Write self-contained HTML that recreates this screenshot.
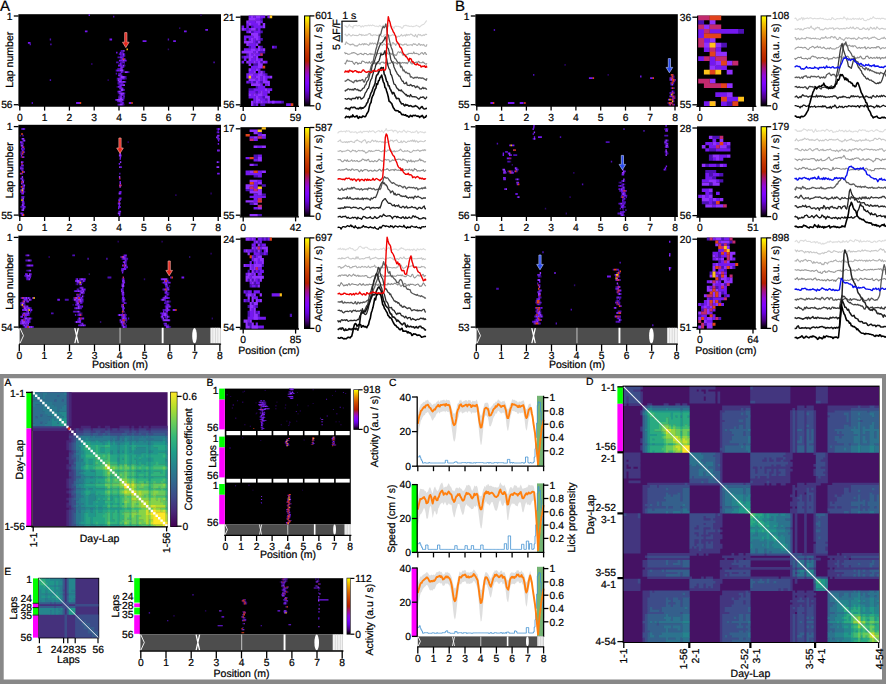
<!DOCTYPE html>
<html><head><meta charset="utf-8"><title>figure</title>
<style>html,body{margin:0;padding:0;background:#fff}svg{display:block}text{text-rendering:geometricPrecision;font-family:"Liberation Sans",sans-serif;font-size:10.5px;fill:#000;stroke:#000;stroke-width:0.22px}</style></head>
<body><svg width="886" height="684" viewBox="0 0 886 684">
<defs><linearGradient id="gp" x1="0" y1="1" x2="0" y2="0"><stop offset="0.000" stop-color="#000000"/><stop offset="0.083" stop-color="#49007f"/><stop offset="0.167" stop-color="#6801dc"/><stop offset="0.250" stop-color="#7f03ff"/><stop offset="0.333" stop-color="#9309dc"/><stop offset="0.417" stop-color="#a4127f"/><stop offset="0.500" stop-color="#b41f00"/><stop offset="0.583" stop-color="#c23200"/><stop offset="0.667" stop-color="#d04b00"/><stop offset="0.750" stop-color="#dc6b00"/><stop offset="0.833" stop-color="#e89300"/><stop offset="0.917" stop-color="#f4c400"/><stop offset="1.000" stop-color="#ffff00"/></linearGradient><linearGradient id="vi" x1="0" y1="1" x2="0" y2="0"><stop offset="0.000" stop-color="#440154"/><stop offset="0.111" stop-color="#482878"/><stop offset="0.222" stop-color="#3e4a89"/><stop offset="0.333" stop-color="#31688e"/><stop offset="0.444" stop-color="#26828e"/><stop offset="0.556" stop-color="#1f9e89"/><stop offset="0.667" stop-color="#35b779"/><stop offset="0.778" stop-color="#6dcd59"/><stop offset="0.889" stop-color="#b4de2c"/><stop offset="1.000" stop-color="#fde725"/></linearGradient><filter id="bl" x="-2%" y="-2%" width="104%" height="104%"><feGaussianBlur stdDeviation="0.45"/></filter></defs>
<rect x="18.4" y="14.2" width="202.6" height="91.8" fill="#000"/>
<path d="M13.8 16L18.6 16" stroke="#000" stroke-width="1.3"/>
<text x="12.6" y="19.5" text-anchor="end" style="font-size:10.3px">1</text>
<path d="M13.8 104.7L18.6 104.7" stroke="#000" stroke-width="1.3"/>
<text x="12.6" y="108.2" text-anchor="end" style="font-size:10.3px">56</text>
<text text-anchor="middle" transform="translate(12.8 59.8) rotate(-90)">Lap number</text>
<path d="M19 106L221.1 106" stroke="#000" stroke-width="1.3"/>
<path d="M19.8 106L19.8 110.6" stroke="#000" stroke-width="1.3"/>
<text x="19.8" y="121" text-anchor="middle" style="font-size:10.3px">0</text>
<path d="M44.6 106L44.6 110.6" stroke="#000" stroke-width="1.3"/>
<text x="44.6" y="121" text-anchor="middle" style="font-size:10.3px">1</text>
<path d="M69.4 106L69.4 110.6" stroke="#000" stroke-width="1.3"/>
<text x="69.4" y="121" text-anchor="middle" style="font-size:10.3px">2</text>
<path d="M94.2 106L94.2 110.6" stroke="#000" stroke-width="1.3"/>
<text x="94.2" y="121" text-anchor="middle" style="font-size:10.3px">3</text>
<path d="M119 106L119 110.6" stroke="#000" stroke-width="1.3"/>
<text x="119" y="121" text-anchor="middle" style="font-size:10.3px">4</text>
<path d="M143.8 106L143.8 110.6" stroke="#000" stroke-width="1.3"/>
<text x="143.8" y="121" text-anchor="middle" style="font-size:10.3px">5</text>
<path d="M168.6 106L168.6 110.6" stroke="#000" stroke-width="1.3"/>
<text x="168.6" y="121" text-anchor="middle" style="font-size:10.3px">6</text>
<path d="M193.4 106L193.4 110.6" stroke="#000" stroke-width="1.3"/>
<text x="193.4" y="121" text-anchor="middle" style="font-size:10.3px">7</text>
<path d="M218.2 106L218.2 110.6" stroke="#000" stroke-width="1.3"/>
<text x="218.2" y="121" text-anchor="middle" style="font-size:10.3px">8</text>
<rect x="240.4" y="15.6" width="58" height="90.8" fill="#000"/>
<path d="M235.8 17.2L240.6 17.2" stroke="#000" stroke-width="1.3"/>
<text x="234.6" y="20.7" text-anchor="end" style="font-size:10.3px">21</text>
<path d="M235.8 104.8L240.6 104.8" stroke="#000" stroke-width="1.3"/>
<text x="234.6" y="108.3" text-anchor="end" style="font-size:10.3px">56</text>
<path d="M239.8 106.4L299 106.4" stroke="#000" stroke-width="1.3"/>
<path d="M243.2 106.4L243.2 111" stroke="#000" stroke-width="1.3"/>
<text x="243.2" y="120.6" text-anchor="middle" style="font-size:10.3px">0</text>
<path d="M295.6 106.4L295.6 111" stroke="#000" stroke-width="1.3"/>
<text x="295.6" y="120.6" text-anchor="middle" style="font-size:10.3px">59</text>
<rect x="304" y="15.4" width="6.4" height="91" fill="#000"/>
<rect x="305.1" y="16.4" width="4.2" height="89" fill="url(#gp)"/>
<path d="M309.8 15.9L314.4 15.9" stroke="#000" stroke-width="1.3"/>
<path d="M309.8 105.8L314.4 105.8" stroke="#000" stroke-width="1.3"/>
<text x="315.2" y="19.4" style="font-size:10.3px">601</text>
<text x="315.2" y="109.6" style="font-size:10.3px">0</text>
<text text-anchor="middle" style="font-size:10.6px" transform="translate(321.8 61.2) rotate(-90)">Activity (a.u. / s)</text>
<rect x="18.4" y="124.8" width="202.6" height="91.6" fill="#000"/>
<path d="M13.8 126.6L18.6 126.6" stroke="#000" stroke-width="1.3"/>
<text x="12.6" y="130.1" text-anchor="end" style="font-size:10.3px">1</text>
<path d="M13.8 215.1L18.6 215.1" stroke="#000" stroke-width="1.3"/>
<text x="12.6" y="218.6" text-anchor="end" style="font-size:10.3px">55</text>
<text text-anchor="middle" transform="translate(12.8 170.3) rotate(-90)">Lap number</text>
<path d="M19 216.4L221.1 216.4" stroke="#000" stroke-width="1.3"/>
<path d="M19.8 216.4L19.8 221" stroke="#000" stroke-width="1.3"/>
<text x="19.8" y="231.4" text-anchor="middle" style="font-size:10.3px">0</text>
<path d="M44.6 216.4L44.6 221" stroke="#000" stroke-width="1.3"/>
<text x="44.6" y="231.4" text-anchor="middle" style="font-size:10.3px">1</text>
<path d="M69.4 216.4L69.4 221" stroke="#000" stroke-width="1.3"/>
<text x="69.4" y="231.4" text-anchor="middle" style="font-size:10.3px">2</text>
<path d="M94.2 216.4L94.2 221" stroke="#000" stroke-width="1.3"/>
<text x="94.2" y="231.4" text-anchor="middle" style="font-size:10.3px">3</text>
<path d="M119 216.4L119 221" stroke="#000" stroke-width="1.3"/>
<text x="119" y="231.4" text-anchor="middle" style="font-size:10.3px">4</text>
<path d="M143.8 216.4L143.8 221" stroke="#000" stroke-width="1.3"/>
<text x="143.8" y="231.4" text-anchor="middle" style="font-size:10.3px">5</text>
<path d="M168.6 216.4L168.6 221" stroke="#000" stroke-width="1.3"/>
<text x="168.6" y="231.4" text-anchor="middle" style="font-size:10.3px">6</text>
<path d="M193.4 216.4L193.4 221" stroke="#000" stroke-width="1.3"/>
<text x="193.4" y="231.4" text-anchor="middle" style="font-size:10.3px">7</text>
<path d="M218.2 216.4L218.2 221" stroke="#000" stroke-width="1.3"/>
<text x="218.2" y="231.4" text-anchor="middle" style="font-size:10.3px">8</text>
<rect x="240.4" y="127.2" width="58" height="89.6" fill="#000"/>
<path d="M235.8 128.8L240.6 128.8" stroke="#000" stroke-width="1.3"/>
<text x="234.6" y="132.3" text-anchor="end" style="font-size:10.3px">17</text>
<path d="M235.8 215.2L240.6 215.2" stroke="#000" stroke-width="1.3"/>
<text x="234.6" y="218.7" text-anchor="end" style="font-size:10.3px">55</text>
<path d="M239.8 216.8L299 216.8" stroke="#000" stroke-width="1.3"/>
<path d="M243.2 216.8L243.2 221.4" stroke="#000" stroke-width="1.3"/>
<text x="243.2" y="231" text-anchor="middle" style="font-size:10.3px">0</text>
<path d="M295.6 216.8L295.6 221.4" stroke="#000" stroke-width="1.3"/>
<text x="295.6" y="231" text-anchor="middle" style="font-size:10.3px">42</text>
<rect x="304" y="127" width="6.4" height="89.8" fill="#000"/>
<rect x="305.1" y="128" width="4.2" height="87.8" fill="url(#gp)"/>
<path d="M309.8 127.5L314.4 127.5" stroke="#000" stroke-width="1.3"/>
<path d="M309.8 216.2L314.4 216.2" stroke="#000" stroke-width="1.3"/>
<text x="315.2" y="131" style="font-size:10.3px">587</text>
<text x="315.2" y="220" style="font-size:10.3px">0</text>
<text text-anchor="middle" style="font-size:10.6px" transform="translate(321.8 172.2) rotate(-90)">Activity (a.u. / s)</text>
<rect x="18.4" y="235.6" width="202.6" height="92.8" fill="#000"/>
<path d="M13.8 237.4L18.6 237.4" stroke="#000" stroke-width="1.3"/>
<text x="12.6" y="240.9" text-anchor="end" style="font-size:10.3px">1</text>
<path d="M13.8 327.1L18.6 327.1" stroke="#000" stroke-width="1.3"/>
<text x="12.6" y="330.6" text-anchor="end" style="font-size:10.3px">54</text>
<text text-anchor="middle" transform="translate(12.8 281.7) rotate(-90)">Lap number</text>
<rect x="19.6" y="327.8" width="200.8" height="15.8" fill="#4d4d4d"/>
<path d="M20 328.1l3.5 7.6l-3.5 7.6" stroke="#fff" stroke-width="0.9" fill="none"/>
<path d="M74.8 328.1l3.5 15.2M78.3 328.1l-3.5 15.2" stroke="#fff" stroke-width="1.3" fill="none"/>
<rect x="119.5" y="327.8" width="1.1" height="15.8" fill="#b8b8b8"/>
<rect x="161.7" y="327.8" width="1.9" height="15.8" fill="#fff"/>
<ellipse cx="194.5" cy="335.7" rx="2.3" ry="7.7" fill="#fff"/>
<rect x="210.4" y="327.8" width="10" height="15.8" fill="#f2f2f2"/>
<rect x="212.5" y="327.8" width="0.7" height="15.8" fill="#cfcfcf"/>
<rect x="215" y="327.8" width="0.7" height="15.8" fill="#cfcfcf"/>
<rect x="217.5" y="327.8" width="0.7" height="15.8" fill="#cfcfcf"/>
<path d="M19 344.2L221.1 344.2" stroke="#000" stroke-width="1.3"/>
<path d="M19.3 344.2L19.3 351.2" stroke="#000" stroke-width="1.3"/>
<text x="19.3" y="359.2" text-anchor="middle" style="font-size:10.3px">0</text>
<path d="M44.4 344.2L44.4 351.2" stroke="#000" stroke-width="1.3"/>
<text x="44.4" y="359.2" text-anchor="middle" style="font-size:10.3px">1</text>
<path d="M69.5 344.2L69.5 351.2" stroke="#000" stroke-width="1.3"/>
<text x="69.5" y="359.2" text-anchor="middle" style="font-size:10.3px">2</text>
<path d="M94.5 344.2L94.5 351.2" stroke="#000" stroke-width="1.3"/>
<text x="94.5" y="359.2" text-anchor="middle" style="font-size:10.3px">3</text>
<path d="M119.6 344.2L119.6 351.2" stroke="#000" stroke-width="1.3"/>
<text x="119.6" y="359.2" text-anchor="middle" style="font-size:10.3px">4</text>
<path d="M144.7 344.2L144.7 351.2" stroke="#000" stroke-width="1.3"/>
<text x="144.7" y="359.2" text-anchor="middle" style="font-size:10.3px">5</text>
<path d="M169.8 344.2L169.8 351.2" stroke="#000" stroke-width="1.3"/>
<text x="169.8" y="359.2" text-anchor="middle" style="font-size:10.3px">6</text>
<path d="M194.8 344.2L194.8 351.2" stroke="#000" stroke-width="1.3"/>
<text x="194.8" y="359.2" text-anchor="middle" style="font-size:10.3px">7</text>
<path d="M219.9 344.2L219.9 351.2" stroke="#000" stroke-width="1.3"/>
<text x="219.9" y="359.2" text-anchor="middle" style="font-size:10.3px">8</text>
<text x="120" y="367.8" text-anchor="middle">Position (m)</text>
<rect x="240.4" y="237.6" width="58" height="91.4" fill="#000"/>
<path d="M235.8 239.2L240.6 239.2" stroke="#000" stroke-width="1.3"/>
<text x="234.6" y="242.7" text-anchor="end" style="font-size:10.3px">24</text>
<path d="M235.8 327.4L240.6 327.4" stroke="#000" stroke-width="1.3"/>
<text x="234.6" y="330.9" text-anchor="end" style="font-size:10.3px">54</text>
<path d="M239.8 329L299 329" stroke="#000" stroke-width="1.3"/>
<path d="M243.2 329L243.2 333.6" stroke="#000" stroke-width="1.3"/>
<text x="243.2" y="343.2" text-anchor="middle" style="font-size:10.3px">0</text>
<path d="M295.6 329L295.6 333.6" stroke="#000" stroke-width="1.3"/>
<text x="295.6" y="343.2" text-anchor="middle" style="font-size:10.3px">85</text>
<text x="268.9" y="354" text-anchor="middle">Position (cm)</text>
<rect x="304" y="237.4" width="6.4" height="91.6" fill="#000"/>
<rect x="305.1" y="238.4" width="4.2" height="89.6" fill="url(#gp)"/>
<path d="M309.8 237.9L314.4 237.9" stroke="#000" stroke-width="1.3"/>
<path d="M309.8 328.4L314.4 328.4" stroke="#000" stroke-width="1.3"/>
<text x="315.2" y="241.4" style="font-size:10.3px">697</text>
<text x="315.2" y="332.2" style="font-size:10.3px">0</text>
<text text-anchor="middle" style="font-size:10.6px" transform="translate(321.8 283.5) rotate(-90)">Activity (a.u. / s)</text>
<rect x="475.4" y="14.2" width="202.4" height="91.8" fill="#000"/>
<path d="M470.8 16L475.6 16" stroke="#000" stroke-width="1.3"/>
<text x="469.6" y="19.5" text-anchor="end" style="font-size:10.3px">1</text>
<path d="M470.8 104.7L475.6 104.7" stroke="#000" stroke-width="1.3"/>
<text x="469.6" y="108.2" text-anchor="end" style="font-size:10.3px">55</text>
<text text-anchor="middle" transform="translate(469.8 59.8) rotate(-90)">Lap number</text>
<path d="M476 106L677.9 106" stroke="#000" stroke-width="1.3"/>
<path d="M476.8 106L476.8 110.6" stroke="#000" stroke-width="1.3"/>
<text x="476.8" y="121" text-anchor="middle" style="font-size:10.3px">0</text>
<path d="M501.6 106L501.6 110.6" stroke="#000" stroke-width="1.3"/>
<text x="501.6" y="121" text-anchor="middle" style="font-size:10.3px">1</text>
<path d="M526.4 106L526.4 110.6" stroke="#000" stroke-width="1.3"/>
<text x="526.4" y="121" text-anchor="middle" style="font-size:10.3px">2</text>
<path d="M551.1 106L551.1 110.6" stroke="#000" stroke-width="1.3"/>
<text x="551.1" y="121" text-anchor="middle" style="font-size:10.3px">3</text>
<path d="M575.9 106L575.9 110.6" stroke="#000" stroke-width="1.3"/>
<text x="575.9" y="121" text-anchor="middle" style="font-size:10.3px">4</text>
<path d="M600.7 106L600.7 110.6" stroke="#000" stroke-width="1.3"/>
<text x="600.7" y="121" text-anchor="middle" style="font-size:10.3px">5</text>
<path d="M625.5 106L625.5 110.6" stroke="#000" stroke-width="1.3"/>
<text x="625.5" y="121" text-anchor="middle" style="font-size:10.3px">6</text>
<path d="M650.2 106L650.2 110.6" stroke="#000" stroke-width="1.3"/>
<text x="650.2" y="121" text-anchor="middle" style="font-size:10.3px">7</text>
<path d="M675 106L675 110.6" stroke="#000" stroke-width="1.3"/>
<text x="675" y="121" text-anchor="middle" style="font-size:10.3px">8</text>
<rect x="697" y="15.6" width="58.8" height="90.8" fill="#000"/>
<path d="M692.4 17.2L697.2 17.2" stroke="#000" stroke-width="1.3"/>
<text x="691.2" y="20.7" text-anchor="end" style="font-size:10.3px">36</text>
<path d="M692.4 104.8L697.2 104.8" stroke="#000" stroke-width="1.3"/>
<text x="691.2" y="108.3" text-anchor="end" style="font-size:10.3px">55</text>
<path d="M696.4 106.4L756.4 106.4" stroke="#000" stroke-width="1.3"/>
<path d="M699.8 106.4L699.8 111" stroke="#000" stroke-width="1.3"/>
<text x="699.8" y="120.6" text-anchor="middle" style="font-size:10.3px">0</text>
<path d="M753 106.4L753 111" stroke="#000" stroke-width="1.3"/>
<text x="753" y="120.6" text-anchor="middle" style="font-size:10.3px">38</text>
<rect x="760.6" y="15.4" width="6.6" height="91" fill="#000"/>
<rect x="761.7" y="16.4" width="4.4" height="89" fill="url(#gp)"/>
<path d="M766.6 15.9L771.2 15.9" stroke="#000" stroke-width="1.3"/>
<path d="M766.6 105.8L771.2 105.8" stroke="#000" stroke-width="1.3"/>
<text x="772" y="19.4" style="font-size:10.3px">108</text>
<text x="772" y="109.6" style="font-size:10.3px">0</text>
<text text-anchor="middle" style="font-size:10.6px" transform="translate(778.6 61.2) rotate(-90)">Activity (a.u. / s)</text>
<rect x="475.4" y="125" width="202.4" height="91.4" fill="#000"/>
<path d="M470.8 126.8L475.6 126.8" stroke="#000" stroke-width="1.3"/>
<text x="469.6" y="130.3" text-anchor="end" style="font-size:10.3px">1</text>
<path d="M470.8 215.1L475.6 215.1" stroke="#000" stroke-width="1.3"/>
<text x="469.6" y="218.6" text-anchor="end" style="font-size:10.3px">56</text>
<text text-anchor="middle" transform="translate(469.8 170.4) rotate(-90)">Lap number</text>
<path d="M476 216.4L677.9 216.4" stroke="#000" stroke-width="1.3"/>
<path d="M476.8 216.4L476.8 221" stroke="#000" stroke-width="1.3"/>
<text x="476.8" y="231.4" text-anchor="middle" style="font-size:10.3px">0</text>
<path d="M501.6 216.4L501.6 221" stroke="#000" stroke-width="1.3"/>
<text x="501.6" y="231.4" text-anchor="middle" style="font-size:10.3px">1</text>
<path d="M526.4 216.4L526.4 221" stroke="#000" stroke-width="1.3"/>
<text x="526.4" y="231.4" text-anchor="middle" style="font-size:10.3px">2</text>
<path d="M551.1 216.4L551.1 221" stroke="#000" stroke-width="1.3"/>
<text x="551.1" y="231.4" text-anchor="middle" style="font-size:10.3px">3</text>
<path d="M575.9 216.4L575.9 221" stroke="#000" stroke-width="1.3"/>
<text x="575.9" y="231.4" text-anchor="middle" style="font-size:10.3px">4</text>
<path d="M600.7 216.4L600.7 221" stroke="#000" stroke-width="1.3"/>
<text x="600.7" y="231.4" text-anchor="middle" style="font-size:10.3px">5</text>
<path d="M625.5 216.4L625.5 221" stroke="#000" stroke-width="1.3"/>
<text x="625.5" y="231.4" text-anchor="middle" style="font-size:10.3px">6</text>
<path d="M650.2 216.4L650.2 221" stroke="#000" stroke-width="1.3"/>
<text x="650.2" y="231.4" text-anchor="middle" style="font-size:10.3px">7</text>
<path d="M675 216.4L675 221" stroke="#000" stroke-width="1.3"/>
<text x="675" y="231.4" text-anchor="middle" style="font-size:10.3px">8</text>
<rect x="697" y="126.4" width="58.8" height="90.8" fill="#000"/>
<path d="M692.4 128L697.2 128" stroke="#000" stroke-width="1.3"/>
<text x="691.2" y="131.5" text-anchor="end" style="font-size:10.3px">28</text>
<path d="M692.4 215.6L697.2 215.6" stroke="#000" stroke-width="1.3"/>
<text x="691.2" y="219.1" text-anchor="end" style="font-size:10.3px">56</text>
<path d="M696.4 217.2L756.4 217.2" stroke="#000" stroke-width="1.3"/>
<path d="M699.8 217.2L699.8 221.8" stroke="#000" stroke-width="1.3"/>
<text x="699.8" y="231.4" text-anchor="middle" style="font-size:10.3px">0</text>
<path d="M753 217.2L753 221.8" stroke="#000" stroke-width="1.3"/>
<text x="753" y="231.4" text-anchor="middle" style="font-size:10.3px">51</text>
<rect x="760.6" y="126.2" width="6.6" height="91" fill="#000"/>
<rect x="761.7" y="127.2" width="4.4" height="89" fill="url(#gp)"/>
<path d="M766.6 126.7L771.2 126.7" stroke="#000" stroke-width="1.3"/>
<path d="M766.6 216.6L771.2 216.6" stroke="#000" stroke-width="1.3"/>
<text x="772" y="130.2" style="font-size:10.3px">179</text>
<text x="772" y="220.4" style="font-size:10.3px">0</text>
<text text-anchor="middle" style="font-size:10.6px" transform="translate(778.6 172) rotate(-90)">Activity (a.u. / s)</text>
<rect x="475.4" y="235.6" width="202.4" height="92.8" fill="#000"/>
<path d="M470.8 237.4L475.6 237.4" stroke="#000" stroke-width="1.3"/>
<text x="469.6" y="240.9" text-anchor="end" style="font-size:10.3px">1</text>
<path d="M470.8 327.1L475.6 327.1" stroke="#000" stroke-width="1.3"/>
<text x="469.6" y="330.6" text-anchor="end" style="font-size:10.3px">53</text>
<text text-anchor="middle" transform="translate(469.8 281.7) rotate(-90)">Lap number</text>
<rect x="476.6" y="327.8" width="200.6" height="15.8" fill="#4d4d4d"/>
<path d="M477 328.1l3.5 7.6l-3.5 7.6" stroke="#fff" stroke-width="0.9" fill="none"/>
<path d="M531.8 328.1l3.5 15.2M535.3 328.1l-3.5 15.2" stroke="#fff" stroke-width="1.3" fill="none"/>
<rect x="576.4" y="327.8" width="1.1" height="15.8" fill="#b8b8b8"/>
<rect x="618.5" y="327.8" width="1.9" height="15.8" fill="#fff"/>
<ellipse cx="651.4" cy="335.7" rx="2.3" ry="7.7" fill="#fff"/>
<rect x="667.2" y="327.8" width="10" height="15.8" fill="#f2f2f2"/>
<rect x="669.3" y="327.8" width="0.7" height="15.8" fill="#cfcfcf"/>
<rect x="671.8" y="327.8" width="0.7" height="15.8" fill="#cfcfcf"/>
<rect x="674.3" y="327.8" width="0.7" height="15.8" fill="#cfcfcf"/>
<path d="M476 344.2L677.9 344.2" stroke="#000" stroke-width="1.3"/>
<path d="M476.3 344.2L476.3 351.2" stroke="#000" stroke-width="1.3"/>
<text x="476.3" y="359.2" text-anchor="middle" style="font-size:10.3px">0</text>
<path d="M501.4 344.2L501.4 351.2" stroke="#000" stroke-width="1.3"/>
<text x="501.4" y="359.2" text-anchor="middle" style="font-size:10.3px">1</text>
<path d="M526.4 344.2L526.4 351.2" stroke="#000" stroke-width="1.3"/>
<text x="526.4" y="359.2" text-anchor="middle" style="font-size:10.3px">2</text>
<path d="M551.5 344.2L551.5 351.2" stroke="#000" stroke-width="1.3"/>
<text x="551.5" y="359.2" text-anchor="middle" style="font-size:10.3px">3</text>
<path d="M576.5 344.2L576.5 351.2" stroke="#000" stroke-width="1.3"/>
<text x="576.5" y="359.2" text-anchor="middle" style="font-size:10.3px">4</text>
<path d="M601.6 344.2L601.6 351.2" stroke="#000" stroke-width="1.3"/>
<text x="601.6" y="359.2" text-anchor="middle" style="font-size:10.3px">5</text>
<path d="M626.6 344.2L626.6 351.2" stroke="#000" stroke-width="1.3"/>
<text x="626.6" y="359.2" text-anchor="middle" style="font-size:10.3px">6</text>
<path d="M651.7 344.2L651.7 351.2" stroke="#000" stroke-width="1.3"/>
<text x="651.7" y="359.2" text-anchor="middle" style="font-size:10.3px">7</text>
<path d="M676.7 344.2L676.7 351.2" stroke="#000" stroke-width="1.3"/>
<text x="676.7" y="359.2" text-anchor="middle" style="font-size:10.3px">8</text>
<text x="576.9" y="367.8" text-anchor="middle">Position (m)</text>
<rect x="697" y="237.6" width="58.8" height="91.4" fill="#000"/>
<path d="M692.4 239.2L697.2 239.2" stroke="#000" stroke-width="1.3"/>
<text x="691.2" y="242.7" text-anchor="end" style="font-size:10.3px">20</text>
<path d="M692.4 327.4L697.2 327.4" stroke="#000" stroke-width="1.3"/>
<text x="691.2" y="330.9" text-anchor="end" style="font-size:10.3px">51</text>
<path d="M696.4 329L756.4 329" stroke="#000" stroke-width="1.3"/>
<path d="M699.8 329L699.8 333.6" stroke="#000" stroke-width="1.3"/>
<text x="699.8" y="343.2" text-anchor="middle" style="font-size:10.3px">0</text>
<path d="M753 329L753 333.6" stroke="#000" stroke-width="1.3"/>
<text x="753" y="343.2" text-anchor="middle" style="font-size:10.3px">64</text>
<text x="725.9" y="354" text-anchor="middle">Position (cm)</text>
<rect x="760.6" y="237.4" width="6.6" height="91.6" fill="#000"/>
<rect x="761.7" y="238.4" width="4.4" height="89.6" fill="url(#gp)"/>
<path d="M766.6 237.9L771.2 237.9" stroke="#000" stroke-width="1.3"/>
<path d="M766.6 328.4L771.2 328.4" stroke="#000" stroke-width="1.3"/>
<text x="772" y="241.4" style="font-size:10.3px">898</text>
<text x="772" y="332.2" style="font-size:10.3px">0</text>
<text text-anchor="middle" style="font-size:10.6px" transform="translate(778.6 283.5) rotate(-90)">Activity (a.u. / s)</text>
<text x="0.1" y="10.5" style="font-size:15px">A</text>
<text x="455" y="10.5" style="font-size:15px">B</text>
<path d="M341.4 21.2L357.4 21.2" stroke="#000" stroke-width="1.2"/>
<path d="M342 21.2L342 42.6" stroke="#000" stroke-width="1.2"/>
<text x="342.2" y="18.6">1 s</text>
<text text-anchor="middle" transform="translate(339.6 34.5) rotate(-90)">5 ΔF/F</text>
<g filter="url(#bl)">
<path d="M118.5 63.1h1.4v1.8h-1.4zM123.6 63.1h1.4v1.8h-1.4zM124.3 64.7h1.4v1.8h-1.4zM123.2 69.6h1.4v1.8h-1.4zM128.4 71.2h1.4v1.8h-1.4zM120.7 72.8h1.4v1.8h-1.4zM121.7 74.5h1.4v1.8h-1.4zM119.2 76.1h1.4v1.8h-1.4zM125.5 76.1h1.4v1.8h-1.4zM125.6 77.7h1.4v1.8h-1.4zM116.7 79.3h1.4v1.8h-1.4zM117.3 81h1.4v1.8h-1.4zM122.5 82.6h1.4v1.8h-1.4zM116.5 85.9h1.4v1.8h-1.4zM122.8 87.5h1.4v1.8h-1.4zM119.6 89.1h1.4v1.8h-1.4zM121.2 90.7h1.4v1.8h-1.4zM117.6 92.4h1.4v1.8h-1.4zM122.6 98.9h1.4v1.8h-1.4zM122.1 100.5h1.4v1.8h-1.4zM117.1 103.8h1.4v1.8h-1.4zM123.4 103.8h1.4v1.8h-1.4zM117.9 98.9h1.4v1.8h-1.4zM179 27.2h1.4v1.8h-1.4zM91.1 63.1h1.4v1.8h-1.4zM107.5 79.3h1.4v1.8h-1.4zM167.7 48.4h1.4v1.8h-1.4zM200.3 14.2h1.4v1.8h-1.4z" fill="#2a0766"/>
<path d="M120.7 50h1.4v1.8h-1.4zM121.9 50h1.4v1.8h-1.4zM121.1 51.7h1.4v1.8h-1.4zM122.3 51.7h1.4v1.8h-1.4zM118.8 53.3h1.4v1.8h-1.4zM121.3 53.3h1.4v1.8h-1.4zM123.8 53.3h1.4v1.8h-1.4zM120.1 54.9h1.4v1.8h-1.4zM121.4 54.9h1.4v1.8h-1.4zM123.9 54.9h1.4v1.8h-1.4zM117.5 56.5h1.4v1.8h-1.4zM118.8 56.5h1.4v1.8h-1.4zM122.5 56.5h1.4v1.8h-1.4zM120.4 58.2h1.4v1.8h-1.4zM116.1 61.4h1.4v1.8h-1.4zM117.3 61.4h1.4v1.8h-1.4zM119.9 61.4h1.4v1.8h-1.4zM121.1 61.4h1.4v1.8h-1.4zM123.6 61.4h1.4v1.8h-1.4zM121.1 63.1h1.4v1.8h-1.4zM121.8 64.7h1.4v1.8h-1.4zM122.9 66.3h1.4v1.8h-1.4zM117.4 67.9h1.4v1.8h-1.4zM118.7 67.9h1.4v1.8h-1.4zM115.7 69.6h1.4v1.8h-1.4zM122.1 71.2h1.4v1.8h-1.4zM115.7 72.8h1.4v1.8h-1.4zM118.2 72.8h1.4v1.8h-1.4zM116.8 77.7h1.4v1.8h-1.4zM124.3 77.7h1.4v1.8h-1.4zM124.8 81h1.4v1.8h-1.4zM117.5 82.6h1.4v1.8h-1.4zM118.8 82.6h1.4v1.8h-1.4zM120 82.6h1.4v1.8h-1.4zM118.6 84.2h1.4v1.8h-1.4zM119 87.5h1.4v1.8h-1.4zM123.4 89.1h1.4v1.8h-1.4zM123.9 92.4h1.4v1.8h-1.4zM119.5 94h1.4v1.8h-1.4zM123.3 94h1.4v1.8h-1.4zM118.3 95.6h1.4v1.8h-1.4zM118.1 97.3h1.4v1.8h-1.4zM121.9 97.3h1.4v1.8h-1.4zM123.2 97.3h1.4v1.8h-1.4zM115.1 98.9h1.4v1.8h-1.4zM117.1 100.5h1.4v1.8h-1.4zM120.2 102.1h1.4v1.8h-1.4zM122.7 102.1h1.4v1.8h-1.4zM119.1 98.9h1.4v1.8h-1.4zM122.9 98.9h1.4v1.8h-1.4zM119.6 100.5h1.4v1.8h-1.4zM29.6 43.5h1.4v1.8h-1.4zM49.7 38.6h1.4v1.8h-1.4zM50.2 43.5h1.4v1.8h-1.4zM113 15.8h1.4v1.8h-1.4zM167.7 38.6h1.4v1.8h-1.4zM213.4 61.4h1.4v1.8h-1.4zM49.7 79.3h1.4v1.8h-1.4zM31.6 102.1h1.4v1.8h-1.4z" fill="#4c10b4"/>
<path d="M116.1 51.7h1.4v1.8h-1.4zM119.8 51.7h1.4v1.8h-1.4zM120.1 53.3h1.4v1.8h-1.4zM122.6 54.9h1.4v1.8h-1.4zM120 56.5h1.4v1.8h-1.4zM121.3 56.5h1.4v1.8h-1.4zM121.6 58.2h1.4v1.8h-1.4zM124.1 58.2h1.4v1.8h-1.4zM118.9 59.8h1.4v1.8h-1.4zM120.2 59.8h1.4v1.8h-1.4zM121.4 59.8h1.4v1.8h-1.4zM124 59.8h1.4v1.8h-1.4zM125.2 59.8h1.4v1.8h-1.4zM122.4 61.4h1.4v1.8h-1.4zM119.8 63.1h1.4v1.8h-1.4zM118 64.7h1.4v1.8h-1.4zM119.2 64.7h1.4v1.8h-1.4zM120.5 64.7h1.4v1.8h-1.4zM121.7 66.3h1.4v1.8h-1.4zM119.9 67.9h1.4v1.8h-1.4zM117 69.6h1.4v1.8h-1.4zM118.2 69.6h1.4v1.8h-1.4zM120.8 71.2h1.4v1.8h-1.4zM127.1 71.2h1.4v1.8h-1.4zM119.5 72.8h1.4v1.8h-1.4zM118 74.5h1.4v1.8h-1.4zM120.5 74.5h1.4v1.8h-1.4zM124.2 76.1h1.4v1.8h-1.4zM118 77.7h1.4v1.8h-1.4zM120.5 77.7h1.4v1.8h-1.4zM121.8 77.7h1.4v1.8h-1.4zM123.1 77.7h1.4v1.8h-1.4zM119.2 79.3h1.4v1.8h-1.4zM120.5 79.3h1.4v1.8h-1.4zM121 81h1.4v1.8h-1.4zM121.3 82.6h1.4v1.8h-1.4zM119.9 84.2h1.4v1.8h-1.4zM121.1 84.2h1.4v1.8h-1.4zM117.8 85.9h1.4v1.8h-1.4zM119.1 85.9h1.4v1.8h-1.4zM120.3 85.9h1.4v1.8h-1.4zM121.6 87.5h1.4v1.8h-1.4zM117.5 90.7h1.4v1.8h-1.4zM120 90.7h1.4v1.8h-1.4zM118.8 92.4h1.4v1.8h-1.4zM122 94h1.4v1.8h-1.4zM119.6 95.6h1.4v1.8h-1.4zM120.8 95.6h1.4v1.8h-1.4zM123.3 95.6h1.4v1.8h-1.4zM118.3 100.5h1.4v1.8h-1.4zM119.6 100.5h1.4v1.8h-1.4zM120.8 100.5h1.4v1.8h-1.4zM121.5 102.1h1.4v1.8h-1.4zM118.3 103.8h1.4v1.8h-1.4zM122.1 103.8h1.4v1.8h-1.4zM118.4 100.5h1.4v1.8h-1.4zM27.9 41.9h1.4v1.8h-1.4zM29.1 41.9h1.4v1.8h-1.4zM84.9 30.5h1.4v1.8h-1.4zM86.1 30.5h1.4v1.8h-1.4zM88.6 14.2h1.4v1.8h-1.4zM109.5 38.6h1.4v1.8h-1.4zM110.7 38.6h1.4v1.8h-1.4zM142.6 40.3h1.4v1.8h-1.4zM143.8 40.3h1.4v1.8h-1.4zM145.1 40.3h1.4v1.8h-1.4zM173.2 40.3h1.4v1.8h-1.4zM174.5 40.3h1.4v1.8h-1.4zM184 30.5h1.4v1.8h-1.4zM185.3 30.5h1.4v1.8h-1.4zM205.3 28.9h1.4v1.8h-1.4zM206.6 28.9h1.4v1.8h-1.4zM76.1 102.1h1.4v1.8h-1.4zM77.3 102.1h1.4v1.8h-1.4zM78.6 102.1h1.4v1.8h-1.4zM128.8 102.1h1.4v1.8h-1.4zM130 102.1h1.4v1.8h-1.4z" fill="#7418f0"/>
<path d="M123.2 50h1.4v1.8h-1.4zM122.6 53.3h1.4v1.8h-1.4zM122.7 59.8h1.4v1.8h-1.4zM123 64.7h1.4v1.8h-1.4zM120.4 66.3h1.4v1.8h-1.4zM121.2 67.9h1.4v1.8h-1.4zM119.5 69.6h1.4v1.8h-1.4zM120.7 69.6h1.4v1.8h-1.4zM122 69.6h1.4v1.8h-1.4zM124.6 71.2h1.4v1.8h-1.4zM125.9 71.2h1.4v1.8h-1.4zM119.2 74.5h1.4v1.8h-1.4zM120.5 76.1h1.4v1.8h-1.4zM121.7 76.1h1.4v1.8h-1.4zM123 76.1h1.4v1.8h-1.4zM119.3 77.7h1.4v1.8h-1.4zM117.9 79.3h1.4v1.8h-1.4zM118.5 81h1.4v1.8h-1.4zM119.8 81h1.4v1.8h-1.4zM122.3 81h1.4v1.8h-1.4zM123.5 81h1.4v1.8h-1.4zM122.4 84.2h1.4v1.8h-1.4zM123.6 84.2h1.4v1.8h-1.4zM120.3 87.5h1.4v1.8h-1.4zM120.9 89.1h1.4v1.8h-1.4zM122.1 89.1h1.4v1.8h-1.4zM118.7 90.7h1.4v1.8h-1.4zM120.1 92.4h1.4v1.8h-1.4zM121.3 92.4h1.4v1.8h-1.4zM122.6 92.4h1.4v1.8h-1.4zM120.7 94h1.4v1.8h-1.4zM119.4 97.3h1.4v1.8h-1.4zM120.6 97.3h1.4v1.8h-1.4zM116.3 98.9h1.4v1.8h-1.4zM117.6 98.9h1.4v1.8h-1.4zM118.8 98.9h1.4v1.8h-1.4zM120.1 98.9h1.4v1.8h-1.4zM121.3 98.9h1.4v1.8h-1.4zM119.6 103.8h1.4v1.8h-1.4zM120.8 103.8h1.4v1.8h-1.4zM120.4 98.9h1.4v1.8h-1.4zM121.6 98.9h1.4v1.8h-1.4z" fill="#9030ff"/>
<path d="M122.9 58.2h1.4v1.8h-1.4zM79.8 102.1h1.4v1.8h-1.4zM131.3 102.1h1.4v1.8h-1.4z" fill="#e2421c"/>
<path d="M126.5 48.4h1.4v1.8h-1.4z" fill="#ffc21a"/>
</g>
<g filter="url(#bl)">
<path d="M19.8 134.7h1.4v1.8h-1.4zM22.5 141.3h1.4v1.8h-1.4zM19.9 143h1.4v1.8h-1.4zM19.9 151.3h1.4v1.8h-1.4zM23 152.9h1.4v1.8h-1.4zM20.5 156.2h1.4v1.8h-1.4zM22.4 166.2h1.4v1.8h-1.4zM22.6 169.5h1.4v1.8h-1.4zM22.5 177.7h1.4v1.8h-1.4zM19.8 186h1.4v1.8h-1.4zM24.1 191h1.4v1.8h-1.4zM23.7 195.9h1.4v1.8h-1.4zM21.3 207.5h1.4v1.8h-1.4zM216.3 128.1h1.4v1.8h-1.4zM127.5 141.3h1.4v1.8h-1.4zM175.2 194.3h1.4v1.8h-1.4zM210.4 192.6h1.4v1.8h-1.4z" fill="#2a0766"/>
<path d="M21.3 128.1h1.4v1.8h-1.4zM23.8 128.1h1.4v1.8h-1.4zM22.3 134.7h1.4v1.8h-1.4zM22.4 143h1.4v1.8h-1.4zM22.4 148h1.4v1.8h-1.4zM23.6 148h1.4v1.8h-1.4zM23 149.6h1.4v1.8h-1.4zM21.2 151.3h1.4v1.8h-1.4zM23.7 151.3h1.4v1.8h-1.4zM20.4 152.9h1.4v1.8h-1.4zM19.9 166.2h1.4v1.8h-1.4zM21.2 166.2h1.4v1.8h-1.4zM22.5 167.8h1.4v1.8h-1.4zM20 177.7h1.4v1.8h-1.4zM23 179.4h1.4v1.8h-1.4zM22.4 182.7h1.4v1.8h-1.4zM23.6 186h1.4v1.8h-1.4zM21.2 195.9h1.4v1.8h-1.4zM23.5 202.6h1.4v1.8h-1.4zM20.4 205.9h1.4v1.8h-1.4zM21.7 205.9h1.4v1.8h-1.4zM23.8 207.5h1.4v1.8h-1.4zM19.8 212.5h1.4v1.8h-1.4zM22.3 212.5h1.4v1.8h-1.4zM119.1 172.8h1.4v1.8h-1.4zM118.9 191h1.4v1.8h-1.4zM118.8 197.6h1.4v1.8h-1.4zM118 199.3h1.4v1.8h-1.4zM218.8 128.1h1.4v1.8h-1.4zM217.5 129.8h1.4v1.8h-1.4zM216.6 131.4h1.4v1.8h-1.4zM217 138h1.4v1.8h-1.4zM218 161.2h1.4v1.8h-1.4z" fill="#4c10b4"/>
<path d="M22.5 128.1h1.4v1.8h-1.4zM22.7 139.7h1.4v1.8h-1.4zM20 141.3h1.4v1.8h-1.4zM21.2 143h1.4v1.8h-1.4zM21.6 146.3h1.4v1.8h-1.4zM21.1 148h1.4v1.8h-1.4zM21.7 149.6h1.4v1.8h-1.4zM20.8 154.6h1.4v1.8h-1.4zM23 156.2h1.4v1.8h-1.4zM22.1 161.2h1.4v1.8h-1.4zM21.1 164.5h1.4v1.8h-1.4zM22.4 164.5h1.4v1.8h-1.4zM20 167.8h1.4v1.8h-1.4zM21.4 169.5h1.4v1.8h-1.4zM23.4 171.1h1.4v1.8h-1.4zM22.4 184.4h1.4v1.8h-1.4zM22.4 186h1.4v1.8h-1.4zM20.3 189.3h1.4v1.8h-1.4zM22.8 189.3h1.4v1.8h-1.4zM20.3 191h1.4v1.8h-1.4zM22.8 191h1.4v1.8h-1.4zM21.3 192.6h1.4v1.8h-1.4zM22.6 192.6h1.4v1.8h-1.4zM22.4 195.9h1.4v1.8h-1.4zM21.4 197.6h1.4v1.8h-1.4zM22.6 199.3h1.4v1.8h-1.4zM21.7 200.9h1.4v1.8h-1.4zM22.9 200.9h1.4v1.8h-1.4zM22.9 204.2h1.4v1.8h-1.4zM22.9 205.9h1.4v1.8h-1.4zM24.2 205.9h1.4v1.8h-1.4zM119.7 156.2h1.4v1.8h-1.4zM119.5 157.9h1.4v1.8h-1.4zM118.7 162.9h1.4v1.8h-1.4zM120.4 166.2h1.4v1.8h-1.4zM119.5 181.1h1.4v1.8h-1.4zM120.1 191h1.4v1.8h-1.4zM119.9 192.6h1.4v1.8h-1.4zM120.1 197.6h1.4v1.8h-1.4zM117.8 202.6h1.4v1.8h-1.4zM118.6 204.2h1.4v1.8h-1.4zM118.2 205.9h1.4v1.8h-1.4zM119.4 205.9h1.4v1.8h-1.4zM118 207.5h1.4v1.8h-1.4zM118.4 210.8h1.4v1.8h-1.4zM119.7 210.8h1.4v1.8h-1.4zM118.9 214.1h1.4v1.8h-1.4zM217.6 128.1h1.4v1.8h-1.4zM217.9 131.4h1.4v1.8h-1.4zM216.9 134.7h1.4v1.8h-1.4zM217.3 136.4h1.4v1.8h-1.4zM218.3 138h1.4v1.8h-1.4zM217.9 139.7h1.4v1.8h-1.4zM217.7 143h1.4v1.8h-1.4zM217 149.6h1.4v1.8h-1.4zM217.1 172.8h1.4v1.8h-1.4zM218.3 172.8h1.4v1.8h-1.4z" fill="#7418f0"/>
<path d="M21.6 138h1.4v1.8h-1.4zM22.9 138h1.4v1.8h-1.4zM23.9 139.7h1.4v1.8h-1.4zM21.2 141.3h1.4v1.8h-1.4zM20.7 144.7h1.4v1.8h-1.4zM21.9 144.7h1.4v1.8h-1.4zM20.9 161.2h1.4v1.8h-1.4zM21.3 167.8h1.4v1.8h-1.4zM21.2 172.8h1.4v1.8h-1.4zM21.7 176.1h1.4v1.8h-1.4zM21.2 177.7h1.4v1.8h-1.4zM21.7 179.4h1.4v1.8h-1.4zM22.6 181.1h1.4v1.8h-1.4zM21.1 182.7h1.4v1.8h-1.4zM23.7 184.4h1.4v1.8h-1.4zM21.8 187.7h1.4v1.8h-1.4zM23.1 187.7h1.4v1.8h-1.4zM22.7 197.6h1.4v1.8h-1.4zM22.3 202.6h1.4v1.8h-1.4zM21.7 204.2h1.4v1.8h-1.4zM22.6 207.5h1.4v1.8h-1.4zM21.5 209.2h1.4v1.8h-1.4zM22.7 209.2h1.4v1.8h-1.4zM21.1 212.5h1.4v1.8h-1.4zM21.6 214.1h1.4v1.8h-1.4zM119.5 152.9h1.4v1.8h-1.4zM118.9 154.6h1.4v1.8h-1.4zM120.1 154.6h1.4v1.8h-1.4zM119.9 161.2h1.4v1.8h-1.4zM119.1 166.2h1.4v1.8h-1.4zM118.9 176.1h1.4v1.8h-1.4zM119.6 182.7h1.4v1.8h-1.4zM119.4 186h1.4v1.8h-1.4zM118.6 192.6h1.4v1.8h-1.4zM119.2 199.3h1.4v1.8h-1.4zM119.1 202.6h1.4v1.8h-1.4zM117.8 212.5h1.4v1.8h-1.4zM119 212.5h1.4v1.8h-1.4zM218.1 134.7h1.4v1.8h-1.4zM216.1 136.4h1.4v1.8h-1.4zM218.3 149.6h1.4v1.8h-1.4zM216.7 161.2h1.4v1.8h-1.4zM216.5 166.2h1.4v1.8h-1.4zM217.8 166.2h1.4v1.8h-1.4z" fill="#9030ff"/>
<path d="M22.9 146.3h1.4v1.8h-1.4zM21.7 152.9h1.4v1.8h-1.4zM21.8 156.2h1.4v1.8h-1.4zM21.3 162.9h1.4v1.8h-1.4zM19.9 172.8h1.4v1.8h-1.4zM21.3 181.1h1.4v1.8h-1.4zM21.6 191h1.4v1.8h-1.4zM119.1 177.7h1.4v1.8h-1.4zM119 184.4h1.4v1.8h-1.4zM120.3 184.4h1.4v1.8h-1.4zM118.5 200.9h1.4v1.8h-1.4z" fill="#c22a6e"/>
<path d="M21.3 133.1h1.4v1.8h-1.4zM22.5 151.3h1.4v1.8h-1.4zM22.1 171.1h1.4v1.8h-1.4zM21.1 186h1.4v1.8h-1.4zM22.9 214.1h1.4v1.8h-1.4z" fill="#e2421c"/>
<path d="M21.6 189.3h1.4v1.8h-1.4zM21.3 199.3h1.4v1.8h-1.4z" fill="#ffc21a"/>
</g>
<g filter="url(#bl)">
<path d="M25 254.4h1.4v1.9h-1.4zM28.8 254.4h1.4v1.9h-1.4zM25.6 264.6h1.4v1.9h-1.4zM25.9 269.7h1.4v1.9h-1.4zM30.5 274.9h1.4v1.9h-1.4zM29.4 297.1h1.4v1.9h-1.4zM22.6 298.8h1.4v1.9h-1.4zM21.4 300.5h1.4v1.9h-1.4zM21.5 305.6h1.4v1.9h-1.4zM27.8 305.6h1.4v1.9h-1.4zM22.7 307.3h1.4v1.9h-1.4zM21.6 312.4h1.4v1.9h-1.4zM29.1 312.4h1.4v1.9h-1.4zM31 317.6h1.4v1.9h-1.4zM29.5 319.3h1.4v1.9h-1.4zM23.6 326.1h1.4v1.9h-1.4zM75.7 281.7h1.4v1.9h-1.4zM82 281.7h1.4v1.9h-1.4zM75.6 283.4h1.4v1.9h-1.4zM78.8 286.8h1.4v1.9h-1.4zM82.6 286.8h1.4v1.9h-1.4zM83.9 290.2h1.4v1.9h-1.4zM82.2 293.7h1.4v1.9h-1.4zM82.9 295.4h1.4v1.9h-1.4zM82.2 297.1h1.4v1.9h-1.4zM72.7 298.8h1.4v1.9h-1.4zM82.7 298.8h1.4v1.9h-1.4zM74.7 300.5h1.4v1.9h-1.4zM75.3 302.2h1.4v1.9h-1.4zM81.5 302.2h1.4v1.9h-1.4zM72.5 303.9h1.4v1.9h-1.4zM76.6 305.6h1.4v1.9h-1.4zM79.2 310.7h1.4v1.9h-1.4zM77.5 312.4h1.4v1.9h-1.4zM81.2 312.4h1.4v1.9h-1.4zM81.1 314.1h1.4v1.9h-1.4zM74.7 321h1.4v1.9h-1.4zM79.5 322.7h1.4v1.9h-1.4zM122.8 254.4h1.4v1.9h-1.4zM125.4 256.1h1.4v1.9h-1.4zM122.7 302.2h1.4v1.9h-1.4zM124.4 312.4h1.4v1.9h-1.4zM119.5 321h1.4v1.9h-1.4zM125.7 321h1.4v1.9h-1.4zM121.6 326.1h1.4v1.9h-1.4zM167.1 278.3h1.4v1.9h-1.4zM167.8 280h1.4v1.9h-1.4zM161.7 281.7h1.4v1.9h-1.4zM167.1 283.4h1.4v1.9h-1.4zM168.8 285.1h1.4v1.9h-1.4zM168.7 288.5h1.4v1.9h-1.4zM164.2 290.2h1.4v1.9h-1.4zM166.7 290.2h1.4v1.9h-1.4zM168.3 291.9h1.4v1.9h-1.4zM165.4 293.7h1.4v1.9h-1.4zM163.7 295.4h1.4v1.9h-1.4zM162.2 297.1h1.4v1.9h-1.4zM169.7 300.5h1.4v1.9h-1.4zM167.8 302.2h1.4v1.9h-1.4zM168 307.3h1.4v1.9h-1.4zM163 322.7h1.4v1.9h-1.4zM169.7 326.1h1.4v1.9h-1.4zM143.8 278.3h1.4v1.9h-1.4zM48.5 256.1h1.4v1.9h-1.4zM189 256.1h1.4v1.9h-1.4zM117.5 240.7h1.4v1.9h-1.4zM161.4 240.7h1.4v1.9h-1.4zM88.6 273.2h1.4v1.9h-1.4zM210.4 252.7h1.4v1.9h-1.4zM211.6 317.6h1.4v1.9h-1.4zM99.9 321h1.4v1.9h-1.4z" fill="#2a0766"/>
<path d="M25.4 259.5h1.4v1.9h-1.4zM26.6 259.5h1.4v1.9h-1.4zM30.4 259.5h1.4v1.9h-1.4zM27.2 269.7h1.4v1.9h-1.4zM24.3 274.9h1.4v1.9h-1.4zM25.7 276.6h1.4v1.9h-1.4zM28.2 276.6h1.4v1.9h-1.4zM26.2 278.3h1.4v1.9h-1.4zM20.6 297.1h1.4v1.9h-1.4zM26.9 297.1h1.4v1.9h-1.4zM20.2 302.2h1.4v1.9h-1.4zM24 302.2h1.4v1.9h-1.4zM20.4 303.9h1.4v1.9h-1.4zM22.9 303.9h1.4v1.9h-1.4zM24.2 303.9h1.4v1.9h-1.4zM30.2 307.3h1.4v1.9h-1.4zM27.1 309h1.4v1.9h-1.4zM29.6 309h1.4v1.9h-1.4zM26.2 310.7h1.4v1.9h-1.4zM30 310.7h1.4v1.9h-1.4zM28.3 314.1h1.4v1.9h-1.4zM25.5 315.8h1.4v1.9h-1.4zM23.4 317.6h1.4v1.9h-1.4zM25.7 319.3h1.4v1.9h-1.4zM29.1 321h1.4v1.9h-1.4zM22.6 324.4h1.4v1.9h-1.4zM25.1 324.4h1.4v1.9h-1.4zM27.6 324.4h1.4v1.9h-1.4zM32.4 326.1h1.4v1.9h-1.4zM75.6 278.3h1.4v1.9h-1.4zM80.1 280h1.4v1.9h-1.4zM83.9 280h1.4v1.9h-1.4zM80.8 281.7h1.4v1.9h-1.4zM76.9 283.4h1.4v1.9h-1.4zM76.7 288.5h1.4v1.9h-1.4zM78 288.5h1.4v1.9h-1.4zM80.5 288.5h1.4v1.9h-1.4zM73.9 290.2h1.4v1.9h-1.4zM79.7 291.9h1.4v1.9h-1.4zM83.4 291.9h1.4v1.9h-1.4zM76 293.7h1.4v1.9h-1.4zM78.5 293.7h1.4v1.9h-1.4zM76.7 295.4h1.4v1.9h-1.4zM79.2 295.4h1.4v1.9h-1.4zM73.4 297.1h1.4v1.9h-1.4zM79.6 297.1h1.4v1.9h-1.4zM82.2 300.5h1.4v1.9h-1.4zM75 303.9h1.4v1.9h-1.4zM78.7 303.9h1.4v1.9h-1.4zM80.4 305.6h1.4v1.9h-1.4zM74.2 307.3h1.4v1.9h-1.4zM80.5 307.3h1.4v1.9h-1.4zM72.9 310.7h1.4v1.9h-1.4zM75.5 310.7h1.4v1.9h-1.4zM78.7 312.4h1.4v1.9h-1.4zM80 312.4h1.4v1.9h-1.4zM74.9 314.1h1.4v1.9h-1.4zM77.4 314.1h1.4v1.9h-1.4zM77.8 317.6h1.4v1.9h-1.4zM77.3 319.3h1.4v1.9h-1.4zM80.8 322.7h1.4v1.9h-1.4zM78 324.4h1.4v1.9h-1.4zM120.4 256.1h1.4v1.9h-1.4zM121.6 257.8h1.4v1.9h-1.4zM125.4 257.8h1.4v1.9h-1.4zM126.7 257.8h1.4v1.9h-1.4zM125.9 259.5h1.4v1.9h-1.4zM125.3 261.2h1.4v1.9h-1.4zM125.3 262.9h1.4v1.9h-1.4zM125.8 264.6h1.4v1.9h-1.4zM125.2 266.3h1.4v1.9h-1.4zM121.1 268h1.4v1.9h-1.4zM122.7 269.7h1.4v1.9h-1.4zM121.8 278.3h1.4v1.9h-1.4zM122.2 288.5h1.4v1.9h-1.4zM121.6 298.8h1.4v1.9h-1.4zM124.1 298.8h1.4v1.9h-1.4zM121.8 300.5h1.4v1.9h-1.4zM125.2 302.2h1.4v1.9h-1.4zM121.9 312.4h1.4v1.9h-1.4zM117.8 314.1h1.4v1.9h-1.4zM125.3 314.1h1.4v1.9h-1.4zM121.2 315.8h1.4v1.9h-1.4zM124.9 315.8h1.4v1.9h-1.4zM127.9 317.6h1.4v1.9h-1.4zM120.9 319.3h1.4v1.9h-1.4zM124.6 319.3h1.4v1.9h-1.4zM125.9 319.3h1.4v1.9h-1.4zM120.7 322.7h1.4v1.9h-1.4zM124.5 322.7h1.4v1.9h-1.4zM125.4 324.4h1.4v1.9h-1.4zM125.4 326.1h1.4v1.9h-1.4zM166.7 281.7h1.4v1.9h-1.4zM165 285.1h1.4v1.9h-1.4zM165.4 286.8h1.4v1.9h-1.4zM167.9 286.8h1.4v1.9h-1.4zM162.5 288.5h1.4v1.9h-1.4zM167.1 291.9h1.4v1.9h-1.4zM167.9 293.7h1.4v1.9h-1.4zM166.2 295.4h1.4v1.9h-1.4zM168.4 297.1h1.4v1.9h-1.4zM160.7 298.8h1.4v1.9h-1.4zM164.5 298.8h1.4v1.9h-1.4zM164.7 300.5h1.4v1.9h-1.4zM165.9 300.5h1.4v1.9h-1.4zM168.4 300.5h1.4v1.9h-1.4zM164 302.2h1.4v1.9h-1.4zM165.3 302.2h1.4v1.9h-1.4zM166.5 302.2h1.4v1.9h-1.4zM165.6 303.9h1.4v1.9h-1.4zM164.7 305.6h1.4v1.9h-1.4zM169.7 305.6h1.4v1.9h-1.4zM162.6 309h1.4v1.9h-1.4zM163.8 309h1.4v1.9h-1.4zM168.9 309h1.4v1.9h-1.4zM160.1 312.4h1.4v1.9h-1.4zM166.3 312.4h1.4v1.9h-1.4zM166.5 314.1h1.4v1.9h-1.4zM165.7 315.8h1.4v1.9h-1.4zM168.2 315.8h1.4v1.9h-1.4zM161.5 317.6h1.4v1.9h-1.4zM165.3 317.6h1.4v1.9h-1.4zM166.5 317.6h1.4v1.9h-1.4zM164 324.4h1.4v1.9h-1.4zM166.5 324.4h1.4v1.9h-1.4zM167.8 324.4h1.4v1.9h-1.4zM168.4 326.1h1.4v1.9h-1.4zM64.8 298.8h1.4v1.9h-1.4zM66 298.8h1.4v1.9h-1.4zM67.3 298.8h1.4v1.9h-1.4zM51 312.4h1.4v1.9h-1.4zM52.2 312.4h1.4v1.9h-1.4zM107.5 276.6h1.4v1.9h-1.4zM108.7 276.6h1.4v1.9h-1.4zM110 276.6h1.4v1.9h-1.4zM87.4 257.8h1.4v1.9h-1.4zM106.2 257.8h1.4v1.9h-1.4zM72.3 254.4h1.4v1.9h-1.4zM73.6 254.4h1.4v1.9h-1.4z" fill="#4c10b4"/>
<path d="M26.3 254.4h1.4v1.9h-1.4zM26.8 264.6h1.4v1.9h-1.4zM30.6 264.6h1.4v1.9h-1.4zM31.9 264.6h1.4v1.9h-1.4zM28.5 269.7h1.4v1.9h-1.4zM25.1 273.2h1.4v1.9h-1.4zM26.4 273.2h1.4v1.9h-1.4zM30.2 273.2h1.4v1.9h-1.4zM25.5 274.9h1.4v1.9h-1.4zM27 276.6h1.4v1.9h-1.4zM29.5 276.6h1.4v1.9h-1.4zM27.4 278.3h1.4v1.9h-1.4zM24.4 297.1h1.4v1.9h-1.4zM23.8 298.8h1.4v1.9h-1.4zM25.1 298.8h1.4v1.9h-1.4zM26.3 298.8h1.4v1.9h-1.4zM30.1 298.8h1.4v1.9h-1.4zM27.7 300.5h1.4v1.9h-1.4zM25.3 305.6h1.4v1.9h-1.4zM26.5 307.3h1.4v1.9h-1.4zM29 307.3h1.4v1.9h-1.4zM22.1 309h1.4v1.9h-1.4zM23.4 309h1.4v1.9h-1.4zM30.9 309h1.4v1.9h-1.4zM22.9 312.4h1.4v1.9h-1.4zM25.4 312.4h1.4v1.9h-1.4zM26.6 312.4h1.4v1.9h-1.4zM22.1 314.1h1.4v1.9h-1.4zM24.6 314.1h1.4v1.9h-1.4zM25.8 314.1h1.4v1.9h-1.4zM27.1 314.1h1.4v1.9h-1.4zM20.4 315.8h1.4v1.9h-1.4zM21.7 315.8h1.4v1.9h-1.4zM24.2 315.8h1.4v1.9h-1.4zM27.2 317.6h1.4v1.9h-1.4zM29.7 317.6h1.4v1.9h-1.4zM20.7 319.3h1.4v1.9h-1.4zM24.5 319.3h1.4v1.9h-1.4zM27 319.3h1.4v1.9h-1.4zM20.3 321h1.4v1.9h-1.4zM25.4 321h1.4v1.9h-1.4zM26.6 321h1.4v1.9h-1.4zM27.9 321h1.4v1.9h-1.4zM20.1 322.7h1.4v1.9h-1.4zM23.8 322.7h1.4v1.9h-1.4zM26.3 322.7h1.4v1.9h-1.4zM24.8 326.1h1.4v1.9h-1.4zM26.1 326.1h1.4v1.9h-1.4zM29.9 326.1h1.4v1.9h-1.4zM76.8 278.3h1.4v1.9h-1.4zM79.3 278.3h1.4v1.9h-1.4zM83.1 278.3h1.4v1.9h-1.4zM84.3 278.3h1.4v1.9h-1.4zM75.1 280h1.4v1.9h-1.4zM78.8 280h1.4v1.9h-1.4zM82.6 280h1.4v1.9h-1.4zM77 281.7h1.4v1.9h-1.4zM78.3 281.7h1.4v1.9h-1.4zM80.6 283.4h1.4v1.9h-1.4zM80.1 286.8h1.4v1.9h-1.4zM83 288.5h1.4v1.9h-1.4zM84.2 288.5h1.4v1.9h-1.4zM75.1 290.2h1.4v1.9h-1.4zM76.4 290.2h1.4v1.9h-1.4zM78.9 290.2h1.4v1.9h-1.4zM81.4 290.2h1.4v1.9h-1.4zM79.7 293.7h1.4v1.9h-1.4zM77.9 295.4h1.4v1.9h-1.4zM77.1 297.1h1.4v1.9h-1.4zM80.9 297.1h1.4v1.9h-1.4zM76.5 298.8h1.4v1.9h-1.4zM81.5 298.8h1.4v1.9h-1.4zM75.9 300.5h1.4v1.9h-1.4zM77.2 300.5h1.4v1.9h-1.4zM81 300.5h1.4v1.9h-1.4zM80.3 302.2h1.4v1.9h-1.4zM76.2 303.9h1.4v1.9h-1.4zM77.5 303.9h1.4v1.9h-1.4zM79.2 305.6h1.4v1.9h-1.4zM81.7 305.6h1.4v1.9h-1.4zM76.7 307.3h1.4v1.9h-1.4zM79.2 307.3h1.4v1.9h-1.4zM74.2 310.7h1.4v1.9h-1.4zM76.7 310.7h1.4v1.9h-1.4zM78.6 314.1h1.4v1.9h-1.4zM81.5 317.6h1.4v1.9h-1.4zM82.8 317.6h1.4v1.9h-1.4zM78.5 319.3h1.4v1.9h-1.4zM79.8 319.3h1.4v1.9h-1.4zM77.2 321h1.4v1.9h-1.4zM79.7 321h1.4v1.9h-1.4zM82 322.7h1.4v1.9h-1.4zM79.3 324.4h1.4v1.9h-1.4zM81.8 324.4h1.4v1.9h-1.4zM84.3 324.4h1.4v1.9h-1.4zM124.1 254.4h1.4v1.9h-1.4zM125.4 254.4h1.4v1.9h-1.4zM124.2 256.1h1.4v1.9h-1.4zM122.9 257.8h1.4v1.9h-1.4zM124.6 259.5h1.4v1.9h-1.4zM122.8 261.2h1.4v1.9h-1.4zM124 262.9h1.4v1.9h-1.4zM122 264.6h1.4v1.9h-1.4zM123.9 266.3h1.4v1.9h-1.4zM126.4 266.3h1.4v1.9h-1.4zM122.3 268h1.4v1.9h-1.4zM123.6 268h1.4v1.9h-1.4zM124.8 268h1.4v1.9h-1.4zM121.9 271.5h1.4v1.9h-1.4zM123 278.3h1.4v1.9h-1.4zM122 280h1.4v1.9h-1.4zM123.7 281.7h1.4v1.9h-1.4zM121.5 283.4h1.4v1.9h-1.4zM122.2 286.8h1.4v1.9h-1.4zM120.9 288.5h1.4v1.9h-1.4zM122.4 290.2h1.4v1.9h-1.4zM121.6 291.9h1.4v1.9h-1.4zM121.7 293.7h1.4v1.9h-1.4zM122.9 293.7h1.4v1.9h-1.4zM122.4 295.4h1.4v1.9h-1.4zM121.9 297.1h1.4v1.9h-1.4zM123.2 297.1h1.4v1.9h-1.4zM123.1 300.5h1.4v1.9h-1.4zM124 302.2h1.4v1.9h-1.4zM121.4 303.9h1.4v1.9h-1.4zM121.3 305.6h1.4v1.9h-1.4zM122.2 307.3h1.4v1.9h-1.4zM123.4 307.3h1.4v1.9h-1.4zM123.2 310.7h1.4v1.9h-1.4zM120.3 314.1h1.4v1.9h-1.4zM121.5 314.1h1.4v1.9h-1.4zM124 314.1h1.4v1.9h-1.4zM123.7 315.8h1.4v1.9h-1.4zM121.6 317.6h1.4v1.9h-1.4zM124.1 317.6h1.4v1.9h-1.4zM125.4 317.6h1.4v1.9h-1.4zM119.6 319.3h1.4v1.9h-1.4zM122 321h1.4v1.9h-1.4zM122 322.7h1.4v1.9h-1.4zM121.6 324.4h1.4v1.9h-1.4zM122.9 324.4h1.4v1.9h-1.4zM124.1 326.1h1.4v1.9h-1.4zM160.8 278.3h1.4v1.9h-1.4zM164 280h1.4v1.9h-1.4zM166.5 280h1.4v1.9h-1.4zM162.9 281.7h1.4v1.9h-1.4zM164.2 281.7h1.4v1.9h-1.4zM167.9 281.7h1.4v1.9h-1.4zM169.2 281.7h1.4v1.9h-1.4zM164.6 283.4h1.4v1.9h-1.4zM166.3 285.1h1.4v1.9h-1.4zM166.7 286.8h1.4v1.9h-1.4zM163.7 288.5h1.4v1.9h-1.4zM166.2 288.5h1.4v1.9h-1.4zM164.6 291.9h1.4v1.9h-1.4zM165.8 291.9h1.4v1.9h-1.4zM166.6 293.7h1.4v1.9h-1.4zM164.7 297.1h1.4v1.9h-1.4zM165.9 297.1h1.4v1.9h-1.4zM167.2 297.1h1.4v1.9h-1.4zM166.9 303.9h1.4v1.9h-1.4zM168.1 303.9h1.4v1.9h-1.4zM166 305.6h1.4v1.9h-1.4zM167.2 305.6h1.4v1.9h-1.4zM165.5 307.3h1.4v1.9h-1.4zM165.1 309h1.4v1.9h-1.4zM167.6 309h1.4v1.9h-1.4zM163 310.7h1.4v1.9h-1.4zM165.5 310.7h1.4v1.9h-1.4zM166.7 310.7h1.4v1.9h-1.4zM161.3 312.4h1.4v1.9h-1.4zM162.6 312.4h1.4v1.9h-1.4zM161.5 314.1h1.4v1.9h-1.4zM162.8 314.1h1.4v1.9h-1.4zM160.7 315.8h1.4v1.9h-1.4zM164.5 315.8h1.4v1.9h-1.4zM162.6 319.3h1.4v1.9h-1.4zM168.8 319.3h1.4v1.9h-1.4zM164.2 322.7h1.4v1.9h-1.4zM165.5 322.7h1.4v1.9h-1.4zM165.9 326.1h1.4v1.9h-1.4zM32.2 297.1h1.4v1.9h-1.4zM170.2 276.6h1.4v1.9h-1.4zM181.5 276.6h1.4v1.9h-1.4zM182.8 276.6h1.4v1.9h-1.4zM172.7 309h1.4v1.9h-1.4zM174 309h1.4v1.9h-1.4zM57.3 298.8h1.4v1.9h-1.4zM58.5 298.8h1.4v1.9h-1.4z" fill="#7418f0"/>
<path d="M27.5 254.4h1.4v1.9h-1.4zM27.9 259.5h1.4v1.9h-1.4zM29.1 259.5h1.4v1.9h-1.4zM28.1 264.6h1.4v1.9h-1.4zM29.3 264.6h1.4v1.9h-1.4zM29.7 269.7h1.4v1.9h-1.4zM28.9 273.2h1.4v1.9h-1.4zM26.8 274.9h1.4v1.9h-1.4zM28 274.9h1.4v1.9h-1.4zM29.3 274.9h1.4v1.9h-1.4zM28.7 278.3h1.4v1.9h-1.4zM23.1 297.1h1.4v1.9h-1.4zM25.6 297.1h1.4v1.9h-1.4zM28.1 297.1h1.4v1.9h-1.4zM28.8 298.8h1.4v1.9h-1.4zM23.9 300.5h1.4v1.9h-1.4zM26.4 300.5h1.4v1.9h-1.4zM21.5 302.2h1.4v1.9h-1.4zM22.7 302.2h1.4v1.9h-1.4zM24 305.6h1.4v1.9h-1.4zM26.5 305.6h1.4v1.9h-1.4zM23.9 307.3h1.4v1.9h-1.4zM25.2 307.3h1.4v1.9h-1.4zM27.7 307.3h1.4v1.9h-1.4zM24.6 309h1.4v1.9h-1.4zM25.9 309h1.4v1.9h-1.4zM27.5 310.7h1.4v1.9h-1.4zM24.1 312.4h1.4v1.9h-1.4zM27.9 312.4h1.4v1.9h-1.4zM24.7 317.6h1.4v1.9h-1.4zM26 317.6h1.4v1.9h-1.4zM28.5 317.6h1.4v1.9h-1.4zM22 319.3h1.4v1.9h-1.4zM28.2 319.3h1.4v1.9h-1.4zM21.6 321h1.4v1.9h-1.4zM22.8 321h1.4v1.9h-1.4zM24.1 321h1.4v1.9h-1.4zM21.3 322.7h1.4v1.9h-1.4zM22.6 322.7h1.4v1.9h-1.4zM25.1 322.7h1.4v1.9h-1.4zM27.6 322.7h1.4v1.9h-1.4zM23.8 324.4h1.4v1.9h-1.4zM26.3 324.4h1.4v1.9h-1.4zM28.6 326.1h1.4v1.9h-1.4zM31.1 326.1h1.4v1.9h-1.4zM80.6 278.3h1.4v1.9h-1.4zM81.8 278.3h1.4v1.9h-1.4zM76.3 280h1.4v1.9h-1.4zM77.6 280h1.4v1.9h-1.4zM79.4 283.4h1.4v1.9h-1.4zM81.3 286.8h1.4v1.9h-1.4zM81.7 288.5h1.4v1.9h-1.4zM77.7 290.2h1.4v1.9h-1.4zM80.2 290.2h1.4v1.9h-1.4zM82.7 290.2h1.4v1.9h-1.4zM80.9 291.9h1.4v1.9h-1.4zM82.2 291.9h1.4v1.9h-1.4zM81.7 295.4h1.4v1.9h-1.4zM75.9 297.1h1.4v1.9h-1.4zM74 298.8h1.4v1.9h-1.4zM75.2 298.8h1.4v1.9h-1.4zM77.7 298.8h1.4v1.9h-1.4zM79 298.8h1.4v1.9h-1.4zM80.2 298.8h1.4v1.9h-1.4zM79.7 300.5h1.4v1.9h-1.4zM76.5 302.2h1.4v1.9h-1.4zM77.8 302.2h1.4v1.9h-1.4zM77.9 305.6h1.4v1.9h-1.4zM75.5 307.3h1.4v1.9h-1.4zM78 307.3h1.4v1.9h-1.4zM78 310.7h1.4v1.9h-1.4zM79 317.6h1.4v1.9h-1.4zM75.9 321h1.4v1.9h-1.4zM78.4 321h1.4v1.9h-1.4zM80.5 324.4h1.4v1.9h-1.4zM83 324.4h1.4v1.9h-1.4zM122.9 256.1h1.4v1.9h-1.4zM124.2 257.8h1.4v1.9h-1.4zM124 261.2h1.4v1.9h-1.4zM124.6 264.6h1.4v1.9h-1.4zM121.4 269.7h1.4v1.9h-1.4zM123.2 280h1.4v1.9h-1.4zM122.4 281.7h1.4v1.9h-1.4zM122.7 283.4h1.4v1.9h-1.4zM121.6 285.1h1.4v1.9h-1.4zM122.9 285.1h1.4v1.9h-1.4zM121.1 290.2h1.4v1.9h-1.4zM122.8 291.9h1.4v1.9h-1.4zM122.9 298.8h1.4v1.9h-1.4zM122.6 305.6h1.4v1.9h-1.4zM122.4 309h1.4v1.9h-1.4zM119 314.1h1.4v1.9h-1.4zM122.4 315.8h1.4v1.9h-1.4zM122.9 317.6h1.4v1.9h-1.4zM120.7 321h1.4v1.9h-1.4zM123.2 321h1.4v1.9h-1.4zM122.9 326.1h1.4v1.9h-1.4zM162.1 278.3h1.4v1.9h-1.4zM163.4 278.3h1.4v1.9h-1.4zM164.6 278.3h1.4v1.9h-1.4zM165.9 278.3h1.4v1.9h-1.4zM165.4 281.7h1.4v1.9h-1.4zM165.9 283.4h1.4v1.9h-1.4zM167.5 288.5h1.4v1.9h-1.4zM165.5 290.2h1.4v1.9h-1.4zM164.9 295.4h1.4v1.9h-1.4zM163.4 297.1h1.4v1.9h-1.4zM161.9 298.8h1.4v1.9h-1.4zM163.2 298.8h1.4v1.9h-1.4zM167.2 300.5h1.4v1.9h-1.4zM168.5 305.6h1.4v1.9h-1.4zM166.7 307.3h1.4v1.9h-1.4zM166.4 309h1.4v1.9h-1.4zM163.8 312.4h1.4v1.9h-1.4zM165.1 312.4h1.4v1.9h-1.4zM164 314.1h1.4v1.9h-1.4zM165.3 314.1h1.4v1.9h-1.4zM162 315.8h1.4v1.9h-1.4zM167 315.8h1.4v1.9h-1.4zM162.8 317.6h1.4v1.9h-1.4zM163.8 319.3h1.4v1.9h-1.4zM165.1 319.3h1.4v1.9h-1.4zM166.3 319.3h1.4v1.9h-1.4zM167.6 319.3h1.4v1.9h-1.4zM165.3 324.4h1.4v1.9h-1.4zM167.2 326.1h1.4v1.9h-1.4z" fill="#9030ff"/>
<path d="M21.9 297.1h1.4v1.9h-1.4zM22.7 300.5h1.4v1.9h-1.4zM22.8 305.6h1.4v1.9h-1.4zM23.3 314.1h1.4v1.9h-1.4zM23.2 319.3h1.4v1.9h-1.4zM77.2 293.7h1.4v1.9h-1.4zM74.6 297.1h1.4v1.9h-1.4zM78.4 300.5h1.4v1.9h-1.4zM79.9 314.1h1.4v1.9h-1.4zM80.3 317.6h1.4v1.9h-1.4zM121.7 256.1h1.4v1.9h-1.4zM123.3 264.6h1.4v1.9h-1.4zM122.6 276.6h1.4v1.9h-1.4zM122.6 303.9h1.4v1.9h-1.4zM122.8 314.1h1.4v1.9h-1.4zM122.1 319.3h1.4v1.9h-1.4zM123.2 322.7h1.4v1.9h-1.4z" fill="#c22a6e"/>
<path d="M27.4 326.1h1.4v1.9h-1.4zM78.4 297.1h1.4v1.9h-1.4zM121.9 310.7h1.4v1.9h-1.4zM123.4 319.3h1.4v1.9h-1.4zM165.3 280h1.4v1.9h-1.4zM165 288.5h1.4v1.9h-1.4zM171.5 276.6h1.4v1.9h-1.4zM175.2 309h1.4v1.9h-1.4z" fill="#e2421c"/>
<path d="M21.6 303.9h1.4v1.9h-1.4zM28.4 309h1.4v1.9h-1.4zM79.5 281.7h1.4v1.9h-1.4zM33.4 297.1h1.4v1.9h-1.4z" fill="#ffc21a"/>
</g>
<g filter="url(#bl)">
<path d="M670.6 75.6h1.4v1.8h-1.4zM673.3 77.2h1.4v1.8h-1.4zM671.2 80.5h1.4v1.8h-1.4zM672.9 83.8h1.4v1.8h-1.4zM670.8 90.5h1.4v1.8h-1.4zM673.3 90.5h1.4v1.8h-1.4zM672.4 93.8h1.4v1.8h-1.4zM674.4 95.5h1.4v1.8h-1.4zM674.5 97.1h1.4v1.8h-1.4zM667.3 102.1h1.4v1.8h-1.4zM607.5 73.9h1.4v1.8h-1.4zM564.4 63.9h1.4v1.8h-1.4z" fill="#2a0766"/>
<path d="M673.1 75.6h1.4v1.8h-1.4zM674.6 78.9h1.4v1.8h-1.4zM673.8 80.5h1.4v1.8h-1.4zM670.3 82.2h1.4v1.8h-1.4zM672.8 82.2h1.4v1.8h-1.4zM670.4 83.8h1.4v1.8h-1.4zM670.7 87.2h1.4v1.8h-1.4zM673.3 87.2h1.4v1.8h-1.4zM669.5 92.1h1.4v1.8h-1.4zM670.8 92.1h1.4v1.8h-1.4zM673.3 92.1h1.4v1.8h-1.4zM669.9 93.8h1.4v1.8h-1.4zM672 97.1h1.4v1.8h-1.4zM672.9 98.8h1.4v1.8h-1.4zM673.1 100.4h1.4v1.8h-1.4zM668.6 103.7h1.4v1.8h-1.4zM673.6 103.7h1.4v1.8h-1.4zM493.7 29.1h1.4v1.8h-1.4zM533 73.9h1.4v1.8h-1.4z" fill="#4c10b4"/>
<path d="M669.5 77.2h1.4v1.8h-1.4zM669.5 78.9h1.4v1.8h-1.4zM672 90.5h1.4v1.8h-1.4zM669.4 95.5h1.4v1.8h-1.4zM670.6 95.5h1.4v1.8h-1.4zM667.9 98.8h1.4v1.8h-1.4zM490.4 102.1h1.4v1.8h-1.4zM491.6 102.1h1.4v1.8h-1.4zM507.9 102.1h1.4v1.8h-1.4zM509.2 102.1h1.4v1.8h-1.4zM510.5 102.1h1.4v1.8h-1.4zM511.7 102.1h1.4v1.8h-1.4zM513 102.1h1.4v1.8h-1.4zM519.7 102.1h1.4v1.8h-1.4zM521 102.1h1.4v1.8h-1.4zM522.2 102.1h1.4v1.8h-1.4zM588.9 77.2h1.4v1.8h-1.4zM590.2 77.2h1.4v1.8h-1.4zM591.4 77.2h1.4v1.8h-1.4zM640.1 75.6h1.4v1.8h-1.4zM650.1 77.2h1.4v1.8h-1.4zM651.4 77.2h1.4v1.8h-1.4z" fill="#7418f0"/>
<path d="M670.8 78.9h1.4v1.8h-1.4zM671.6 83.8h1.4v1.8h-1.4z" fill="#9030ff"/>
<path d="M672.1 73.9h1.4v1.8h-1.4zM670.8 77.2h1.4v1.8h-1.4zM672 77.2h1.4v1.8h-1.4zM672.1 92.1h1.4v1.8h-1.4zM671.9 95.5h1.4v1.8h-1.4zM673.1 95.5h1.4v1.8h-1.4zM673.3 97.1h1.4v1.8h-1.4zM671.7 98.8h1.4v1.8h-1.4zM669.8 102.1h1.4v1.8h-1.4zM671.1 102.1h1.4v1.8h-1.4zM669.8 103.7h1.4v1.8h-1.4zM672.3 103.7h1.4v1.8h-1.4z" fill="#c22a6e"/>
<path d="M670.8 73.9h1.4v1.8h-1.4zM671.8 75.6h1.4v1.8h-1.4zM672.1 78.9h1.4v1.8h-1.4zM673.3 78.9h1.4v1.8h-1.4zM672.5 80.5h1.4v1.8h-1.4zM671.5 82.2h1.4v1.8h-1.4zM672 87.2h1.4v1.8h-1.4zM670.4 98.8h1.4v1.8h-1.4zM668.6 102.1h1.4v1.8h-1.4zM492.9 102.1h1.4v1.8h-1.4zM524.2 102.1h1.4v1.8h-1.4zM592.7 77.2h1.4v1.8h-1.4zM652.6 77.2h1.4v1.8h-1.4z" fill="#e2421c"/>
<path d="M671.1 93.8h1.4v1.8h-1.4zM669.2 98.8h1.4v1.8h-1.4zM671.9 100.4h1.4v1.8h-1.4z" fill="#ffc21a"/>
</g>
<g filter="url(#bl)">
<path d="M510.5 157.4h1.4v1.8h-1.4zM509.8 160.7h1.4v1.8h-1.4zM511.6 163.9h1.4v1.8h-1.4zM508.7 172h1.4v1.8h-1.4zM505.6 172h1.4v1.8h-1.4zM624 180.1h1.4v1.8h-1.4zM618.5 181.8h1.4v1.8h-1.4zM621 181.8h1.4v1.8h-1.4zM623.9 183.4h1.4v1.8h-1.4zM621.2 186.6h1.4v1.8h-1.4zM624.8 191.5h1.4v1.8h-1.4zM624.8 198h1.4v1.8h-1.4zM623.4 199.6h1.4v1.8h-1.4zM624.6 202.8h1.4v1.8h-1.4zM624.6 206.1h1.4v1.8h-1.4zM622.6 209.3h1.4v1.8h-1.4zM664.8 152.6h1.4v1.8h-1.4zM667.3 152.6h1.4v1.8h-1.4zM573.1 172h1.4v1.8h-1.4zM569.4 196.3h1.4v1.8h-1.4zM544.8 207.7h1.4v1.8h-1.4zM565.6 212.6h1.4v1.8h-1.4z" fill="#2a0766"/>
<path d="M505 150.9h1.4v1.8h-1.4zM507.3 160.7h1.4v1.8h-1.4zM508.5 160.7h1.4v1.8h-1.4zM507.5 170.4h1.4v1.8h-1.4zM513.3 154.2h1.4v1.8h-1.4zM514.5 154.2h1.4v1.8h-1.4zM515.8 154.2h1.4v1.8h-1.4zM516 167.2h1.4v1.8h-1.4zM514.8 168.8h1.4v1.8h-1.4zM517.3 168.8h1.4v1.8h-1.4zM513.7 170.4h1.4v1.8h-1.4zM516.2 170.4h1.4v1.8h-1.4zM515.3 178.5h1.4v1.8h-1.4zM517.9 178.5h1.4v1.8h-1.4zM516.6 193.1h1.4v1.8h-1.4zM516.9 196.3h1.4v1.8h-1.4zM621.4 180.1h1.4v1.8h-1.4zM619.7 181.8h1.4v1.8h-1.4zM621.4 183.4h1.4v1.8h-1.4zM618.3 185h1.4v1.8h-1.4zM620.9 185h1.4v1.8h-1.4zM622.1 185h1.4v1.8h-1.4zM623.7 186.6h1.4v1.8h-1.4zM619.8 188.2h1.4v1.8h-1.4zM623.5 188.2h1.4v1.8h-1.4zM619.3 189.9h1.4v1.8h-1.4zM625.6 189.9h1.4v1.8h-1.4zM621 191.5h1.4v1.8h-1.4zM620.9 194.7h1.4v1.8h-1.4zM622.2 194.7h1.4v1.8h-1.4zM625.9 194.7h1.4v1.8h-1.4zM620.6 196.3h1.4v1.8h-1.4zM625.6 196.3h1.4v1.8h-1.4zM622.2 198h1.4v1.8h-1.4zM622 201.2h1.4v1.8h-1.4zM623.3 201.2h1.4v1.8h-1.4zM624.5 201.2h1.4v1.8h-1.4zM618.4 202.8h1.4v1.8h-1.4zM622.1 202.8h1.4v1.8h-1.4zM620.4 204.5h1.4v1.8h-1.4zM623.3 206.1h1.4v1.8h-1.4zM619.7 207.7h1.4v1.8h-1.4zM622.2 207.7h1.4v1.8h-1.4zM625.2 209.3h1.4v1.8h-1.4zM620 210.9h1.4v1.8h-1.4zM621.3 210.9h1.4v1.8h-1.4zM623.8 210.9h1.4v1.8h-1.4zM617.5 212.6h1.4v1.8h-1.4zM618.8 212.6h1.4v1.8h-1.4zM622.6 212.6h1.4v1.8h-1.4zM623.1 214.2h1.4v1.8h-1.4zM664.4 128.2h1.4v1.8h-1.4zM666.9 128.2h1.4v1.8h-1.4zM664.3 134.7h1.4v1.8h-1.4zM665.5 134.7h1.4v1.8h-1.4zM666.8 134.7h1.4v1.8h-1.4zM664.7 139.6h1.4v1.8h-1.4zM667.2 139.6h1.4v1.8h-1.4zM665.6 141.2h1.4v1.8h-1.4zM664.4 142.8h1.4v1.8h-1.4zM664.8 146.1h1.4v1.8h-1.4zM667.3 146.1h1.4v1.8h-1.4zM664.7 150.9h1.4v1.8h-1.4zM664.9 168.8h1.4v1.8h-1.4zM532.6 133.1h1.4v1.8h-1.4zM532.7 138h1.4v1.8h-1.4zM559.8 136.3h1.4v1.8h-1.4zM605.7 141.2h1.4v1.8h-1.4zM607 141.2h1.4v1.8h-1.4zM608.2 141.2h1.4v1.8h-1.4zM623.3 128.2h1.4v1.8h-1.4zM643.3 129.9h1.4v1.8h-1.4zM610.8 160.7h1.4v1.8h-1.4zM581.9 183.4h1.4v1.8h-1.4zM496.7 142.8h1.4v1.8h-1.4z" fill="#4c10b4"/>
<path d="M506.3 150.9h1.4v1.8h-1.4zM507.8 152.6h1.4v1.8h-1.4zM510.4 154.2h1.4v1.8h-1.4zM506.8 157.4h1.4v1.8h-1.4zM508 157.4h1.4v1.8h-1.4zM511.3 170.4h1.4v1.8h-1.4zM512.4 172h1.4v1.8h-1.4zM517.7 181.8h1.4v1.8h-1.4zM515.4 193.1h1.4v1.8h-1.4zM502.7 152.6h1.4v1.8h-1.4zM502.6 154.2h1.4v1.8h-1.4zM504.6 170.4h1.4v1.8h-1.4zM503.1 172h1.4v1.8h-1.4zM504.4 176.9h1.4v1.8h-1.4zM503.2 178.5h1.4v1.8h-1.4zM504.5 178.5h1.4v1.8h-1.4zM504.3 188.2h1.4v1.8h-1.4zM624.3 170.4h1.4v1.8h-1.4zM621.6 173.6h1.4v1.8h-1.4zM622.8 173.6h1.4v1.8h-1.4zM622.6 183.4h1.4v1.8h-1.4zM619.6 185h1.4v1.8h-1.4zM618.5 188.2h1.4v1.8h-1.4zM622.3 188.2h1.4v1.8h-1.4zM620.6 189.9h1.4v1.8h-1.4zM621.8 189.9h1.4v1.8h-1.4zM622.3 191.5h1.4v1.8h-1.4zM623.5 191.5h1.4v1.8h-1.4zM621.7 193.1h1.4v1.8h-1.4zM624.2 193.1h1.4v1.8h-1.4zM623.4 194.7h1.4v1.8h-1.4zM624.7 194.7h1.4v1.8h-1.4zM623.1 196.3h1.4v1.8h-1.4zM623.5 198h1.4v1.8h-1.4zM622.1 199.6h1.4v1.8h-1.4zM619.6 202.8h1.4v1.8h-1.4zM623.4 202.8h1.4v1.8h-1.4zM621.7 204.5h1.4v1.8h-1.4zM622.9 204.5h1.4v1.8h-1.4zM620.8 206.1h1.4v1.8h-1.4zM622.1 206.1h1.4v1.8h-1.4zM622.5 210.9h1.4v1.8h-1.4zM621.3 212.6h1.4v1.8h-1.4zM620.6 214.2h1.4v1.8h-1.4zM665.4 125h1.4v1.8h-1.4zM665.7 128.2h1.4v1.8h-1.4zM665.2 129.9h1.4v1.8h-1.4zM665.7 142.8h1.4v1.8h-1.4zM666.9 142.8h1.4v1.8h-1.4zM666.1 152.6h1.4v1.8h-1.4zM665.7 165.5h1.4v1.8h-1.4zM664.7 167.2h1.4v1.8h-1.4zM663.6 168.8h1.4v1.8h-1.4zM533.3 125h1.4v1.8h-1.4zM533.1 126.6h1.4v1.8h-1.4zM532.5 128.2h1.4v1.8h-1.4zM533.8 136.3h1.4v1.8h-1.4zM509.2 144.5h1.4v1.8h-1.4zM511.7 144.5h1.4v1.8h-1.4zM513 144.5h1.4v1.8h-1.4zM538 136.3h1.4v1.8h-1.4zM539.3 136.3h1.4v1.8h-1.4zM540.5 136.3h1.4v1.8h-1.4zM516.7 183.4h1.4v1.8h-1.4z" fill="#7418f0"/>
<path d="M509 152.6h1.4v1.8h-1.4zM509.1 154.2h1.4v1.8h-1.4zM511.2 172h1.4v1.8h-1.4zM514.8 167.2h1.4v1.8h-1.4zM516 168.8h1.4v1.8h-1.4zM516.6 178.5h1.4v1.8h-1.4zM516.4 181.8h1.4v1.8h-1.4zM518.1 196.3h1.4v1.8h-1.4zM502.5 168.8h1.4v1.8h-1.4zM503.7 168.8h1.4v1.8h-1.4zM503.4 170.4h1.4v1.8h-1.4zM504.3 172h1.4v1.8h-1.4zM503.2 176.9h1.4v1.8h-1.4zM505.6 188.2h1.4v1.8h-1.4zM622 168.8h1.4v1.8h-1.4zM623 170.4h1.4v1.8h-1.4zM621.9 172h1.4v1.8h-1.4zM623.1 172h1.4v1.8h-1.4zM623.2 178.5h1.4v1.8h-1.4zM622.7 180.1h1.4v1.8h-1.4zM622.5 186.6h1.4v1.8h-1.4zM621 188.2h1.4v1.8h-1.4zM622.9 193.1h1.4v1.8h-1.4zM620.9 202.8h1.4v1.8h-1.4zM620.1 212.6h1.4v1.8h-1.4zM621.9 214.2h1.4v1.8h-1.4zM666.4 129.9h1.4v1.8h-1.4zM665.9 139.6h1.4v1.8h-1.4zM664.4 141.2h1.4v1.8h-1.4zM665.5 144.5h1.4v1.8h-1.4zM666.8 144.5h1.4v1.8h-1.4zM666.1 146.1h1.4v1.8h-1.4zM665.4 149.3h1.4v1.8h-1.4zM665.9 150.9h1.4v1.8h-1.4zM665.5 154.2h1.4v1.8h-1.4zM533.7 131.5h1.4v1.8h-1.4zM534 138h1.4v1.8h-1.4z" fill="#9030ff"/>
<path d="M509.3 157.4h1.4v1.8h-1.4zM510 170.4h1.4v1.8h-1.4zM509.9 172h1.4v1.8h-1.4zM513.1 149.3h1.4v1.8h-1.4zM623.1 189.9h1.4v1.8h-1.4zM624.4 189.9h1.4v1.8h-1.4z" fill="#c22a6e"/>
<path d="M508.8 170.4h1.4v1.8h-1.4zM514.4 149.3h1.4v1.8h-1.4zM515 170.4h1.4v1.8h-1.4zM621.8 196.3h1.4v1.8h-1.4zM518 183.4h1.4v1.8h-1.4z" fill="#e2421c"/>
<path d="M510.5 144.5h1.4v1.8h-1.4z" fill="#ffc21a"/>
</g>
<g filter="url(#bl)">
<path d="M540.3 275.6h1.4v1.9h-1.4zM538 289.5h1.4v1.9h-1.4zM539.6 291.3h1.4v1.9h-1.4zM540.5 296.5h1.4v1.9h-1.4zM539.4 300h1.4v1.9h-1.4zM535.6 308.7h1.4v1.9h-1.4zM535 310.4h1.4v1.9h-1.4zM540.1 310.4h1.4v1.9h-1.4zM535 313.9h1.4v1.9h-1.4zM541.3 313.9h1.4v1.9h-1.4zM535.4 317.4h1.4v1.9h-1.4zM539.2 317.4h1.4v1.9h-1.4zM534.3 319.1h1.4v1.9h-1.4zM538.3 320.8h1.4v1.9h-1.4zM533.1 322.6h1.4v1.9h-1.4zM618.4 273.9h1.4v1.9h-1.4zM617.7 284.3h1.4v1.9h-1.4zM615.3 286h1.4v1.9h-1.4zM616.2 289.5h1.4v1.9h-1.4zM615.9 291.3h1.4v1.9h-1.4zM618.5 291.3h1.4v1.9h-1.4zM616.5 298.2h1.4v1.9h-1.4zM615.6 300h1.4v1.9h-1.4zM619.4 320.8h1.4v1.9h-1.4zM573.9 284.3h1.4v1.9h-1.4z" fill="#2a0766"/>
<path d="M537 273.9h1.4v1.9h-1.4zM539.6 273.9h1.4v1.9h-1.4zM537.8 275.6h1.4v1.9h-1.4zM539 275.6h1.4v1.9h-1.4zM537 282.6h1.4v1.9h-1.4zM539.1 284.3h1.4v1.9h-1.4zM540.5 289.5h1.4v1.9h-1.4zM537.1 291.3h1.4v1.9h-1.4zM538 296.5h1.4v1.9h-1.4zM536.2 298.2h1.4v1.9h-1.4zM535.7 300h1.4v1.9h-1.4zM535.4 301.7h1.4v1.9h-1.4zM540.4 301.7h1.4v1.9h-1.4zM536.6 303.4h1.4v1.9h-1.4zM539.1 303.4h1.4v1.9h-1.4zM534.9 306.9h1.4v1.9h-1.4zM539.9 306.9h1.4v1.9h-1.4zM539.3 308.7h1.4v1.9h-1.4zM536.2 312.1h1.4v1.9h-1.4zM539.9 312.1h1.4v1.9h-1.4zM534.2 315.6h1.4v1.9h-1.4zM541.7 315.6h1.4v1.9h-1.4zM540.6 319.1h1.4v1.9h-1.4zM532 320.8h1.4v1.9h-1.4zM539.4 322.6h1.4v1.9h-1.4zM612.7 268.7h1.4v1.9h-1.4zM617.7 268.7h1.4v1.9h-1.4zM618.3 270.4h1.4v1.9h-1.4zM616.5 272.1h1.4v1.9h-1.4zM619 272.1h1.4v1.9h-1.4zM615 275.6h1.4v1.9h-1.4zM618.8 275.6h1.4v1.9h-1.4zM619.3 279.1h1.4v1.9h-1.4zM616.5 286h1.4v1.9h-1.4zM615.2 287.8h1.4v1.9h-1.4zM617.6 293h1.4v1.9h-1.4zM620.1 293h1.4v1.9h-1.4zM616.2 296.5h1.4v1.9h-1.4zM618.7 296.5h1.4v1.9h-1.4zM620 296.5h1.4v1.9h-1.4zM619 298.2h1.4v1.9h-1.4zM616.8 300h1.4v1.9h-1.4zM618.1 300h1.4v1.9h-1.4zM617.7 301.7h1.4v1.9h-1.4zM619 301.7h1.4v1.9h-1.4zM616.3 303.4h1.4v1.9h-1.4zM618.8 303.4h1.4v1.9h-1.4zM617.6 310.4h1.4v1.9h-1.4zM618.8 310.4h1.4v1.9h-1.4zM620.1 310.4h1.4v1.9h-1.4zM616 312.1h1.4v1.9h-1.4zM619.6 315.6h1.4v1.9h-1.4zM616.7 317.4h1.4v1.9h-1.4zM619.2 317.4h1.4v1.9h-1.4zM620.1 319.1h1.4v1.9h-1.4zM615.6 320.8h1.4v1.9h-1.4zM616.9 320.8h1.4v1.9h-1.4zM670 266.9h1.4v1.9h-1.4zM542.3 251.3h1.4v1.9h-1.4zM496.2 287.8h1.4v1.9h-1.4zM497.4 287.8h1.4v1.9h-1.4zM570.6 308.7h1.4v1.9h-1.4zM555.6 322.6h1.4v1.9h-1.4zM619.5 261.7h1.4v1.9h-1.4zM652.1 324.3h1.4v1.9h-1.4z" fill="#4c10b4"/>
<path d="M539 280.8h1.4v1.9h-1.4zM537.9 294.7h1.4v1.9h-1.4zM539.2 296.5h1.4v1.9h-1.4zM538.7 298.2h1.4v1.9h-1.4zM537.9 303.4h1.4v1.9h-1.4zM541.1 306.9h1.4v1.9h-1.4zM536.8 308.7h1.4v1.9h-1.4zM536.3 310.4h1.4v1.9h-1.4zM537.5 313.9h1.4v1.9h-1.4zM538.7 313.9h1.4v1.9h-1.4zM536.7 315.6h1.4v1.9h-1.4zM539.2 315.6h1.4v1.9h-1.4zM536.7 317.4h1.4v1.9h-1.4zM535.6 319.1h1.4v1.9h-1.4zM536.8 319.1h1.4v1.9h-1.4zM538.1 319.1h1.4v1.9h-1.4zM533.3 320.8h1.4v1.9h-1.4zM534.5 320.8h1.4v1.9h-1.4zM535.8 320.8h1.4v1.9h-1.4zM538.1 322.6h1.4v1.9h-1.4zM616.4 268.7h1.4v1.9h-1.4zM614.6 273.9h1.4v1.9h-1.4zM615.5 279.1h1.4v1.9h-1.4zM619 286h1.4v1.9h-1.4zM617.7 287.8h1.4v1.9h-1.4zM620 289.5h1.4v1.9h-1.4zM615.2 301.7h1.4v1.9h-1.4zM620.2 305.2h1.4v1.9h-1.4zM613.8 306.9h1.4v1.9h-1.4zM614.6 315.6h1.4v1.9h-1.4zM617.1 315.6h1.4v1.9h-1.4zM617.9 317.4h1.4v1.9h-1.4zM618.2 320.8h1.4v1.9h-1.4zM669 240.8h1.4v1.9h-1.4zM669.1 253h1.4v1.9h-1.4zM554.3 272.1h1.4v1.9h-1.4zM607 275.6h1.4v1.9h-1.4zM608.2 275.6h1.4v1.9h-1.4zM609.5 275.6h1.4v1.9h-1.4z" fill="#7418f0"/>
<path d="M539.7 272.1h1.4v1.9h-1.4zM538.3 273.9h1.4v1.9h-1.4zM537.5 279.1h1.4v1.9h-1.4zM538.8 279.1h1.4v1.9h-1.4zM538.8 286h1.4v1.9h-1.4zM539.3 289.5h1.4v1.9h-1.4zM538.3 291.3h1.4v1.9h-1.4zM538 293h1.4v1.9h-1.4zM539.3 293h1.4v1.9h-1.4zM537.4 298.2h1.4v1.9h-1.4zM539.2 301.7h1.4v1.9h-1.4zM537.4 306.9h1.4v1.9h-1.4zM538.8 310.4h1.4v1.9h-1.4zM537.4 312.1h1.4v1.9h-1.4zM538.7 312.1h1.4v1.9h-1.4zM540 313.9h1.4v1.9h-1.4zM535.5 315.6h1.4v1.9h-1.4zM538 315.6h1.4v1.9h-1.4zM540.5 315.6h1.4v1.9h-1.4zM537 320.8h1.4v1.9h-1.4zM534.4 322.6h1.4v1.9h-1.4zM616.6 277.4h1.4v1.9h-1.4zM616.7 282.6h1.4v1.9h-1.4zM616.4 287.8h1.4v1.9h-1.4zM618.9 293h1.4v1.9h-1.4zM617.4 296.5h1.4v1.9h-1.4zM615 306.9h1.4v1.9h-1.4zM617.2 312.1h1.4v1.9h-1.4zM618.8 319.1h1.4v1.9h-1.4zM669 254.7h1.4v1.9h-1.4zM668.8 266.9h1.4v1.9h-1.4zM669 268.7h1.4v1.9h-1.4z" fill="#9030ff"/>
<path d="M537.8 284.3h1.4v1.9h-1.4zM539.1 294.7h1.4v1.9h-1.4zM537.5 310.4h1.4v1.9h-1.4zM617.5 275.6h1.4v1.9h-1.4zM616.8 279.1h1.4v1.9h-1.4zM618 279.1h1.4v1.9h-1.4zM617.8 286h1.4v1.9h-1.4zM617.5 289.5h1.4v1.9h-1.4zM618.7 289.5h1.4v1.9h-1.4zM617.2 291.3h1.4v1.9h-1.4zM616.5 301.7h1.4v1.9h-1.4zM617.6 303.4h1.4v1.9h-1.4zM619.7 312.1h1.4v1.9h-1.4zM618.3 315.6h1.4v1.9h-1.4z" fill="#c22a6e"/>
<path d="M538 287.8h1.4v1.9h-1.4zM536.9 300h1.4v1.9h-1.4zM538.2 300h1.4v1.9h-1.4zM536.7 301.7h1.4v1.9h-1.4zM537.9 301.7h1.4v1.9h-1.4zM536.1 306.9h1.4v1.9h-1.4zM538.6 306.9h1.4v1.9h-1.4zM538.1 308.7h1.4v1.9h-1.4zM536.2 313.9h1.4v1.9h-1.4zM538 317.4h1.4v1.9h-1.4zM539.3 319.1h1.4v1.9h-1.4zM535.6 322.6h1.4v1.9h-1.4zM536.9 322.6h1.4v1.9h-1.4zM613.9 268.7h1.4v1.9h-1.4zM615.2 268.7h1.4v1.9h-1.4zM619.6 270.4h1.4v1.9h-1.4zM617.7 272.1h1.4v1.9h-1.4zM616.3 275.6h1.4v1.9h-1.4zM618.9 305.2h1.4v1.9h-1.4zM618.5 312.1h1.4v1.9h-1.4zM615.8 315.6h1.4v1.9h-1.4z" fill="#e2421c"/>
<path d="M615.9 273.9h1.4v1.9h-1.4zM617.1 273.9h1.4v1.9h-1.4zM615.4 277.4h1.4v1.9h-1.4z" fill="#ffc21a"/>
</g>
<path d="M124.7 32.6V42.2H122.5L125.8 47.6L129.1 42.2H126.9V32.6Z" fill="#e8261c" stroke="#f5a49c" stroke-width="0.7"/>
<path d="M118.9 138V148H116.7L120 153.4L123.3 148H121.1V138Z" fill="#e8261c" stroke="#f5a49c" stroke-width="0.7"/>
<path d="M168.1 261V270.4H165.9L169.2 275.8L172.5 270.4H170.3V261Z" fill="#e8261c" stroke="#f5a49c" stroke-width="0.7"/>
<path d="M668.3 58.6V67.4H666.1L669.4 72.8L672.7 67.4H670.5V58.6Z" fill="#2b4bee" stroke="#a9b9f7" stroke-width="0.7"/>
<path d="M621.3 155.4V164.4H619.1L622.4 169.8L625.7 164.4H623.5V155.4Z" fill="#2b4bee" stroke="#a9b9f7" stroke-width="0.7"/>
<path d="M538.9 255V264.4H536.7L540 269.8L543.3 264.4H541.1V255Z" fill="#2b4bee" stroke="#a9b9f7" stroke-width="0.7"/>
<g>
<path d="M260.3 18.1h2.5v2.7h-2.5zM251 25.6h2.5v2.7h-2.5zM246.3 28.1h2.5v2.7h-2.5zM255.7 28.1h2.5v2.7h-2.5zM251 30.6h2.5v2.7h-2.5zM260.3 30.6h2.5v2.7h-2.5zM258 33.1h2.5v2.7h-2.5zM260.3 38.1h2.5v2.7h-2.5zM255.7 40.7h2.5v2.7h-2.5zM248.6 45.7h2.5v2.7h-2.5zM260.3 45.7h2.5v2.7h-2.5zM258 50.7h2.5v2.7h-2.5zM260.3 50.7h2.5v2.7h-2.5zM262.7 50.7h2.5v2.7h-2.5zM246.3 53.2h2.5v2.7h-2.5zM241.6 55.7h2.5v2.7h-2.5zM260.3 60.7h2.5v2.7h-2.5zM253.3 63.2h2.5v2.7h-2.5zM255.7 63.2h2.5v2.7h-2.5zM262.7 70.7h2.5v2.7h-2.5zM265 73.2h2.5v2.7h-2.5zM248.6 80.7h2.5v2.7h-2.5zM253.3 80.7h2.5v2.7h-2.5zM260.3 80.7h2.5v2.7h-2.5zM255.7 85.8h2.5v2.7h-2.5zM248.6 88.3h2.5v2.7h-2.5zM251 88.3h2.5v2.7h-2.5zM255.7 90.8h2.5v2.7h-2.5zM262.7 95.8h2.5v2.7h-2.5zM265 98.3h2.5v2.7h-2.5zM253.3 103.3h2.5v2.7h-2.5zM260.3 103.3h2.5v2.7h-2.5zM262.7 103.3h2.5v2.7h-2.5zM274.4 45.7h2.5v2.7h-2.5zM281.4 100.8h2.5v2.7h-2.5z" fill="#4c10b4"/>
<path d="M248.6 15.6h2.5v2.7h-2.5zM253.3 15.6h2.5v2.7h-2.5zM260.3 15.6h2.5v2.7h-2.5zM262.7 15.6h2.5v2.7h-2.5zM255.7 18.1h2.5v2.7h-2.5zM258 18.1h2.5v2.7h-2.5zM248.6 20.6h2.5v2.7h-2.5zM251 20.6h2.5v2.7h-2.5zM253.3 20.6h2.5v2.7h-2.5zM260.3 20.6h2.5v2.7h-2.5zM246.3 23.1h2.5v2.7h-2.5zM251 23.1h2.5v2.7h-2.5zM253.3 23.1h2.5v2.7h-2.5zM255.7 23.1h2.5v2.7h-2.5zM241.6 25.6h2.5v2.7h-2.5zM246.3 25.6h2.5v2.7h-2.5zM253.3 25.6h2.5v2.7h-2.5zM255.7 25.6h2.5v2.7h-2.5zM258 25.6h2.5v2.7h-2.5zM260.3 25.6h2.5v2.7h-2.5zM243.9 28.1h2.5v2.7h-2.5zM248.6 28.1h2.5v2.7h-2.5zM258 28.1h2.5v2.7h-2.5zM246.3 30.6h2.5v2.7h-2.5zM253.3 30.6h2.5v2.7h-2.5zM255.7 30.6h2.5v2.7h-2.5zM258 30.6h2.5v2.7h-2.5zM243.9 35.6h2.5v2.7h-2.5zM246.3 35.6h2.5v2.7h-2.5zM248.6 35.6h2.5v2.7h-2.5zM251 35.6h2.5v2.7h-2.5zM258 35.6h2.5v2.7h-2.5zM243.9 38.1h2.5v2.7h-2.5zM248.6 38.1h2.5v2.7h-2.5zM253.3 38.1h2.5v2.7h-2.5zM258 38.1h2.5v2.7h-2.5zM253.3 40.7h2.5v2.7h-2.5zM248.6 43.2h2.5v2.7h-2.5zM251 43.2h2.5v2.7h-2.5zM253.3 43.2h2.5v2.7h-2.5zM251 45.7h2.5v2.7h-2.5zM253.3 45.7h2.5v2.7h-2.5zM243.9 48.2h2.5v2.7h-2.5zM246.3 48.2h2.5v2.7h-2.5zM248.6 48.2h2.5v2.7h-2.5zM255.7 48.2h2.5v2.7h-2.5zM260.3 48.2h2.5v2.7h-2.5zM253.3 50.7h2.5v2.7h-2.5zM251 53.2h2.5v2.7h-2.5zM255.7 53.2h2.5v2.7h-2.5zM258 53.2h2.5v2.7h-2.5zM243.9 55.7h2.5v2.7h-2.5zM246.3 55.7h2.5v2.7h-2.5zM253.3 55.7h2.5v2.7h-2.5zM243.9 58.2h2.5v2.7h-2.5zM251 58.2h2.5v2.7h-2.5zM253.3 58.2h2.5v2.7h-2.5zM258 58.2h2.5v2.7h-2.5zM241.6 60.7h2.5v2.7h-2.5zM248.6 60.7h2.5v2.7h-2.5zM251 60.7h2.5v2.7h-2.5zM255.7 60.7h2.5v2.7h-2.5zM265 60.7h2.5v2.7h-2.5zM251 65.7h2.5v2.7h-2.5zM253.3 65.7h2.5v2.7h-2.5zM255.7 65.7h2.5v2.7h-2.5zM251 68.2h2.5v2.7h-2.5zM253.3 68.2h2.5v2.7h-2.5zM258 68.2h2.5v2.7h-2.5zM248.6 70.7h2.5v2.7h-2.5zM251 70.7h2.5v2.7h-2.5zM258 70.7h2.5v2.7h-2.5zM246.3 73.2h2.5v2.7h-2.5zM253.3 73.2h2.5v2.7h-2.5zM255.7 73.2h2.5v2.7h-2.5zM262.7 73.2h2.5v2.7h-2.5zM246.3 75.7h2.5v2.7h-2.5zM251 75.7h2.5v2.7h-2.5zM253.3 75.7h2.5v2.7h-2.5zM260.3 75.7h2.5v2.7h-2.5zM265 75.7h2.5v2.7h-2.5zM267.4 75.7h2.5v2.7h-2.5zM255.7 78.2h2.5v2.7h-2.5zM260.3 78.2h2.5v2.7h-2.5zM265 78.2h2.5v2.7h-2.5zM246.3 80.7h2.5v2.7h-2.5zM251 80.7h2.5v2.7h-2.5zM258 80.7h2.5v2.7h-2.5zM260.3 83.2h2.5v2.7h-2.5zM265 83.2h2.5v2.7h-2.5zM258 85.8h2.5v2.7h-2.5zM260.3 85.8h2.5v2.7h-2.5zM262.7 85.8h2.5v2.7h-2.5zM253.3 88.3h2.5v2.7h-2.5zM255.7 88.3h2.5v2.7h-2.5zM258 88.3h2.5v2.7h-2.5zM260.3 88.3h2.5v2.7h-2.5zM262.7 88.3h2.5v2.7h-2.5zM267.4 88.3h2.5v2.7h-2.5zM269.7 88.3h2.5v2.7h-2.5zM248.6 90.8h2.5v2.7h-2.5zM251 90.8h2.5v2.7h-2.5zM253.3 90.8h2.5v2.7h-2.5zM258 90.8h2.5v2.7h-2.5zM262.7 90.8h2.5v2.7h-2.5zM265 90.8h2.5v2.7h-2.5zM251 93.3h2.5v2.7h-2.5zM255.7 93.3h2.5v2.7h-2.5zM262.7 93.3h2.5v2.7h-2.5zM265 93.3h2.5v2.7h-2.5zM248.6 95.8h2.5v2.7h-2.5zM251 95.8h2.5v2.7h-2.5zM253.3 95.8h2.5v2.7h-2.5zM258 95.8h2.5v2.7h-2.5zM260.3 95.8h2.5v2.7h-2.5zM253.3 98.3h2.5v2.7h-2.5zM260.3 98.3h2.5v2.7h-2.5zM262.7 98.3h2.5v2.7h-2.5zM253.3 100.8h2.5v2.7h-2.5zM258 100.8h2.5v2.7h-2.5zM262.7 100.8h2.5v2.7h-2.5zM265 100.8h2.5v2.7h-2.5zM269.7 100.8h2.5v2.7h-2.5zM255.7 103.3h2.5v2.7h-2.5zM267.4 15.6h2.5v2.7h-2.5zM286.1 103.3h2.5v2.7h-2.5zM288.4 103.3h2.5v2.7h-2.5zM272 45.7h2.5v2.7h-2.5zM269.7 100.8h2.5v2.7h-2.5zM272 100.8h2.5v2.7h-2.5zM274.4 100.8h2.5v2.7h-2.5zM276.7 100.8h2.5v2.7h-2.5zM279.1 100.8h2.5v2.7h-2.5z" fill="#7418f0"/>
<path d="M251 15.6h2.5v2.7h-2.5zM255.7 15.6h2.5v2.7h-2.5zM258 15.6h2.5v2.7h-2.5zM248.6 18.1h2.5v2.7h-2.5zM251 18.1h2.5v2.7h-2.5zM253.3 18.1h2.5v2.7h-2.5zM246.3 20.6h2.5v2.7h-2.5zM255.7 20.6h2.5v2.7h-2.5zM258 20.6h2.5v2.7h-2.5zM248.6 23.1h2.5v2.7h-2.5zM258 23.1h2.5v2.7h-2.5zM262.7 23.1h2.5v2.7h-2.5zM262.7 25.6h2.5v2.7h-2.5zM241.6 28.1h2.5v2.7h-2.5zM251 28.1h2.5v2.7h-2.5zM253.3 28.1h2.5v2.7h-2.5zM248.6 30.6h2.5v2.7h-2.5zM251 33.1h2.5v2.7h-2.5zM253.3 33.1h2.5v2.7h-2.5zM255.7 33.1h2.5v2.7h-2.5zM253.3 35.6h2.5v2.7h-2.5zM255.7 35.6h2.5v2.7h-2.5zM251 38.1h2.5v2.7h-2.5zM255.7 38.1h2.5v2.7h-2.5zM243.9 40.7h2.5v2.7h-2.5zM246.3 40.7h2.5v2.7h-2.5zM248.6 40.7h2.5v2.7h-2.5zM251 40.7h2.5v2.7h-2.5zM258 40.7h2.5v2.7h-2.5zM246.3 43.2h2.5v2.7h-2.5zM255.7 43.2h2.5v2.7h-2.5zM258 45.7h2.5v2.7h-2.5zM251 48.2h2.5v2.7h-2.5zM253.3 48.2h2.5v2.7h-2.5zM258 48.2h2.5v2.7h-2.5zM262.7 48.2h2.5v2.7h-2.5zM241.6 50.7h2.5v2.7h-2.5zM243.9 50.7h2.5v2.7h-2.5zM246.3 50.7h2.5v2.7h-2.5zM248.6 50.7h2.5v2.7h-2.5zM251 50.7h2.5v2.7h-2.5zM255.7 50.7h2.5v2.7h-2.5zM248.6 53.2h2.5v2.7h-2.5zM253.3 53.2h2.5v2.7h-2.5zM248.6 55.7h2.5v2.7h-2.5zM251 55.7h2.5v2.7h-2.5zM255.7 55.7h2.5v2.7h-2.5zM248.6 58.2h2.5v2.7h-2.5zM255.7 58.2h2.5v2.7h-2.5zM260.3 58.2h2.5v2.7h-2.5zM246.3 60.7h2.5v2.7h-2.5zM253.3 60.7h2.5v2.7h-2.5zM258 60.7h2.5v2.7h-2.5zM262.7 60.7h2.5v2.7h-2.5zM248.6 63.2h2.5v2.7h-2.5zM258 63.2h2.5v2.7h-2.5zM260.3 63.2h2.5v2.7h-2.5zM258 65.7h2.5v2.7h-2.5zM260.3 65.7h2.5v2.7h-2.5zM248.6 68.2h2.5v2.7h-2.5zM255.7 68.2h2.5v2.7h-2.5zM253.3 70.7h2.5v2.7h-2.5zM260.3 70.7h2.5v2.7h-2.5zM248.6 73.2h2.5v2.7h-2.5zM251 73.2h2.5v2.7h-2.5zM258 73.2h2.5v2.7h-2.5zM260.3 73.2h2.5v2.7h-2.5zM255.7 75.7h2.5v2.7h-2.5zM258 75.7h2.5v2.7h-2.5zM262.7 75.7h2.5v2.7h-2.5zM269.7 75.7h2.5v2.7h-2.5zM248.6 78.2h2.5v2.7h-2.5zM251 78.2h2.5v2.7h-2.5zM253.3 78.2h2.5v2.7h-2.5zM258 78.2h2.5v2.7h-2.5zM262.7 78.2h2.5v2.7h-2.5zM255.7 80.7h2.5v2.7h-2.5zM262.7 80.7h2.5v2.7h-2.5zM265 80.7h2.5v2.7h-2.5zM267.4 80.7h2.5v2.7h-2.5zM251 83.2h2.5v2.7h-2.5zM253.3 83.2h2.5v2.7h-2.5zM255.7 83.2h2.5v2.7h-2.5zM258 83.2h2.5v2.7h-2.5zM267.4 83.2h2.5v2.7h-2.5zM265 88.3h2.5v2.7h-2.5zM260.3 90.8h2.5v2.7h-2.5zM267.4 90.8h2.5v2.7h-2.5zM248.6 93.3h2.5v2.7h-2.5zM253.3 93.3h2.5v2.7h-2.5zM258 93.3h2.5v2.7h-2.5zM260.3 93.3h2.5v2.7h-2.5zM255.7 95.8h2.5v2.7h-2.5zM265 95.8h2.5v2.7h-2.5zM267.4 95.8h2.5v2.7h-2.5zM255.7 98.3h2.5v2.7h-2.5zM258 98.3h2.5v2.7h-2.5zM267.4 98.3h2.5v2.7h-2.5zM251 100.8h2.5v2.7h-2.5zM255.7 100.8h2.5v2.7h-2.5zM260.3 100.8h2.5v2.7h-2.5zM267.4 100.8h2.5v2.7h-2.5zM272 100.8h2.5v2.7h-2.5zM251 103.3h2.5v2.7h-2.5z" fill="#9030ff"/>
<path d="M260.3 53.2h2.5v2.7h-2.5z" fill="#c22a6e"/>
<path d="M262.7 65.7h2.5v2.7h-2.5zM290.8 103.3h2.5v2.7h-2.5z" fill="#e2421c"/>
<path d="M248.6 75.7h2.5v2.7h-2.5zM269.7 15.6h2.5v2.7h-2.5z" fill="#ffc21a"/>
</g>
<g>
<path d="M257.7 131.8h4.2v2.4h-4.2zM253.6 154.6h4.2v2.4h-4.2zM253.6 156.9h4.2v2.4h-4.2zM253.6 163.7h4.2v2.4h-4.2zM253.6 175.1h4.2v2.4h-4.2zM261.7 184.3h4.2v2.4h-4.2zM245.6 188.8h4.2v2.4h-4.2zM261.7 193.4h4.2v2.4h-4.2zM253.6 200.2h4.2v2.4h-4.2zM249.6 202.5h4.2v2.4h-4.2zM257.7 213.9h4.2v2.4h-4.2z" fill="#4c10b4"/>
<path d="M257.7 134h4.2v2.4h-4.2zM249.6 136.3h4.2v2.4h-4.2zM261.7 136.3h4.2v2.4h-4.2zM253.6 138.6h4.2v2.4h-4.2zM257.7 145.5h4.2v2.4h-4.2zM257.7 154.6h4.2v2.4h-4.2zM245.6 156.9h4.2v2.4h-4.2zM253.6 159.1h4.2v2.4h-4.2zM245.6 170.6h4.2v2.4h-4.2zM257.7 170.6h4.2v2.4h-4.2zM245.6 172.8h4.2v2.4h-4.2zM249.6 172.8h4.2v2.4h-4.2zM253.6 172.8h4.2v2.4h-4.2zM257.7 172.8h4.2v2.4h-4.2zM257.7 175.1h4.2v2.4h-4.2zM257.7 179.7h4.2v2.4h-4.2zM253.6 182h4.2v2.4h-4.2zM253.6 184.3h4.2v2.4h-4.2zM253.6 186.5h4.2v2.4h-4.2zM249.6 188.8h4.2v2.4h-4.2zM253.6 193.4h4.2v2.4h-4.2zM249.6 195.7h4.2v2.4h-4.2zM253.6 195.7h4.2v2.4h-4.2zM257.7 195.7h4.2v2.4h-4.2zM261.7 195.7h4.2v2.4h-4.2zM253.6 197.9h4.2v2.4h-4.2zM257.7 200.2h4.2v2.4h-4.2zM253.6 207.1h4.2v2.4h-4.2zM253.6 186.5h4.2v2.4h-4.2zM253.6 200.2h4.2v2.4h-4.2z" fill="#7418f0"/>
<path d="M249.6 129.5h4.2v2.4h-4.2zM253.6 129.5h4.2v2.4h-4.2zM253.6 131.8h4.2v2.4h-4.2zM261.7 134h4.2v2.4h-4.2zM253.6 136.3h4.2v2.4h-4.2zM253.6 145.5h4.2v2.4h-4.2zM261.7 145.5h4.2v2.4h-4.2zM257.7 156.9h4.2v2.4h-4.2zM257.7 159.1h4.2v2.4h-4.2zM249.6 163.7h4.2v2.4h-4.2zM249.6 170.6h4.2v2.4h-4.2zM261.7 170.6h4.2v2.4h-4.2zM249.6 179.7h4.2v2.4h-4.2zM253.6 179.7h4.2v2.4h-4.2zM257.7 182h4.2v2.4h-4.2zM245.6 184.3h4.2v2.4h-4.2zM249.6 184.3h4.2v2.4h-4.2zM245.6 186.5h4.2v2.4h-4.2zM257.7 188.8h4.2v2.4h-4.2zM249.6 191.1h4.2v2.4h-4.2zM253.6 191.1h4.2v2.4h-4.2zM257.7 191.1h4.2v2.4h-4.2zM257.7 193.4h4.2v2.4h-4.2zM245.6 200.2h4.2v2.4h-4.2zM249.6 200.2h4.2v2.4h-4.2zM253.6 202.5h4.2v2.4h-4.2zM257.7 207.1h4.2v2.4h-4.2zM249.6 213.9h4.2v2.4h-4.2zM253.6 213.9h4.2v2.4h-4.2z" fill="#9030ff"/>
<path d="M257.7 136.3h4.2v2.4h-4.2zM249.6 138.6h4.2v2.4h-4.2zM249.6 186.5h4.2v2.4h-4.2zM253.6 188.8h4.2v2.4h-4.2zM257.7 197.9h4.2v2.4h-4.2zM257.7 204.8h4.2v2.4h-4.2z" fill="#c22a6e"/>
<path d="M245.6 134h4.2v2.4h-4.2zM249.6 156.9h4.2v2.4h-4.2zM253.6 170.6h4.2v2.4h-4.2zM249.6 182h4.2v2.4h-4.2zM257.7 200.2h4.2v2.4h-4.2z" fill="#e2421c"/>
<path d="M257.7 129.5h4.2v2.4h-4.2zM261.7 127.2h4.2v2.4h-4.2zM257.7 186.5h4.2v2.4h-4.2z" fill="#ffc21a"/>
</g>
<g>
<path d="M261.7 237.6h2.2v3.1h-2.2zM265.7 237.6h2.2v3.1h-2.2zM257.7 240.5h2.2v3.1h-2.2zM259.7 243.5h2.2v3.1h-2.2zM251.6 249.3h2.2v3.1h-2.2zM255.7 249.3h2.2v3.1h-2.2zM259.7 249.3h2.2v3.1h-2.2zM259.7 252.2h2.2v3.1h-2.2zM261.7 252.2h2.2v3.1h-2.2zM265.7 252.2h2.2v3.1h-2.2zM253.6 255.2h2.2v3.1h-2.2zM261.7 264h2.2v3.1h-2.2zM247.6 269.8h2.2v3.1h-2.2zM253.6 269.8h2.2v3.1h-2.2zM257.7 269.8h2.2v3.1h-2.2zM247.6 278.6h2.2v3.1h-2.2zM251.6 278.6h2.2v3.1h-2.2zM257.7 278.6h2.2v3.1h-2.2zM253.6 281.5h2.2v3.1h-2.2zM249.6 284.5h2.2v3.1h-2.2zM255.7 284.5h2.2v3.1h-2.2zM245.6 290.3h2.2v3.1h-2.2zM245.6 299.1h2.2v3.1h-2.2zM251.6 302h2.2v3.1h-2.2zM247.6 305h2.2v3.1h-2.2zM255.7 305h2.2v3.1h-2.2zM247.6 310.8h2.2v3.1h-2.2zM255.7 310.8h2.2v3.1h-2.2zM247.6 313.8h2.2v3.1h-2.2zM257.7 313.8h2.2v3.1h-2.2zM247.6 322.5h2.2v3.1h-2.2zM249.6 322.5h2.2v3.1h-2.2zM249.6 325.5h2.2v3.1h-2.2zM289.8 313.8h2.2v3.1h-2.2z" fill="#4c10b4"/>
<path d="M249.6 237.6h2.2v3.1h-2.2zM253.6 237.6h2.2v3.1h-2.2zM257.7 237.6h2.2v3.1h-2.2zM259.7 237.6h2.2v3.1h-2.2zM263.7 237.6h2.2v3.1h-2.2zM267.7 237.6h2.2v3.1h-2.2zM253.6 240.5h2.2v3.1h-2.2zM259.7 240.5h2.2v3.1h-2.2zM251.6 243.5h2.2v3.1h-2.2zM253.6 243.5h2.2v3.1h-2.2zM261.7 243.5h2.2v3.1h-2.2zM263.7 243.5h2.2v3.1h-2.2zM253.6 246.4h2.2v3.1h-2.2zM259.7 246.4h2.2v3.1h-2.2zM243.6 249.3h2.2v3.1h-2.2zM247.6 249.3h2.2v3.1h-2.2zM249.6 249.3h2.2v3.1h-2.2zM253.6 249.3h2.2v3.1h-2.2zM263.7 249.3h2.2v3.1h-2.2zM253.6 252.2h2.2v3.1h-2.2zM255.7 252.2h2.2v3.1h-2.2zM257.7 252.2h2.2v3.1h-2.2zM263.7 252.2h2.2v3.1h-2.2zM251.6 255.2h2.2v3.1h-2.2zM255.7 255.2h2.2v3.1h-2.2zM251.6 258.1h2.2v3.1h-2.2zM257.7 258.1h2.2v3.1h-2.2zM249.6 261h2.2v3.1h-2.2zM253.6 261h2.2v3.1h-2.2zM257.7 261h2.2v3.1h-2.2zM259.7 261h2.2v3.1h-2.2zM245.6 264h2.2v3.1h-2.2zM247.6 264h2.2v3.1h-2.2zM251.6 264h2.2v3.1h-2.2zM251.6 266.9h2.2v3.1h-2.2zM257.7 266.9h2.2v3.1h-2.2zM259.7 266.9h2.2v3.1h-2.2zM255.7 269.8h2.2v3.1h-2.2zM259.7 269.8h2.2v3.1h-2.2zM261.7 269.8h2.2v3.1h-2.2zM245.6 272.7h2.2v3.1h-2.2zM251.6 272.7h2.2v3.1h-2.2zM257.7 272.7h2.2v3.1h-2.2zM259.7 272.7h2.2v3.1h-2.2zM249.6 275.7h2.2v3.1h-2.2zM255.7 278.6h2.2v3.1h-2.2zM249.6 281.5h2.2v3.1h-2.2zM255.7 281.5h2.2v3.1h-2.2zM257.7 281.5h2.2v3.1h-2.2zM251.6 284.5h2.2v3.1h-2.2zM253.6 284.5h2.2v3.1h-2.2zM243.6 290.3h2.2v3.1h-2.2zM247.6 290.3h2.2v3.1h-2.2zM249.6 290.3h2.2v3.1h-2.2zM253.6 290.3h2.2v3.1h-2.2zM255.7 290.3h2.2v3.1h-2.2zM257.7 290.3h2.2v3.1h-2.2zM245.6 293.3h2.2v3.1h-2.2zM251.6 293.3h2.2v3.1h-2.2zM253.6 296.2h2.2v3.1h-2.2zM255.7 296.2h2.2v3.1h-2.2zM243.6 299.1h2.2v3.1h-2.2zM247.6 299.1h2.2v3.1h-2.2zM257.7 299.1h2.2v3.1h-2.2zM253.6 305h2.2v3.1h-2.2zM251.6 307.9h2.2v3.1h-2.2zM249.6 310.8h2.2v3.1h-2.2zM251.6 310.8h2.2v3.1h-2.2zM257.7 310.8h2.2v3.1h-2.2zM249.6 313.8h2.2v3.1h-2.2zM251.6 313.8h2.2v3.1h-2.2zM247.6 316.7h2.2v3.1h-2.2zM249.6 316.7h2.2v3.1h-2.2zM251.6 316.7h2.2v3.1h-2.2zM247.6 319.6h2.2v3.1h-2.2zM255.7 322.5h2.2v3.1h-2.2zM267.7 237.6h2.2v3.1h-2.2zM271.7 293.3h2.2v3.1h-2.2zM273.7 293.3h2.2v3.1h-2.2zM275.7 293.3h2.2v3.1h-2.2zM277.7 293.3h2.2v3.1h-2.2zM251.6 316.7h2.2v3.1h-2.2zM253.6 316.7h2.2v3.1h-2.2zM255.7 316.7h2.2v3.1h-2.2zM257.7 316.7h2.2v3.1h-2.2zM259.7 316.7h2.2v3.1h-2.2zM261.7 316.7h2.2v3.1h-2.2zM263.7 316.7h2.2v3.1h-2.2zM251.6 325.5h2.2v3.1h-2.2zM253.6 325.5h2.2v3.1h-2.2zM255.7 325.5h2.2v3.1h-2.2zM257.7 325.5h2.2v3.1h-2.2zM259.7 325.5h2.2v3.1h-2.2zM261.7 325.5h2.2v3.1h-2.2z" fill="#7418f0"/>
<path d="M245.6 237.6h2.2v3.1h-2.2zM247.6 237.6h2.2v3.1h-2.2zM251.6 237.6h2.2v3.1h-2.2zM255.7 240.5h2.2v3.1h-2.2zM257.7 243.5h2.2v3.1h-2.2zM251.6 246.4h2.2v3.1h-2.2zM255.7 246.4h2.2v3.1h-2.2zM261.7 246.4h2.2v3.1h-2.2zM263.7 246.4h2.2v3.1h-2.2zM265.7 246.4h2.2v3.1h-2.2zM245.6 249.3h2.2v3.1h-2.2zM257.7 249.3h2.2v3.1h-2.2zM265.7 249.3h2.2v3.1h-2.2zM247.6 252.2h2.2v3.1h-2.2zM257.7 255.2h2.2v3.1h-2.2zM259.7 255.2h2.2v3.1h-2.2zM253.6 258.1h2.2v3.1h-2.2zM255.7 258.1h2.2v3.1h-2.2zM259.7 258.1h2.2v3.1h-2.2zM261.7 258.1h2.2v3.1h-2.2zM255.7 261h2.2v3.1h-2.2zM261.7 261h2.2v3.1h-2.2zM243.6 264h2.2v3.1h-2.2zM249.6 264h2.2v3.1h-2.2zM253.6 264h2.2v3.1h-2.2zM255.7 264h2.2v3.1h-2.2zM257.7 264h2.2v3.1h-2.2zM259.7 264h2.2v3.1h-2.2zM249.6 266.9h2.2v3.1h-2.2zM253.6 266.9h2.2v3.1h-2.2zM251.6 269.8h2.2v3.1h-2.2zM247.6 272.7h2.2v3.1h-2.2zM249.6 272.7h2.2v3.1h-2.2zM253.6 272.7h2.2v3.1h-2.2zM245.6 275.7h2.2v3.1h-2.2zM247.6 275.7h2.2v3.1h-2.2zM251.6 275.7h2.2v3.1h-2.2zM253.6 275.7h2.2v3.1h-2.2zM255.7 275.7h2.2v3.1h-2.2zM257.7 275.7h2.2v3.1h-2.2zM259.7 275.7h2.2v3.1h-2.2zM261.7 275.7h2.2v3.1h-2.2zM245.6 278.6h2.2v3.1h-2.2zM249.6 278.6h2.2v3.1h-2.2zM253.6 278.6h2.2v3.1h-2.2zM259.7 278.6h2.2v3.1h-2.2zM251.6 281.5h2.2v3.1h-2.2zM257.7 284.5h2.2v3.1h-2.2zM247.6 293.3h2.2v3.1h-2.2zM249.6 293.3h2.2v3.1h-2.2zM253.6 293.3h2.2v3.1h-2.2zM259.7 293.3h2.2v3.1h-2.2zM247.6 296.2h2.2v3.1h-2.2zM251.6 296.2h2.2v3.1h-2.2zM251.6 299.1h2.2v3.1h-2.2zM255.7 299.1h2.2v3.1h-2.2zM259.7 299.1h2.2v3.1h-2.2zM249.6 302h2.2v3.1h-2.2zM253.6 302h2.2v3.1h-2.2zM255.7 302h2.2v3.1h-2.2zM249.6 305h2.2v3.1h-2.2zM251.6 305h2.2v3.1h-2.2zM249.6 307.9h2.2v3.1h-2.2zM253.6 307.9h2.2v3.1h-2.2zM253.6 310.8h2.2v3.1h-2.2zM253.6 313.8h2.2v3.1h-2.2zM255.7 313.8h2.2v3.1h-2.2zM253.6 316.7h2.2v3.1h-2.2zM255.7 316.7h2.2v3.1h-2.2zM243.6 319.6h2.2v3.1h-2.2zM245.6 319.6h2.2v3.1h-2.2zM249.6 319.6h2.2v3.1h-2.2zM245.6 322.5h2.2v3.1h-2.2zM251.6 322.5h2.2v3.1h-2.2zM245.6 325.5h2.2v3.1h-2.2zM247.6 325.5h2.2v3.1h-2.2zM251.6 325.5h2.2v3.1h-2.2zM253.6 325.5h2.2v3.1h-2.2zM255.7 325.5h2.2v3.1h-2.2z" fill="#9030ff"/>
<path d="M257.7 246.4h2.2v3.1h-2.2zM255.7 266.9h2.2v3.1h-2.2z" fill="#c22a6e"/>
<path d="M249.6 255.2h2.2v3.1h-2.2zM269.7 237.6h2.2v3.1h-2.2z" fill="#e2421c"/>
<path d="M279.7 293.3h2.2v3.1h-2.2z" fill="#ffc21a"/>
</g>
<g>
<path d="M698.2 20.1h5.9v4.7h-5.9zM721 42.7h5.9v4.7h-5.9zM726.7 96.8h5.9v4.7h-5.9zM726.7 101.3h5.9v4.7h-5.9zM738.1 29.1h5.9v4.7h-5.9z" fill="#4c10b4"/>
<path d="M698.2 29.1h5.9v4.7h-5.9zM709.6 29.1h5.9v4.7h-5.9zM698.2 33.6h5.9v4.7h-5.9zM703.9 38.1h5.9v4.7h-5.9zM703.9 47.2h5.9v4.7h-5.9zM715.3 47.2h5.9v4.7h-5.9zM698.2 56.2h5.9v4.7h-5.9zM709.6 56.2h5.9v4.7h-5.9zM709.6 60.7h5.9v4.7h-5.9zM715.3 65.2h5.9v4.7h-5.9zM721 65.2h5.9v4.7h-5.9zM715.3 92.3h5.9v4.7h-5.9zM721 92.3h5.9v4.7h-5.9zM721 101.3h5.9v4.7h-5.9zM715.3 29.1h5.9v4.7h-5.9zM721 29.1h5.9v4.7h-5.9zM726.7 29.1h5.9v4.7h-5.9zM732.4 29.1h5.9v4.7h-5.9zM721 96.8h5.9v4.7h-5.9zM726.7 96.8h5.9v4.7h-5.9zM732.4 96.8h5.9v4.7h-5.9zM703.9 101.3h5.9v4.7h-5.9zM703.9 42.7h5.9v4.7h-5.9z" fill="#7418f0"/>
<path d="M709.6 20.1h5.9v4.7h-5.9zM703.9 24.6h5.9v4.7h-5.9zM709.6 38.1h5.9v4.7h-5.9zM703.9 42.7h5.9v4.7h-5.9zM715.3 42.7h5.9v4.7h-5.9zM715.3 51.7h5.9v4.7h-5.9zM721 51.7h5.9v4.7h-5.9zM715.3 60.7h5.9v4.7h-5.9zM726.7 60.7h5.9v4.7h-5.9zM709.6 65.2h5.9v4.7h-5.9zM726.7 69.7h5.9v4.7h-5.9zM709.6 78.7h5.9v4.7h-5.9zM726.7 83.2h5.9v4.7h-5.9zM726.7 92.3h5.9v4.7h-5.9zM709.6 101.3h5.9v4.7h-5.9z" fill="#9030ff"/>
<path d="M698.2 15.6h5.9v4.7h-5.9zM703.9 15.6h5.9v4.7h-5.9zM698.2 24.6h5.9v4.7h-5.9zM709.6 24.6h5.9v4.7h-5.9zM715.3 24.6h5.9v4.7h-5.9zM703.9 29.1h5.9v4.7h-5.9zM698.2 38.1h5.9v4.7h-5.9zM698.2 42.7h5.9v4.7h-5.9zM709.6 42.7h5.9v4.7h-5.9zM709.6 47.2h5.9v4.7h-5.9zM703.9 56.2h5.9v4.7h-5.9zM715.3 56.2h5.9v4.7h-5.9zM721 56.2h5.9v4.7h-5.9zM698.2 78.7h5.9v4.7h-5.9zM703.9 78.7h5.9v4.7h-5.9zM703.9 83.2h5.9v4.7h-5.9zM709.6 83.2h5.9v4.7h-5.9zM715.3 83.2h5.9v4.7h-5.9zM732.4 60.7h5.9v4.7h-5.9z" fill="#c22a6e"/>
<path d="M709.6 15.6h5.9v4.7h-5.9zM715.3 15.6h5.9v4.7h-5.9zM703.9 33.6h5.9v4.7h-5.9zM709.6 33.6h5.9v4.7h-5.9zM715.3 33.6h5.9v4.7h-5.9zM709.6 51.7h5.9v4.7h-5.9zM721 60.7h5.9v4.7h-5.9zM709.6 69.7h5.9v4.7h-5.9zM721 83.2h5.9v4.7h-5.9zM721 96.8h5.9v4.7h-5.9zM732.4 101.3h5.9v4.7h-5.9z" fill="#e2421c"/>
<path d="M703.9 69.7h5.9v4.7h-5.9zM715.3 69.7h5.9v4.7h-5.9zM738.1 96.8h5.9v4.7h-5.9zM709.6 101.3h5.9v4.7h-5.9zM709.6 42.7h5.9v4.7h-5.9z" fill="#ffc21a"/>
</g>
<g>
<path d="M712.5 135.7h3.7v3.3h-3.7zM716 135.7h3.7v3.3h-3.7zM716 142h3.7v3.3h-3.7zM726.7 145.1h3.7v3.3h-3.7zM708.9 148.2h3.7v3.3h-3.7zM712.5 148.2h3.7v3.3h-3.7zM708.9 154.4h3.7v3.3h-3.7zM708.9 157.5h3.7v3.3h-3.7zM705.3 163.7h3.7v3.3h-3.7zM716 163.7h3.7v3.3h-3.7zM705.3 169.9h3.7v3.3h-3.7zM708.9 169.9h3.7v3.3h-3.7zM712.5 169.9h3.7v3.3h-3.7zM708.9 173.1h3.7v3.3h-3.7zM719.6 173.1h3.7v3.3h-3.7zM712.5 176.2h3.7v3.3h-3.7zM719.6 179.3h3.7v3.3h-3.7zM708.9 182.4h3.7v3.3h-3.7zM708.9 191.7h3.7v3.3h-3.7zM701.8 201h3.7v3.3h-3.7zM705.3 201h3.7v3.3h-3.7zM712.5 201h3.7v3.3h-3.7z" fill="#4c10b4"/>
<path d="M712.5 138.8h3.7v3.3h-3.7zM705.3 142h3.7v3.3h-3.7zM708.9 142h3.7v3.3h-3.7zM719.6 142h3.7v3.3h-3.7zM723.1 142h3.7v3.3h-3.7zM708.9 145.1h3.7v3.3h-3.7zM712.5 145.1h3.7v3.3h-3.7zM705.3 148.2h3.7v3.3h-3.7zM716 148.2h3.7v3.3h-3.7zM719.6 148.2h3.7v3.3h-3.7zM723.1 148.2h3.7v3.3h-3.7zM726.7 148.2h3.7v3.3h-3.7zM719.6 154.4h3.7v3.3h-3.7zM723.1 154.4h3.7v3.3h-3.7zM712.5 157.5h3.7v3.3h-3.7zM719.6 157.5h3.7v3.3h-3.7zM708.9 163.7h3.7v3.3h-3.7zM712.5 163.7h3.7v3.3h-3.7zM723.1 163.7h3.7v3.3h-3.7zM705.3 173.1h3.7v3.3h-3.7zM712.5 173.1h3.7v3.3h-3.7zM716 173.1h3.7v3.3h-3.7zM705.3 176.2h3.7v3.3h-3.7zM708.9 176.2h3.7v3.3h-3.7zM701.8 179.3h3.7v3.3h-3.7zM705.3 179.3h3.7v3.3h-3.7zM716 179.3h3.7v3.3h-3.7zM701.8 188.6h3.7v3.3h-3.7zM705.3 188.6h3.7v3.3h-3.7zM705.3 191.7h3.7v3.3h-3.7zM716 191.7h3.7v3.3h-3.7zM698.2 194.8h3.7v3.3h-3.7zM705.3 194.8h3.7v3.3h-3.7zM708.9 197.9h3.7v3.3h-3.7zM716 197.9h3.7v3.3h-3.7zM708.9 201h3.7v3.3h-3.7zM712.5 204.2h3.7v3.3h-3.7zM716 142h3.7v3.3h-3.7z" fill="#7418f0"/>
<path d="M708.9 135.7h3.7v3.3h-3.7zM719.6 138.8h3.7v3.3h-3.7zM712.5 142h3.7v3.3h-3.7zM726.7 142h3.7v3.3h-3.7zM701.8 145.1h3.7v3.3h-3.7zM719.6 145.1h3.7v3.3h-3.7zM723.1 145.1h3.7v3.3h-3.7zM712.5 154.4h3.7v3.3h-3.7zM716 154.4h3.7v3.3h-3.7zM726.7 154.4h3.7v3.3h-3.7zM716 157.5h3.7v3.3h-3.7zM701.8 163.7h3.7v3.3h-3.7zM719.6 163.7h3.7v3.3h-3.7zM708.9 179.3h3.7v3.3h-3.7zM712.5 179.3h3.7v3.3h-3.7zM701.8 182.4h3.7v3.3h-3.7zM705.3 182.4h3.7v3.3h-3.7zM712.5 182.4h3.7v3.3h-3.7zM716 182.4h3.7v3.3h-3.7zM708.9 188.6h3.7v3.3h-3.7zM701.8 194.8h3.7v3.3h-3.7zM708.9 194.8h3.7v3.3h-3.7zM701.8 197.9h3.7v3.3h-3.7zM705.3 197.9h3.7v3.3h-3.7zM712.5 197.9h3.7v3.3h-3.7zM719.6 197.9h3.7v3.3h-3.7zM705.3 204.2h3.7v3.3h-3.7zM708.9 204.2h3.7v3.3h-3.7zM716 204.2h3.7v3.3h-3.7zM719.6 204.2h3.7v3.3h-3.7z" fill="#9030ff"/>
<path d="M719.6 135.7h3.7v3.3h-3.7zM716 145.1h3.7v3.3h-3.7zM723.1 204.2h3.7v3.3h-3.7z" fill="#c22a6e"/>
<path d="M719.6 142h3.7v3.3h-3.7zM716 201h3.7v3.3h-3.7z" fill="#e2421c"/>
</g>
<g>
<path d="M706.8 237.6h3v3h-3zM721 237.6h3v3h-3zM729.6 240.4h3v3h-3zM721 243.3h3v3h-3zM726.7 243.3h3v3h-3zM721 248.9h3v3h-3zM726.7 248.9h3v3h-3zM718.2 251.8h3v3h-3zM718.2 254.6h3v3h-3zM718.2 260.3h3v3h-3zM721 266h3v3h-3zM732.4 266h3v3h-3zM723.9 268.8h3v3h-3zM709.6 271.6h3v3h-3zM718.2 274.5h3v3h-3zM718.2 277.3h3v3h-3zM723.9 283h3v3h-3zM715.3 285.8h3v3h-3zM721 291.5h3v3h-3zM723.9 294.3h3v3h-3zM709.6 297.2h3v3h-3zM718.2 300h3v3h-3zM701.1 302.9h3v3h-3zM701.1 308.5h3v3h-3zM698.2 314.2h3v3h-3zM718.2 317h3v3h-3zM703.9 322.7h3v3h-3z" fill="#4c10b4"/>
<path d="M712.5 237.6h3v3h-3zM723.9 237.6h3v3h-3zM726.7 237.6h3v3h-3zM718.2 240.4h3v3h-3zM718.2 248.9h3v3h-3zM712.5 251.8h3v3h-3zM715.3 251.8h3v3h-3zM723.9 251.8h3v3h-3zM715.3 254.6h3v3h-3zM721 254.6h3v3h-3zM723.9 254.6h3v3h-3zM712.5 257.5h3v3h-3zM718.2 257.5h3v3h-3zM732.4 257.5h3v3h-3zM721 260.3h3v3h-3zM712.5 263.1h3v3h-3zM718.2 263.1h3v3h-3zM721 263.1h3v3h-3zM723.9 263.1h3v3h-3zM726.7 263.1h3v3h-3zM729.6 263.1h3v3h-3zM718.2 268.8h3v3h-3zM721 268.8h3v3h-3zM715.3 271.6h3v3h-3zM723.9 271.6h3v3h-3zM726.7 277.3h3v3h-3zM706.8 280.2h3v3h-3zM718.2 280.2h3v3h-3zM715.3 283h3v3h-3zM718.2 283h3v3h-3zM709.6 285.8h3v3h-3zM718.2 285.8h3v3h-3zM723.9 285.8h3v3h-3zM718.2 288.7h3v3h-3zM721 288.7h3v3h-3zM723.9 288.7h3v3h-3zM723.9 291.5h3v3h-3zM726.7 294.3h3v3h-3zM706.8 297.2h3v3h-3zM712.5 297.2h3v3h-3zM715.3 297.2h3v3h-3zM718.2 297.2h3v3h-3zM721 297.2h3v3h-3zM703.9 300h3v3h-3zM698.2 302.9h3v3h-3zM703.9 302.9h3v3h-3zM712.5 302.9h3v3h-3zM721 302.9h3v3h-3zM701.1 305.7h3v3h-3zM706.8 305.7h3v3h-3zM712.5 308.5h3v3h-3zM709.6 311.4h3v3h-3zM701.1 314.2h3v3h-3zM703.9 314.2h3v3h-3zM712.5 314.2h3v3h-3zM703.9 317h3v3h-3zM712.5 317h3v3h-3zM706.8 319.9h3v3h-3zM709.6 319.9h3v3h-3zM721 248.9h3v3h-3zM723.9 248.9h3v3h-3zM726.7 263.1h3v3h-3zM729.6 263.1h3v3h-3zM732.4 263.1h3v3h-3z" fill="#7418f0"/>
<path d="M715.3 237.6h3v3h-3zM718.2 237.6h3v3h-3zM721 240.4h3v3h-3zM723.9 240.4h3v3h-3zM726.7 240.4h3v3h-3zM715.3 243.3h3v3h-3zM726.7 246.1h3v3h-3zM729.6 251.8h3v3h-3zM732.4 251.8h3v3h-3zM712.5 254.6h3v3h-3zM729.6 254.6h3v3h-3zM715.3 257.5h3v3h-3zM721 257.5h3v3h-3zM729.6 257.5h3v3h-3zM726.7 260.3h3v3h-3zM715.3 263.1h3v3h-3zM712.5 266h3v3h-3zM723.9 266h3v3h-3zM729.6 266h3v3h-3zM712.5 268.8h3v3h-3zM718.2 271.6h3v3h-3zM709.6 274.5h3v3h-3zM715.3 274.5h3v3h-3zM723.9 274.5h3v3h-3zM721 277.3h3v3h-3zM723.9 277.3h3v3h-3zM729.6 277.3h3v3h-3zM709.6 280.2h3v3h-3zM715.3 280.2h3v3h-3zM723.9 280.2h3v3h-3zM726.7 280.2h3v3h-3zM729.6 280.2h3v3h-3zM712.5 283h3v3h-3zM721 283h3v3h-3zM706.8 285.8h3v3h-3zM706.8 288.7h3v3h-3zM709.6 288.7h3v3h-3zM715.3 288.7h3v3h-3zM712.5 291.5h3v3h-3zM718.2 291.5h3v3h-3zM703.9 294.3h3v3h-3zM712.5 294.3h3v3h-3zM718.2 294.3h3v3h-3zM706.8 300h3v3h-3zM712.5 300h3v3h-3zM706.8 302.9h3v3h-3zM715.3 302.9h3v3h-3zM703.9 305.7h3v3h-3zM709.6 305.7h3v3h-3zM706.8 308.5h3v3h-3zM698.2 311.4h3v3h-3zM706.8 311.4h3v3h-3zM698.2 317h3v3h-3zM706.8 317h3v3h-3zM709.6 317h3v3h-3zM703.9 319.9h3v3h-3zM706.8 322.7h3v3h-3zM709.6 322.7h3v3h-3zM698.2 325.6h3v3h-3zM706.8 325.6h3v3h-3zM709.6 325.6h3v3h-3z" fill="#9030ff"/>
<path d="M709.6 237.6h3v3h-3zM729.6 237.6h3v3h-3zM732.4 240.4h3v3h-3zM718.2 243.3h3v3h-3zM723.9 243.3h3v3h-3zM721 246.1h3v3h-3zM726.7 254.6h3v3h-3zM726.7 257.5h3v3h-3zM723.9 260.3h3v3h-3zM718.2 266h3v3h-3zM721 271.6h3v3h-3zM729.6 274.5h3v3h-3zM712.5 280.2h3v3h-3zM726.7 283h3v3h-3zM712.5 285.8h3v3h-3zM721 285.8h3v3h-3zM706.8 294.3h3v3h-3zM709.6 294.3h3v3h-3zM723.9 297.2h3v3h-3zM709.6 302.9h3v3h-3zM703.9 308.5h3v3h-3zM709.6 308.5h3v3h-3zM701.1 311.4h3v3h-3zM703.9 311.4h3v3h-3zM715.3 317h3v3h-3zM698.2 319.9h3v3h-3zM701.1 322.7h3v3h-3zM701.1 325.6h3v3h-3z" fill="#c22a6e"/>
<path d="M715.3 240.4h3v3h-3zM718.2 246.1h3v3h-3zM723.9 248.9h3v3h-3zM721 251.8h3v3h-3zM726.7 251.8h3v3h-3zM715.3 266h3v3h-3zM726.7 266h3v3h-3zM721 274.5h3v3h-3zM715.3 277.3h3v3h-3zM712.5 288.7h3v3h-3zM709.6 291.5h3v3h-3zM715.3 291.5h3v3h-3zM715.3 294.3h3v3h-3zM709.6 300h3v3h-3zM715.3 300h3v3h-3zM718.2 302.9h3v3h-3zM712.5 305.7h3v3h-3zM709.6 314.2h3v3h-3zM701.1 317h3v3h-3zM712.5 322.7h3v3h-3zM735.2 263.1h3v3h-3z" fill="#e2421c"/>
<path d="M723.9 246.1h3v3h-3zM712.5 271.6h3v3h-3zM712.5 274.5h3v3h-3zM726.7 248.9h3v3h-3z" fill="#ffc21a"/>
</g>
<path d="M344.6 25.3L345.4 26.4L346.2 26.1L347.1 27.7L347.9 26.9L348.7 25.5L349.5 24.7L350.4 26.4L351.2 26.7L352 26.6L352.8 28.2L353.7 25.8L354.5 25.6L355.3 25.6L356.1 25.2L357 26L357.8 26L358.6 25.5L359.4 25.4L360.3 26.2L361.1 27.1L361.9 26.1L362.7 25.9L363.6 26.8L364.4 25.7L365.2 25.5L366 25.6L366.8 25.9L367.7 25.7L368.5 25L369.3 25.9L370.1 25L371 25.6L371.8 25.6L372.6 24.9L373.4 25.5L374.3 25.6L375.1 26.3L375.9 26.3L376.7 26.1L377.6 26.5L378.4 26.8L379.2 25.8L380 25.3L380.9 26.4L381.7 26.7L382.5 25.8L383.3 25.2L384.2 26.5L385 26.6L385.8 25.5L386.6 24.5L387.4 24.8L388.3 26.5L389.1 25.4L389.9 25.9L390.7 26.3L391.6 25.9L392.4 26.8L393.2 27L394 28.5L394.9 26.3L395.7 26L396.5 26.4L397.3 26.3L398.2 26.3L399 26.6L399.8 26.8L400.6 26.7L401.5 28.1L402.3 28.1L403.1 27.2L403.9 25.6L404.8 25.6L405.6 25.4L406.4 25.4L407.2 26L408 25.9L408.9 26.1L409.7 26.5L410.5 26.3L411.3 26L412.2 26.4L413 26.8L413.8 26.3L414.6 26.2L415.5 26L416.3 25.3L417.1 25.7L417.9 26L418.8 26.5L419.6 27.1L420.4 26.2L421.2 25.6L422.1 25.1L422.9 24.5L423.7 24.5L424.5 23.3L425.4 22.4L426.2 21.1L427 20.8" fill="none" stroke="#dcdcdc" stroke-width="1.1" stroke-linejoin="round"/>
<path d="M344.6 34.8L345.4 34.2L346.2 35.4L347.1 35.9L347.9 35.3L348.7 34.1L349.5 34.5L350.4 35.8L351.2 36L352 35.6L352.8 34.7L353.7 35.1L354.5 35.4L355.3 35.5L356.1 35.2L357 35.8L357.8 35.5L358.6 35.2L359.4 34.1L360.3 34.8L361.1 34.4L361.9 35.6L362.7 34.8L363.6 35L364.4 35.5L365.2 35.4L366 34.7L366.8 35.3L367.7 34.6L368.5 33.9L369.3 33.6L370.1 33.5L371 35.4L371.8 35.1L372.6 35.7L373.4 34.8L374.3 35L375.1 35L375.9 34.8L376.7 35.5L377.6 35.3L378.4 35.8L379.2 34L380 35.1L380.9 35.2L381.7 36.4L382.5 36.7L383.3 36.4L384.2 35.2L385 34.7L385.8 34.8L386.6 35.5L387.4 34.1L388.3 35.5L389.1 35.9L389.9 35.2L390.7 35.9L391.6 35.3L392.4 34.6L393.2 35.1L394 34.9L394.9 35.1L395.7 35.7L396.5 37.6L397.3 37L398.2 36L399 36.7L399.8 36.2L400.6 35.5L401.5 34.4L402.3 35.9L403.1 35.9L403.9 35.3L404.8 34.9L405.6 36.1L406.4 34.3L407.2 35.4L408 34.6L408.9 35.1L409.7 34.9L410.5 34L411.3 34.3L412.2 34.8L413 35.8L413.8 35.9L414.6 36.5L415.5 34.4L416.3 36L417.1 37.3L417.9 34.9L418.8 34.3L419.6 35.1L420.4 34.6L421.2 35.6L422.1 35.8L422.9 35.1L423.7 34.9L424.5 35.4L425.4 34.2L426.2 34.3L427 34.8" fill="none" stroke="#c8c8c8" stroke-width="1.1" stroke-linejoin="round"/>
<path d="M344.6 44L345.4 44.4L346.2 41.9L347.1 43L347.9 43.7L348.7 43.8L349.5 44.5L350.4 45L351.2 44.2L352 44.7L352.8 43.9L353.7 44.4L354.5 45.7L355.3 45.9L356.1 45.6L357 46.3L357.8 45.2L358.6 44.9L359.4 43.9L360.3 44.8L361.1 44.7L361.9 44.1L362.7 43.7L363.6 44.9L364.4 43.5L365.2 44.5L366 43.6L366.8 44.3L367.7 44.7L368.5 45.4L369.3 44.9L370.1 42.8L371 44.2L371.8 43.2L372.6 42.9L373.4 44.1L374.3 43.5L375.1 43L375.9 44.1L376.7 44.7L377.6 43.7L378.4 43.9L379.2 42.6L380 43.4L380.9 44.8L381.7 44.6L382.5 45.3L383.3 44.2L384.2 43.8L385 44.5L385.8 45.1L386.6 44L387.4 44.5L388.3 43.5L389.1 44.8L389.9 44.8L390.7 44.9L391.6 45.4L392.4 42.8L393.2 42.5L394 44.1L394.9 43.7L395.7 45.4L396.5 43.9L397.3 43.4L398.2 44.2L399 44.6L399.8 44.3L400.6 44L401.5 44.5L402.3 45.1L403.1 44.9L403.9 44.9L404.8 44L405.6 44.2L406.4 44.1L407.2 45.5L408 45.1L408.9 45L409.7 45L410.5 44.7L411.3 44.7L412.2 45.6L413 44.2L413.8 43.6L414.6 44.5L415.5 44L416.3 44.9L417.1 45.5L417.9 45L418.8 43.5L419.6 44.1L420.4 45.4L421.2 44.6L422.1 44.9L422.9 45.1L423.7 44.4L424.5 45.7L425.4 46.2L426.2 46.2L427 44.3" fill="none" stroke="#b0b0b0" stroke-width="1.1" stroke-linejoin="round"/>
<path d="M344.6 52L345.4 53.7L346.2 53.3L347.1 53.6L347.9 54.2L348.7 54.2L349.5 54.1L350.4 53.8L351.2 53.4L352 52.7L352.8 53.1L353.7 52.6L354.5 52.8L355.3 53.2L356.1 53.6L357 54.2L357.8 54.9L358.6 54.2L359.4 53.9L360.3 53.5L361.1 53.3L361.9 54.3L362.7 54.4L363.6 54.7L364.4 53.3L365.2 53.5L366 53.5L366.8 54.2L367.7 54.7L368.5 54.4L369.3 54L370.1 53.4L371 54.6L371.8 53.7L372.6 54.2L373.4 54.2L374.3 54.1L375.1 54.1L375.9 53.5L376.7 52.9L377.6 53.1L378.4 53.8L379.2 53.4L380 53.2L380.9 52.8L381.7 53.1L382.5 54.5L383.3 54.5L384.2 54.2L385 53.2L385.8 53.5L386.6 52.9L387.4 53.1L388.3 54.2L389.1 53.8L389.9 53.3L390.7 53.2L391.6 54.4L392.4 53.6L393.2 54L394 55.2L394.9 54.6L395.7 55.4L396.5 55.2L397.3 53.2L398.2 51.7L399 52.1L399.8 52.7L400.6 51.9L401.5 52.7L402.3 53.9L403.1 55.4L403.9 53.7L404.8 55.2L405.6 56.2L406.4 55.1L407.2 54.1L408 54.4L408.9 53.2L409.7 53.5L410.5 53.4L411.3 53.2L412.2 53.8L413 53.5L413.8 51.9L414.6 53.6L415.5 53.5L416.3 53.2L417.1 53.8L417.9 53.7L418.8 54.8L419.6 54.4L420.4 53.9L421.2 52.9L422.1 52.6L422.9 53.6L423.7 54.4L424.5 52.6L425.4 52.6L426.2 54.5L427 54.2" fill="none" stroke="#9a9a9a" stroke-width="1.1" stroke-linejoin="round"/>
<path d="M344.6 62.9L345.4 64L346.2 62.1L347.1 60.1L347.9 61.3L348.7 61.1L349.5 61L350.4 61.3L351.2 61.5L352 61.2L352.8 62.2L353.7 63.6L354.5 64.3L355.3 62.8L356.1 62.3L357 62.5L357.8 64.3L358.6 63.5L359.4 63L360.3 63.5L361.1 63.5L361.9 61.3L362.7 61.1L363.6 61.4L364.4 61.9L365.2 62.7L366 62.9L366.8 62.2L367.7 63.1L368.5 63L369.3 61.5L370.1 63.1L371 63.4L371.8 61.6L372.6 61.9L373.4 62.2L374.3 63.1L375.1 63.9L375.9 62.2L376.7 64.4L377.6 63L378.4 63.2L379.2 62.9L380 64.3L380.9 62.6L381.7 62.1L382.5 62.2L383.3 62.1L384.2 63.4L385 62.8L385.8 62.3L386.6 62.5L387.4 65L388.3 63.6L389.1 62.9L389.9 63.6L390.7 63L391.6 61.8L392.4 62.3L393.2 61.5L394 62.6L394.9 63.1L395.7 62.6L396.5 63.3L397.3 64.2L398.2 63L399 62.8L399.8 62.2L400.6 63.1L401.5 63.1L402.3 62.4L403.1 62.9L403.9 62.9L404.8 62.5L405.6 63.2L406.4 62.6L407.2 63.7L408 62.7L408.9 60.6L409.7 61.3L410.5 62.4L411.3 63.8L412.2 64L413 63.4L413.8 63.5L414.6 62.6L415.5 62.5L416.3 62L417.1 62.5L417.9 62L418.8 61.3L419.6 62.8L420.4 62.7L421.2 62.8L422.1 62.7L422.9 61.8L423.7 62.5L424.5 63.3L425.4 63.9L426.2 64.2L427 63.3" fill="none" stroke="#888" stroke-width="1.1" stroke-linejoin="round"/>
<path d="M344.6 80.8L345.4 81.3L346.2 80.7L347.1 79.9L347.9 79.3L348.7 79.8L349.5 80.4L350.4 80.8L351.2 81.1L352 81.7L352.8 82.3L353.7 82.7L354.5 80.8L355.3 80.9L356.1 80.1L357 81.6L357.8 80.9L358.6 80.9L359.4 80.4L360.3 80.8L361.1 80.2L361.9 79.9L362.7 79.5L363.6 81.8L364.4 82L365.2 80.1L366 77.8L366.8 77.5L367.7 77L368.5 74.3L369.3 72.6L370.1 70.4L371 66.8L371.8 64.7L372.6 63.7L373.4 60.5L374.3 55.9L375.1 53.7L375.9 49.5L376.7 47L377.6 42.9L378.4 40.8L379.2 36.4L380 34.9L380.9 33.9L381.7 30.1L382.5 27.8L383.3 26.4L384.2 27.8L385 26.5L385.8 23.9L386.6 28.2L387.4 34.1L388.3 35.2L389.1 38.6L389.9 42.3L390.7 45.9L391.6 48.4L392.4 50.1L393.2 55.2L394 56.2L394.9 58.6L395.7 58.8L396.5 60.2L397.3 61.7L398.2 62.7L399 62.7L399.8 63.3L400.6 67L401.5 66.3L402.3 68.1L403.1 70.9L403.9 69.9L404.8 71.7L405.6 72.7L406.4 72.1L407.2 73.2L408 73.6L408.9 73.3L409.7 74.1L410.5 77L411.3 76.6L412.2 77.5L413 77.9L413.8 78.3L414.6 77.5L415.5 77.4L416.3 77.8L417.1 77.1L417.9 77.6L418.8 78.3L419.6 77.7L420.4 77.9L421.2 78.3L422.1 77.9L422.9 78.1L423.7 78.6L424.5 79.1L425.4 79.6L426.2 80.3L427 78.2" fill="none" stroke="#5a5a5a" stroke-width="1.3" stroke-linejoin="round"/>
<path d="M344.6 90.5L345.4 91L346.2 89.9L347.1 90L347.9 88.8L348.7 88.9L349.5 89.8L350.4 89.3L351.2 89.5L352 90.1L352.8 89.3L353.7 90.1L354.5 88.6L355.3 88.7L356.1 89.7L357 89.9L357.8 89.3L358.6 90.7L359.4 90.3L360.3 91.1L361.1 90.3L361.9 89.9L362.7 88.3L363.6 88.2L364.4 87.3L365.2 85L366 84.6L366.8 81.8L367.7 80.7L368.5 79.6L369.3 76.1L370.1 73.4L371 71.8L371.8 67.6L372.6 64.3L373.4 63.8L374.3 61.9L375.1 59.1L375.9 56.6L376.7 54.8L377.6 51.1L378.4 49L379.2 46.8L380 45L380.9 43.1L381.7 42.9L382.5 42.2L383.3 40.7L384.2 39.7L385 37.1L385.8 37L386.6 42.9L387.4 47.7L388.3 48.4L389.1 51.7L389.9 54.3L390.7 59.2L391.6 61.3L392.4 62.5L393.2 63.5L394 67L394.9 69L395.7 70.9L396.5 72.1L397.3 73.9L398.2 74.7L399 76.1L399.8 76.1L400.6 78.1L401.5 79.8L402.3 81.3L403.1 81.1L403.9 83.2L404.8 83.8L405.6 83.2L406.4 82.2L407.2 85L408 85.4L408.9 85.3L409.7 85.5L410.5 84.5L411.3 85L412.2 86.2L413 85.6L413.8 85.7L414.6 86.1L415.5 87.6L416.3 87.2L417.1 86L417.9 87.2L418.8 87.1L419.6 88.8L420.4 88.9L421.2 89.1L422.1 88.3L422.9 87.3L423.7 88.6L424.5 88.2L425.4 88.2L426.2 89.2L427 88.7" fill="none" stroke="#3c3c3c" stroke-width="1.3" stroke-linejoin="round"/>
<path d="M344.6 98.7L345.4 98.6L346.2 99.2L347.1 99.3L347.9 98.6L348.7 98.3L349.5 99.1L350.4 98.8L351.2 100L352 98.5L352.8 98.5L353.7 98.5L354.5 98.3L355.3 98.6L356.1 97.2L357 97.1L357.8 99.1L358.6 97.1L359.4 97.2L360.3 97.2L361.1 99.2L361.9 98.6L362.7 98.1L363.6 97.4L364.4 95.7L365.2 93.1L366 92.1L366.8 90.6L367.7 88.8L368.5 88.2L369.3 85.5L370.1 81.9L371 79.5L371.8 78.3L372.6 75.2L373.4 72.6L374.3 70.5L375.1 67.9L375.9 64.6L376.7 63.5L377.6 62L378.4 61.8L379.2 60.3L380 57.5L380.9 53.7L381.7 54.9L382.5 54.6L383.3 54.4L384.2 52.4L385 50.7L385.8 55.4L386.6 58.3L387.4 63.3L388.3 66.6L389.1 68.9L389.9 69.7L390.7 74.3L391.6 75.3L392.4 78.1L393.2 81.2L394 84.2L394.9 84.4L395.7 85.4L396.5 87.4L397.3 88.6L398.2 89.1L399 90.6L399.8 90.1L400.6 90.8L401.5 89.9L402.3 91.7L403.1 92L403.9 92.9L404.8 93.7L405.6 95L406.4 94.4L407.2 96.3L408 95.4L408.9 96.1L409.7 96.9L410.5 94.5L411.3 95.7L412.2 96.9L413 96.5L413.8 96.8L414.6 96.7L415.5 96.9L416.3 97.1L417.1 97.8L417.9 98.4L418.8 99.2L419.6 98.6L420.4 97.2L421.2 97.3L422.1 97.4L422.9 96.8L423.7 97.2L424.5 98.4L425.4 98.8L426.2 97.9L427 96.7" fill="none" stroke="#262626" stroke-width="1.3" stroke-linejoin="round"/>
<path d="M344.6 108.7L345.4 108.5L346.2 108L347.1 108.5L347.9 108.9L348.7 108.5L349.5 109.9L350.4 107.9L351.2 107.4L352 107.4L352.8 107.7L353.7 107.3L354.5 107.2L355.3 107.7L356.1 108.5L357 108.7L357.8 108.4L358.6 109L359.4 108.1L360.3 107.4L361.1 108.9L361.9 107.7L362.7 108.2L363.6 107.7L364.4 107L365.2 106.3L366 105.1L366.8 103.1L367.7 102.3L368.5 98.9L369.3 98.4L370.1 95.6L371 92.9L371.8 91.8L372.6 89.3L373.4 87.1L374.3 85.4L375.1 83.3L375.9 77.9L376.7 75L377.6 74.8L378.4 72.9L379.2 71.1L380 69.4L380.9 67.9L381.7 67.6L382.5 69.4L383.3 67.6L384.2 74.2L385 75.2L385.8 78.3L386.6 81.4L387.4 82L388.3 85.8L389.1 85.7L389.9 88.6L390.7 89.8L391.6 91.8L392.4 93.8L393.2 92.5L394 93L394.9 95.5L395.7 96.9L396.5 98.6L397.3 98.5L398.2 98.4L399 98.7L399.8 101.1L400.6 102.2L401.5 104L402.3 103.7L403.1 103.7L403.9 105.1L404.8 105.9L405.6 104.4L406.4 105.2L407.2 104.9L408 105.3L408.9 106.1L409.7 105.9L410.5 105.6L411.3 106L412.2 106.7L413 106.7L413.8 106.4L414.6 106.4L415.5 105.6L416.3 106.2L417.1 106.5L417.9 107.3L418.8 108.3L419.6 108.9L420.4 108L421.2 107.1L422.1 106.5L422.9 108L423.7 108.7L424.5 109L425.4 108.8L426.2 108.4L427 108.5" fill="none" stroke="#121212" stroke-width="1.6" stroke-linejoin="round"/>
<path d="M344.6 117.8L345.4 117.6L346.2 116.3L347.1 116.7L347.9 116.9L348.7 116.5L349.5 117.7L350.4 116.8L351.2 116.3L352 116.9L352.8 114.9L353.7 116.4L354.5 116.9L355.3 116.8L356.1 116.3L357 115.7L357.8 117.9L358.6 118.4L359.4 116.7L360.3 117.2L361.1 117.4L361.9 117.4L362.7 116L363.6 116.3L364.4 116.7L365.2 116.7L366 115.7L366.8 113.8L367.7 112.5L368.5 110.9L369.3 106.9L370.1 103.9L371 102.5L371.8 98.2L372.6 96L373.4 94.8L374.3 91.6L375.1 89.2L375.9 88.1L376.7 83.8L377.6 84.4L378.4 81L379.2 80.4L380 77.6L380.9 76.7L381.7 75.2L382.5 78.8L383.3 81.8L384.2 83.4L385 87.6L385.8 88.1L386.6 91L387.4 93.4L388.3 97L389.1 101.3L389.9 101.6L390.7 102.7L391.6 103.3L392.4 105.4L393.2 107.6L394 108.5L394.9 110.1L395.7 110.7L396.5 110.6L397.3 110.8L398.2 110.8L399 112.2L399.8 111.9L400.6 112.7L401.5 114.2L402.3 114.7L403.1 114.4L403.9 114.9L404.8 115.3L405.6 114.8L406.4 116L407.2 115.8L408 116.3L408.9 117.1L409.7 116.5L410.5 115.3L411.3 116L412.2 116.6L413 115.4L413.8 115.5L414.6 115.6L415.5 115.3L416.3 115.9L417.1 116.4L417.9 115.9L418.8 116.2L419.6 117.5L420.4 116.4L421.2 116.5L422.1 115.4L422.9 116.3L423.7 118L424.5 117.4L425.4 117.3L426.2 115.8L427 115.6" fill="none" stroke="#000" stroke-width="1.6" stroke-linejoin="round"/>
<path d="M344.6 72.8L345.4 71L346.2 71.2L347.1 71.9L347.9 71.1L348.7 72.2L349.5 70.2L350.4 70.7L351.2 71.3L352 70.9L352.8 72.2L353.7 71.5L354.5 70.9L355.3 70.6L356.1 70.9L357 72.1L357.8 71.6L358.6 72.6L359.4 71.9L360.3 72.2L361.1 72.4L361.9 71.4L362.7 70.1L363.6 69.9L364.4 71.2L365.2 71.7L366 72.3L366.8 72.3L367.7 71.8L368.5 71.4L369.3 71.8L370.1 71.7L371 72.5L371.8 72.3L372.6 71L373.4 70.4L374.3 70.8L375.1 71.2L375.9 71L376.7 71.1L377.6 71L378.4 69.4L379.2 70L380 69.5L380.9 70.6L381.7 70.3L382.5 69.1L383.3 69.5L384.2 70.2L385 70.3L385.8 68.7L386.6 48.4L387.4 26.9L388.3 16.6L389.1 19.9L389.9 21.9L390.7 25.4L391.6 28.3L392.4 29.5L393.2 31.7L394 32.7L394.9 34.8L395.7 36.4L396.5 40.9L397.3 42.3L398.2 43.3L399 44.3L399.8 46.8L400.6 47.7L401.5 48.3L402.3 51.4L403.1 53.2L403.9 54.5L404.8 54.6L405.6 56.5L406.4 56.7L407.2 57.8L408 59.1L408.9 60.8L409.7 58.3L410.5 58.6L411.3 59.3L412.2 62.2L413 61.6L413.8 62.7L414.6 64.2L415.5 64.5L416.3 64.8L417.1 63.5L417.9 64.4L418.8 65.1L419.6 65.2L420.4 65.5L421.2 67.1L422.1 66.1L422.9 66.5L423.7 66.3L424.5 65.8L425.4 67.3L426.2 66L427 67.6" fill="none" stroke="#f00000" stroke-width="1.4" stroke-linejoin="round"/>
<path d="M337.6 133.4L338.5 132.2L339.4 131.5L340.3 131.7L341.1 130.9L342 131.8L342.9 131.5L343.8 131.3L344.7 131.2L345.6 132.2L346.4 130.6L347.3 131.2L348.2 131L349.1 130.9L350 132.1L350.9 132.6L351.7 131.8L352.6 132L353.5 132.3L354.4 132.3L355.3 131.7L356.2 132L357 133.3L357.9 132.6L358.8 132L359.7 132.2L360.6 131.1L361.5 132.6L362.4 132.7L363.2 131.2L364.1 131.6L365 131.4L365.9 131.5L366.8 131.3L367.7 131.4L368.5 132.4L369.4 130.7L370.3 131.6L371.2 131.6L372.1 131.1L373 130.8L373.8 131.2L374.7 132.4L375.6 132.7L376.5 131.5L377.4 131.3L378.3 130.7L379.1 130.6L380 131.8L380.9 131.8L381.8 130.3L382.7 131.5L383.6 132.6L384.5 130.8L385.3 130.5L386.2 128.5L387.1 130.6L388 130.9L388.9 130.4L389.8 130.5L390.6 130.2L391.5 130.1L392.4 130.3L393.3 131.9L394.2 130.6L395.1 130.3L395.9 130.9L396.8 131.1L397.7 132.9L398.6 131.9L399.5 131.1L400.4 131.9L401.2 131.7L402.1 132.2L403 131L403.9 130L404.8 131.3L405.7 132L406.6 132.6L407.4 131.1L408.3 131.2L409.2 131.5L410.1 131.6L411 132.3L411.9 132.7L412.7 131.9L413.6 132.5L414.5 132.1L415.4 132L416.3 130.7L417.2 131.4L418 133.4L418.9 132.2L419.8 131.9L420.7 131.6L421.6 132.3L422.5 132L423.3 132.6L424.2 133L425.1 131.8L426 132.7" fill="none" stroke="#dcdcdc" stroke-width="1.1" stroke-linejoin="round"/>
<path d="M337.6 141.9L338.5 141.3L339.4 140.6L340.3 139.8L341.1 141.8L342 142.1L342.9 142.4L343.8 142.1L344.7 141.8L345.6 142.5L346.4 141.7L347.3 142.6L348.2 141.5L349.1 142.2L350 141.5L350.9 141.2L351.7 141.4L352.6 141.9L353.5 142.2L354.4 142.6L355.3 140.8L356.2 140.8L357 139.8L357.9 140.5L358.8 140.9L359.7 141.7L360.6 141.7L361.5 142.7L362.4 141.2L363.2 140.7L364.1 140.1L365 139.8L365.9 141.6L366.8 143.3L367.7 141.7L368.5 141.4L369.4 142.1L370.3 142.4L371.2 141.3L372.1 140.1L373 140.6L373.8 141.6L374.7 140.9L375.6 140.4L376.5 141.9L377.4 141.1L378.3 142L379.1 141.7L380 141.2L380.9 141.3L381.8 142.5L382.7 141.6L383.6 142.6L384.5 141.4L385.3 142.9L386.2 142.4L387.1 142.2L388 142.3L388.9 141.7L389.8 141.4L390.6 140.1L391.5 140.6L392.4 140.3L393.3 141.9L394.2 140.8L395.1 140.6L395.9 140.1L396.8 139.9L397.7 141.5L398.6 142.5L399.5 142.5L400.4 142.3L401.2 140.8L402.1 142.7L403 141.9L403.9 140.9L404.8 141.4L405.7 142.5L406.6 142.5L407.4 141.5L408.3 141L409.2 141.4L410.1 141.2L411 140.3L411.9 141.3L412.7 139.9L413.6 141.6L414.5 140.1L415.4 142L416.3 140.7L417.2 141.2L418 142.5L418.9 141.8L419.8 141.2L420.7 141L421.6 141.2L422.5 141.5L423.3 141.7L424.2 141.5L425.1 140.6L426 140.8" fill="none" stroke="#c8c8c8" stroke-width="1.1" stroke-linejoin="round"/>
<path d="M337.6 151.1L338.5 151.2L339.4 151.1L340.3 150.6L341.1 150.9L342 152L342.9 151.2L343.8 151.3L344.7 151.3L345.6 151L346.4 150.8L347.3 150.1L348.2 150.2L349.1 150.6L350 151.4L350.9 151.9L351.7 151.2L352.6 150.1L353.5 150.6L354.4 150.9L355.3 150.6L356.2 151.9L357 151.6L357.9 150.9L358.8 150.3L359.7 150.9L360.6 150.7L361.5 150.7L362.4 150.3L363.2 151.5L364.1 150.8L365 152L365.9 153.2L366.8 152.3L367.7 152.2L368.5 150.9L369.4 150.5L370.3 151.6L371.2 150.7L372.1 151.6L373 151.3L373.8 151.3L374.7 151L375.6 150.4L376.5 150.3L377.4 150.5L378.3 150.3L379.1 150.4L380 151.2L380.9 151.6L381.8 151.6L382.7 150.9L383.6 151.1L384.5 149.4L385.3 150.9L386.2 151.7L387.1 150.8L388 149.9L388.9 150.2L389.8 150.1L390.6 149.6L391.5 150.5L392.4 151.8L393.3 151.7L394.2 150.6L395.1 151.9L395.9 151.3L396.8 151L397.7 151.2L398.6 150.6L399.5 150.4L400.4 149.1L401.2 149.8L402.1 151L403 151.4L403.9 151.7L404.8 150.6L405.7 151.2L406.6 151.1L407.4 150.5L408.3 151.3L409.2 151.3L410.1 152.4L411 152.3L411.9 151.9L412.7 151.1L413.6 150.2L414.5 150.7L415.4 150.7L416.3 150.8L417.2 150.1L418 150L418.9 150.4L419.8 151.5L420.7 150.6L421.6 150.6L422.5 150L423.3 150.6L424.2 149.5L425.1 150.6L426 149.7" fill="none" stroke="#b0b0b0" stroke-width="1.1" stroke-linejoin="round"/>
<path d="M337.6 159.5L338.5 159.8L339.4 159.7L340.3 159.6L341.1 160.7L342 161.7L342.9 161.8L343.8 160.8L344.7 159.9L345.6 160.2L346.4 161.3L347.3 159.8L348.2 161.4L349.1 161.2L350 161.2L350.9 160.6L351.7 159.8L352.6 161.3L353.5 161L354.4 160.5L355.3 161.3L356.2 160.9L357 160.5L357.9 161.4L358.8 161.8L359.7 161.1L360.6 160.9L361.5 160.5L362.4 159L363.2 159.3L364.1 159.7L365 160.7L365.9 159.9L366.8 160.8L367.7 159.5L368.5 159.3L369.4 161.4L370.3 161.7L371.2 161.1L372.1 161L373 161.6L373.8 161.8L374.7 160.5L375.6 160.9L376.5 161.7L377.4 161.2L378.3 160.1L379.1 159.2L380 159.9L380.9 160.5L381.8 161.1L382.7 161.1L383.6 160.4L384.5 159.6L385.3 159.3L386.2 160.2L387.1 159.7L388 159.7L388.9 159.8L389.8 162L390.6 161.1L391.5 160.9L392.4 159.8L393.3 160.4L394.2 160.1L395.1 160.2L395.9 159.5L396.8 159.6L397.7 159.4L398.6 159L399.5 159.2L400.4 159.4L401.2 160.3L402.1 160.3L403 158.9L403.9 159.8L404.8 159.9L405.7 160.3L406.6 160.6L407.4 162.6L408.3 160.2L409.2 161.2L410.1 161.4L411 159.9L411.9 161.9L412.7 161L413.6 161.1L414.5 162L415.4 160.7L416.3 161.1L417.2 160.8L418 160.9L418.9 160.2L419.8 158.8L420.7 160.7L421.6 160L422.5 160.8L423.3 160.9L424.2 162L425.1 161.9L426 161.4" fill="none" stroke="#9a9a9a" stroke-width="1.1" stroke-linejoin="round"/>
<path d="M337.6 170.7L338.5 169.8L339.4 169.6L340.3 170.2L341.1 170L342 169.9L342.9 169.9L343.8 169.9L344.7 169.5L345.6 169.1L346.4 168.6L347.3 169.5L348.2 170.3L349.1 169.6L350 170.1L350.9 170.6L351.7 169L352.6 169L353.5 169.9L354.4 170.2L355.3 169.8L356.2 169.8L357 169.6L357.9 169.9L358.8 171.3L359.7 171.8L360.6 170.1L361.5 169.9L362.4 171.5L363.2 170.4L364.1 169.9L365 169.5L365.9 169.8L366.8 169.7L367.7 170.5L368.5 171.3L369.4 170.7L370.3 170.2L371.2 170.3L372.1 171.3L373 170.9L373.8 170.9L374.7 169.9L375.6 170.8L376.5 171.1L377.4 170.9L378.3 170.3L379.1 169.3L380 169.4L380.9 170.8L381.8 171.1L382.7 169.4L383.6 169.6L384.5 170L385.3 169.7L386.2 169.5L387.1 168.6L388 169.3L388.9 170.3L389.8 170.8L390.6 169.7L391.5 169.9L392.4 169.8L393.3 169.6L394.2 170.6L395.1 169.1L395.9 169.8L396.8 170.1L397.7 170.2L398.6 170L399.5 170.3L400.4 170.4L401.2 169.7L402.1 169L403 169.1L403.9 170.5L404.8 170.5L405.7 169.2L406.6 169.7L407.4 169.8L408.3 170.1L409.2 169L410.1 169.9L411 170.3L411.9 169.4L412.7 170.9L413.6 170.7L414.5 168.5L415.4 169.4L416.3 169.5L417.2 171.2L418 170.6L418.9 170.9L419.8 170.9L420.7 170.9L421.6 170.3L422.5 170.4L423.3 169.5L424.2 171.4L425.1 171L426 169.9" fill="none" stroke="#888" stroke-width="1.1" stroke-linejoin="round"/>
<path d="M337.6 188.5L338.5 189.2L339.4 190.3L340.3 190.2L341.1 189.4L342 188.3L342.9 190.2L343.8 190.3L344.7 189.3L345.6 189.1L346.4 189.6L347.3 188L348.2 188.4L349.1 189.1L350 188.3L350.9 189.1L351.7 187.4L352.6 188.7L353.5 187.3L354.4 187.3L355.3 188.7L356.2 188.8L357 189.2L357.9 189L358.8 189L359.7 189.9L360.6 189L361.5 188.7L362.4 190.1L363.2 189.5L364.1 189.2L365 188.8L365.9 189.1L366.8 188.8L367.7 189.7L368.5 188L369.4 188.4L370.3 188.2L371.2 188.6L372.1 189.3L373 188.7L373.8 188.5L374.7 189.7L375.6 190L376.5 189.5L377.4 189.4L378.3 189.2L379.1 188.8L380 189.5L380.9 188.1L381.8 184.6L382.7 181.7L383.6 178.3L384.5 176.7L385.3 177.6L386.2 178.3L387.1 177.7L388 178.2L388.9 179.8L389.8 180.8L390.6 181.7L391.5 182.8L392.4 183.4L393.3 182.6L394.2 183.3L395.1 184.1L395.9 184.7L396.8 185.1L397.7 185.2L398.6 186.3L399.5 185.5L400.4 185.6L401.2 186.4L402.1 186.9L403 187.8L403.9 186.5L404.8 186.4L405.7 188L406.6 188.8L407.4 187.9L408.3 187.4L409.2 187.1L410.1 187.7L411 187.5L411.9 187.6L412.7 187.9L413.6 187.4L414.5 188L415.4 188.7L416.3 187.6L417.2 188.3L418 189.9L418.9 188.9L419.8 188.8L420.7 188.7L421.6 187.9L422.5 188.7L423.3 187.8L424.2 188.3L425.1 187L426 188.8" fill="none" stroke="#5a5a5a" stroke-width="1.3" stroke-linejoin="round"/>
<path d="M337.6 198.9L338.5 198.1L339.4 198.9L340.3 198.5L341.1 199.2L342 198.8L342.9 197.9L343.8 198.1L344.7 198L345.6 198.3L346.4 198.6L347.3 196.7L348.2 198.7L349.1 198.5L350 197.2L350.9 198.7L351.7 199L352.6 198.9L353.5 199.3L354.4 198.9L355.3 198.5L356.2 198.5L357 199.3L357.9 198L358.8 199L359.7 199.2L360.6 198.8L361.5 199.1L362.4 197.9L363.2 199.6L364.1 198.3L365 198.3L365.9 198.9L366.8 198.1L367.7 198.9L368.5 198.8L369.4 199.5L370.3 200.1L371.2 197.9L372.1 198.9L373 198.4L373.8 197.3L374.7 197.4L375.6 197.5L376.5 195.4L377.4 193.3L378.3 190.3L379.1 188.2L380 186.1L380.9 183.9L381.8 182.5L382.7 181.8L383.6 183.6L384.5 182.9L385.3 184.9L386.2 184.8L387.1 186.3L388 188.9L388.9 189.7L389.8 190.4L390.6 192.8L391.5 191.8L392.4 191L393.3 192.1L394.2 194.7L395.1 193.2L395.9 195L396.8 195L397.7 194.2L398.6 194.4L399.5 194.5L400.4 196L401.2 195.7L402.1 196.6L403 196.2L403.9 196.4L404.8 196.5L405.7 195.6L406.6 197.4L407.4 197.2L408.3 198.3L409.2 197.4L410.1 197.2L411 197.9L411.9 197.1L412.7 197.3L413.6 198.8L414.5 196.3L415.4 196.1L416.3 197.4L417.2 197L418 196.1L418.9 197L419.8 197.3L420.7 197.6L421.6 198.5L422.5 198.7L423.3 198L424.2 197.8L425.1 198L426 198" fill="none" stroke="#3c3c3c" stroke-width="1.3" stroke-linejoin="round"/>
<path d="M337.6 208.4L338.5 208.3L339.4 208.2L340.3 208.7L341.1 207.8L342 208.1L342.9 208L343.8 208.4L344.7 206.8L345.6 207.8L346.4 207.1L347.3 207L348.2 207.4L349.1 207L350 207.3L350.9 208.1L351.7 208L352.6 207.7L353.5 207.1L354.4 207.3L355.3 207.5L356.2 207.5L357 208L357.9 208.5L358.8 208.6L359.7 207.7L360.6 207.6L361.5 208.3L362.4 209.1L363.2 209.8L364.1 209.2L365 208.7L365.9 207.6L366.8 207.1L367.7 207.3L368.5 207.1L369.4 207.1L370.3 208.8L371.2 208.4L372.1 207.5L373 207.9L373.8 207.4L374.7 208.1L375.6 208L376.5 207.7L377.4 207.6L378.3 208.3L379.1 207.3L380 208.1L380.9 205.8L381.8 202.5L382.7 200.8L383.6 200L384.5 198.9L385.3 198.7L386.2 200.2L387.1 201.5L388 202.7L388.9 203.4L389.8 203.1L390.6 203.5L391.5 204.4L392.4 205.6L393.3 205.6L394.2 204.6L395.1 206.6L395.9 205.8L396.8 205.5L397.7 206.1L398.6 204.9L399.5 206.9L400.4 207.3L401.2 207.8L402.1 206.9L403 206.2L403.9 206.8L404.8 208L405.7 207.1L406.6 206.2L407.4 208.1L408.3 207.9L409.2 207.7L410.1 207.5L411 207.4L411.9 206.5L412.7 207.2L413.6 207.7L414.5 207.5L415.4 207.3L416.3 208.5L417.2 209.4L418 208.5L418.9 207.5L419.8 207.3L420.7 208.3L421.6 208.5L422.5 207.9L423.3 206.7L424.2 206L425.1 208.9L426 208.7" fill="none" stroke="#262626" stroke-width="1.3" stroke-linejoin="round"/>
<path d="M337.6 216.8L338.5 216.9L339.4 216.4L340.3 216.3L341.1 217.2L342 217.4L342.9 216.4L343.8 216.7L344.7 216.5L345.6 216.2L346.4 217.5L347.3 218.1L348.2 217.2L349.1 218.1L350 218.4L350.9 218.2L351.7 217.8L352.6 217.2L353.5 218L354.4 217.4L355.3 217.4L356.2 218L357 219.1L357.9 217.1L358.8 218.1L359.7 218.4L360.6 218.5L361.5 219.3L362.4 217.9L363.2 216.5L364.1 216.6L365 216.9L365.9 217.8L366.8 218L367.7 218.2L368.5 217.7L369.4 217.6L370.3 216.8L371.2 218L372.1 218.4L373 218.5L373.8 217.9L374.7 216.5L375.6 217.3L376.5 218.3L377.4 218.1L378.3 217.5L379.1 217.1L380 215.9L380.9 216L381.8 216.8L382.7 215.7L383.6 214.2L384.5 215.3L385.3 215.7L386.2 216.3L387.1 216.2L388 215.9L388.9 215.9L389.8 215.6L390.6 216.3L391.5 217L392.4 218.7L393.3 217L394.2 216.5L395.1 216.4L395.9 216.3L396.8 217.7L397.7 216.5L398.6 217.3L399.5 217.6L400.4 217.9L401.2 218.3L402.1 217.3L403 216.7L403.9 217.9L404.8 218.6L405.7 216.9L406.6 218.1L407.4 218.4L408.3 217.6L409.2 217L410.1 217.9L411 218.1L411.9 217.8L412.7 216L413.6 215.9L414.5 217.1L415.4 216.2L416.3 217.2L417.2 217.7L418 217.5L418.9 218.9L419.8 218.7L420.7 219L421.6 218.6L422.5 218.1L423.3 217.6L424.2 218.2L425.1 217.8L426 219.3" fill="none" stroke="#121212" stroke-width="1.3" stroke-linejoin="round"/>
<path d="M337.6 227.6L338.5 227.2L339.4 227.4L340.3 227.6L341.1 229.1L342 227.5L342.9 226.7L343.8 226.6L344.7 227L345.6 227.2L346.4 226.4L347.3 225.7L348.2 225.9L349.1 226.6L350 226.1L350.9 224.9L351.7 226.6L352.6 226L353.5 227.4L354.4 227.8L355.3 225.8L356.2 227.4L357 227.6L357.9 228.5L358.8 227.3L359.7 228.1L360.6 227.9L361.5 227.1L362.4 227.2L363.2 225.5L364.1 226.5L365 227.1L365.9 226.6L366.8 227.1L367.7 227.3L368.5 227.9L369.4 227.4L370.3 226.7L371.2 227.5L372.1 227.5L373 228L373.8 228.2L374.7 226.9L375.6 228.2L376.5 228.8L377.4 229L378.3 229.3L379.1 227.9L380 226.8L380.9 228.1L381.8 226.8L382.7 225.5L383.6 225.5L384.5 225.8L385.3 226.6L386.2 225.8L387.1 226.1L388 226.3L388.9 227.1L389.8 227.2L390.6 225.6L391.5 226.5L392.4 226.1L393.3 227.7L394.2 227L395.1 225.8L395.9 226.2L396.8 226.4L397.7 227.1L398.6 226.6L399.5 226L400.4 226.4L401.2 226.5L402.1 226.8L403 226.8L403.9 225.3L404.8 227.1L405.7 227.2L406.6 228.2L407.4 226.8L408.3 227.6L409.2 227.1L410.1 227.8L411 226.4L411.9 226L412.7 226.5L413.6 226.9L414.5 227L415.4 227.3L416.3 226.5L417.2 227.3L418 227.8L418.9 227.9L419.8 227.4L420.7 228.6L421.6 227L422.5 226.8L423.3 226.7L424.2 226.8L425.1 226.7L426 226.5" fill="none" stroke="#000" stroke-width="1.3" stroke-linejoin="round"/>
<path d="M337.6 179.6L338.5 178.7L339.4 178.6L340.3 178.8L341.1 179.1L342 179.3L342.9 179.5L343.8 179.2L344.7 179.8L345.6 178.5L346.4 178.2L347.3 178.7L348.2 178.4L349.1 178.1L350 179L350.9 179.8L351.7 179L352.6 180.2L353.5 179.1L354.4 179L355.3 179.8L356.2 181.1L357 179.9L357.9 179.2L358.8 179.1L359.7 181.1L360.6 179.9L361.5 179.5L362.4 179.5L363.2 180.1L364.1 180.8L365 179.1L365.9 179.4L366.8 180.5L367.7 179.1L368.5 180.2L369.4 179.4L370.3 180.4L371.2 180.1L372.1 179.9L373 178.3L373.8 179.9L374.7 180.2L375.6 179L376.5 178.5L377.4 179L378.3 179.7L379.1 180L380 180.8L380.9 179.4L381.8 179L382.7 177.1L383.6 166.4L384.5 151.6L385.3 137.5L386.2 134L387.1 135.2L388 139.8L388.9 144.8L389.8 148.8L390.6 151L391.5 152.2L392.4 154.3L393.3 155.7L394.2 156.3L395.1 159.1L395.9 160.8L396.8 162.6L397.7 165.6L398.6 167.1L399.5 168.1L400.4 168L401.2 170.5L402.1 168.9L403 171.3L403.9 172.8L404.8 173.5L405.7 174.4L406.6 174.1L407.4 174.3L408.3 173.3L409.2 174.9L410.1 174.6L411 174.9L411.9 175.5L412.7 177.7L413.6 176.9L414.5 176.9L415.4 177.9L416.3 177.1L417.2 176.5L418 176.8L418.9 177.5L419.8 178.7L420.7 178L421.6 178.8L422.5 178.2L423.3 179L424.2 179.4L425.1 178.6L426 179.1" fill="none" stroke="#f00000" stroke-width="1.4" stroke-linejoin="round"/>
<path d="M337.6 249.7L338.5 248.7L339.4 249.2L340.3 248.1L341.1 249.5L342 249.3L342.9 248.4L343.8 249.7L344.7 248.9L345.6 250L346.4 249.4L347.3 248.7L348.2 249.1L349.1 248L350 247.6L350.9 248.6L351.7 248.8L352.6 248.6L353.5 249.8L354.4 250.3L355.3 250.7L356.2 249.7L357 249.6L357.9 248.7L358.8 247.1L359.7 246.5L360.6 246.3L361.5 247.3L362.4 248.1L363.2 247.9L364.1 248.7L365 247.2L365.9 247.3L366.8 247.3L367.7 248L368.5 249L369.4 249L370.3 249.6L371.2 249.6L372.1 249.7L373 249.8L373.8 248.8L374.7 250.1L375.6 248.7L376.5 249.2L377.4 249.5L378.3 249.7L379.1 249.6L380 249.2L380.9 248.7L381.8 249.5L382.7 248.6L383.6 247.9L384.5 248.9L385.3 250.5L386.2 250.2L387.1 249.2L388 248.3L388.9 247.3L389.8 248.9L390.6 250.1L391.5 249.8L392.4 250.1L393.3 249.2L394.2 248.9L395.1 249.2L395.9 249L396.8 249.6L397.7 250.3L398.6 250.1L399.5 248.9L400.4 249L401.2 247.6L402.1 248.5L403 248.2L403.9 249.3L404.8 249.2L405.7 250.4L406.6 249.7L407.4 249.3L408.3 249.9L409.2 249.1L410.1 250.3L411 249.7L411.9 249.5L412.7 250.3L413.6 249.1L414.5 249.3L415.4 250.4L416.3 250.8L417.2 248.9L418 249.1L418.9 249.9L419.8 249.5L420.7 249L421.6 249.7L422.5 249.4L423.3 248.5L424.2 249.3L425.1 249.7L426 250.1" fill="none" stroke="#dcdcdc" stroke-width="1.1" stroke-linejoin="round"/>
<path d="M337.6 259.1L338.5 258.6L339.4 258.2L340.3 258.8L341.1 258.9L342 257.6L342.9 258.6L343.8 258.3L344.7 258.8L345.6 258.1L346.4 257.7L347.3 257.2L348.2 257L349.1 258.4L350 258.7L350.9 258.9L351.7 258.9L352.6 258.3L353.5 258.4L354.4 258.9L355.3 259L356.2 256.7L357 258.7L357.9 256.8L358.8 258.5L359.7 259.2L360.6 258.9L361.5 258.8L362.4 258.6L363.2 258.9L364.1 258.8L365 258.3L365.9 257.6L366.8 257.8L367.7 257.4L368.5 257.8L369.4 256.6L370.3 259.6L371.2 259.1L372.1 258.4L373 258.5L373.8 258.1L374.7 258L375.6 257.2L376.5 258L377.4 258.3L378.3 259L379.1 258.5L380 258.6L380.9 258.2L381.8 258.5L382.7 258.1L383.6 258.6L384.5 259.3L385.3 259.2L386.2 259.1L387.1 258L388 258.3L388.9 258.1L389.8 257.5L390.6 257.6L391.5 258.2L392.4 258.1L393.3 259.8L394.2 258.4L395.1 258.9L395.9 259.9L396.8 258.5L397.7 258.6L398.6 259.6L399.5 258.4L400.4 257.4L401.2 258L402.1 258.7L403 258.1L403.9 256.9L404.8 258.4L405.7 258.6L406.6 258.9L407.4 258.5L408.3 258.3L409.2 258L410.1 258.5L411 258.1L411.9 256.8L412.7 258.7L413.6 258.7L414.5 258.6L415.4 258.7L416.3 258.7L417.2 258.7L418 258.2L418.9 258.5L419.8 258.3L420.7 258.4L421.6 257.8L422.5 259.7L423.3 258.5L424.2 259.4L425.1 259.3L426 258.8" fill="none" stroke="#c8c8c8" stroke-width="1.1" stroke-linejoin="round"/>
<path d="M337.6 266.7L338.5 267.1L339.4 266.6L340.3 267L341.1 268.5L342 267.3L342.9 267.7L343.8 266.7L344.7 266L345.6 265.1L346.4 265.9L347.3 266.7L348.2 266.4L349.1 266.2L350 268L350.9 267.6L351.7 267.8L352.6 266.6L353.5 266.6L354.4 266.5L355.3 266.1L356.2 266.3L357 267.7L357.9 267.7L358.8 266.8L359.7 267.2L360.6 267.6L361.5 266.6L362.4 266.3L363.2 267L364.1 267.2L365 266.4L365.9 267L366.8 267.6L367.7 266.8L368.5 266L369.4 267.5L370.3 267.7L371.2 266.8L372.1 266.9L373 266.5L373.8 266.5L374.7 265.1L375.6 267.5L376.5 266.9L377.4 267.6L378.3 268.6L379.1 268.3L380 268L380.9 266.9L381.8 267.1L382.7 267.7L383.6 268L384.5 267.4L385.3 266.8L386.2 267.7L387.1 267.3L388 267.1L388.9 267.3L389.8 267.5L390.6 267.5L391.5 267.7L392.4 268L393.3 267.6L394.2 267.5L395.1 267.6L395.9 268.1L396.8 267L397.7 267.2L398.6 265L399.5 264.4L400.4 266.1L401.2 265.2L402.1 267L403 268.3L403.9 268.1L404.8 267.7L405.7 267.2L406.6 265.7L407.4 267.3L408.3 267.2L409.2 266.5L410.1 266.7L411 265.9L411.9 266L412.7 265.5L413.6 265.8L414.5 266.4L415.4 266.7L416.3 267.7L417.2 267.2L418 267L418.9 267.2L419.8 267.4L420.7 267.4L421.6 266.3L422.5 266.8L423.3 266.8L424.2 266.7L425.1 268L426 267.7" fill="none" stroke="#b0b0b0" stroke-width="1.1" stroke-linejoin="round"/>
<path d="M337.6 276.5L338.5 276L339.4 275.3L340.3 276.1L341.1 275L342 275L342.9 275.1L343.8 275.4L344.7 274.9L345.6 275.1L346.4 275.1L347.3 276.4L348.2 275.9L349.1 274.6L350 275L350.9 276L351.7 276.1L352.6 275L353.5 274L354.4 275.4L355.3 275L356.2 276.3L357 276L357.9 275L358.8 276.5L359.7 275.7L360.6 276.3L361.5 276.1L362.4 275.8L363.2 276L364.1 276.3L365 275.6L365.9 275.5L366.8 275.8L367.7 277.4L368.5 277.3L369.4 277.7L370.3 277.7L371.2 277.2L372.1 276L373 276.4L373.8 275.7L374.7 276L375.6 275.7L376.5 274.7L377.4 275.6L378.3 276.2L379.1 276.8L380 276.1L380.9 275.6L381.8 274.5L382.7 275.6L383.6 276.9L384.5 276L385.3 275.8L386.2 275.9L387.1 276.4L388 275.6L388.9 276.3L389.8 275.4L390.6 275.8L391.5 275.6L392.4 275.3L393.3 276.2L394.2 275.9L395.1 276.3L395.9 276.4L396.8 275.4L397.7 275L398.6 275.4L399.5 275.4L400.4 275.1L401.2 275.9L402.1 274.8L403 276L403.9 276L404.8 276.6L405.7 276.7L406.6 276L407.4 274.8L408.3 275.6L409.2 275.9L410.1 276.6L411 276.4L411.9 274.5L412.7 274.4L413.6 276.9L414.5 277.9L415.4 277.5L416.3 276.4L417.2 275.6L418 274.9L418.9 276L419.8 275.9L420.7 275.4L421.6 276.5L422.5 274.5L423.3 274.4L424.2 276.7L425.1 275.5L426 276" fill="none" stroke="#9a9a9a" stroke-width="1.1" stroke-linejoin="round"/>
<path d="M337.6 285.8L338.5 285L339.4 286.2L340.3 284.5L341.1 282.6L342 283.7L342.9 284.7L343.8 286L344.7 285.1L345.6 285.4L346.4 284.6L347.3 285.6L348.2 284.3L349.1 283.5L350 285.3L350.9 284.6L351.7 283.8L352.6 283.9L353.5 284.2L354.4 284.5L355.3 284.5L356.2 284.6L357 285.1L357.9 285.2L358.8 284.5L359.7 283.5L360.6 284.2L361.5 285.3L362.4 284.7L363.2 283.6L364.1 285L365 285.1L365.9 285.1L366.8 284.3L367.7 285L368.5 284.9L369.4 284L370.3 284.5L371.2 284.6L372.1 284.5L373 284.9L373.8 283.8L374.7 284.3L375.6 284.8L376.5 284.6L377.4 285.3L378.3 284.1L379.1 285.7L380 285.4L380.9 284.1L381.8 285L382.7 285.1L383.6 283.9L384.5 284.7L385.3 284.4L386.2 284.8L387.1 284.9L388 283.2L388.9 284.4L389.8 284L390.6 284.7L391.5 283.5L392.4 284.4L393.3 284.3L394.2 283.4L395.1 283.2L395.9 283.8L396.8 284.2L397.7 285L398.6 284.1L399.5 283.6L400.4 285.9L401.2 286.3L402.1 285.2L403 285.3L403.9 284.2L404.8 283.4L405.7 284L406.6 285.5L407.4 285.3L408.3 284.3L409.2 285.7L410.1 284L411 284.6L411.9 284.2L412.7 284.2L413.6 284.8L414.5 285.1L415.4 285.4L416.3 284.6L417.2 284.3L418 284L418.9 285.2L419.8 286.4L420.7 286L421.6 286.1L422.5 284.4L423.3 282.9L424.2 283.9L425.1 285.5L426 286" fill="none" stroke="#888" stroke-width="1.1" stroke-linejoin="round"/>
<path d="M337.6 301.8L338.5 301.9L339.4 302.2L340.3 301.6L341.1 302.2L342 301L342.9 303L343.8 303.1L344.7 302L345.6 302.7L346.4 302.9L347.3 302.6L348.2 302.5L349.1 302.8L350 302.9L350.9 302.3L351.7 302.5L352.6 303.3L353.5 303.7L354.4 303L355.3 301.6L356.2 303.8L357 304L357.9 302.1L358.8 302.6L359.7 303.6L360.6 302.5L361.5 302.6L362.4 302.9L363.2 301.9L364.1 302.5L365 301.9L365.9 301.8L366.8 300.7L367.7 300.1L368.5 300.8L369.4 299.7L370.3 299.1L371.2 297.1L372.1 293.7L373 291.1L373.8 288.8L374.7 287.2L375.6 283.7L376.5 281.5L377.4 279.3L378.3 274.1L379.1 271L380 270.9L380.9 268L381.8 267.4L382.7 265L383.6 261.7L384.5 264.8L385.3 265.2L386.2 265L387.1 267.4L388 272L388.9 273.2L389.8 271.6L390.6 275.1L391.5 276.8L392.4 276.3L393.3 277.7L394.2 278.8L395.1 279.5L395.9 280.5L396.8 282.7L397.7 282.4L398.6 282.8L399.5 280.6L400.4 279.5L401.2 279.8L402.1 281.5L403 284.2L403.9 286.7L404.8 286.4L405.7 286.2L406.6 288.4L407.4 289.4L408.3 289.1L409.2 289.7L410.1 289.7L411 292.2L411.9 293L412.7 293.5L413.6 293.8L414.5 294.4L415.4 294.6L416.3 295.3L417.2 294.5L418 295.5L418.9 295.8L419.8 295.8L420.7 296.5L421.6 295.6L422.5 296.6L423.3 296.8L424.2 297.4L425.1 298.2L426 297.9" fill="none" stroke="#5a5a5a" stroke-width="1.3" stroke-linejoin="round"/>
<path d="M337.6 310.3L338.5 310.4L339.4 310.2L340.3 311L341.1 310.5L342 311.3L342.9 312.5L343.8 312.9L344.7 311.9L345.6 311.4L346.4 311.3L347.3 311.2L348.2 311.6L349.1 311.3L350 310.8L350.9 310.8L351.7 312.3L352.6 310.9L353.5 310.2L354.4 310.8L355.3 310.2L356.2 311.5L357 311.2L357.9 310.9L358.8 311.2L359.7 311.2L360.6 310.1L361.5 311.1L362.4 310.9L363.2 312.1L364.1 310.6L365 309.8L365.9 307.5L366.8 305.6L367.7 304.6L368.5 300.3L369.4 295.4L370.3 293L371.2 290.1L372.1 286.6L373 285.1L373.8 282.3L374.7 279.6L375.6 276.9L376.5 274.5L377.4 271.2L378.3 267.3L379.1 268L380 272.5L380.9 275.7L381.8 277.6L382.7 279L383.6 283.1L384.5 287.5L385.3 289L386.2 288.9L387.1 290.6L388 292.3L388.9 292.6L389.8 294.6L390.6 294L391.5 296.5L392.4 297.6L393.3 299.3L394.2 301L395.1 301L395.9 302L396.8 301.6L397.7 303.1L398.6 302.6L399.5 304.1L400.4 305.8L401.2 305.2L402.1 306.9L403 307.3L403.9 306.1L404.8 306.6L405.7 307.4L406.6 308L407.4 308.7L408.3 308L409.2 307.8L410.1 308.2L411 309.7L411.9 310.8L412.7 310.2L413.6 309.8L414.5 309.7L415.4 310.2L416.3 310.6L417.2 310L418 311L418.9 310.4L419.8 310.5L420.7 310.6L421.6 310.9L422.5 309.9L423.3 309.3L424.2 309.3L425.1 311.8L426 312.1" fill="none" stroke="#3c3c3c" stroke-width="1.3" stroke-linejoin="round"/>
<path d="M337.6 320.3L338.5 321.9L339.4 320.9L340.3 322L341.1 320.2L342 319.6L342.9 320.5L343.8 320.1L344.7 319.8L345.6 320.5L346.4 319.7L347.3 320.1L348.2 321.3L349.1 321L350 320.5L350.9 320.5L351.7 320.4L352.6 320.6L353.5 320.5L354.4 320.1L355.3 320.5L356.2 320.6L357 320.1L357.9 319.3L358.8 319.6L359.7 316.4L360.6 314.8L361.5 311.9L362.4 308.7L363.2 312.1L364.1 313.6L365 314.4L365.9 314.5L366.8 313.1L367.7 310.3L368.5 307.5L369.4 302.4L370.3 299L371.2 294.4L372.1 291.5L373 285L373.8 280.6L374.7 278.1L375.6 274.8L376.5 273.4L377.4 274.4L378.3 277.6L379.1 280.9L380 282.6L380.9 286.6L381.8 288.3L382.7 293L383.6 293L384.5 294.8L385.3 298L386.2 301.6L387.1 302L388 303.9L388.9 306.8L389.8 307.9L390.6 307.7L391.5 307.4L392.4 309.8L393.3 309.9L394.2 310.6L395.1 312.2L395.9 313.5L396.8 314.5L397.7 313.1L398.6 313.6L399.5 313.1L400.4 313.4L401.2 315.3L402.1 315.9L403 316L403.9 316.9L404.8 317.8L405.7 316.2L406.6 317.5L407.4 318.7L408.3 317.7L409.2 317.6L410.1 317.5L411 319.8L411.9 319.4L412.7 318.4L413.6 319.3L414.5 319.4L415.4 320.3L416.3 319.9L417.2 319.2L418 319.5L418.9 319.4L419.8 318.7L420.7 318.1L421.6 318.4L422.5 318.8L423.3 318.1L424.2 319.6L425.1 318.7L426 319.9" fill="none" stroke="#262626" stroke-width="1.3" stroke-linejoin="round"/>
<path d="M337.6 329.2L338.5 329.4L339.4 328.7L340.3 328.1L341.1 329.4L342 327.8L342.9 328.2L343.8 330.1L344.7 330.6L345.6 329L346.4 330.2L347.3 330.1L348.2 329.8L349.1 328.6L350 329.5L350.9 329L351.7 329.6L352.6 328.8L353.5 328.7L354.4 328.6L355.3 329.3L356.2 328.1L357 329.3L357.9 330.1L358.8 327.2L359.7 322.8L360.6 315.6L361.5 312.3L362.4 313L363.2 313L364.1 311.2L365 311.9L365.9 310.5L366.8 308.6L367.7 306.7L368.5 304.9L369.4 303.2L370.3 300.5L371.2 298.3L372.1 295.9L373 294.3L373.8 295L374.7 294.5L375.6 293.7L376.5 290.9L377.4 289L378.3 287.4L379.1 286.9L380 288.7L380.9 290.3L381.8 293.1L382.7 296.8L383.6 301L384.5 302.3L385.3 305.1L386.2 306.3L387.1 307.3L388 307.7L388.9 309.9L389.8 312.5L390.6 314L391.5 314.1L392.4 317L393.3 316.9L394.2 317.3L395.1 318.3L395.9 319.2L396.8 321.3L397.7 320.1L398.6 320.9L399.5 322L400.4 323.1L401.2 323.8L402.1 324.8L403 324.1L403.9 323L404.8 323.3L405.7 326.2L406.6 327.1L407.4 325.2L408.3 326.3L409.2 326.9L410.1 326.3L411 326.4L411.9 327L412.7 327L413.6 326.7L414.5 328L415.4 327.3L416.3 326.5L417.2 327.8L418 328L418.9 326.7L419.8 326.3L420.7 326.2L421.6 327.8L422.5 327.8L423.3 328.2L424.2 328.9L425.1 330.1L426 329.4" fill="none" stroke="#121212" stroke-width="1.6" stroke-linejoin="round"/>
<path d="M337.6 337.4L338.5 338L339.4 338.3L340.3 338L341.1 337.5L342 337.8L342.9 338.3L343.8 338.9L344.7 338.5L345.6 338.8L346.4 338.8L347.3 337.8L348.2 337.3L349.1 337.4L350 337.9L350.9 336.7L351.7 336.3L352.6 332.8L353.5 328L354.4 324.8L355.3 323.5L356.2 324.2L357 326.2L357.9 325.3L358.8 324.5L359.7 324.5L360.6 324.6L361.5 327.2L362.4 326L363.2 325.6L364.1 326.9L365 326.3L365.9 327L366.8 327.7L367.7 325.6L368.5 324.8L369.4 320.8L370.3 318.3L371.2 313L372.1 310.4L373 307.3L373.8 303.3L374.7 298.4L375.6 299.9L376.5 294.9L377.4 294.8L378.3 293.1L379.1 293.8L380 294.2L380.9 295.5L381.8 299.7L382.7 304.5L383.6 305.8L384.5 308.5L385.3 309.5L386.2 311.2L387.1 312.6L388 315.4L388.9 316.3L389.8 317.7L390.6 317.8L391.5 318.7L392.4 320.7L393.3 322.5L394.2 324L395.1 325.4L395.9 325.4L396.8 326.9L397.7 327.3L398.6 328.2L399.5 329.4L400.4 329.8L401.2 328.6L402.1 328.4L403 331.2L403.9 331L404.8 331.2L405.7 331.1L406.6 331.2L407.4 332.8L408.3 331.8L409.2 333L410.1 332.7L411 333.4L411.9 335.5L412.7 335L413.6 333.8L414.5 334.1L415.4 334L416.3 334.6L417.2 335.4L418 335.1L418.9 335.1L419.8 335.3L420.7 336.3L421.6 337.3L422.5 337L423.3 336.8L424.2 336.4L425.1 336.5L426 336.2" fill="none" stroke="#000" stroke-width="1.6" stroke-linejoin="round"/>
<path d="M337.6 294.1L338.5 293.6L339.4 293.2L340.3 294.1L341.1 294.7L342 294.2L342.9 294.4L343.8 293.1L344.7 293.2L345.6 293.6L346.4 294.2L347.3 294.1L348.2 294.4L349.1 294.7L350 293.8L350.9 293.6L351.7 295L352.6 294.4L353.5 293.6L354.4 294.9L355.3 293.7L356.2 293.2L357 294.1L357.9 294.1L358.8 293.6L359.7 292.1L360.6 293.5L361.5 294.1L362.4 294.9L363.2 294L364.1 293.7L365 294.9L365.9 295.1L366.8 292.6L367.7 293.2L368.5 294L369.4 293.5L370.3 292.9L371.2 293.5L372.1 292.1L373 291.8L373.8 292.8L374.7 292.6L375.6 292.2L376.5 293.4L377.4 293.4L378.3 292.8L379.1 293.4L380 292.9L380.9 293.4L381.8 293.5L382.7 292.7L383.6 293L384.5 289.4L385.3 271.7L386.2 251.2L387.1 237.2L388 240.7L388.9 243.8L389.8 244.8L390.6 246.4L391.5 252L392.4 253L393.3 254.5L394.2 256.6L395.1 259.8L395.9 261.2L396.8 263.9L397.7 262L398.6 264.5L399.5 263.8L400.4 266.8L401.2 269.5L402.1 270.8L403 270.5L403.9 270.5L404.8 273.8L405.7 274.5L406.6 273.9L407.4 269.5L408.3 266.8L409.2 261.4L410.1 257.9L411 255.9L411.9 261L412.7 263.4L413.6 267L414.5 267.7L415.4 267.1L416.3 267L417.2 269.8L418 271.6L418.9 272.3L419.8 272.7L420.7 274.7L421.6 276.8L422.5 278.6L423.3 280.8L424.2 280.4L425.1 279.1L426 280.5" fill="none" stroke="#f00000" stroke-width="1.4" stroke-linejoin="round"/>
<path d="M794.6 18.9L795.5 18L796.4 18.9L797.3 20.6L798.3 20.1L799.2 18.7L800.1 19.4L801 18.4L801.9 17.4L802.8 20.1L803.7 17.8L804.7 19.1L805.6 18.4L806.5 18.5L807.4 17.8L808.3 18.7L809.2 18.2L810.1 17.8L811.1 17.9L812 18.6L812.9 19L813.8 18.5L814.7 18.2L815.6 18.6L816.5 18.8L817.5 18.5L818.4 18.6L819.3 18.6L820.2 17.9L821.1 18.4L822 18.8L822.9 18.2L823.8 19.1L824.8 19.2L825.7 19L826.6 19.4L827.5 19.7L828.4 19.2L829.3 19L830.2 19.6L831.2 19.4L832.1 17.5L833 18.1L833.9 19.2L834.8 19.3L835.7 19.7L836.6 18.7L837.6 18.6L838.5 18.8L839.4 18.9L840.3 18.3L841.2 18.5L842.1 18.7L843 18.8L844 16.7L844.9 18.2L845.8 18.3L846.7 20L847.6 18.1L848.5 19.2L849.4 19.3L850.4 18.8L851.3 19.7L852.2 18.8L853.1 18.1L854 19.5L854.9 18.7L855.8 18.6L856.8 19.2L857.7 18.6L858.6 19.4L859.5 18L860.4 19.5L861.3 19.3L862.2 18.2L863.1 18.6L864.1 20.5L865 20.5L865.9 20.7L866.8 20.1L867.7 19.2L868.6 19.7L869.5 19.3L870.5 18.1L871.4 18.7L872.3 18.1L873.2 16.7L874.1 17.8L875 18.2L875.9 18.6L876.9 18.6L877.8 18.2L878.7 18.8L879.6 18.3L880.5 19.1L881.4 18.2L882.3 18.4L883.3 18.3L884.2 18.7L885.1 19.2L886 18.8" fill="none" stroke="#dcdcdc" stroke-width="1.1" stroke-linejoin="round"/>
<path d="M794.6 29.3L795.5 28.9L796.4 29.3L797.3 29.1L798.3 28.6L799.2 28.9L800.1 29.8L801 28.7L801.9 29.8L802.8 30L803.7 29.3L804.7 28.2L805.6 28.5L806.5 28.2L807.4 27.7L808.3 27.8L809.2 28.5L810.1 27.7L811.1 26L812 28.1L812.9 28.2L813.8 29L814.7 29.9L815.6 28.1L816.5 28.2L817.5 27.1L818.4 28L819.3 27.6L820.2 29.8L821.1 29.7L822 29.2L822.9 30.1L823.8 29.6L824.8 28.4L825.7 27.9L826.6 29L827.5 28.8L828.4 29L829.3 28L830.2 28.1L831.2 28.5L832.1 28L833 27.7L833.9 29.7L834.8 28.9L835.7 28.4L836.6 28.3L837.6 28L838.5 28.5L839.4 29.2L840.3 28.7L841.2 28.6L842.1 28.9L843 28.8L844 28.2L844.9 29L845.8 28.7L846.7 27.7L847.6 28.1L848.5 28.5L849.4 28.3L850.4 27L851.3 28.2L852.2 28.3L853.1 26.9L854 28.6L854.9 29L855.8 28.5L856.8 27.4L857.7 27.9L858.6 28.1L859.5 29.5L860.4 29.2L861.3 29.4L862.2 29.1L863.1 27.9L864.1 28.1L865 29.1L865.9 29.5L866.8 29L867.7 28L868.6 29.9L869.5 29.4L870.5 27.1L871.4 27.7L872.3 28.9L873.2 28.7L874.1 27.5L875 29.1L875.9 29L876.9 26.8L877.8 27.9L878.7 28.5L879.6 29.4L880.5 28.7L881.4 28.4L882.3 28.3L883.3 28.9L884.2 28.9L885.1 29.2L886 28.6" fill="none" stroke="#c8c8c8" stroke-width="1.1" stroke-linejoin="round"/>
<path d="M794.6 37.8L795.5 37.5L796.4 39.8L797.3 39L798.3 38.1L799.2 39.4L800.1 38.9L801 38.9L801.9 37.9L802.8 38.5L803.7 38.7L804.7 38.6L805.6 38.9L806.5 37.3L807.4 37.7L808.3 37.8L809.2 38.4L810.1 37.8L811.1 38.9L812 38.5L812.9 38.4L813.8 38.3L814.7 38.7L815.6 38L816.5 39L817.5 38.8L818.4 38.7L819.3 39.2L820.2 39.4L821.1 38.1L822 37.4L822.9 38.5L823.8 37.8L824.8 38L825.7 36.4L826.6 38L827.5 38.3L828.4 37.8L829.3 37.8L830.2 38.1L831.2 36.4L832.1 36.7L833 37.1L833.9 38L834.8 36.6L835.7 37.4L836.6 39L837.6 39.6L838.5 39.3L839.4 37.4L840.3 37.6L841.2 39L842.1 39.1L843 39.6L844 40.5L844.9 38.8L845.8 37.9L846.7 37.7L847.6 38.6L848.5 37.8L849.4 38L850.4 38.4L851.3 39L852.2 38.2L853.1 38.9L854 37.9L854.9 38.4L855.8 39.3L856.8 39.4L857.7 38.7L858.6 37.2L859.5 37.9L860.4 38.3L861.3 38.6L862.2 39.2L863.1 38L864.1 37.9L865 37.5L865.9 38.3L866.8 38.2L867.7 37.4L868.6 39.2L869.5 38.7L870.5 38.1L871.4 38.3L872.3 37.2L873.2 37.6L874.1 36.9L875 37.5L875.9 38.1L876.9 38.6L877.8 39.4L878.7 39.5L879.6 39.5L880.5 38.9L881.4 38.2L882.3 37.9L883.3 38.4L884.2 37.2L885.1 38.5L886 39" fill="none" stroke="#b0b0b0" stroke-width="1.1" stroke-linejoin="round"/>
<path d="M794.6 49.4L795.5 48.6L796.4 47.7L797.3 47.5L798.3 46.9L799.2 47.3L800.1 47.5L801 47.3L801.9 47.6L802.8 48.1L803.7 47.7L804.7 47.4L805.6 47.5L806.5 48.6L807.4 49.3L808.3 49.6L809.2 48.6L810.1 47.5L811.1 47.2L812 46.7L812.9 46.3L813.8 47.2L814.7 48.2L815.6 47.4L816.5 47.2L817.5 46.2L818.4 47.6L819.3 47.2L820.2 46.8L821.1 47.9L822 48.2L822.9 47.7L823.8 47L824.8 48.2L825.7 48.7L826.6 49L827.5 48.1L828.4 48.2L829.3 49L830.2 47.5L831.2 48.4L832.1 49L833 48.9L833.9 49L834.8 49.1L835.7 48.8L836.6 47.7L837.6 47.8L838.5 47.5L839.4 46.4L840.3 45.8L841.2 44.9L842.1 45.5L843 45.4L844 45.2L844.9 43.5L845.8 44.9L846.7 44.3L847.6 45.7L848.5 45.8L849.4 45.1L850.4 46.1L851.3 46.4L852.2 45.7L853.1 46.8L854 45.7L854.9 45.8L855.8 46.5L856.8 47.8L857.7 48.4L858.6 47.6L859.5 47.4L860.4 48.4L861.3 47.6L862.2 47.9L863.1 47.7L864.1 47.8L865 46.7L865.9 49L866.8 48.5L867.7 47.2L868.6 47.3L869.5 48.3L870.5 48.4L871.4 47.5L872.3 47.5L873.2 47.9L874.1 47.5L875 47.6L875.9 48.1L876.9 46.6L877.8 47.1L878.7 46.6L879.6 47.7L880.5 49L881.4 48.5L882.3 47.7L883.3 47.7L884.2 48.2L885.1 48.1L886 47.3" fill="none" stroke="#9a9a9a" stroke-width="1.1" stroke-linejoin="round"/>
<path d="M794.6 58L795.5 59.4L796.4 58.4L797.3 58L798.3 57.3L799.2 57.6L800.1 57.5L801 56.9L801.9 58.5L802.8 58.5L803.7 58.7L804.7 58.7L805.6 58.2L806.5 58.5L807.4 59.5L808.3 58.2L809.2 58.1L810.1 58.9L811.1 57.1L812 56.3L812.9 56L813.8 56.7L814.7 56.9L815.6 56.8L816.5 57.7L817.5 58.6L818.4 57.6L819.3 57.7L820.2 58.3L821.1 57.7L822 57.5L822.9 57.4L823.8 57.8L824.8 58.7L825.7 58.3L826.6 58L827.5 57.7L828.4 59.9L829.3 58.7L830.2 59L831.2 58.5L832.1 59L833 57.7L833.9 57.1L834.8 57.9L835.7 58.1L836.6 58L837.6 57.3L838.5 58L839.4 57.4L840.3 56.3L841.2 57.6L842.1 58.1L843 57.9L844 56.6L844.9 58L845.8 56.6L846.7 57.2L847.6 56.2L848.5 57L849.4 58.8L850.4 59.1L851.3 58.6L852.2 58.4L853.1 59.5L854 58.7L854.9 58.9L855.8 57.6L856.8 58.4L857.7 57.2L858.6 57.9L859.5 57.4L860.4 56.1L861.3 57.1L862.2 58.6L863.1 59.1L864.1 58.5L865 58.6L865.9 56.4L866.8 56.4L867.7 56L868.6 57.8L869.5 58.5L870.5 57.4L871.4 57.6L872.3 58.4L873.2 58.1L874.1 57.4L875 58.3L875.9 58L876.9 57L877.8 58.4L878.7 57.7L879.6 57.3L880.5 59.3L881.4 57.9L882.3 57.5L883.3 58.3L884.2 57.8L885.1 58.1L886 56.6" fill="none" stroke="#888" stroke-width="1.1" stroke-linejoin="round"/>
<path d="M794.6 77.3L795.5 77.5L796.4 77L797.3 77.7L798.3 77.2L799.2 77.2L800.1 78.3L801 77.7L801.9 76.9L802.8 78.3L803.7 76.6L804.7 76.2L805.6 75.8L806.5 76L807.4 77.7L808.3 77.2L809.2 77.2L810.1 77.8L811.1 76.1L812 76.3L812.9 76.6L813.8 76.5L814.7 76.4L815.6 76.6L816.5 77.2L817.5 76.5L818.4 76.2L819.3 77.1L820.2 78.3L821.1 77.2L822 77.4L822.9 77.8L823.8 76.8L824.8 78.1L825.7 77.2L826.6 74.8L827.5 74.2L828.4 73.5L829.3 73L830.2 74.4L831.2 75.6L832.1 74.7L833 74.5L833.9 74.3L834.8 75.1L835.7 76.8L836.6 75.6L837.6 76L838.5 73.5L839.4 69.5L840.3 64.8L841.2 59.8L842.1 54.2L843 48.4L844 44L844.9 44.1L845.8 41.9L846.7 45.5L847.6 46.7L848.5 50.3L849.4 50.9L850.4 52.5L851.3 53.6L852.2 56.1L853.1 56.8L854 56.2L854.9 60.1L855.8 60.7L856.8 61.9L857.7 61.7L858.6 63.2L859.5 65.3L860.4 66.4L861.3 66.3L862.2 66.8L863.1 68.5L864.1 68.6L865 69.9L865.9 67.6L866.8 68.3L867.7 69.8L868.6 68.8L869.5 70.7L870.5 69.8L871.4 70.9L872.3 70.8L873.2 71.6L874.1 71.6L875 72.7L875.9 72.2L876.9 73.3L877.8 72.8L878.7 73.1L879.6 74L880.5 72.4L881.4 72.8L882.3 73.3L883.3 74.1L884.2 73.4L885.1 74L886 76.5" fill="none" stroke="#5a5a5a" stroke-width="1.3" stroke-linejoin="round"/>
<path d="M794.6 86.8L795.5 86.6L796.4 86.4L797.3 87.5L798.3 87.4L799.2 86.6L800.1 87.5L801 87.4L801.9 87.3L802.8 87.5L803.7 87.6L804.7 86.8L805.6 86.9L806.5 88.3L807.4 89L808.3 88L809.2 86.5L810.1 86.4L811.1 86.8L812 86.5L812.9 87.1L813.8 87.2L814.7 86.5L815.6 86.7L816.5 87.8L817.5 87.9L818.4 87.2L819.3 87.7L820.2 88.4L821.1 89.1L822 87.4L822.9 87.3L823.8 87.4L824.8 86.8L825.7 87.6L826.6 87.7L827.5 87.8L828.4 87.6L829.3 87L830.2 87.2L831.2 85.8L832.1 86.6L833 86.9L833.9 88L834.8 85.3L835.7 82L836.6 74.7L837.6 70.1L838.5 62.5L839.4 56.4L840.3 50.2L841.2 46.3L842.1 43.4L843 47.8L844 51.8L844.9 54.2L845.8 56.4L846.7 59.7L847.6 62.1L848.5 66.6L849.4 66.7L850.4 67.7L851.3 68.3L852.2 65.1L853.1 61.7L854 58.1L854.9 58.6L855.8 61.7L856.8 63.3L857.7 65.5L858.6 67.8L859.5 67.9L860.4 70L861.3 70.8L862.2 73.6L863.1 74.4L864.1 76.2L865 76.6L865.9 78.2L866.8 79.1L867.7 78.2L868.6 79.2L869.5 80.1L870.5 80.2L871.4 80.2L872.3 81.4L873.2 81.3L874.1 82.4L875 82.9L875.9 83.6L876.9 83.5L877.8 82.8L878.7 83.6L879.6 82.2L880.5 82.8L881.4 81.5L882.3 79.3L883.3 76.1L884.2 73.4L885.1 72.1L886 69.6" fill="none" stroke="#3c3c3c" stroke-width="1.3" stroke-linejoin="round"/>
<path d="M794.6 97.2L795.5 96.7L796.4 95.9L797.3 97L798.3 98L799.2 97.4L800.1 96.4L801 97.5L801.9 95.7L802.8 94.7L803.7 95.7L804.7 96.1L805.6 96.2L806.5 95.9L807.4 96.6L808.3 97.1L809.2 96.5L810.1 96L811.1 96.3L812 96.8L812.9 96.4L813.8 96.9L814.7 96.5L815.6 97L816.5 95.1L817.5 97.1L818.4 95.9L819.3 96.6L820.2 95.6L821.1 96.7L822 95.9L822.9 96.3L823.8 97.1L824.8 96.4L825.7 97.5L826.6 97.1L827.5 97.2L828.4 96.7L829.3 97.3L830.2 96.7L831.2 96.7L832.1 96.9L833 96.2L833.9 95.9L834.8 96L835.7 96.2L836.6 97.1L837.6 98.7L838.5 97.7L839.4 97L840.3 97.5L841.2 96.9L842.1 97.3L843 96.1L844 97L844.9 96.5L845.8 97L846.7 97.7L847.6 97.7L848.5 97.4L849.4 98L850.4 97.1L851.3 95.7L852.2 96.7L853.1 95.6L854 96.9L854.9 96.2L855.8 96.4L856.8 96.6L857.7 96L858.6 96.3L859.5 97.7L860.4 97L861.3 96.8L862.2 96.8L863.1 96.7L864.1 97.2L865 97.1L865.9 95.9L866.8 96.5L867.7 96.7L868.6 97.5L869.5 97.5L870.5 97L871.4 98.3L872.3 96.2L873.2 95.4L874.1 96.5L875 96.9L875.9 97.2L876.9 95.5L877.8 96.3L878.7 96.9L879.6 95.9L880.5 96.7L881.4 95.3L882.3 96.5L883.3 95.3L884.2 95.8L885.1 96.6L886 96.7" fill="none" stroke="#262626" stroke-width="1.3" stroke-linejoin="round"/>
<path d="M794.6 105.7L795.5 105.7L796.4 105.8L797.3 106.3L798.3 106.2L799.2 106.7L800.1 107.9L801 106.3L801.9 106.8L802.8 105.6L803.7 105L804.7 105.3L805.6 106.1L806.5 106.4L807.4 106L808.3 105.7L809.2 106L810.1 107.2L811.1 106.5L812 106.6L812.9 106.8L813.8 106.5L814.7 105.9L815.6 107.3L816.5 106.8L817.5 106.6L818.4 106.3L819.3 106.7L820.2 106.6L821.1 106.3L822 107.1L822.9 105.7L823.8 106.8L824.8 105.9L825.7 106.5L826.6 107.9L827.5 107.9L828.4 107.4L829.3 107.8L830.2 106.4L831.2 108.3L832.1 106.9L833 106.2L833.9 106.7L834.8 105L835.7 106.1L836.6 107.8L837.6 107.6L838.5 107.3L839.4 106.1L840.3 106.8L841.2 107L842.1 106.3L843 107.6L844 107.3L844.9 106.4L845.8 106.3L846.7 107L847.6 106.7L848.5 105.7L849.4 105.9L850.4 106.2L851.3 106.7L852.2 105.8L853.1 106L854 106.5L854.9 106L855.8 106.8L856.8 106.3L857.7 105.6L858.6 106.3L859.5 107.5L860.4 105.6L861.3 105.8L862.2 105.9L863.1 105.9L864.1 106.9L865 105.1L865.9 105.6L866.8 106.9L867.7 106.2L868.6 106.2L869.5 106.4L870.5 105.8L871.4 106.1L872.3 106.6L873.2 106.6L874.1 107.9L875 107L875.9 106.7L876.9 105.2L877.8 106.9L878.7 105.8L879.6 107L880.5 106.9L881.4 106.5L882.3 105.8L883.3 105.2L884.2 105.8L885.1 106.3L886 106.3" fill="none" stroke="#121212" stroke-width="1.3" stroke-linejoin="round"/>
<path d="M794.6 116.2L795.5 116L796.4 116.7L797.3 117.2L798.3 117.1L799.2 117.1L800.1 118L801 116.5L801.9 116.2L802.8 116.7L803.7 116.5L804.7 115.7L805.6 114.6L806.5 113L807.4 111.3L808.3 109.8L809.2 104.9L810.1 102.2L811.1 98.3L812 95.6L812.9 92.4L813.8 90.6L814.7 88.4L815.6 87.1L816.5 89L817.5 87.5L818.4 86.7L819.3 86.1L820.2 86.5L821.1 86.5L822 85.2L822.9 85.3L823.8 83.2L824.8 85.6L825.7 85.9L826.6 87.6L827.5 86.8L828.4 88.7L829.3 87.6L830.2 88.5L831.2 87.7L832.1 88.4L833 87.8L833.9 86.5L834.8 86.7L835.7 84.1L836.6 83.9L837.6 79.5L838.5 80.2L839.4 78.6L840.3 74.5L841.2 75.6L842.1 74.5L843 75.8L844 77.7L844.9 79.7L845.8 77.9L846.7 79.9L847.6 79L848.5 81.4L849.4 81.8L850.4 82L851.3 83.3L852.2 83.2L853.1 85.6L854 85.6L854.9 86.8L855.8 86.5L856.8 83.4L857.7 82.5L858.6 84.4L859.5 87L860.4 89.7L861.3 92.7L862.2 94.2L863.1 96.2L864.1 98.4L865 99.5L865.9 102.5L866.8 102.9L867.7 106.5L868.6 109.8L869.5 110.8L870.5 112.7L871.4 115.5L872.3 116.1L873.2 117.9L874.1 117.1L875 117L875.9 116.6L876.9 116.1L877.8 117.6L878.7 117.9L879.6 118.2L880.5 118.3L881.4 117.5L882.3 117.2L883.3 117.7L884.2 117.2L885.1 117.9L886 118" fill="none" stroke="#000" stroke-width="1.6" stroke-linejoin="round"/>
<path d="M794.6 67.2L795.5 66.5L796.4 65.9L797.3 66L798.3 66.6L799.2 66.5L800.1 66.9L801 68.8L801.9 69L802.8 68.6L803.7 69.3L804.7 68.6L805.6 67.8L806.5 66.6L807.4 67.8L808.3 68.1L809.2 67.8L810.1 67.6L811.1 68.3L812 68.1L812.9 68.3L813.8 68.4L814.7 66.9L815.6 67.8L816.5 67.9L817.5 68.1L818.4 69.2L819.3 67.4L820.2 67.7L821.1 67.3L822 67.7L822.9 67.4L823.8 67L824.8 68.2L825.7 67.6L826.6 65.9L827.5 67.5L828.4 67.4L829.3 67.2L830.2 67.7L831.2 67.7L832.1 66.9L833 66.8L833.9 67.8L834.8 68L835.7 67.9L836.6 67.7L837.6 66.9L838.5 67.6L839.4 68.3L840.3 66L841.2 64.2L842.1 62.2L843 59.7L844 58.2L844.9 58.3L845.8 56.9L846.7 58.5L847.6 58.6L848.5 60L849.4 59L850.4 60.6L851.3 59.7L852.2 59.4L853.1 59.4L854 59.5L854.9 61.6L855.8 61.9L856.8 63L857.7 63.4L858.6 63.7L859.5 65.1L860.4 63.5L861.3 63.5L862.2 65.1L863.1 64.9L864.1 66.1L865 65.8L865.9 64.5L866.8 65.1L867.7 65.2L868.6 64.3L869.5 65.9L870.5 65.6L871.4 66.4L872.3 65.4L873.2 65.8L874.1 64.8L875 66.6L875.9 66L876.9 66.4L877.8 65.9L878.7 66.6L879.6 67.2L880.5 67.3L881.4 67L882.3 67.2L883.3 67.7L884.2 66.8L885.1 66.2L886 66.6" fill="none" stroke="#0a10f0" stroke-width="1.4" stroke-linejoin="round"/>
<path d="M794.6 130.1L795.5 129.8L796.4 130.1L797.3 131.5L798.3 131L799.2 131.5L800.1 130.7L801 131.5L801.9 130.3L802.8 130.1L803.7 128.8L804.7 129.4L805.6 129.5L806.5 130.4L807.4 130.9L808.3 129.6L809.2 130.1L810.1 130L811.1 130.1L812 129.8L812.9 131.5L813.8 132.3L814.7 130.8L815.6 129L816.5 131.4L817.5 131.4L818.4 130.8L819.3 131L820.2 131L821.1 131L822 130.1L822.9 130.4L823.8 130.4L824.8 131.4L825.7 130.4L826.6 129.3L827.5 129.6L828.4 130.5L829.3 131.5L830.2 130.6L831.2 130.3L832.1 130.7L833 132.4L833.9 131.9L834.8 132L835.7 131.9L836.6 131L837.6 131.6L838.5 131.2L839.4 129.9L840.3 131L841.2 130.9L842.1 130.3L843 131L844 131.9L844.9 131L845.8 130.2L846.7 131.8L847.6 131.4L848.5 131.3L849.4 130L850.4 131.6L851.3 131.3L852.2 132L853.1 132L854 131.2L854.9 131.2L855.8 131L856.8 131.4L857.7 132.2L858.6 130.6L859.5 129.6L860.4 130.3L861.3 130.8L862.2 129.8L863.1 130L864.1 130.2L865 129.9L865.9 131L866.8 131.5L867.7 131L868.6 131.7L869.5 131.1L870.5 130.7L871.4 130.3L872.3 130.2L873.2 131.5L874.1 131.2L875 130.6L875.9 129.9L876.9 129.7L877.8 130.5L878.7 130.8L879.6 131.6L880.5 131.4L881.4 131.6L882.3 132L883.3 131.5L884.2 130.3L885.1 129.4L886 130" fill="none" stroke="#dcdcdc" stroke-width="1.1" stroke-linejoin="round"/>
<path d="M794.6 140.6L795.5 140.6L796.4 138.8L797.3 140L798.3 141.1L799.2 140.4L800.1 140.2L801 139.7L801.9 140.3L802.8 139.2L803.7 139.4L804.7 138.1L805.6 138.9L806.5 139.5L807.4 138.9L808.3 139L809.2 140.3L810.1 139.6L811.1 140.4L812 139.4L812.9 140.3L813.8 140L814.7 140.6L815.6 140.1L816.5 139.2L817.5 139L818.4 140.1L819.3 141.1L820.2 140L821.1 140.6L822 140.9L822.9 140L823.8 141L824.8 139.9L825.7 139.3L826.6 139.8L827.5 140.7L828.4 140.5L829.3 139.2L830.2 139.7L831.2 139.1L832.1 139.7L833 139.9L833.9 139.9L834.8 140L835.7 139.9L836.6 139.5L837.6 139L838.5 139.8L839.4 140.7L840.3 140.9L841.2 141.1L842.1 142L843 140.9L844 141L844.9 139.2L845.8 140.2L846.7 141.2L847.6 140.3L848.5 140.2L849.4 139.6L850.4 139.8L851.3 138.7L852.2 140.1L853.1 140L854 140.4L854.9 140.6L855.8 141.5L856.8 140.3L857.7 141.4L858.6 140.4L859.5 139.9L860.4 139.8L861.3 141.1L862.2 140L863.1 140.6L864.1 140.1L865 140.4L865.9 138.9L866.8 140.1L867.7 140.3L868.6 140L869.5 141.1L870.5 140.9L871.4 140.6L872.3 140.2L873.2 140.4L874.1 139L875 138.3L875.9 138.6L876.9 139.5L877.8 139.5L878.7 138.4L879.6 138.2L880.5 138.9L881.4 140L882.3 139.3L883.3 139.3L884.2 139.7L885.1 140.1L886 141.1" fill="none" stroke="#c8c8c8" stroke-width="1.1" stroke-linejoin="round"/>
<path d="M794.6 149.2L795.5 148.8L796.4 148.9L797.3 148.5L798.3 149.8L799.2 150.2L800.1 150.6L801 150.7L801.9 149.3L802.8 149.4L803.7 150.3L804.7 150.6L805.6 149.3L806.5 150.4L807.4 150.4L808.3 149.7L809.2 148.9L810.1 148.5L811.1 149.6L812 150.6L812.9 150.9L813.8 149.9L814.7 149.7L815.6 148.9L816.5 148.9L817.5 148.6L818.4 150.1L819.3 150.7L820.2 150.1L821.1 149.6L822 150.3L822.9 149.1L823.8 150.7L824.8 150.2L825.7 150.6L826.6 149.8L827.5 149.5L828.4 149.9L829.3 149.6L830.2 148.8L831.2 149.9L832.1 150.4L833 150.7L833.9 150.4L834.8 150.8L835.7 151.5L836.6 150L837.6 150.8L838.5 151.9L839.4 150.3L840.3 150.9L841.2 149.9L842.1 149.1L843 150.3L844 150.9L844.9 149.5L845.8 150.9L846.7 151.2L847.6 151L848.5 150.9L849.4 149.4L850.4 149.8L851.3 151.1L852.2 149.3L853.1 149.2L854 149.7L854.9 148.5L855.8 148.7L856.8 148.8L857.7 149.9L858.6 149.9L859.5 148.8L860.4 148.9L861.3 149.6L862.2 150.7L863.1 149.8L864.1 149.7L865 149L865.9 149L866.8 148.9L867.7 149.4L868.6 149.3L869.5 149.9L870.5 149.6L871.4 149.4L872.3 149.4L873.2 150.2L874.1 149.6L875 149.8L875.9 150.5L876.9 150.1L877.8 149.5L878.7 150L879.6 148.8L880.5 149.2L881.4 148.8L882.3 148.9L883.3 150.7L884.2 151.5L885.1 150.2L886 150.3" fill="none" stroke="#b0b0b0" stroke-width="1.1" stroke-linejoin="round"/>
<path d="M794.6 158.6L795.5 159.2L796.4 159.5L797.3 160.6L798.3 159.8L799.2 159.3L800.1 159.6L801 159.7L801.9 160.6L802.8 158.9L803.7 159L804.7 159.5L805.6 159L806.5 159L807.4 159.2L808.3 159.4L809.2 159.4L810.1 159.1L811.1 158.7L812 158.5L812.9 158.7L813.8 158.5L814.7 159.2L815.6 160.4L816.5 160.9L817.5 159.4L818.4 160.6L819.3 160.4L820.2 159.8L821.1 158.9L822 160.7L822.9 160.7L823.8 160.5L824.8 160.4L825.7 159.8L826.6 159L827.5 158.8L828.4 157.2L829.3 157.4L830.2 159.6L831.2 160.5L832.1 160.1L833 159.9L833.9 158.8L834.8 158.5L835.7 158.1L836.6 158.4L837.6 157.9L838.5 157.6L839.4 157.8L840.3 157.2L841.2 158.3L842.1 157L843 157L844 155.4L844.9 157L845.8 158.8L846.7 159L847.6 158.8L848.5 159.2L849.4 159.7L850.4 159.4L851.3 160L852.2 158.5L853.1 159.8L854 158.8L854.9 158.2L855.8 158.4L856.8 157.8L857.7 158.3L858.6 158.1L859.5 159.4L860.4 160.1L861.3 159.9L862.2 159.4L863.1 158.6L864.1 159.9L865 160L865.9 160.1L866.8 159.1L867.7 159.6L868.6 158.7L869.5 159.3L870.5 159.9L871.4 160.1L872.3 160.9L873.2 161.9L874.1 160.8L875 160.5L875.9 158.3L876.9 158.7L877.8 158.5L878.7 158.9L879.6 159.4L880.5 160.4L881.4 160.7L882.3 158.9L883.3 159.6L884.2 159.8L885.1 159L886 159.4" fill="none" stroke="#9a9a9a" stroke-width="1.1" stroke-linejoin="round"/>
<path d="M794.6 167.6L795.5 168.8L796.4 169L797.3 169.5L798.3 169.7L799.2 168.3L800.1 168.7L801 169L801.9 168.3L802.8 167.4L803.7 167.6L804.7 167.8L805.6 169L806.5 168.1L807.4 168L808.3 169.3L809.2 169.6L810.1 168.9L811.1 169.7L812 169.9L812.9 170L813.8 169L814.7 169.5L815.6 169.3L816.5 168.7L817.5 168.1L818.4 167.9L819.3 168L820.2 168.2L821.1 169.9L822 169.4L822.9 168.4L823.8 168.2L824.8 169L825.7 168.5L826.6 168.8L827.5 168.8L828.4 169.1L829.3 169.7L830.2 170.4L831.2 170.5L832.1 169.9L833 167.3L833.9 169.5L834.8 168.9L835.7 168.2L836.6 168L837.6 168.4L838.5 168.5L839.4 168.5L840.3 169L841.2 169.2L842.1 169L843 168.9L844 168.8L844.9 169.4L845.8 168.3L846.7 168.3L847.6 168.9L848.5 169.9L849.4 170.2L850.4 169.7L851.3 169.4L852.2 169.8L853.1 168.7L854 169.8L854.9 168.4L855.8 169.9L856.8 168.9L857.7 169.7L858.6 170.4L859.5 169.7L860.4 169.4L861.3 169.3L862.2 168.7L863.1 169.1L864.1 169.8L865 169.2L865.9 168.3L866.8 168.2L867.7 169.8L868.6 170L869.5 169.9L870.5 169.7L871.4 170.9L872.3 170.5L873.2 170.5L874.1 170.6L875 168.6L875.9 168.8L876.9 168.8L877.8 168.5L878.7 169L879.6 168.6L880.5 168.4L881.4 168.5L882.3 168.7L883.3 168.4L884.2 168.7L885.1 169.1L886 169" fill="none" stroke="#888" stroke-width="1.1" stroke-linejoin="round"/>
<path d="M794.6 188.6L795.5 189.8L796.4 187.2L797.3 187.6L798.3 187.9L799.2 188.3L800.1 187.8L801 189.2L801.9 187.9L802.8 186.4L803.7 188L804.7 187.5L805.6 188.5L806.5 189.2L807.4 188.6L808.3 188.9L809.2 188.9L810.1 188.4L811.1 188.4L812 187.5L812.9 187.3L813.8 187.6L814.7 187.8L815.6 188.4L816.5 188.5L817.5 188.2L818.4 188.2L819.3 188.5L820.2 187.9L821.1 187L822 188.6L822.9 188L823.8 188.8L824.8 188.9L825.7 188.9L826.6 188.3L827.5 187.9L828.4 187.7L829.3 188L830.2 187.5L831.2 187.5L832.1 188.2L833 187.8L833.9 187.6L834.8 186.8L835.7 185.6L836.6 184L837.6 184L838.5 181.6L839.4 180.9L840.3 180.3L841.2 178.4L842.1 177.9L843 177.9L844 179.3L844.9 179.7L845.8 181.1L846.7 182.6L847.6 182.5L848.5 182.9L849.4 184.1L850.4 184.5L851.3 184.5L852.2 184.5L853.1 183.9L854 184.1L854.9 185.1L855.8 186.3L856.8 186.2L857.7 187.1L858.6 186.4L859.5 186.9L860.4 186.2L861.3 187.6L862.2 186.8L863.1 186.6L864.1 187.3L865 186.1L865.9 187L866.8 187.5L867.7 187.6L868.6 188.2L869.5 187.5L870.5 188L871.4 187.3L872.3 187.2L873.2 188.3L874.1 187.9L875 188.2L875.9 188.1L876.9 188L877.8 187.8L878.7 187.1L879.6 187.7L880.5 188L881.4 187.6L882.3 187.9L883.3 188.1L884.2 187.5L885.1 187L886 188.7" fill="none" stroke="#5a5a5a" stroke-width="1.3" stroke-linejoin="round"/>
<path d="M794.6 197.8L795.5 196.9L796.4 196.4L797.3 197.4L798.3 198.2L799.2 197.9L800.1 196.2L801 195.2L801.9 196.7L802.8 197.9L803.7 198.8L804.7 198.8L805.6 197.7L806.5 198.1L807.4 198.1L808.3 197.5L809.2 199L810.1 199.1L811.1 198.4L812 198.4L812.9 198.2L813.8 197.8L814.7 197.4L815.6 196.9L816.5 197.1L817.5 197.1L818.4 197.5L819.3 196.9L820.2 197.1L821.1 197.9L822 198.4L822.9 198.5L823.8 198.2L824.8 197.4L825.7 197.4L826.6 199L827.5 198.4L828.4 199.5L829.3 198.6L830.2 198.7L831.2 198.1L832.1 197L833 198.4L833.9 198.8L834.8 197.2L835.7 198.2L836.6 196.9L837.6 197.6L838.5 198.2L839.4 199.1L840.3 199.6L841.2 198.5L842.1 197.5L843 198.3L844 198.4L844.9 197.5L845.8 198.3L846.7 198.6L847.6 198.8L848.5 198.2L849.4 198L850.4 199L851.3 196.6L852.2 198L853.1 197.2L854 197.5L854.9 197.7L855.8 198.6L856.8 198.5L857.7 198.5L858.6 199.1L859.5 197.4L860.4 198.3L861.3 199.3L862.2 197L863.1 198.3L864.1 197L865 198.6L865.9 196.8L866.8 198.4L867.7 198.6L868.6 197.8L869.5 198.9L870.5 197.8L871.4 196.8L872.3 197.5L873.2 198L874.1 197.7L875 197.6L875.9 197.5L876.9 197.7L877.8 197.7L878.7 198.3L879.6 197.6L880.5 197.3L881.4 197.7L882.3 196.5L883.3 196.5L884.2 196.5L885.1 197.7L886 198.4" fill="none" stroke="#3c3c3c" stroke-width="1.3" stroke-linejoin="round"/>
<path d="M794.6 206.3L795.5 205.7L796.4 206.1L797.3 207.5L798.3 207.5L799.2 206.9L800.1 206.6L801 206.8L801.9 206.6L802.8 205.4L803.7 206.4L804.7 206.5L805.6 205.2L806.5 207.4L807.4 206.8L808.3 206.7L809.2 206.2L810.1 207L811.1 208.2L812 208.7L812.9 208.1L813.8 207.9L814.7 207.9L815.6 209.2L816.5 208.9L817.5 207.7L818.4 208L819.3 210.3L820.2 208L821.1 207.9L822 207.5L822.9 208.5L823.8 205.5L824.8 206.8L825.7 209.1L826.6 207.9L827.5 207.3L828.4 207.6L829.3 209.3L830.2 206.9L831.2 207.1L832.1 206.3L833 207.5L833.9 208.1L834.8 207.5L835.7 208L836.6 208.6L837.6 208.5L838.5 206.3L839.4 206.7L840.3 206.7L841.2 208.8L842.1 207.6L843 206.4L844 206.2L844.9 205.7L845.8 208.2L846.7 209L847.6 205.1L848.5 198.9L849.4 191.3L850.4 189.1L851.3 192.6L852.2 194.9L853.1 196.1L854 198.4L854.9 200.2L855.8 198.9L856.8 200.1L857.7 202L858.6 202.2L859.5 201.5L860.4 202.9L861.3 202.9L862.2 202.9L863.1 202.7L864.1 202.6L865 204.2L865.9 205L866.8 205.1L867.7 204.7L868.6 205.8L869.5 206.3L870.5 204.8L871.4 205.3L872.3 206.3L873.2 205.8L874.1 206L875 205.3L875.9 206.2L876.9 205.5L877.8 205.5L878.7 206.8L879.6 206.9L880.5 206.2L881.4 206.4L882.3 205.9L883.3 206.8L884.2 206.1L885.1 206.8L886 207.2" fill="none" stroke="#262626" stroke-width="1.3" stroke-linejoin="round"/>
<path d="M794.6 217.2L795.5 216.2L796.4 217L797.3 217.1L798.3 219.1L799.2 217.8L800.1 218.2L801 217.9L801.9 217.1L802.8 217.9L803.7 217.6L804.7 215.7L805.6 215.7L806.5 215L807.4 215.5L808.3 217.1L809.2 217.3L810.1 217.2L811.1 216.4L812 215.6L812.9 216.6L813.8 217.9L814.7 216.5L815.6 215.8L816.5 214.9L817.5 216.3L818.4 217.1L819.3 217.8L820.2 217.7L821.1 217.1L822 215L822.9 215.7L823.8 217.1L824.8 216.6L825.7 219.1L826.6 217.6L827.5 216.2L828.4 217.3L829.3 216.9L830.2 217.9L831.2 218.2L832.1 218.6L833 217.8L833.9 217.5L834.8 218.2L835.7 217.3L836.6 218L837.6 219L838.5 217.6L839.4 218.1L840.3 218.8L841.2 217.5L842.1 217.2L843 217.8L844 218.2L844.9 216.8L845.8 218.1L846.7 217.4L847.6 216.7L848.5 217.5L849.4 217.7L850.4 217.5L851.3 216.7L852.2 218L853.1 218L854 217.8L854.9 216.8L855.8 216.6L856.8 215.6L857.7 210.9L858.6 209.6L859.5 206.7L860.4 203.8L861.3 205.8L862.2 206.1L863.1 206.5L864.1 210.1L865 209.7L865.9 211.3L866.8 211.6L867.7 210.8L868.6 212.7L869.5 212.9L870.5 214.8L871.4 212.9L872.3 214.5L873.2 214.5L874.1 214.8L875 213.8L875.9 214.5L876.9 216.6L877.8 216.2L878.7 215.7L879.6 215.7L880.5 215.2L881.4 216.6L882.3 216.3L883.3 216.1L884.2 215.9L885.1 217.8L886 215.4" fill="none" stroke="#121212" stroke-width="1.3" stroke-linejoin="round"/>
<path d="M794.6 225.9L795.5 226.6L796.4 226.3L797.3 227L798.3 227.4L799.2 226.9L800.1 227L801 226.8L801.9 227.3L802.8 226.5L803.7 225.1L804.7 225.7L805.6 225.8L806.5 226.5L807.4 227.2L808.3 227.6L809.2 227.9L810.1 226.7L811.1 227L812 227.3L812.9 227.5L813.8 226.2L814.7 224.6L815.6 225.9L816.5 226.2L817.5 227.3L818.4 225L819.3 227.2L820.2 226.4L821.1 226.9L822 227.2L822.9 226.5L823.8 228.1L824.8 226.7L825.7 227.4L826.6 226.9L827.5 226.5L828.4 226.2L829.3 225.6L830.2 228L831.2 227.1L832.1 226.8L833 226.7L833.9 226.2L834.8 227L835.7 226.6L836.6 227.5L837.6 226.9L838.5 227.4L839.4 227.6L840.3 227.2L841.2 226.9L842.1 225.9L843 226.6L844 226.1L844.9 226.9L845.8 223.4L846.7 220L847.6 217.5L848.5 213.1L849.4 206.5L850.4 205.4L851.3 202.2L852.2 204L853.1 207.2L854 209.3L854.9 210.2L855.8 211L856.8 214.6L857.7 216.5L858.6 217.3L859.5 218.6L860.4 218.5L861.3 219.2L862.2 219.8L863.1 219.4L864.1 220.4L865 221.3L865.9 222L866.8 222.4L867.7 222.4L868.6 222.9L869.5 222.9L870.5 223.1L871.4 223.1L872.3 225L873.2 224.5L874.1 224.7L875 225.4L875.9 224.5L876.9 226L877.8 225.4L878.7 225.7L879.6 226.8L880.5 226.2L881.4 225.3L882.3 224.7L883.3 225.5L884.2 224.2L885.1 226.3L886 225.8" fill="none" stroke="#000" stroke-width="1.6" stroke-linejoin="round"/>
<path d="M794.6 178.1L795.5 178.9L796.4 178.3L797.3 180.1L798.3 179.7L799.2 177.9L800.1 178.5L801 178.2L801.9 179.1L802.8 177.9L803.7 177.7L804.7 177.4L805.6 178.4L806.5 178.2L807.4 179.1L808.3 178.5L809.2 180L810.1 178.8L811.1 178.2L812 178.7L812.9 177.7L813.8 178.3L814.7 177.2L815.6 178.4L816.5 179L817.5 178.9L818.4 176.3L819.3 178.8L820.2 178.9L821.1 179L822 178.2L822.9 179.5L823.8 177.6L824.8 179.5L825.7 177.8L826.6 178.5L827.5 179.2L828.4 178.3L829.3 179.7L830.2 179.1L831.2 179.7L832.1 180L833 180.1L833.9 179.3L834.8 177.7L835.7 178.5L836.6 177.6L837.6 178.6L838.5 178.1L839.4 177.9L840.3 178.5L841.2 178L842.1 178.1L843 178.2L844 179.6L844.9 178.9L845.8 176.2L846.7 175.4L847.6 171.4L848.5 168.1L849.4 166.6L850.4 166.5L851.3 166.3L852.2 167.4L853.1 167.5L854 168.4L854.9 169.3L855.8 169.2L856.8 168.6L857.7 168.5L858.6 168.8L859.5 169L860.4 168L861.3 168.5L862.2 168.8L863.1 167.6L864.1 169.7L865 170.6L865.9 171.2L866.8 174.2L867.7 174.8L868.6 175.1L869.5 175.3L870.5 176.9L871.4 177.4L872.3 177.8L873.2 178.1L874.1 179.1L875 178.7L875.9 178.6L876.9 179.7L877.8 181.7L878.7 180.1L879.6 178.8L880.5 179.4L881.4 178.2L882.3 180.1L883.3 179.8L884.2 179.3L885.1 180.3L886 180.1" fill="none" stroke="#0a10f0" stroke-width="1.4" stroke-linejoin="round"/>
<path d="M794.6 241.7L795.5 241.4L796.4 240.3L797.3 241.1L798.3 242.6L799.2 242.6L800.1 240.7L801 240.3L801.9 240.8L802.8 240.5L803.7 241.4L804.7 240.3L805.6 239.9L806.5 241.2L807.4 241.5L808.3 241.2L809.2 241.6L810.1 241.3L811.1 242.5L812 242.3L812.9 242L813.8 241.9L814.7 241.6L815.6 243L816.5 241.8L817.5 241.7L818.4 243.2L819.3 242.9L820.2 242.7L821.1 244L822 244.1L822.9 243.1L823.8 244.1L824.8 243.5L825.7 243L826.6 242.9L827.5 241.8L828.4 241.9L829.3 242.3L830.2 240.9L831.2 241.8L832.1 242L833 242.7L833.9 241.7L834.8 242.2L835.7 241.8L836.6 241.9L837.6 242.2L838.5 241.1L839.4 241.4L840.3 242.7L841.2 241.9L842.1 242.5L843 240.6L844 241.9L844.9 241.9L845.8 241.5L846.7 240.8L847.6 242.4L848.5 241.9L849.4 240.8L850.4 240L851.3 240.5L852.2 241.1L853.1 241.5L854 241.8L854.9 239.9L855.8 239.6L856.8 240.6L857.7 240.2L858.6 241.1L859.5 242.1L860.4 240L861.3 241.9L862.2 241.8L863.1 241.4L864.1 241.1L865 241.5L865.9 241.7L866.8 241L867.7 240.9L868.6 241.5L869.5 241L870.5 241.9L871.4 242.4L872.3 242.4L873.2 241.9L874.1 241.1L875 241.2L875.9 242.2L876.9 242L877.8 241.3L878.7 240.8L879.6 240.4L880.5 241.1L881.4 241.7L882.3 240.6L883.3 240.9L884.2 241L885.1 239.9L886 240.9" fill="none" stroke="#dcdcdc" stroke-width="1.1" stroke-linejoin="round"/>
<path d="M794.6 250L795.5 250L796.4 251.7L797.3 250.2L798.3 251.2L799.2 251.5L800.1 250.6L801 250.9L801.9 250.4L802.8 251.2L803.7 251.8L804.7 252.9L805.6 251.4L806.5 252.1L807.4 251.5L808.3 251.6L809.2 252.8L810.1 251.6L811.1 251.8L812 252.8L812.9 252.5L813.8 252L814.7 252.8L815.6 252.8L816.5 252.2L817.5 253.3L818.4 253.9L819.3 253.9L820.2 254.1L821.1 253.3L822 253.3L822.9 252.8L823.8 253.7L824.8 252.4L825.7 252.5L826.6 252.5L827.5 251.5L828.4 250.9L829.3 251.1L830.2 251.6L831.2 252.5L832.1 252.4L833 251.7L833.9 250.5L834.8 251.1L835.7 251.4L836.6 251.5L837.6 252L838.5 252.5L839.4 251.7L840.3 252.1L841.2 252.5L842.1 251.5L843 250.8L844 250.8L844.9 250.5L845.8 250.5L846.7 252.1L847.6 252.1L848.5 250.6L849.4 250.4L850.4 252.1L851.3 251.3L852.2 252L853.1 251.1L854 251.6L854.9 251.6L855.8 251.5L856.8 251.7L857.7 250.8L858.6 250.9L859.5 250.9L860.4 251.6L861.3 250.8L862.2 249.9L863.1 251.1L864.1 250.5L865 250.1L865.9 250.5L866.8 251L867.7 250.7L868.6 251L869.5 251.3L870.5 251.8L871.4 250.6L872.3 250.9L873.2 251L874.1 250.5L875 250.8L875.9 250.2L876.9 251.1L877.8 251.2L878.7 250.4L879.6 249.4L880.5 248.6L881.4 249.2L882.3 250.2L883.3 249.4L884.2 250.4L885.1 252.4L886 251.4" fill="none" stroke="#c8c8c8" stroke-width="1.1" stroke-linejoin="round"/>
<path d="M794.6 261.3L795.5 260.8L796.4 261.1L797.3 259.2L798.3 260.1L799.2 261.4L800.1 262.1L801 260.7L801.9 260.6L802.8 261.4L803.7 260.2L804.7 259.9L805.6 259.4L806.5 260.3L807.4 261.3L808.3 260.4L809.2 260.5L810.1 260.5L811.1 261L812 262.3L812.9 263.5L813.8 261.6L814.7 262.9L815.6 262.9L816.5 262.1L817.5 262.2L818.4 263.3L819.3 263.3L820.2 262.5L821.1 263.4L822 264.7L822.9 264L823.8 264.7L824.8 262.2L825.7 262.5L826.6 262.9L827.5 264L828.4 262.2L829.3 262L830.2 261.8L831.2 261.1L832.1 261.8L833 261.7L833.9 260.6L834.8 260.6L835.7 259.9L836.6 261.1L837.6 261.5L838.5 261.7L839.4 261.1L840.3 261.4L841.2 262.2L842.1 260.4L843 260.3L844 259.8L844.9 262.3L845.8 261L846.7 262.4L847.6 262.2L848.5 262.2L849.4 261.3L850.4 261.3L851.3 261.1L852.2 261.7L853.1 261.5L854 261L854.9 259.5L855.8 260.5L856.8 260.4L857.7 260.9L858.6 260.4L859.5 260L860.4 260.7L861.3 260.1L862.2 260.3L863.1 261.1L864.1 260.5L865 260.4L865.9 261.6L866.8 260L867.7 261.3L868.6 260.8L869.5 260L870.5 261.1L871.4 260.6L872.3 260.3L873.2 259.6L874.1 260.2L875 260.7L875.9 260.5L876.9 261.1L877.8 260.7L878.7 260L879.6 259.3L880.5 260.4L881.4 261.3L882.3 259.8L883.3 261.8L884.2 260.8L885.1 260.8L886 261.6" fill="none" stroke="#b0b0b0" stroke-width="1.1" stroke-linejoin="round"/>
<path d="M794.6 269.7L795.5 269.8L796.4 270.2L797.3 269.9L798.3 269.8L799.2 270L800.1 270.6L801 270.4L801.9 269.9L802.8 270.3L803.7 270.4L804.7 269.7L805.6 269.9L806.5 270.1L807.4 270.5L808.3 270.4L809.2 270.7L810.1 270.9L811.1 271.3L812 270.5L812.9 270.8L813.8 271.4L814.7 270.9L815.6 270.6L816.5 270L817.5 271.1L818.4 272.3L819.3 272.6L820.2 271.9L821.1 273.3L822 273.5L822.9 271.7L823.8 271.6L824.8 270.8L825.7 272.5L826.6 272L827.5 271.9L828.4 270.8L829.3 270.8L830.2 271.7L831.2 271.6L832.1 272L833 271.9L833.9 272.4L834.8 272.3L835.7 271.2L836.6 270.9L837.6 270.5L838.5 270.4L839.4 270.8L840.3 269.9L841.2 271.5L842.1 271L843 270.9L844 270.8L844.9 269.9L845.8 269.4L846.7 269.5L847.6 270.4L848.5 270.5L849.4 270.2L850.4 269.9L851.3 270.1L852.2 270.2L853.1 270.4L854 269.8L854.9 271.1L855.8 270.7L856.8 269.5L857.7 270.4L858.6 268.4L859.5 269.5L860.4 270.2L861.3 270.5L862.2 270.6L863.1 270.2L864.1 269.3L865 269.8L865.9 269.9L866.8 270.2L867.7 269.8L868.6 269.6L869.5 269.9L870.5 269.3L871.4 269.8L872.3 269.2L873.2 270L874.1 269.8L875 269.3L875.9 269.5L876.9 269.2L877.8 269.3L878.7 268.8L879.6 269.5L880.5 268.8L881.4 269.1L882.3 271.3L883.3 269.4L884.2 269.8L885.1 269.1L886 269.7" fill="none" stroke="#9a9a9a" stroke-width="1.1" stroke-linejoin="round"/>
<path d="M794.6 278.7L795.5 279.5L796.4 278.7L797.3 277.6L798.3 279.9L799.2 279.1L800.1 279L801 279.3L801.9 278.2L802.8 279.3L803.7 278.7L804.7 279.1L805.6 279.9L806.5 279.5L807.4 279.1L808.3 279L809.2 279.1L810.1 279L811.1 278.9L812 279.8L812.9 279.9L813.8 279L814.7 278.2L815.6 278.1L816.5 280L817.5 279.9L818.4 279.4L819.3 279.5L820.2 280.3L821.1 280.2L822 279.7L822.9 280.6L823.8 280.4L824.8 279.8L825.7 280.9L826.6 280.4L827.5 279.2L828.4 279.7L829.3 280.9L830.2 280.2L831.2 280.5L832.1 279.7L833 279.8L833.9 281.1L834.8 280L835.7 281.4L836.6 279.9L837.6 279L838.5 277.8L839.4 278.3L840.3 279L841.2 278.5L842.1 279.4L843 280.3L844 280.6L844.9 279.9L845.8 280.6L846.7 280.5L847.6 280.1L848.5 280.6L849.4 280.3L850.4 279.7L851.3 279L852.2 279.3L853.1 278.7L854 279.5L854.9 279.1L855.8 278.7L856.8 279.4L857.7 280.8L858.6 280.7L859.5 279.3L860.4 278.2L861.3 278.6L862.2 279.5L863.1 279.3L864.1 279.1L865 278.2L865.9 278.7L866.8 279.5L867.7 279.1L868.6 279.5L869.5 279.4L870.5 279.4L871.4 279L872.3 278.4L873.2 280.5L874.1 280.6L875 279.9L875.9 279.3L876.9 279L877.8 280L878.7 280.9L879.6 279.9L880.5 279.5L881.4 279.6L882.3 279L883.3 279L884.2 278.6L885.1 278.7L886 279.8" fill="none" stroke="#888" stroke-width="1.1" stroke-linejoin="round"/>
<path d="M794.6 299.6L795.5 299.5L796.4 300.1L797.3 299L798.3 299.7L799.2 299L800.1 298.7L801 298.4L801.9 298.9L802.8 299L803.7 299.3L804.7 299.8L805.6 299.9L806.5 298.3L807.4 299.2L808.3 298.5L809.2 298.4L810.1 299.4L811.1 299.1L812 298.9L812.9 299.3L813.8 299.4L814.7 298.6L815.6 297.8L816.5 298.8L817.5 298.5L818.4 299.2L819.3 298.7L820.2 299.7L821.1 298.5L822 297.3L822.9 298L823.8 299L824.8 299.7L825.7 298.6L826.6 297.9L827.5 297.5L828.4 298.3L829.3 299.6L830.2 298L831.2 297.8L832.1 297.9L833 300.1L833.9 300.1L834.8 300L835.7 299.1L836.6 300.1L837.6 299.5L838.5 299.2L839.4 299.6L840.3 299.3L841.2 299.8L842.1 299.4L843 299.8L844 299L844.9 298.5L845.8 298.5L846.7 298.7L847.6 299.8L848.5 299.8L849.4 300.2L850.4 298.6L851.3 300.4L852.2 299.6L853.1 298.9L854 299.1L854.9 299L855.8 299.5L856.8 299.5L857.7 300.4L858.6 300L859.5 300.5L860.4 300.1L861.3 299L862.2 298L863.1 299.2L864.1 300.6L865 300.4L865.9 300.6L866.8 300.3L867.7 299.4L868.6 298.4L869.5 300.7L870.5 299.4L871.4 298.2L872.3 298.6L873.2 299.2L874.1 300L875 300.4L875.9 299.7L876.9 300L877.8 298.8L878.7 297.4L879.6 295.3L880.5 288.2L881.4 279.7L882.3 274.3L883.3 268.3L884.2 264.7L885.1 267.5L886 274.8" fill="none" stroke="#5a5a5a" stroke-width="1.3" stroke-linejoin="round"/>
<path d="M794.6 307.5L795.5 307.8L796.4 308.4L797.3 308.5L798.3 306.8L799.2 307.5L800.1 308.5L801 308.1L801.9 309.1L802.8 310.1L803.7 309.7L804.7 307.3L805.6 308.7L806.5 306.9L807.4 307.9L808.3 308.5L809.2 308.2L810.1 308.5L811.1 307.6L812 307.6L812.9 307.9L813.8 308.2L814.7 307.3L815.6 308.3L816.5 308.5L817.5 309.1L818.4 309.1L819.3 308.3L820.2 308.9L821.1 308.6L822 307.9L822.9 307.8L823.8 307.1L824.8 307.5L825.7 307.9L826.6 307.6L827.5 309.1L828.4 308.2L829.3 307.7L830.2 309.2L831.2 308.8L832.1 307.2L833 307.1L833.9 308.3L834.8 307.4L835.7 308.4L836.6 308.4L837.6 307.9L838.5 308.1L839.4 308.7L840.3 303.2L841.2 298.6L842.1 295.4L843 296.9L844 296.1L844.9 297L845.8 298.4L846.7 298.9L847.6 301.3L848.5 302L849.4 302.8L850.4 302.3L851.3 303.6L852.2 304L853.1 304.5L854 304.8L854.9 304.3L855.8 304.7L856.8 304.9L857.7 304.3L858.6 305.2L859.5 305.1L860.4 305.4L861.3 306.2L862.2 305.8L863.1 307L864.1 308.9L865 309.2L865.9 307.1L866.8 306.3L867.7 306.7L868.6 308.8L869.5 308.4L870.5 307.4L871.4 307.6L872.3 307L873.2 308.1L874.1 308.2L875 307.8L875.9 307.6L876.9 307.7L877.8 307.3L878.7 307.7L879.6 307.8L880.5 308.6L881.4 307L882.3 308.7L883.3 308.5L884.2 309.1L885.1 307L886 307.8" fill="none" stroke="#3c3c3c" stroke-width="1.3" stroke-linejoin="round"/>
<path d="M794.6 317.5L795.5 318L796.4 318.4L797.3 318.2L798.3 317.7L799.2 317.8L800.1 318.3L801 318.5L801.9 318.7L802.8 319.3L803.7 318.7L804.7 318.4L805.6 317.7L806.5 317.5L807.4 318.9L808.3 317.2L809.2 317.9L810.1 318.7L811.1 317.9L812 317.4L812.9 316.6L813.8 318.1L814.7 318.3L815.6 317.6L816.5 318.4L817.5 317.3L818.4 317.5L819.3 318.2L820.2 318.1L821.1 318.1L822 318.3L822.9 318.2L823.8 318.6L824.8 318.5L825.7 318.1L826.6 318.7L827.5 318.4L828.4 319.1L829.3 319.1L830.2 317.4L831.2 318.1L832.1 317.8L833 317.2L833.9 317.6L834.8 317.9L835.7 317.4L836.6 317.3L837.6 318.8L838.5 317.7L839.4 318.2L840.3 317.7L841.2 311.2L842.1 293.6L843 273.2L844 253.8L844.9 249.9L845.8 252.6L846.7 253.9L847.6 257.6L848.5 263.9L849.4 266.7L850.4 268.5L851.3 274.8L852.2 278.7L853.1 280.3L854 282.3L854.9 283.7L855.8 286.3L856.8 287.7L857.7 291.9L858.6 293.7L859.5 294.3L860.4 296.1L861.3 297.8L862.2 298.4L863.1 301.2L864.1 302L865 302.5L865.9 305L866.8 306.9L867.7 307.3L868.6 308.2L869.5 309.6L870.5 310.2L871.4 309.8L872.3 310.5L873.2 308.6L874.1 309.5L875 309.9L875.9 310.6L876.9 312.9L877.8 313.8L878.7 313.2L879.6 314.1L880.5 313.7L881.4 314.2L882.3 315L883.3 317.1L884.2 314.9L885.1 315.8L886 316.6" fill="none" stroke="#262626" stroke-width="1.5" stroke-linejoin="round"/>
<path d="M794.6 328.6L795.5 328.6L796.4 328.2L797.3 326.4L798.3 325.8L799.2 328L800.1 328.2L801 328.3L801.9 327.7L802.8 328L803.7 328.1L804.7 327.9L805.6 327.5L806.5 328.4L807.4 327.9L808.3 328.1L809.2 327.9L810.1 329L811.1 327.9L812 327.5L812.9 327.1L813.8 327.1L814.7 327.5L815.6 327.8L816.5 327L817.5 327.7L818.4 327.6L819.3 327.2L820.2 326.8L821.1 326.8L822 326.4L822.9 326.8L823.8 327.5L824.8 327.2L825.7 328.4L826.6 327.8L827.5 327.5L828.4 327.8L829.3 328.1L830.2 327.8L831.2 327.3L832.1 327.7L833 328.6L833.9 327.7L834.8 327.6L835.7 328.3L836.6 327.3L837.6 327.9L838.5 327.2L839.4 327.8L840.3 321.1L841.2 306.1L842.1 300.3L843 302.1L844 304.5L844.9 307.2L845.8 307.2L846.7 308.6L847.6 310.2L848.5 309.3L849.4 312.1L850.4 313.5L851.3 315L852.2 316.1L853.1 316L854 315.3L854.9 317.6L855.8 318.2L856.8 318.6L857.7 318.9L858.6 320.9L859.5 321.5L860.4 321.8L861.3 321.4L862.2 321.8L863.1 323.1L864.1 323.2L865 323L865.9 322.9L866.8 323.6L867.7 325.2L868.6 325.5L869.5 324.9L870.5 324.3L871.4 324.2L872.3 325.4L873.2 325.5L874.1 325.3L875 325.2L875.9 326.7L876.9 325.6L877.8 325.3L878.7 325.4L879.6 325.5L880.5 326.9L881.4 327L882.3 327.1L883.3 327L884.2 326.5L885.1 326.4L886 326.9" fill="none" stroke="#121212" stroke-width="1.5" stroke-linejoin="round"/>
<path d="M794.6 337.8L795.5 337.5L796.4 337.4L797.3 338.5L798.3 337.8L799.2 337.6L800.1 337.3L801 336.6L801.9 335.9L802.8 336.9L803.7 338.1L804.7 337.7L805.6 336.6L806.5 336.3L807.4 337.1L808.3 337.6L809.2 337.8L810.1 336.9L811.1 336.4L812 337.1L812.9 335.9L813.8 336.5L814.7 336.5L815.6 337.4L816.5 337.6L817.5 339.3L818.4 338.8L819.3 337.2L820.2 338L821.1 337.8L822 338.8L822.9 338.1L823.8 336.2L824.8 337.6L825.7 336.4L826.6 335.9L827.5 336.4L828.4 336.6L829.3 336.8L830.2 336.8L831.2 337.3L832.1 337.1L833 338.5L833.9 337.2L834.8 337.4L835.7 337.1L836.6 337.1L837.6 338L838.5 337.3L839.4 328.5L840.3 314L841.2 304.6L842.1 307.4L843 310.8L844 313.8L844.9 315L845.8 318.1L846.7 320.4L847.6 320.6L848.5 321.1L849.4 323.1L850.4 323L851.3 325.7L852.2 325.8L853.1 326.6L854 326.5L854.9 327.2L855.8 327.7L856.8 329.6L857.7 328.9L858.6 330.5L859.5 331.2L860.4 332.3L861.3 332.9L862.2 333.2L863.1 333.2L864.1 333.7L865 334.3L865.9 333.4L866.8 333.7L867.7 333.8L868.6 333.7L869.5 334.3L870.5 334.3L871.4 334.6L872.3 334.8L873.2 335L874.1 335.8L875 336.4L875.9 335.4L876.9 335.6L877.8 335.6L878.7 336.2L879.6 334.8L880.5 335L881.4 336.6L882.3 336.1L883.3 336.2L884.2 336.5L885.1 337.2L886 336.4" fill="none" stroke="#000" stroke-width="1.6" stroke-linejoin="round"/>
<path d="M794.6 288.8L795.5 289.3L796.4 289L797.3 289.7L798.3 289.4L799.2 289.9L800.1 290.3L801 290.2L801.9 288.5L802.8 288.9L803.7 288.6L804.7 288.3L805.6 288.4L806.5 289.7L807.4 289.4L808.3 289.9L809.2 289.9L810.1 289.5L811.1 289.7L812 289.4L812.9 288.8L813.8 289.3L814.7 289.9L815.6 290L816.5 290.9L817.5 289.2L818.4 290L819.3 290.4L820.2 289.5L821.1 289L822 287.9L822.9 288.3L823.8 289.1L824.8 289.3L825.7 290.1L826.6 289.4L827.5 290.2L828.4 289.5L829.3 288.7L830.2 289.1L831.2 289.9L832.1 290.4L833 289.3L833.9 289.9L834.8 290.6L835.7 290L836.6 290.2L837.6 290.6L838.5 290.2L839.4 289.8L840.3 284.2L841.2 278.3L842.1 279.2L843 280.8L844 282.3L844.9 282.8L845.8 283L846.7 282.6L847.6 282.9L848.5 283.5L849.4 284.1L850.4 284L851.3 284.9L852.2 285.1L853.1 287.5L854 286.3L854.9 287L855.8 286.4L856.8 288L857.7 288.4L858.6 287.2L859.5 288.1L860.4 287.6L861.3 287.9L862.2 287.6L863.1 287.1L864.1 287.2L865 288.2L865.9 289L866.8 289.1L867.7 289.1L868.6 289.4L869.5 289.4L870.5 289.6L871.4 290.4L872.3 290.5L873.2 288.5L874.1 289.2L875 288.9L875.9 288.1L876.9 289.5L877.8 289L878.7 288.4L879.6 290.8L880.5 289.7L881.4 288.5L882.3 288.1L883.3 288.8L884.2 289.4L885.1 289.2L886 288.3" fill="none" stroke="#0a10f0" stroke-width="1.4" stroke-linejoin="round"/>
<path d="M0 374H886V684H0ZM3.7 378.2V679.5H882V378.2Z" fill="#888" fill-rule="evenodd"/>
<text x="4.5" y="386" style="font-size:10.4px">A</text>
<text x="206.6" y="385.7" style="font-size:10.4px">B</text>
<text x="389" y="385.7" style="font-size:10.4px">C</text>
<text x="586" y="385.4" style="font-size:10.4px">D</text>
<text x="4.2" y="575.4" style="font-size:10.4px">E</text>
<rect x="26.4" y="392.2" width="5.4" height="36.2" fill="#00ff00"/>
<rect x="26.4" y="428.4" width="5.4" height="98.2" fill="#ff00ff"/>
<path d="M26 392.4L33 392.4" stroke="#000" stroke-width="1.3"/>
<path d="M26 526.4L33 526.4" stroke="#000" stroke-width="1.3"/>
<text x="25" y="396.6" text-anchor="end" style="font-size:10.3px">1-1</text>
<text x="25" y="530" text-anchor="end" style="font-size:10.3px">1-56</text>
<text text-anchor="middle" transform="translate(23.4 459.6) rotate(-90)">Day-Lap</text>
<path d="M33.2 526.6L33.2 531.4" stroke="#000" stroke-width="1.3"/>
<path d="M166.6 526.6L166.6 531.4" stroke="#000" stroke-width="1.3"/>
<text text-anchor="end" style="font-size:10.3px" transform="translate(36.8 532.4) rotate(-90)">1-1</text>
<text text-anchor="end" style="font-size:10.3px" transform="translate(170.2 532.4) rotate(-90)">1-56</text>
<text x="99.6" y="542.2" text-anchor="middle">Day-Lap</text>
<rect x="170.2" y="391.8" width="7.2" height="135.2" fill="#000"/>
<rect x="170.8" y="392.4" width="6" height="134" fill="url(#vi)"/>
<path d="M177 396.4L181.6 396.4" stroke="#000" stroke-width="1.3"/>
<path d="M177 526.2L181.6 526.2" stroke="#000" stroke-width="1.3"/>
<text x="182.6" y="400" style="font-size:10.3px">0.6</text>
<text x="182.6" y="529.8" style="font-size:10.3px">0</text>
<text text-anchor="middle" style="font-size:10.6px" transform="translate(192.2 459.4) rotate(-90)">Correlation coefficient</text>
<rect x="224.8" y="388.6" width="126" height="135.6" fill="#000"/>
<rect x="226.4" y="431" width="14" height="4.2" fill="#fff"/>
<rect x="242" y="431" width="14" height="4.2" fill="#fff"/>
<rect x="257.6" y="431" width="14" height="4.2" fill="#fff"/>
<rect x="273.3" y="431" width="14" height="4.2" fill="#fff"/>
<rect x="288.9" y="431" width="14" height="4.2" fill="#fff"/>
<rect x="304.5" y="431" width="14" height="4.2" fill="#fff"/>
<rect x="320.1" y="431" width="14" height="4.2" fill="#fff"/>
<rect x="335.7" y="431" width="14" height="4.2" fill="#fff"/>
<rect x="226.4" y="478.8" width="14" height="3.8" fill="#fff"/>
<rect x="242" y="478.8" width="14" height="3.8" fill="#fff"/>
<rect x="257.6" y="478.8" width="14" height="3.8" fill="#fff"/>
<rect x="273.3" y="478.8" width="14" height="3.8" fill="#fff"/>
<rect x="288.9" y="478.8" width="14" height="3.8" fill="#fff"/>
<rect x="304.5" y="478.8" width="14" height="3.8" fill="#fff"/>
<rect x="320.1" y="478.8" width="14" height="3.8" fill="#fff"/>
<rect x="335.7" y="478.8" width="14" height="3.8" fill="#fff"/>
<rect x="219.2" y="388.6" width="5.6" height="11" fill="#00ff00"/>
<rect x="219.2" y="399.6" width="5.6" height="29.8" fill="#ff00ff"/>
<text x="218.4" y="393.8" text-anchor="end" style="font-size:10.3px">1</text>
<text x="218.4" y="431" text-anchor="end" style="font-size:10.3px">56</text>
<rect x="219.2" y="436.6" width="5.6" height="10.8" fill="#00ff00"/>
<rect x="219.2" y="447.4" width="5.6" height="30" fill="#ff00ff"/>
<text x="218.4" y="441.8" text-anchor="end" style="font-size:10.3px">1</text>
<text x="218.4" y="479" text-anchor="end" style="font-size:10.3px">56</text>
<rect x="219.2" y="484" width="5.6" height="10.8" fill="#00ff00"/>
<rect x="219.2" y="494.8" width="5.6" height="29.4" fill="#ff00ff"/>
<text x="218.4" y="489.2" text-anchor="end" style="font-size:10.3px">1</text>
<text x="218.4" y="525.8" text-anchor="end" style="font-size:10.3px">56</text>
<text text-anchor="middle" transform="translate(216 456.4) rotate(-90)">Laps</text>
<rect x="224.8" y="524.2" width="126" height="10.8" fill="#4d4d4d"/>
<path d="M225.2 524.5l2.2 5.1l-2.2 5.1" stroke="#fff" stroke-width="0.9" fill="none"/>
<path d="M259.4 524.5l2.2 10.2M261.7 524.5l-2.2 10.2" stroke="#fff" stroke-width="0.8" fill="none"/>
<rect x="287.2" y="524.2" width="1.1" height="10.8" fill="#b8b8b8"/>
<rect x="313.9" y="524.2" width="1.6" height="10.8" fill="#fff"/>
<ellipse cx="334.6" cy="529.6" rx="1.4" ry="5.2" fill="#fff"/>
<rect x="344.5" y="524.2" width="6.3" height="10.8" fill="#f2f2f2"/>
<rect x="345.7" y="524.2" width="0.7" height="10.8" fill="#cfcfcf"/>
<rect x="347.3" y="524.2" width="0.7" height="10.8" fill="#cfcfcf"/>
<rect x="348.9" y="524.2" width="0.7" height="10.8" fill="#cfcfcf"/>
<path d="M224.2 535.4L351.4 535.4" stroke="#000" stroke-width="1.3"/>
<path d="M225.4 535.4L225.4 541" stroke="#000" stroke-width="1.3"/>
<text x="225.4" y="550.4" text-anchor="middle" style="font-size:10.3px">0</text>
<path d="M241 535.4L241 541" stroke="#000" stroke-width="1.3"/>
<text x="241" y="550.4" text-anchor="middle" style="font-size:10.3px">1</text>
<path d="M256.6 535.4L256.6 541" stroke="#000" stroke-width="1.3"/>
<text x="256.6" y="550.4" text-anchor="middle" style="font-size:10.3px">2</text>
<path d="M272.1 535.4L272.1 541" stroke="#000" stroke-width="1.3"/>
<text x="272.1" y="550.4" text-anchor="middle" style="font-size:10.3px">3</text>
<path d="M287.7 535.4L287.7 541" stroke="#000" stroke-width="1.3"/>
<text x="287.7" y="550.4" text-anchor="middle" style="font-size:10.3px">4</text>
<path d="M303.3 535.4L303.3 541" stroke="#000" stroke-width="1.3"/>
<text x="303.3" y="550.4" text-anchor="middle" style="font-size:10.3px">5</text>
<path d="M318.9 535.4L318.9 541" stroke="#000" stroke-width="1.3"/>
<text x="318.9" y="550.4" text-anchor="middle" style="font-size:10.3px">6</text>
<path d="M334.4 535.4L334.4 541" stroke="#000" stroke-width="1.3"/>
<text x="334.4" y="550.4" text-anchor="middle" style="font-size:10.3px">7</text>
<path d="M350 535.4L350 541" stroke="#000" stroke-width="1.3"/>
<text x="350" y="550.4" text-anchor="middle" style="font-size:10.3px">8</text>
<text x="288" y="558" text-anchor="middle">Position (m)</text>
<rect x="353.4" y="389.4" width="5.6" height="40.4" fill="#000"/>
<rect x="354" y="390" width="4.4" height="39.2" fill="url(#gp)"/>
<path d="M358.6 389.8L362.6 389.8" stroke="#000" stroke-width="1.2"/>
<path d="M358.6 429.4L362.6 429.4" stroke="#000" stroke-width="1.2"/>
<text x="363.2" y="393" style="font-size:10.3px">918</text>
<text x="363.2" y="433" style="font-size:10.3px">0</text>
<text text-anchor="middle" transform="translate(377.6 431.4) rotate(-90)">Activity (a.u / s)</text>
<rect x="38.2" y="577.8" width="61" height="60.6" fill="#000"/>
<rect x="33" y="578.4" width="5.2" height="24.6" fill="#00ff00"/>
<rect x="134.2" y="578.2" width="6" height="24.4" fill="#00ff00"/>
<rect x="33" y="603.6" width="5.2" height="3.8" fill="#ff00ff"/>
<rect x="134.2" y="603.4" width="6" height="3.6" fill="#ff00ff"/>
<rect x="33" y="607.8" width="5.2" height="7" fill="#00ff00"/>
<rect x="134.2" y="607.6" width="6" height="6.8" fill="#00ff00"/>
<rect x="33" y="615.4" width="5.2" height="22.2" fill="#ff00ff"/>
<rect x="134.2" y="615.2" width="6" height="18.6" fill="#ff00ff"/>
<path d="M32.6 603.3L38.4 603.3" stroke="#000" stroke-width="0.9"/>
<path d="M32.6 607.6L38.4 607.6" stroke="#000" stroke-width="0.9"/>
<path d="M32.6 615.1L38.4 615.1" stroke="#000" stroke-width="0.9"/>
<text x="32" y="582.6" text-anchor="end" style="font-size:10.3px">1</text>
<text x="32" y="602" text-anchor="end" style="font-size:10.3px">24</text>
<text x="32" y="610.6" text-anchor="end" style="font-size:10.3px">28</text>
<text x="32" y="619.4" text-anchor="end" style="font-size:10.3px">35</text>
<text x="32" y="641.4" text-anchor="end" style="font-size:10.3px">56</text>
<text text-anchor="middle" transform="translate(17.4 608) rotate(-90)">Laps</text>
<path d="M39.4 638L39.4 643.2" stroke="#000" stroke-width="1.2"/>
<path d="M63.6 638L63.6 643.2" stroke="#000" stroke-width="1.2"/>
<path d="M67.8 638L67.8 643.2" stroke="#000" stroke-width="1.2"/>
<path d="M75.2 638L75.2 643.2" stroke="#000" stroke-width="1.2"/>
<path d="M98 638L98 643.2" stroke="#000" stroke-width="1.2"/>
<text x="39.4" y="652.8" text-anchor="middle" style="font-size:10.3px">1</text>
<text x="56.6" y="652.8" text-anchor="middle" style="font-size:10.3px">24</text>
<text x="68.6" y="652.8" text-anchor="middle" style="font-size:10.3px">28</text>
<text x="80.6" y="652.8" text-anchor="middle" style="font-size:10.3px">35</text>
<text x="98.2" y="652.8" text-anchor="middle" style="font-size:10.3px">56</text>
<text x="68.4" y="662.6" text-anchor="middle">Laps</text>
<rect x="139.8" y="578.2" width="203.4" height="56.2" fill="#000"/>
<text x="133.4" y="582.4" text-anchor="end" style="font-size:10.3px">1</text>
<text x="133.4" y="600.4" text-anchor="end" style="font-size:10.3px">24</text>
<text x="133.4" y="609" text-anchor="end" style="font-size:10.3px">28</text>
<text x="133.4" y="617.8" text-anchor="end" style="font-size:10.3px">35</text>
<text x="133.4" y="637.6" text-anchor="end" style="font-size:10.3px">56</text>
<text text-anchor="middle" transform="translate(118.6 606) rotate(-90)">Laps</text>
<rect x="140.4" y="634.4" width="202.4" height="16.2" fill="#4d4d4d"/>
<path d="M140.8 634.7l3.5 7.8l-3.5 7.8" stroke="#fff" stroke-width="0.9" fill="none"/>
<path d="M196.1 634.7l3.5 15.6M199.6 634.7l-3.5 15.6" stroke="#fff" stroke-width="1.3" fill="none"/>
<rect x="241.1" y="634.4" width="1.1" height="16.2" fill="#b8b8b8"/>
<rect x="283.6" y="634.4" width="1.9" height="16.2" fill="#fff"/>
<ellipse cx="316.7" cy="642.5" rx="2.3" ry="7.9" fill="#fff"/>
<rect x="332.7" y="634.4" width="10.1" height="16.2" fill="#f2f2f2"/>
<rect x="334.9" y="634.4" width="0.7" height="16.2" fill="#cfcfcf"/>
<rect x="337.4" y="634.4" width="0.7" height="16.2" fill="#cfcfcf"/>
<rect x="339.9" y="634.4" width="0.7" height="16.2" fill="#cfcfcf"/>
<path d="M139.8 651L343.4 651" stroke="#000" stroke-width="1.3"/>
<path d="M140.8 651L140.8 658.4" stroke="#000" stroke-width="1.3"/>
<text x="140.8" y="666.4" text-anchor="middle" style="font-size:10.3px">0</text>
<path d="M166 651L166 658.4" stroke="#000" stroke-width="1.3"/>
<text x="166" y="666.4" text-anchor="middle" style="font-size:10.3px">1</text>
<path d="M191.2 651L191.2 658.4" stroke="#000" stroke-width="1.3"/>
<text x="191.2" y="666.4" text-anchor="middle" style="font-size:10.3px">2</text>
<path d="M216.3 651L216.3 658.4" stroke="#000" stroke-width="1.3"/>
<text x="216.3" y="666.4" text-anchor="middle" style="font-size:10.3px">3</text>
<path d="M241.5 651L241.5 658.4" stroke="#000" stroke-width="1.3"/>
<text x="241.5" y="666.4" text-anchor="middle" style="font-size:10.3px">4</text>
<path d="M266.7 651L266.7 658.4" stroke="#000" stroke-width="1.3"/>
<text x="266.7" y="666.4" text-anchor="middle" style="font-size:10.3px">5</text>
<path d="M291.9 651L291.9 658.4" stroke="#000" stroke-width="1.3"/>
<text x="291.9" y="666.4" text-anchor="middle" style="font-size:10.3px">6</text>
<path d="M317 651L317 658.4" stroke="#000" stroke-width="1.3"/>
<text x="317" y="666.4" text-anchor="middle" style="font-size:10.3px">7</text>
<path d="M342.2 651L342.2 658.4" stroke="#000" stroke-width="1.3"/>
<text x="342.2" y="666.4" text-anchor="middle" style="font-size:10.3px">8</text>
<text x="241.6" y="677" text-anchor="middle">Position (m)</text>
<rect x="346.6" y="577.8" width="4" height="56.8" fill="#000"/>
<rect x="347.1" y="578.4" width="3" height="55.6" fill="url(#gp)"/>
<path d="M350.4 578.4L354.4 578.4" stroke="#000" stroke-width="1.2"/>
<path d="M350.4 634.2L354.4 634.2" stroke="#000" stroke-width="1.2"/>
<text x="355.2" y="582.2" style="font-size:10.3px">112</text>
<text x="355.2" y="637.8" style="font-size:10.3px">0</text>
<text text-anchor="middle" transform="translate(373.2 619.6) rotate(-90)">Activity (a.u / s)</text>
<rect x="537" y="395.8" width="6.6" height="70.4" fill="#74b474"/>
<rect x="537" y="483.4" width="6.6" height="69" fill="#74b474"/>
<rect x="537" y="566.8" width="6.6" height="69.6" fill="#74b474"/>
<path d="M417.8 414L418.6 410.5L419.4 407.8L420.2 406.3L420.9 404.1L421.7 404L422.5 403L423.3 402.2L424.1 401.5L424.9 402.3L425.7 400.2L426.4 400.4L427.2 400L428 399.7L428.8 401.3L429.6 402.5L430.4 402.5L431.2 403.6L432 404.7L432.7 405.1L433.5 404.1L434.3 403.5L435.1 404.1L435.9 402.9L436.7 401.7L437.5 401.6L438.2 400.1L439 401.6L439.8 402L440.6 400.2L441.4 400.5L442.2 400.2L443 400.1L443.7 399.8L444.5 399.8L445.3 401.2L446.1 399.3L446.9 400.1L447.7 400.3L448.5 400L449.2 400L450 401.5L450.8 404.9L451.6 408.4L452.4 410.4L453.2 413L454 413.8L454.8 413.2L455.5 412.5L456.3 409.7L457.1 404.7L457.9 403.3L458.7 403L459.5 400.2L460.3 400.6L461 399.6L461.8 401.5L462.6 402L463.4 401.3L464.2 401.1L465 400.5L465.8 400L466.5 400L467.3 401.7L468.1 400.3L468.9 399.7L469.7 400.2L470.5 400.3L471.3 402.5L472.1 401.6L472.8 400.6L473.6 401.3L474.4 401L475.2 401.6L476 400.4L476.8 399.6L477.6 402.2L478.3 405.9L479.1 410.7L479.9 413.3L480.7 415.7L481.5 415.6L482.3 412.7L483.1 409.4L483.8 406.5L484.6 403.3L485.4 402.9L486.2 402.5L487 403L487.8 402.5L488.6 404.4L489.3 408.2L490.1 407.8L490.9 407.5L491.7 406.1L492.5 405.5L493.3 403.7L494.1 403.3L494.9 403.2L495.6 401.4L496.4 402.1L497.2 401.1L498 399.4L498.8 399.7L499.6 400.7L500.4 401.2L501.1 402.4L501.9 401.6L502.7 401.2L503.5 401.3L504.3 400.5L505.1 402.5L505.9 403.9L506.6 406.9L507.4 409.3L508.2 409.6L509 408.1L509.8 405.4L510.6 403.1L511.4 402L512.1 399.2L512.9 399.6L513.7 399.9L514.5 399.8L515.3 400.4L516.1 400.7L516.9 401L517.7 402.4L518.4 402.5L519.2 400.9L520 402.2L520.8 401.6L521.6 401.3L522.4 401.1L523.2 400.1L523.9 401.1L524.7 403.8L525.5 407.5L526.3 409.3L527.1 408.9L527.9 406.7L528.7 404.2L529.4 404.1L530.2 403.3L531 405.1L531.8 410.4L532.6 414.1L533.4 420.2L534.2 425.3L535 430.2L535.7 438L536.5 446L537.3 453.9L538.1 461.7L538.9 450.1L539.7 444.2L540.5 435.8L541.2 430.3L542 423.9L542.8 421.1L543.6 416.9L543.6 423.7L542.8 428L542 430.8L541.2 437.1L540.5 442.7L539.7 451L538.9 457L538.1 466.2L537.3 460.8L536.5 452.8L535.7 444.9L535 437L534.2 432.1L533.4 427.1L532.6 420.9L531.8 417.2L531 412L530.2 414.9L529.4 416.4L528.7 418.2L527.9 423.5L527.1 428.9L526.3 430.7L525.5 427.5L524.7 420.7L523.9 415L523.2 412.4L522.4 412.8L521.6 412.7L520.8 413L520 413.6L519.2 412.3L518.4 413.9L517.7 413.9L516.9 412.4L516.1 412.1L515.3 411.9L514.5 411.3L513.7 411.3L512.9 411L512.1 410.7L511.4 413.8L510.6 415.9L509.8 420.4L509 426.2L508.2 430.5L507.4 430.5L506.6 425.7L505.9 419.4L505.1 415.6L504.3 412.5L503.5 412.8L502.7 412.6L501.9 413L501.1 413.8L500.4 412.7L499.6 412.1L498.8 411.1L498 410.8L497.2 412.6L496.4 413.7L495.6 413.2L494.9 415.5L494.1 416.4L493.3 418.2L492.5 421.5L491.7 423.7L490.9 426L490.1 426.5L489.3 426L488.6 420.8L487.8 417.3L487 416.4L486.2 415.2L485.4 415.6L484.6 417.1L483.8 423L483.1 430.2L482.3 438.2L481.5 444.4L480.7 444.8L479.9 439.6L479.1 432.4L478.3 423.2L477.6 416.4L476.8 412L476 412.2L475.2 413.1L474.4 412.4L473.6 412.7L472.8 412L472.1 413L471.3 413.9L470.5 411.7L469.7 411.6L468.9 411.1L468.1 411.7L467.3 413.1L466.5 411.4L465.8 411.4L465 412L464.2 412.5L463.4 412.8L462.6 413.4L461.8 412.9L461 411.1L460.3 412.3L459.5 412.5L458.7 416.4L457.9 418.7L457.1 423L456.3 431.6L455.5 437.9L454.8 440.9L454 441.7L453.2 439L452.4 433.1L451.6 427.5L450.8 420.8L450 415.2L449.2 412.5L448.5 411.8L447.7 411.9L446.9 411.6L446.1 410.7L445.3 412.6L444.5 411.3L443.7 411.3L443 411.5L442.2 411.6L441.4 411.9L440.6 411.7L439.8 413.4L439 413.1L438.2 411.6L437.5 413.2L436.7 413.5L435.9 415.2L435.1 417.3L434.3 417.7L433.5 419.3L432.7 420.7L432 420L431.2 418L430.4 415.9L429.6 415.1L428.8 413.6L428 411.9L427.2 412.3L426.4 412.9L425.7 413L424.9 415.3L424.1 414.9L423.3 416.2L422.5 417.6L421.7 419.5L420.9 420.6L420.2 424.1L419.4 427.2L418.6 432L417.8 438Z" fill="#d8d8d8" fill-opacity="0.85"/>
<path d="M417.8 456.9H418.6V456.9H419.4V455.7H420.2V457.6H420.9V459.5H421.7V461H422.5V463.1H423.3V463.1H424.1V462.7H424.9V462.7H425.7V463.1H426.4V463.1H427.2V463.1H428V463.1H428.8V462.5H429.6V463H430.4V463H431.2V463H432V463H432.7V463H433.5V463H434.3V463H435.1V463H435.9V463H436.7V463H437.5V463H438.2V463H439V463H439.8V463H440.6V463H441.4V463H442.2V463H443V463H443.7V463H444.5V463H445.3V460.3H446.1V460.3H446.9V460.3H447.7V463H448.5V463H449.2V463H450V463H450.8V463H451.6V463H452.4V463H453.2V463H454V462.5H454.8V461.8H455.5V461.8H456.3V461.8H457.1V463H457.9V463H458.7V463H459.5V463H460.3V463H461V463H461.8V462.6H462.6V462.6H463.4V462.6H464.2V462.6H465V462.6H465.8V463H466.5V463H467.3V462.6H468.1V462.6H468.9V462.6H469.7V463.1H470.5V462.7H471.3V463.1H472.1V463.1H472.8V463.1H473.6V462.7H474.4V462.7H475.2V463.1H476V462.6H476.8V462.6H477.6V462.6H478.3V462.6H479.1V462.6H479.9V462.6H480.7V462.6H481.5V462.6H482.3V462.6H483.1V463H483.8V463H484.6V463H485.4V463H486.2V463H487V462.6H487.8V462.6H488.6V463.2H489.3V462.6H490.1V462.6H490.9V463.1H491.7V463.1H492.5V463.1H493.3V463.1H494.1V462.6H494.9V462.6H495.6V462.6H496.4V462.6H497.2V463.1H498V462.7H498.8V462.7H499.6V462.7H500.4V462.7H501.1V462.7H501.9V462.7H502.7V462.7H503.5V463.1H504.3V463.1H505.1V463.1H505.9V463.1H506.6V463.1H507.4V459.4H508.2V459.4H509V459.4H509.8V463.1H510.6V462.5H511.4V462.5H512.1V463.1H512.9V462.5H513.7V463H514.5V463H515.3V463H516.1V463H516.9V463H517.7V463H518.4V463H519.2V463H520V463H520.8V463H521.6V462.6H522.4V462.6H523.2V463.2H523.9V463.2H524.7V462.5H525.5V457H526.3V457H527.1V457H527.9V462.6H528.7V463.1H529.4V463.1H530.2V462.5H531V463H531.8V463H532.6V463H533.4V462.1H534.2V457.1H535V448.7H535.7V437.6H536.5V423.1H537.3V405.4H538.1V401.8H538.9V402.7H539.7V402.3H540.5V411.4H541.2V420H542V429.4H542.8V437.8H543.6V446.7" fill="none" stroke="#3f8fd0" stroke-width="0.8"/>
<path d="M417.8 423.8L418.6 419.3L419.4 415.7L420.2 413.6L420.9 410.8L421.7 410.4L422.5 409L423.3 407.9L424.1 407L424.9 407.6L425.7 405.4L426.4 405.5L427.2 405L428 404.7L428.8 406.3L429.6 407.7L430.4 407.9L431.2 409.5L432 410.9L432.7 411.5L433.5 410.3L434.3 409.3L435.1 409.5L435.9 407.9L436.7 406.5L437.5 406.3L438.2 404.8L439 406.3L439.8 406.6L440.6 404.9L441.4 405.1L442.2 404.9L443 404.8L443.7 404.5L444.5 404.5L445.3 405.8L446.1 403.9L446.9 404.8L447.7 405.1L448.5 404.8L449.2 405.1L450 407.1L450.8 411.4L451.6 416.2L452.4 419.7L453.2 423.6L454 425.2L454.8 424.6L455.5 422.9L456.3 418.7L457.1 412.2L457.9 409.6L458.7 408.5L459.5 405.2L460.3 405.4L461 404.3L461.8 406.2L462.6 406.6L463.4 406L464.2 405.8L465 405.2L465.8 404.7L466.5 404.7L467.3 406.4L468.1 405L468.9 404.4L469.7 404.8L470.5 405L471.3 407.1L472.1 406.3L472.8 405.3L473.6 405.9L474.4 405.7L475.2 406.3L476 405.2L476.8 404.7L477.6 408L478.3 413L479.1 419.6L479.9 424.1L480.7 427.6L481.5 427.4L482.3 423.1L483.1 417.9L483.8 413.2L484.6 408.9L485.4 408.1L486.2 407.7L487 408.5L487.8 408.6L488.6 411.1L489.3 415.5L490.1 415.5L490.9 415.1L491.7 413.3L492.5 412L493.3 409.6L494.1 408.6L494.9 408.2L495.6 406.2L496.4 406.8L497.2 405.8L498 404.1L498.8 404.3L499.6 405.3L500.4 405.9L501.1 407L501.9 406.3L502.7 405.9L503.5 406L504.3 405.4L505.1 407.8L505.9 410.2L506.6 414.6L507.4 418L508.2 418.1L509 415.5L509.8 411.5L510.6 408.4L511.4 406.8L512.1 403.9L512.9 404.3L513.7 404.5L514.5 404.5L515.3 405.1L516.1 405.4L516.9 405.7L517.7 407.1L518.4 407.1L519.2 405.5L520 406.9L520.8 406.3L521.6 406L522.4 405.9L523.2 405.1L523.9 406.8L524.7 410.7L525.5 415.7L526.3 418L527.1 417.1L527.9 413.6L528.7 410L529.4 409.2L530.2 408.1L531 407.9L531.8 413.2L532.6 416.9L533.4 423L534.2 428.1L535 433L535.7 440.8L536.5 448.8L537.3 456.7L538.1 464.5L538.9 452.9L539.7 447L540.5 438.6L541.2 433.1L542 426.8L542.8 423.9L543.6 419.7" fill="none" stroke="#ff7f0e" stroke-width="1.9" stroke-linejoin="round"/>
<path d="M417.8 498.8L418.6 495L419.4 491.6L420.2 488.4L420.9 489.1L421.7 488.9L422.5 489.2L423.3 489.2L424.1 489.7L424.9 491.3L425.7 491L426.4 492.9L427.2 492L428 491.5L428.8 489L429.6 487.2L430.4 487.5L431.2 489.9L432 492.2L432.7 493.4L433.5 489.8L434.3 487.6L435.1 486.5L435.9 488.7L436.7 490.3L437.5 491.3L438.2 490.3L439 489.1L439.8 486L440.6 484.3L441.4 483L442.2 482.5L443 484.8L443.7 487.9L444.5 487.3L445.3 486.8L446.1 486.8L446.9 486.6L447.7 485L448.5 483.3L449.2 483.9L450 485.9L450.8 486.7L451.6 488.1L452.4 490.5L453.2 490.3L454 491.4L454.8 490.4L455.5 488.5L456.3 487.4L457.1 488.3L457.9 487.6L458.7 488.7L459.5 486.8L460.3 488.3L461 488.4L461.8 489.3L462.6 490.7L463.4 490.8L464.2 490.6L465 488.7L465.8 487.2L466.5 485.1L467.3 485.8L468.1 484.7L468.9 485L469.7 485.5L470.5 486.4L471.3 489.3L472.1 491L472.8 489.8L473.6 488.2L474.4 485.3L475.2 486.7L476 486.1L476.8 485.7L477.6 487.7L478.3 491.8L479.1 494.9L479.9 496L480.7 496.3L481.5 496L482.3 493.5L483.1 489.6L483.8 488.3L484.6 485.7L485.4 487.4L486.2 484.7L487 485.9L487.8 484L488.6 484.2L489.3 485.9L490.1 485.7L490.9 485.7L491.7 486.1L492.5 486.8L493.3 486.7L494.1 487.1L494.9 487.4L495.6 486.9L496.4 487.4L497.2 487.4L498 487.6L498.8 486.6L499.6 484.1L500.4 482.2L501.1 484.1L501.9 484.9L502.7 485.8L503.5 486L504.3 484.5L505.1 486.4L505.9 488.3L506.6 490.4L507.4 494L508.2 493.5L509 490.2L509.8 488L510.6 487L511.4 487.3L512.1 487.8L512.9 488.9L513.7 486.3L514.5 485.1L515.3 485.4L516.1 485.6L516.9 486.3L517.7 488.1L518.4 487.2L519.2 488.1L520 486.1L520.8 484.4L521.6 486.6L522.4 488.7L523.2 488.6L523.9 488.5L524.7 488L525.5 487.9L526.3 487.3L527.1 487.5L527.9 486.2L528.7 484.5L529.4 485L530.2 485.4L531 485.3L531.8 485.2L532.6 485.5L533.4 485.4L534.2 488L535 496.1L535.7 504.3L536.5 515.9L537.3 529.9L538.1 545.9L538.9 534.9L539.7 527.5L540.5 520.5L541.2 513.6L542 509.6L542.8 504.6L543.6 500.2L543.6 512.1L542.8 516.7L542 521.3L541.2 524.6L540.5 530.4L539.7 536.1L538.9 544.6L538.1 552.4L537.3 541.5L536.5 528L535.7 516.3L535 507.6L534.2 498.5L533.4 501L532.6 500.4L531.8 502.1L531 504L530.2 505.2L529.4 505.2L528.7 504.2L527.9 504.8L527.1 504.4L526.3 502.1L525.5 504L524.7 507L523.9 510.7L523.2 512.5L522.4 511.8L521.6 507.3L520.8 502.7L520 502.3L519.2 502.5L518.4 503.7L517.7 506.4L516.9 505.9L516.1 505.7L515.3 505.3L514.5 504L513.7 503.6L512.9 504.2L512.1 503.1L511.4 504.6L510.6 506.1L509.8 509.1L509 514.3L508.2 520.2L507.4 519.8L506.6 511.5L505.9 504.4L505.1 502.8L504.3 502.5L503.5 505.4L502.7 505.9L501.9 505L501.1 503.3L500.4 500.2L499.6 500.7L498.8 503.1L498 507.1L497.2 509.5L496.4 511.1L495.6 510.6L494.9 509.8L494.1 507.3L493.3 504.5L492.5 502L491.7 501.9L490.9 503.3L490.1 504.8L489.3 505.8L488.6 504.3L487.8 503.4L487 503.9L486.2 501L485.4 502.3L484.6 503.8L483.8 510.2L483.1 515.9L482.3 523.8L481.5 528.5L480.7 528.1L479.9 524.1L479.1 517.7L478.3 511.2L477.6 506.9L476.8 505.3L476 506.3L475.2 507.2L474.4 505.7L473.6 508.2L472.8 509L472.1 509.1L471.3 509.2L470.5 507.9L469.7 507.4L468.9 506.7L468.1 505.7L467.3 505.8L466.5 504L465.8 505.2L465 506.9L464.2 512.1L463.4 514.5L462.6 515.1L461.8 513L461 510.4L460.3 508.1L459.5 504.3L458.7 504L457.9 503.8L457.1 507.2L456.3 509.2L455.5 512.9L454.8 516.4L454 517.4L453.2 514.3L452.4 511.1L451.6 505.1L450.8 504.4L450 504.7L449.2 503.6L448.5 503.5L447.7 504.9L446.9 505.6L446.1 504.2L445.3 502.2L444.5 502.4L443.7 505.1L443 503.6L442.2 502.4L441.4 503.2L440.6 504.1L439.8 505L439 507.5L438.2 508.5L437.5 512.9L436.7 514.8L435.9 513.7L435.1 510.7L434.3 511.6L433.5 514.7L432.7 518.1L432 513.3L431.2 507.2L430.4 505.7L429.6 507.9L428.8 512.8L428 517.8L427.2 519.1L426.4 518.3L425.7 512.9L424.9 509.6L424.1 507.8L423.3 509.4L422.5 511.4L421.7 512.9L420.9 514.2L420.2 514.2L419.4 517.6L418.6 521.2L417.8 525.3Z" fill="#d8d8d8" fill-opacity="0.85"/>
<path d="M417.8 543.7H418.6V543.7H419.4V542.5H420.2V544.2H420.9V546H421.7V547.7H422.5V549.4H423.3V549.4H424.1V549.4H424.9V549.4H425.7V545H426.4V545H427.2V545H428V549.4H428.8V549.4H429.6V549.4H430.4V549.4H431.2V549.4H432V549.4H432.7V549.4H433.5V549.4H434.3V549.4H435.1V549.4H435.9V549.4H436.7V549.4H437.5V545H438.2V545H439V545H439.8V549.4H440.6V549.4H441.4V549.4H442.2V549.4H443V549.4H443.7V549.4H444.5V549.4H445.3V549.4H446.1V549.4H446.9V549.4H447.7V549.4H448.5V549.4H449.2V549.4H450V549.4H450.8V549.4H451.6V549.4H452.4V549.4H453.2V549.4H454V549.4H454.8V545.6H455.5V545.6H456.3V545.6H457.1V549.4H457.9V549.4H458.7V549.4H459.5V549.4H460.3V549.4H461V549.4H461.8V549.4H462.6V549.4H463.4V549.4H464.2V549.4H465V545.6H465.8V545.6H466.5V545.6H467.3V549.4H468.1V549.4H468.9V549.4H469.7V549.4H470.5V549.4H471.3V545.6H472.1V545.6H472.8V545.6H473.6V549.4H474.4V549.4H475.2V549.4H476V549.4H476.8V549.4H477.6V549.4H478.3V549.4H479.1V549.4H479.9V549.4H480.7V545H481.5V545H482.3V545H483.1V549.4H483.8V549.4H484.6V549.4H485.4V549.4H486.2V549.4H487V549.4H487.8V549.4H488.6V549.4H489.3V549.4H490.1V549.4H490.9V549.4H491.7V549.4H492.5V549.4H493.3V549.4H494.1V549.4H494.9V549.4H495.6V549.4H496.4V549.4H497.2V549.4H498V549.4H498.8V549.4H499.6V549.4H500.4V549.4H501.1V549.4H501.9V549.4H502.7V549.4H503.5V549.4H504.3V543.7H505.1V543.7H505.9V543.7H506.6V549.4H507.4V549.4H508.2V535.9H509V535.9H509.8V535.9H510.6V549.4H511.4V549.4H512.1V549.4H512.9V549.4H513.7V549.4H514.5V549.4H515.3V549.4H516.1V549.4H516.9V549.4H517.7V549.4H518.4V549.4H519.2V549.4H520V549.4H520.8V549.4H521.6V544.3H522.4V544.3H523.2V544.3H523.9V549.4H524.7V549.4H525.5V549.4H526.3V541.1H527.1V541.1H527.9V541.1H528.7V549.4H529.4V543.7H530.2V543.7H531V543.7H531.8V549.4H532.6V549.4H533.4V548.6H534.2V543.9H535V535.9H535.7V524.8H536.5V510.5H537.3V493.1H538.1V486.6H538.9V490.9H539.7V490.4H540.5V499.1H541.2V507.8H542V516.5H542.8V525.2H543.6V533.9" fill="none" stroke="#3f8fd0" stroke-width="0.8"/>
<path d="M417.8 509.6L418.6 505.8L419.4 502.3L420.2 499L420.9 499.4L421.7 498.7L422.5 498.3L423.3 497.5L424.1 497.1L424.9 498.8L425.7 500L426.4 503.3L427.2 503.1L428 502.3L428.8 498.7L429.6 495.7L430.4 495L431.2 497L432 500.8L432.7 503.5L433.5 500L434.3 497.4L435.1 496.4L435.9 498.9L436.7 500.3L437.5 500.1L438.2 497.8L439 496.6L439.8 493.8L440.6 492.4L441.4 491.2L442.2 490.6L443 492.5L443.7 494.9L444.5 493.5L445.3 493.1L446.1 493.9L446.9 494.4L447.7 493.1L448.5 491.6L449.2 492L450 493.6L450.8 494L451.6 495.1L452.4 498.9L453.2 500.1L454 502L454.8 501L455.5 498.5L456.3 496.4L457.1 496L457.9 494.2L458.7 495L459.5 494L460.3 496.4L461 497.4L461.8 499L462.6 500.6L463.4 500.5L464.2 499.4L465 496.1L465.8 494.6L466.5 492.8L467.3 494L468.1 493.3L468.9 493.8L469.7 494.5L470.5 495.2L471.3 497.4L472.1 498.4L472.8 497.6L473.6 496.4L474.4 493.6L475.2 495.1L476 494.4L476.8 493.7L477.6 495.5L478.3 499.8L479.1 504.2L479.9 507.5L480.7 509.3L481.5 509.3L482.3 505.9L483.1 500.4L483.8 497.3L484.6 493.1L485.4 493.5L486.2 491.4L487 493.2L487.8 491.9L488.6 492.4L489.3 494L490.1 493.5L490.9 492.9L491.7 492.6L492.5 493L493.3 494L494.1 495.4L494.9 496.5L495.6 496.6L496.4 497.1L497.2 496.4L498 495.6L498.8 493.4L499.6 490.9L500.4 489.6L501.1 492L501.9 493.1L502.7 494L503.5 494L504.3 491.9L505.1 493.1L505.9 494.9L506.6 499L507.4 504.5L508.2 504.4L509 500.1L509.8 496.6L510.6 494.8L511.4 494.4L512.1 494.1L512.9 495.1L513.7 493.4L514.5 492.8L515.3 493.6L516.1 493.8L516.9 494.3L517.7 495.6L518.4 494L519.2 494L520 492.7L520.8 491.9L521.6 495.1L522.4 498.1L523.2 498.4L523.9 497.6L524.7 495.8L525.5 494.5L526.3 493.3L527.1 494.4L527.9 493.8L528.7 492.5L529.4 493.3L530.2 493.5L531 493L531.8 492.1L532.6 491.6L533.4 491.8L534.2 492.3L535 500.8L535.7 509.2L536.5 520.9L537.3 534.7L538.1 550.3L538.9 538.8L539.7 531L540.5 524.5L541.2 518.1L542 514.4L542.8 509.6L543.6 505.1" fill="none" stroke="#ff7f0e" stroke-width="1.9" stroke-linejoin="round"/>
<path d="M417.8 583.2L418.6 581L419.4 579.2L420.2 577.1L420.9 576.2L421.7 576.7L422.5 575.2L423.3 574.7L424.1 574.3L424.9 573.7L425.7 573.2L426.4 572.2L427.2 572.2L428 572.9L428.8 574.3L429.6 575.6L430.4 575.5L431.2 574.6L432 575.1L432.7 575.2L433.5 574.4L434.3 575.3L435.1 574.6L435.9 573.2L436.7 572L437.5 572.2L438.2 571.7L439 571.6L439.8 571L440.6 572.3L441.4 571.7L442.2 573.1L443 574.9L443.7 574.2L444.5 574.1L445.3 572.5L446.1 571.7L446.9 572.9L447.7 571.8L448.5 572.9L449.2 573.1L450 574L450.8 575.4L451.6 577.3L452.4 580.6L453.2 584.5L454 587.3L454.8 588.5L455.5 588.3L456.3 585.9L457.1 582.2L457.9 577.9L458.7 575.4L459.5 571.6L460.3 572.1L461 572.9L461.8 571.8L462.6 570.6L463.4 570.7L464.2 570.5L465 569.8L465.8 570.8L466.5 572.4L467.3 572.7L468.1 571.6L468.9 573L469.7 572.5L470.5 572.1L471.3 572.3L472.1 571.5L472.8 571.2L473.6 569.5L474.4 570L475.2 571.3L476 572.3L476.8 573.7L477.6 574.3L478.3 578.1L479.1 582.5L479.9 586.4L480.7 590.1L481.5 589.9L482.3 587.9L483.1 583.3L483.8 578.8L484.6 574.9L485.4 572.3L486.2 572.2L487 572.6L487.8 573.8L488.6 574.8L489.3 576.3L490.1 577.7L490.9 578.9L491.7 576.8L492.5 574.8L493.3 572.4L494.1 572L494.9 570.1L495.6 571L496.4 570L497.2 570.7L498 571.6L498.8 572.7L499.6 572.5L500.4 571.1L501.1 570.7L501.9 570.6L502.7 573.2L503.5 572.2L504.3 572L505.1 573.8L505.9 576.5L506.6 579.3L507.4 579.8L508.2 581L509 578.7L509.8 574.4L510.6 573.1L511.4 572.5L512.1 572.1L512.9 573L513.7 572.4L514.5 573.2L515.3 572L516.1 571.9L516.9 570L517.7 570.5L518.4 569.9L519.2 571.8L520 572L520.8 571.7L521.6 570.3L522.4 572.6L523.2 572.4L523.9 574L524.7 576.5L525.5 580.3L526.3 582.6L527.1 581.8L527.9 579.2L528.7 575.3L529.4 573.4L530.2 570.7L531 575.8L531.8 579.4L532.6 585.6L533.4 590.9L534.2 596.2L535 601.8L535.7 607.6L536.5 615.5L537.3 624.4L538.1 631.9L538.9 620.3L539.7 612.1L540.5 606.7L541.2 600.2L542 595.6L542.8 590.7L543.6 585.8L543.6 592.6L542.8 597.5L542 602.3L541.2 607L540.5 613.4L539.7 618.9L538.9 627.1L538.1 636.4L537.3 631.2L536.5 622.3L535.7 614.4L535 608.5L534.2 603L533.4 597.7L532.6 592.4L531.8 586.2L531 582.6L530.2 582.3L529.4 585.8L528.7 589.9L527.9 597.7L527.1 604.4L526.3 607L525.5 602.9L524.7 594.9L523.9 588.7L523.2 584.8L522.4 584.2L521.6 581.7L520.8 583L520 583.3L519.2 583.1L518.4 581.2L517.7 581.8L516.9 581.3L516.1 583.2L515.3 583.3L514.5 584.5L513.7 583.7L512.9 584.3L512.1 583.4L511.4 584.2L510.6 585.8L509.8 589.4L509 597.2L508.2 602.2L507.4 601.4L506.6 598.4L505.9 592.2L505.1 586.9L504.3 583.9L503.5 583.6L502.7 584.5L501.9 581.9L501.1 582L500.4 582.4L499.6 583.8L498.8 584L498 582.9L497.2 582L496.4 581.3L495.6 582.4L494.9 581.7L494.1 584.2L493.3 585.9L492.5 590.2L491.7 594.2L490.9 597.8L490.1 596.8L489.3 594.1L488.6 590.6L487.8 587.7L487 585.2L486.2 584.3L485.4 584.7L484.6 588.8L483.8 595.8L483.1 605.2L482.3 615.1L481.5 620.9L480.7 621.5L479.9 614.6L479.1 605.4L478.3 596L477.6 588.7L476.8 586.2L476 584L475.2 582.7L474.4 581.3L473.6 580.8L472.8 582.5L472.1 582.8L471.3 583.6L470.5 583.4L469.7 583.8L468.9 584.2L468.1 582.9L467.3 584L466.5 583.7L465.8 582L465 581.1L464.2 581.8L463.4 582L462.6 581.9L461.8 583.1L461 584.4L460.3 584.1L459.5 584.6L458.7 590.3L457.9 595.8L457.1 604.2L456.3 612.2L455.5 618L454.8 619.5L454 617L453.2 610.8L452.4 602.6L451.6 595.3L450.8 590.3L450 587L449.2 585.1L448.5 584.5L447.7 583.2L446.9 584.2L446.1 583L445.3 583.8L444.5 585.4L443.7 585.5L443 586.2L442.2 584.4L441.4 583L440.6 583.7L439.8 582.4L439 583L438.2 583.3L437.5 584L436.7 584.2L435.9 585.9L435.1 587.9L434.3 589.3L433.5 589.1L432.7 590.4L432 590.5L431.2 590L430.4 590.5L429.6 590L428.8 588.1L428 586.2L427.2 585.1L426.4 585L425.7 586L424.9 586.7L424.1 587.6L423.3 588.6L422.5 589.7L421.7 592L420.9 592.6L420.2 594.7L419.4 598.5L418.6 602.3L417.8 607Z" fill="#d8d8d8" fill-opacity="0.85"/>
<path d="M417.8 627.5H418.6V626.9H419.4V625.7H420.2V628.1H420.9V629.7H421.7V631.1H422.5V633.2H423.3V633.2H424.1V632.7H424.9V632.7H425.7V632.7H426.4V632.7H427.2V632.7H428V633.3H428.8V633.3H429.6V633.3H430.4V633.3H431.2V633.3H432V632.8H432.7V632.8H433.5V632.8H434.3V633.3H435.1V633.3H435.9V633.3H436.7V632.7H437.5V633.2H438.2V633.2H439V633.2H439.8V633.2H440.6V633.2H441.4V633.2H442.2V632.7H443V632.7H443.7V632.7H444.5V632.7H445.3V631.5H446.1V630.8H446.9V630.8H447.7V632.7H448.5V632.7H449.2V632.7H450V633.3H450.8V633.3H451.6V633.3H452.4V633.3H453.2V633.3H454V633.3H454.8V631.5H455.5V632H456.3V631.6H457.1V633.1H457.9V633.1H458.7V632.7H459.5V632.7H460.3V632.7H461V632.7H461.8V633.3H462.6V633.3H463.4V632.7H464.2V632.7H465V632.7H465.8V632.7H466.5V633.4H467.3V633H468.1V633H468.9V633H469.7V633H470.5V633H471.3V633.3H472.1V633.3H472.8V632.9H473.6V632.9H474.4V632.9H475.2V632.9H476V632.9H476.8V632.9H477.6V632.9H478.3V632.9H479.1V632.9H479.9V632.9H480.7V632.9H481.5V632.9H482.3V632.9H483.1V632.9H483.8V632.9H484.6V632.9H485.4V632.9H486.2V632.9H487V632.9H487.8V632.9H488.6V633.4H489.3V633.4H490.1V632.6H490.9V632.6H491.7V633.4H492.5V633.4H493.3V633.4H494.1V632.7H494.9V632.7H495.6V632.7H496.4V633.1H497.2V633.1H498V633.1H498.8V633.1H499.6V633.1H500.4V632.6H501.1V632.6H501.9V633.4H502.7V632.8H503.5V633.2H504.3V633.2H505.1V632.7H505.9V633.3H506.6V632.1H507.4V632.1H508.2V632.1H509V633.2H509.8V633.2H510.6V633.2H511.4V633.2H512.1V633.2H512.9V633.2H513.7V633.2H514.5V630.9H515.3V630.9H516.1V631.5H516.9V633.1H517.7V633.1H518.4V633.1H519.2V633.1H520V633.1H520.8V633.1H521.6V633.1H522.4V633.1H523.2V633.1H523.9V633.1H524.7V633.1H525.5V633.1H526.3V627.6H527.1V627.6H527.9V627.6H528.7V633H529.4V633H530.2V633H531V633H531.8V633H532.6V633H533.4V631.9H534.2V627.1H535V619.6H535.7V608.4H536.5V594.1H537.3V575.9H538.1V574.1H538.9V572.5H539.7V573.1H540.5V582H541.2V590.7H542V599.6H542.8V608.3H543.6V617.8" fill="none" stroke="#3f8fd0" stroke-width="0.8"/>
<path d="M417.8 592.9L418.6 589.7L419.4 587.1L420.2 584.3L420.9 582.9L421.7 582.9L422.5 581.1L423.3 580.4L424.1 579.7L424.9 579L425.7 578.5L426.4 577.4L427.2 577.5L428 578.3L428.8 579.9L429.6 581.5L430.4 581.7L431.2 580.9L432 581.4L432.7 581.4L433.5 580.4L434.3 581L435.1 580L435.9 578.4L436.7 577L437.5 577L438.2 576.5L439 576.3L439.8 575.7L440.6 577L441.4 576.3L442.2 577.7L443 579.5L443.7 578.8L444.5 578.7L445.3 577.1L446.1 576.3L446.9 577.5L447.7 576.5L448.5 577.6L449.2 578L450 579.3L450.8 581.5L451.6 584.7L452.4 589.6L453.2 595.3L454 599.5L454.8 601.2L455.5 600.4L456.3 596.7L457.1 591.2L457.9 585.2L458.7 581.5L459.5 576.9L460.3 577.1L461 577.6L461.8 576.4L462.6 575.2L463.4 575.3L464.2 575.1L465 574.5L465.8 575.4L466.5 577.1L467.3 577.3L468.1 576.2L468.9 577.6L469.7 577.1L470.5 576.7L471.3 576.9L472.1 576.1L472.8 575.8L473.6 574.1L474.4 574.6L475.2 576L476 577.1L476.8 578.8L477.6 580.2L478.3 585.4L479.1 591.9L479.9 597.9L480.7 603L481.5 602.6L482.3 599L483.1 592.3L483.8 585.7L484.6 580.6L485.4 577.4L486.2 577.2L487 577.8L487.8 579.5L488.6 581.2L489.3 583.6L490.1 585.5L490.9 586.7L491.7 583.9L492.5 581.1L493.3 578L494.1 577L494.9 574.8L495.6 575.7L496.4 574.6L497.2 575.3L498 576.2L498.8 577.3L499.6 577.1L500.4 575.7L501.1 575.3L501.9 575.2L502.7 577.8L503.5 576.8L504.3 576.9L505.1 579.1L505.9 582.9L506.6 587.1L507.4 588.7L508.2 589.7L509 586.3L509.8 580.5L510.6 578.3L511.4 577.3L512.1 576.7L512.9 577.7L513.7 577L514.5 577.9L515.3 576.6L516.1 576.6L516.9 574.6L517.7 575.1L518.4 574.5L519.2 576.5L520 576.6L520.8 576.3L521.6 575L522.4 577.4L523.2 577.5L523.9 580L524.7 584L525.5 589.5L526.3 592.6L527.1 591L527.9 586.8L528.7 581.3L529.4 578.4L530.2 575.4L531 578.6L531.8 582.2L532.6 588.4L533.4 593.7L534.2 599L535 604.5L535.7 610.3L536.5 618.3L537.3 627.2L538.1 634.6L538.9 623.1L539.7 614.9L540.5 609.4L541.2 603L542 598.3L542.8 593.5L543.6 588.6" fill="none" stroke="#ff7f0e" stroke-width="1.9" stroke-linejoin="round"/>
<path d="M417.2 396.4L417.2 466.8" stroke="#000" stroke-width="1.3"/>
<path d="M543.6 395.8L543.6 466.8" stroke="#000" stroke-width="1.3"/>
<path d="M416.6 466.2L544.2 466.2" stroke="#000" stroke-width="1.3"/>
<path d="M417.8 466.2L417.8 471.2" stroke="#000" stroke-width="1.3"/>
<path d="M433.5 466.2L433.5 471.2" stroke="#000" stroke-width="1.3"/>
<path d="M449.2 466.2L449.2 471.2" stroke="#000" stroke-width="1.3"/>
<path d="M465 466.2L465 471.2" stroke="#000" stroke-width="1.3"/>
<path d="M480.7 466.2L480.7 471.2" stroke="#000" stroke-width="1.3"/>
<path d="M496.4 466.2L496.4 471.2" stroke="#000" stroke-width="1.3"/>
<path d="M512.1 466.2L512.1 471.2" stroke="#000" stroke-width="1.3"/>
<path d="M527.9 466.2L527.9 471.2" stroke="#000" stroke-width="1.3"/>
<path d="M543.6 466.2L543.6 471.2" stroke="#000" stroke-width="1.3"/>
<path d="M412 397L417.2 397" stroke="#000" stroke-width="1.3"/>
<text x="411" y="400.7" text-anchor="end" style="font-size:10.3px">40</text>
<path d="M412 431.6L417.2 431.6" stroke="#000" stroke-width="1.3"/>
<text x="411" y="435.3" text-anchor="end" style="font-size:10.3px">20</text>
<path d="M412 466.2L417.2 466.2" stroke="#000" stroke-width="1.3"/>
<text x="411" y="469.9" text-anchor="end" style="font-size:10.3px">0</text>
<path d="M543.6 397.6L548.4 397.6" stroke="#000" stroke-width="1.3"/>
<text x="549.6" y="401.3" style="font-size:10.3px">1</text>
<path d="M543.6 410.9L548.4 410.9" stroke="#000" stroke-width="1.3"/>
<text x="549.6" y="414.6" style="font-size:10.3px">0.8</text>
<path d="M543.6 424.2L548.4 424.2" stroke="#000" stroke-width="1.3"/>
<text x="549.6" y="427.9" style="font-size:10.3px">0.6</text>
<path d="M543.6 437.5L548.4 437.5" stroke="#000" stroke-width="1.3"/>
<text x="549.6" y="441.2" style="font-size:10.3px">0.4</text>
<path d="M543.6 450.8L548.4 450.8" stroke="#000" stroke-width="1.3"/>
<text x="549.6" y="454.5" style="font-size:10.3px">0.2</text>
<rect x="411.6" y="484.6" width="5.6" height="67.8" fill="#00ff00"/>
<path d="M417.2 484L417.2 553" stroke="#000" stroke-width="1.3"/>
<path d="M543.6 483.4L543.6 553" stroke="#000" stroke-width="1.3"/>
<path d="M416.6 552.4L544.2 552.4" stroke="#000" stroke-width="1.3"/>
<path d="M417.8 552.4L417.8 557.4" stroke="#000" stroke-width="1.3"/>
<path d="M433.5 552.4L433.5 557.4" stroke="#000" stroke-width="1.3"/>
<path d="M449.2 552.4L449.2 557.4" stroke="#000" stroke-width="1.3"/>
<path d="M465 552.4L465 557.4" stroke="#000" stroke-width="1.3"/>
<path d="M480.7 552.4L480.7 557.4" stroke="#000" stroke-width="1.3"/>
<path d="M496.4 552.4L496.4 557.4" stroke="#000" stroke-width="1.3"/>
<path d="M512.1 552.4L512.1 557.4" stroke="#000" stroke-width="1.3"/>
<path d="M527.9 552.4L527.9 557.4" stroke="#000" stroke-width="1.3"/>
<path d="M543.6 552.4L543.6 557.4" stroke="#000" stroke-width="1.3"/>
<path d="M412 484.6L417.2 484.6" stroke="#000" stroke-width="1.3"/>
<text x="411" y="488.3" text-anchor="end" style="font-size:10.3px">40</text>
<path d="M412 518.5L417.2 518.5" stroke="#000" stroke-width="1.3"/>
<text x="411" y="522.2" text-anchor="end" style="font-size:10.3px">20</text>
<path d="M412 552.4L417.2 552.4" stroke="#000" stroke-width="1.3"/>
<text x="411" y="556.1" text-anchor="end" style="font-size:10.3px">0</text>
<path d="M543.6 485.2L548.4 485.2" stroke="#000" stroke-width="1.3"/>
<text x="549.6" y="488.9" style="font-size:10.3px">1</text>
<path d="M543.6 498.5L548.4 498.5" stroke="#000" stroke-width="1.3"/>
<text x="549.6" y="502.2" style="font-size:10.3px">0.8</text>
<path d="M543.6 511.8L548.4 511.8" stroke="#000" stroke-width="1.3"/>
<text x="549.6" y="515.5" style="font-size:10.3px">0.6</text>
<path d="M543.6 525.1L548.4 525.1" stroke="#000" stroke-width="1.3"/>
<text x="549.6" y="528.8" style="font-size:10.3px">0.4</text>
<path d="M543.6 538.4L548.4 538.4" stroke="#000" stroke-width="1.3"/>
<text x="549.6" y="542.1" style="font-size:10.3px">0.2</text>
<rect x="411.6" y="568" width="5.6" height="68.4" fill="#ff00ff"/>
<path d="M417.2 567.4L417.2 637" stroke="#000" stroke-width="1.3"/>
<path d="M543.6 566.8L543.6 637" stroke="#000" stroke-width="1.3"/>
<path d="M412 568L417.2 568" stroke="#000" stroke-width="1.3"/>
<text x="411" y="571.7" text-anchor="end" style="font-size:10.3px">40</text>
<path d="M412 602.2L417.2 602.2" stroke="#000" stroke-width="1.3"/>
<text x="411" y="605.9" text-anchor="end" style="font-size:10.3px">20</text>
<path d="M412 636.4L417.2 636.4" stroke="#000" stroke-width="1.3"/>
<text x="411" y="640.1" text-anchor="end" style="font-size:10.3px">0</text>
<path d="M543.6 568.6L548.4 568.6" stroke="#000" stroke-width="1.3"/>
<text x="549.6" y="572.3" style="font-size:10.3px">1</text>
<path d="M543.6 581.9L548.4 581.9" stroke="#000" stroke-width="1.3"/>
<text x="549.6" y="585.6" style="font-size:10.3px">0.8</text>
<path d="M543.6 595.2L548.4 595.2" stroke="#000" stroke-width="1.3"/>
<text x="549.6" y="598.9" style="font-size:10.3px">0.6</text>
<path d="M543.6 608.5L548.4 608.5" stroke="#000" stroke-width="1.3"/>
<text x="549.6" y="612.2" style="font-size:10.3px">0.4</text>
<path d="M543.6 621.8L548.4 621.8" stroke="#000" stroke-width="1.3"/>
<text x="549.6" y="625.5" style="font-size:10.3px">0.2</text>
<text text-anchor="middle" transform="translate(395.4 518.6) rotate(-90)">Speed (cm / s)</text>
<text text-anchor="middle" transform="translate(574.6 517.6) rotate(-90)">Lick propensity</text>
<rect x="417.8" y="636.4" width="125.8" height="10" fill="#4d4d4d"/>
<path d="M418.2 636.7l2.2 4.7l-2.2 4.7" stroke="#fff" stroke-width="0.9" fill="none"/>
<path d="M452.4 636.7l2.2 9.4M454.6 636.7l-2.2 9.4" stroke="#fff" stroke-width="0.8" fill="none"/>
<rect x="480.2" y="636.4" width="1.1" height="10" fill="#b8b8b8"/>
<rect x="506.8" y="636.4" width="1.6" height="10" fill="#fff"/>
<ellipse cx="527.4" cy="641.4" rx="1.4" ry="4.8" fill="#fff"/>
<rect x="537.3" y="636.4" width="6.3" height="10" fill="#f2f2f2"/>
<rect x="538.5" y="636.4" width="0.7" height="10" fill="#cfcfcf"/>
<rect x="540.1" y="636.4" width="0.7" height="10" fill="#cfcfcf"/>
<rect x="541.7" y="636.4" width="0.7" height="10" fill="#cfcfcf"/>
<path d="M417.2 646.8L544.2 646.8" stroke="#000" stroke-width="1.3"/>
<path d="M417.8 646.8L417.8 653.4" stroke="#000" stroke-width="1.3"/>
<text x="417.8" y="662.4" text-anchor="middle" style="font-size:10.3px">0</text>
<path d="M433.5 646.8L433.5 653.4" stroke="#000" stroke-width="1.3"/>
<text x="433.5" y="662.4" text-anchor="middle" style="font-size:10.3px">1</text>
<path d="M449.2 646.8L449.2 653.4" stroke="#000" stroke-width="1.3"/>
<text x="449.2" y="662.4" text-anchor="middle" style="font-size:10.3px">2</text>
<path d="M465 646.8L465 653.4" stroke="#000" stroke-width="1.3"/>
<text x="465" y="662.4" text-anchor="middle" style="font-size:10.3px">3</text>
<path d="M480.7 646.8L480.7 653.4" stroke="#000" stroke-width="1.3"/>
<text x="480.7" y="662.4" text-anchor="middle" style="font-size:10.3px">4</text>
<path d="M496.4 646.8L496.4 653.4" stroke="#000" stroke-width="1.3"/>
<text x="496.4" y="662.4" text-anchor="middle" style="font-size:10.3px">5</text>
<path d="M512.1 646.8L512.1 653.4" stroke="#000" stroke-width="1.3"/>
<text x="512.1" y="662.4" text-anchor="middle" style="font-size:10.3px">6</text>
<path d="M527.9 646.8L527.9 653.4" stroke="#000" stroke-width="1.3"/>
<text x="527.9" y="662.4" text-anchor="middle" style="font-size:10.3px">7</text>
<path d="M543.6 646.8L543.6 653.4" stroke="#000" stroke-width="1.3"/>
<text x="543.6" y="662.4" text-anchor="middle" style="font-size:10.3px">8</text>
<rect x="622.6" y="385.6" width="257" height="257.4" fill="#000"/>
<rect x="617.4" y="386.8" width="5.4" height="17" fill="#00ff00"/>
<rect x="617.4" y="403.8" width="5.4" height="47.8" fill="#ff00ff"/>
<text x="616" y="390.6" text-anchor="end" style="font-size:10.3px">1-1</text>
<text text-anchor="end" style="font-size:10.3px" transform="translate(627.4 648.6) rotate(-90)">1-1</text>
<text x="616" y="449.9" text-anchor="end" style="font-size:10.3px">1-56</text>
<text text-anchor="end" style="font-size:10.3px" transform="translate(686.9 648.6) rotate(-90)">1-56</text>
<text x="616" y="462.1" text-anchor="end" style="font-size:10.3px">2-1</text>
<text text-anchor="end" style="font-size:10.3px" transform="translate(698.9 648.6) rotate(-90)">2-1</text>
<text x="616" y="511" text-anchor="end" style="font-size:10.3px">2-52</text>
<text text-anchor="end" style="font-size:10.3px" transform="translate(748 648.6) rotate(-90)">2-52</text>
<text x="616" y="523.2" text-anchor="end" style="font-size:10.3px">3-1</text>
<text text-anchor="end" style="font-size:10.3px" transform="translate(760 648.6) rotate(-90)">3-1</text>
<text x="616" y="575.7" text-anchor="end" style="font-size:10.3px">3-55</text>
<text text-anchor="end" style="font-size:10.3px" transform="translate(812.7 648.6) rotate(-90)">3-55</text>
<text x="616" y="587.9" text-anchor="end" style="font-size:10.3px">4-1</text>
<text text-anchor="end" style="font-size:10.3px" transform="translate(824.7 648.6) rotate(-90)">4-1</text>
<text x="616" y="645.2" text-anchor="end" style="font-size:10.3px">4-54</text>
<text text-anchor="end" style="font-size:10.3px" transform="translate(882.6 648.6) rotate(-90)">4-54</text>
<path d="M617.4 386.8L623.2 386.8" stroke="#000" stroke-width="1.3"/>
<path d="M623.8 642.6L623.8 648" stroke="#000" stroke-width="1.3"/>
<path d="M617.4 452.3L623.2 452.3" stroke="#000" stroke-width="2.2"/>
<path d="M689.3 642.6L689.3 648" stroke="#000" stroke-width="2.2"/>
<path d="M617.4 513.4L623.2 513.4" stroke="#000" stroke-width="2.2"/>
<path d="M750.4 642.6L750.4 648" stroke="#000" stroke-width="2.2"/>
<path d="M617.4 578.1L623.2 578.1" stroke="#000" stroke-width="2.2"/>
<path d="M815.1 642.6L815.1 648" stroke="#000" stroke-width="2.2"/>
<path d="M617.4 641.6L623.2 641.6" stroke="#000" stroke-width="1.3"/>
<path d="M878.6 642.6L878.6 648" stroke="#000" stroke-width="1.3"/>
<text text-anchor="middle" transform="translate(594 514.4) rotate(-90)">Day-Lap</text>
<text x="750.4" y="676.6" text-anchor="middle">Day-Lap</text>
<rect x="32.6" y="392.2" width="135" height="134.4" fill="#451364"/>
<path d="M66.3 425.8h2.8v2.8h-2.8z" fill="#440759"/>
<path d="M68.8 392.2h2.8v2.8h-2.8zM68.8 394.6h2.8v2.8h-2.8zM68.8 397h2.8v2.8h-2.8zM68.8 399.4h2.8v2.8h-2.8zM68.8 401.8h2.8v2.8h-2.8zM68.8 404.2h2.8v2.8h-2.8zM68.8 406.6h2.8v2.8h-2.8zM68.8 409h2.8v2.8h-2.8zM68.8 411.4h2.8v2.8h-2.8zM68.8 413.8h2.8v2.8h-2.8zM68.8 416.2h2.8v2.8h-2.8zM68.8 418.6h2.8v2.8h-2.8zM68.8 421h2.8v2.8h-2.8zM68.8 423.4h2.8v2.8h-2.8zM80.8 425.8h10v2.8h-10zM97.7 425.8h2.8v2.8h-2.8zM104.9 425.8h5.2v2.8h-5.2zM119.4 425.8h10v2.8h-10zM131.4 425.8h2.8v2.8h-2.8zM138.7 425.8h2.8v2.8h-2.8zM143.5 425.8h5.2v2.8h-5.2zM150.7 425.8h16.9v2.8h-16.9zM32.6 428.2h34.1v2.8h-34.1zM73.6 428.2h2.8v2.8h-2.8zM78.4 428.2h5.2v2.8h-5.2zM90.5 428.2h2.8v2.8h-2.8zM104.9 428.2h2.8v2.8h-2.8zM109.7 428.2h2.8v2.8h-2.8zM117 428.2h2.8v2.8h-2.8zM129 428.2h2.8v2.8h-2.8zM133.8 428.2h5.2v2.8h-5.2zM145.9 428.2h5.2v2.8h-5.2zM71.2 430.6h5.2v2.8h-5.2zM68.8 433h5.2v2.8h-5.2zM68.8 437.8h2.8v2.8h-2.8zM66.3 440.2h5.2v2.8h-5.2zM66.3 442.6h2.8v2.8h-2.8zM66.3 445h2.8v2.8h-2.8zM66.3 447.4h2.8v2.8h-2.8zM68.8 449.8h2.8v2.8h-2.8zM66.3 457h2.8v2.8h-2.8zM66.3 464.2h5.2v2.8h-5.2zM66.3 466.6h2.8v2.8h-2.8zM68.8 469h2.8v2.8h-2.8zM68.8 476.2h2.8v2.8h-2.8zM66.3 478.6h2.8v2.8h-2.8zM66.3 481h2.8v2.8h-2.8zM66.3 483.4h2.8v2.8h-2.8zM66.3 485.8h2.8v2.8h-2.8zM68.8 488.2h2.8v2.8h-2.8zM66.3 490.6h2.8v2.8h-2.8zM68.8 493h2.8v2.8h-2.8zM68.8 495.4h2.8v2.8h-2.8zM66.3 497.8h2.8v2.8h-2.8zM66.3 502.6h2.8v2.8h-2.8zM66.3 505h5.2v2.8h-5.2zM68.8 507.4h2.8v2.8h-2.8zM66.3 509.8h2.8v2.8h-2.8zM66.3 512.2h2.8v2.8h-2.8zM66.3 514.6h2.8v2.8h-2.8zM66.3 517h2.8v2.8h-2.8zM66.3 519.4h2.8v2.8h-2.8zM66.3 521.8h2.8v2.8h-2.8zM66.3 524.2h2.8v2.4h-2.8z" fill="#472777"/>
<path d="M66.3 392.2h2.8v2.8h-2.8zM66.3 394.6h2.8v2.8h-2.8zM66.3 397h2.8v2.8h-2.8zM66.3 399.4h2.8v2.8h-2.8zM66.3 401.8h2.8v2.8h-2.8zM66.3 404.2h2.8v2.8h-2.8zM66.3 406.6h2.8v2.8h-2.8zM66.3 409h2.8v2.8h-2.8zM66.3 411.4h2.8v2.8h-2.8zM66.3 413.8h2.8v2.8h-2.8zM66.3 416.2h2.8v2.8h-2.8zM66.3 418.6h2.8v2.8h-2.8zM66.3 421h2.8v2.8h-2.8zM66.3 423.4h2.8v2.8h-2.8zM32.6 425.8h34.1v2.8h-34.1zM76 428.2h2.8v2.8h-2.8zM83.2 428.2h7.6v2.8h-7.6zM92.9 428.2h12.4v2.8h-12.4zM107.3 428.2h2.8v2.8h-2.8zM112.2 428.2h5.2v2.8h-5.2zM119.4 428.2h10v2.8h-10zM131.4 428.2h2.8v2.8h-2.8zM138.7 428.2h7.6v2.8h-7.6zM150.7 428.2h16.9v2.8h-16.9zM76 430.6h7.6v2.8h-7.6zM90.5 430.6h5.2v2.8h-5.2zM100.1 430.6h5.2v2.8h-5.2zM109.7 430.6h14.8v2.8h-14.8zM129 430.6h2.8v2.8h-2.8zM136.3 430.6h2.8v2.8h-2.8zM148.3 430.6h2.8v2.8h-2.8zM73.6 433h2.8v2.8h-2.8zM68.8 435.4h5.2v2.8h-5.2zM71.2 437.8h2.8v2.8h-2.8zM71.2 440.2h2.8v2.8h-2.8zM68.8 442.6h2.8v2.8h-2.8zM68.8 445h2.8v2.8h-2.8zM68.8 447.4h2.8v2.8h-2.8zM71.2 449.8h2.8v2.8h-2.8zM68.8 452.2h5.2v2.8h-5.2zM68.8 454.6h2.8v2.8h-2.8zM68.8 457h2.8v2.8h-2.8zM68.8 459.4h5.2v2.8h-5.2zM68.8 461.8h5.2v2.8h-5.2zM68.8 466.6h2.8v2.8h-2.8zM71.2 469h2.8v2.8h-2.8zM68.8 471.4h5.2v2.8h-5.2zM68.8 473.8h5.2v2.8h-5.2zM71.2 476.2h2.8v2.8h-2.8zM68.8 478.6h5.2v2.8h-5.2zM68.8 481h5.2v2.8h-5.2zM68.8 483.4h2.8v2.8h-2.8zM68.8 485.8h2.8v2.8h-2.8zM71.2 488.2h2.8v2.8h-2.8zM68.8 490.6h2.8v2.8h-2.8zM71.2 495.4h2.8v2.8h-2.8zM68.8 497.8h2.8v2.8h-2.8zM68.8 500.2h2.8v2.8h-2.8zM68.8 502.6h2.8v2.8h-2.8zM71.2 507.4h2.8v2.8h-2.8zM68.8 509.8h2.8v2.8h-2.8zM68.8 512.2h2.8v2.8h-2.8zM68.8 514.6h2.8v2.8h-2.8zM68.8 517h2.8v2.8h-2.8zM68.8 519.4h2.8v2.8h-2.8zM68.8 521.8h2.8v2.8h-2.8zM68.8 524.2h2.8v2.4h-2.8z" fill="#413c82"/>
<path d="M83.2 430.6h7.6v2.8h-7.6zM95.3 430.6h5.2v2.8h-5.2zM104.9 430.6h5.2v2.8h-5.2zM124.2 430.6h5.2v2.8h-5.2zM131.4 430.6h5.2v2.8h-5.2zM138.7 430.6h10v2.8h-10zM150.7 430.6h16.9v2.8h-16.9zM76 433h7.6v2.8h-7.6zM90.5 433h2.8v2.8h-2.8zM97.7 433h5.2v2.8h-5.2zM104.9 433h2.8v2.8h-2.8zM109.7 433h12.4v2.8h-12.4zM126.6 433h5.2v2.8h-5.2zM133.8 433h5.2v2.8h-5.2zM141.1 433h5.2v2.8h-5.2zM148.3 433h5.2v2.8h-5.2zM165.2 433h2.4v2.8h-2.4zM73.6 435.4h2.8v2.8h-2.8zM73.6 437.8h2.8v2.8h-2.8zM73.6 440.2h2.8v2.8h-2.8zM71.2 442.6h2.8v2.8h-2.8zM71.2 445h2.8v2.8h-2.8zM71.2 447.4h2.8v2.8h-2.8zM73.6 449.8h2.8v2.8h-2.8zM71.2 454.6h2.8v2.8h-2.8zM71.2 457h5.2v2.8h-5.2zM73.6 459.4h2.8v2.8h-2.8zM71.2 464.2h5.2v2.8h-5.2zM71.2 466.6h2.8v2.8h-2.8zM73.6 469h2.8v2.8h-2.8zM73.6 471.4h2.8v2.8h-2.8zM73.6 473.8h2.8v2.8h-2.8zM73.6 476.2h2.8v2.8h-2.8zM73.6 478.6h2.8v2.8h-2.8zM71.2 483.4h2.8v2.8h-2.8zM71.2 485.8h5.2v2.8h-5.2zM73.6 488.2h2.8v2.8h-2.8zM71.2 490.6h2.8v2.8h-2.8zM71.2 493h5.2v2.8h-5.2zM73.6 495.4h2.8v2.8h-2.8zM71.2 497.8h2.8v2.8h-2.8zM71.2 500.2h5.2v2.8h-5.2zM71.2 502.6h5.2v2.8h-5.2zM71.2 505h2.8v2.8h-2.8zM73.6 507.4h2.8v2.8h-2.8zM71.2 509.8h5.2v2.8h-5.2zM71.2 512.2h2.8v2.8h-2.8zM71.2 514.6h2.8v2.8h-2.8zM71.2 517h2.8v2.8h-2.8zM71.2 519.4h2.8v2.8h-2.8zM71.2 521.8h2.8v2.8h-2.8zM71.2 524.2h5.2v2.4h-5.2z" fill="#3c4d89"/>
<path d="M56.7 394.6h2.8v2.8h-2.8zM54.3 399.4h2.8v2.8h-2.8zM61.5 399.4h2.8v2.8h-2.8zM39.8 413.8h2.8v2.8h-2.8zM35 416.2h2.8v2.8h-2.8zM39.8 421h2.8v2.8h-2.8zM83.2 433h7.6v2.8h-7.6zM92.9 433h5.2v2.8h-5.2zM102.5 433h2.8v2.8h-2.8zM107.3 433h2.8v2.8h-2.8zM121.8 433h5.2v2.8h-5.2zM131.4 433h2.8v2.8h-2.8zM138.7 433h2.8v2.8h-2.8zM145.9 433h2.8v2.8h-2.8zM153.1 433h12.4v2.8h-12.4zM76 435.4h2.8v2.8h-2.8zM117 435.4h2.8v2.8h-2.8zM117 437.8h2.8v2.8h-2.8zM73.6 442.6h2.8v2.8h-2.8zM73.6 445h2.8v2.8h-2.8zM73.6 447.4h2.8v2.8h-2.8zM73.6 452.2h2.8v2.8h-2.8zM73.6 454.6h2.8v2.8h-2.8zM73.6 461.8h2.8v2.8h-2.8zM73.6 466.6h2.8v2.8h-2.8zM76 476.2h5.2v2.8h-5.2zM73.6 481h2.8v2.8h-2.8zM73.6 483.4h2.8v2.8h-2.8zM73.6 490.6h2.8v2.8h-2.8zM73.6 497.8h2.8v2.8h-2.8zM73.6 505h2.8v2.8h-2.8zM73.6 512.2h2.8v2.8h-2.8zM73.6 514.6h2.8v2.8h-2.8zM73.6 517h2.8v2.8h-2.8zM73.6 519.4h2.8v2.8h-2.8zM73.6 521.8h2.8v2.8h-2.8z" fill="#365c8c"/>
<path d="M39.8 392.2h2.8v2.8h-2.8zM47.1 392.2h17.2v2.8h-17.2zM39.8 394.6h2.8v2.8h-2.8zM44.7 394.6h12.4v2.8h-12.4zM59.1 394.6h7.6v2.8h-7.6zM39.8 397h2.8v2.8h-2.8zM44.7 397h22v2.8h-22zM32.6 399.4h22v2.8h-22zM56.7 399.4h5.2v2.8h-5.2zM63.9 399.4h2.8v2.8h-2.8zM39.8 401.8h2.8v2.8h-2.8zM51.9 401.8h14.8v2.8h-14.8zM35 404.2h7.6v2.8h-7.6zM44.7 404.2h2.8v2.8h-2.8zM54.3 404.2h10v2.8h-10zM32.6 406.6h10v2.8h-10zM56.7 406.6h5.2v2.8h-5.2zM32.6 409h10v2.8h-10zM56.7 409h2.8v2.8h-2.8zM32.6 411.4h12.4v2.8h-12.4zM32.6 413.8h7.6v2.8h-7.6zM42.2 413.8h5.2v2.8h-5.2zM32.6 416.2h2.8v2.8h-2.8zM37.4 416.2h14.8v2.8h-14.8zM32.6 418.6h17.2v2.8h-17.2zM32.6 421h7.6v2.8h-7.6zM42.2 421h5.2v2.8h-5.2zM35 423.4h10v2.8h-10zM78.4 435.4h2.8v2.8h-2.8zM90.5 435.4h2.8v2.8h-2.8zM95.3 435.4h7.6v2.8h-7.6zM109.7 435.4h7.6v2.8h-7.6zM119.4 435.4h5.2v2.8h-5.2zM129 435.4h2.8v2.8h-2.8zM133.8 435.4h7.6v2.8h-7.6zM143.5 435.4h2.8v2.8h-2.8zM148.3 435.4h2.8v2.8h-2.8zM165.2 435.4h2.4v2.8h-2.4zM76 437.8h2.8v2.8h-2.8zM109.7 437.8h2.8v2.8h-2.8zM114.6 437.8h2.8v2.8h-2.8zM121.8 437.8h2.8v2.8h-2.8zM129 437.8h2.8v2.8h-2.8zM133.8 437.8h5.2v2.8h-5.2zM145.9 437.8h7.6v2.8h-7.6zM76 449.8h2.8v2.8h-2.8zM76 454.6h2.8v2.8h-2.8zM76 457h2.8v2.8h-2.8zM76 459.4h2.8v2.8h-2.8zM76 469h5.2v2.8h-5.2zM76 471.4h2.8v2.8h-2.8zM76 473.8h5.2v2.8h-5.2zM76 478.6h2.8v2.8h-2.8zM76 481h5.2v2.8h-5.2zM76 488.2h5.2v2.8h-5.2zM76 493h5.2v2.8h-5.2zM76 495.4h5.2v2.8h-5.2zM76 497.8h2.8v2.8h-2.8zM76 502.6h2.8v2.8h-2.8zM78.4 505h2.8v2.8h-2.8zM76 507.4h5.2v2.8h-5.2zM78.4 509.8h2.8v2.8h-2.8zM76 524.2h2.8v2.4h-2.8z" fill="#2e6e8e"/>
<path d="M35 392.2h5.2v2.8h-5.2zM42.2 392.2h5.2v2.8h-5.2zM63.9 392.2h2.8v2.8h-2.8zM32.6 394.6h2.8v2.8h-2.8zM37.4 394.6h2.8v2.8h-2.8zM42.2 394.6h2.8v2.8h-2.8zM32.6 397h7.6v2.8h-7.6zM42.2 397h2.8v2.8h-2.8zM32.6 401.8h7.6v2.8h-7.6zM44.7 401.8h7.6v2.8h-7.6zM32.6 404.2h2.8v2.8h-2.8zM42.2 404.2h2.8v2.8h-2.8zM47.1 404.2h7.6v2.8h-7.6zM63.9 404.2h2.8v2.8h-2.8zM42.2 406.6h5.2v2.8h-5.2zM49.5 406.6h7.6v2.8h-7.6zM61.5 406.6h5.2v2.8h-5.2zM42.2 409h7.6v2.8h-7.6zM51.9 409h5.2v2.8h-5.2zM59.1 409h7.6v2.8h-7.6zM44.7 411.4h7.6v2.8h-7.6zM56.7 411.4h2.8v2.8h-2.8zM47.1 413.8h5.2v2.8h-5.2zM54.3 413.8h7.6v2.8h-7.6zM51.9 416.2h7.6v2.8h-7.6zM61.5 416.2h2.8v2.8h-2.8zM49.5 418.6h2.8v2.8h-2.8zM54.3 418.6h2.8v2.8h-2.8zM47.1 421h5.2v2.8h-5.2zM56.7 421h2.8v2.8h-2.8zM32.6 423.4h2.8v2.8h-2.8zM44.7 423.4h7.6v2.8h-7.6zM80.8 435.4h10v2.8h-10zM92.9 435.4h2.8v2.8h-2.8zM102.5 435.4h7.6v2.8h-7.6zM124.2 435.4h5.2v2.8h-5.2zM131.4 435.4h2.8v2.8h-2.8zM141.1 435.4h2.8v2.8h-2.8zM145.9 435.4h2.8v2.8h-2.8zM150.7 435.4h14.8v2.8h-14.8zM78.4 437.8h7.6v2.8h-7.6zM88 437.8h22v2.8h-22zM112.2 437.8h2.8v2.8h-2.8zM119.4 437.8h2.8v2.8h-2.8zM126.6 437.8h2.8v2.8h-2.8zM131.4 437.8h2.8v2.8h-2.8zM138.7 437.8h7.6v2.8h-7.6zM153.1 437.8h10v2.8h-10zM165.2 437.8h2.4v2.8h-2.4zM76 440.2h5.2v2.8h-5.2zM100.1 440.2h2.8v2.8h-2.8zM109.7 440.2h2.8v2.8h-2.8zM114.6 440.2h10v2.8h-10zM129 440.2h2.8v2.8h-2.8zM136.3 440.2h2.8v2.8h-2.8zM143.5 440.2h2.8v2.8h-2.8zM148.3 440.2h2.8v2.8h-2.8zM165.2 440.2h2.4v2.8h-2.4zM76 442.6h5.2v2.8h-5.2zM117 442.6h2.8v2.8h-2.8zM129 442.6h2.8v2.8h-2.8zM148.3 442.6h2.8v2.8h-2.8zM76 445h2.8v2.8h-2.8zM76 447.4h5.2v2.8h-5.2zM78.4 449.8h2.8v2.8h-2.8zM117 449.8h2.8v2.8h-2.8zM148.3 449.8h2.8v2.8h-2.8zM76 452.2h5.2v2.8h-5.2zM78.4 454.6h2.8v2.8h-2.8zM78.4 457h2.8v2.8h-2.8zM78.4 459.4h5.2v2.8h-5.2zM76 461.8h5.2v2.8h-5.2zM76 464.2h5.2v2.8h-5.2zM76 466.6h5.2v2.8h-5.2zM80.8 469h2.8v2.8h-2.8zM78.4 471.4h2.8v2.8h-2.8zM80.8 473.8h2.8v2.8h-2.8zM80.8 476.2h5.2v2.8h-5.2zM90.5 476.2h2.8v2.8h-2.8zM78.4 478.6h5.2v2.8h-5.2zM80.8 481h2.8v2.8h-2.8zM76 483.4h2.8v2.8h-2.8zM76 485.8h5.2v2.8h-5.2zM80.8 488.2h5.2v2.8h-5.2zM76 490.6h5.2v2.8h-5.2zM80.8 495.4h2.8v2.8h-2.8zM78.4 497.8h2.8v2.8h-2.8zM76 500.2h5.2v2.8h-5.2zM78.4 502.6h5.2v2.8h-5.2zM76 505h2.8v2.8h-2.8zM80.8 507.4h5.2v2.8h-5.2zM90.5 507.4h2.8v2.8h-2.8zM76 509.8h2.8v2.8h-2.8zM76 512.2h5.2v2.8h-5.2zM76 514.6h5.2v2.8h-5.2zM76 517h5.2v2.8h-5.2zM76 519.4h5.2v2.8h-5.2zM76 521.8h2.8v2.8h-2.8zM78.4 524.2h5.2v2.4h-5.2z" fill="#29798e"/>
<path d="M35 394.6h2.8v2.8h-2.8zM42.2 401.8h2.8v2.8h-2.8zM47.1 406.6h2.8v2.8h-2.8zM49.5 409h2.8v2.8h-2.8zM51.9 411.4h5.2v2.8h-5.2zM59.1 411.4h7.6v2.8h-7.6zM51.9 413.8h2.8v2.8h-2.8zM61.5 413.8h5.2v2.8h-5.2zM59.1 416.2h2.8v2.8h-2.8zM63.9 416.2h2.8v2.8h-2.8zM51.9 418.6h2.8v2.8h-2.8zM56.7 418.6h2.8v2.8h-2.8zM51.9 421h5.2v2.8h-5.2zM51.9 423.4h7.6v2.8h-7.6zM85.6 437.8h2.8v2.8h-2.8zM124.2 437.8h2.8v2.8h-2.8zM162.8 437.8h2.8v2.8h-2.8zM80.8 440.2h2.8v2.8h-2.8zM90.5 440.2h5.2v2.8h-5.2zM97.7 440.2h2.8v2.8h-2.8zM102.5 440.2h5.2v2.8h-5.2zM112.2 440.2h2.8v2.8h-2.8zM124.2 440.2h5.2v2.8h-5.2zM131.4 440.2h5.2v2.8h-5.2zM138.7 440.2h5.2v2.8h-5.2zM145.9 440.2h2.8v2.8h-2.8zM150.7 440.2h12.4v2.8h-12.4zM102.5 442.6h2.8v2.8h-2.8zM109.7 442.6h2.8v2.8h-2.8zM114.6 442.6h2.8v2.8h-2.8zM119.4 442.6h5.2v2.8h-5.2zM133.8 442.6h14.8v2.8h-14.8zM150.7 442.6h2.8v2.8h-2.8zM165.2 442.6h2.4v2.8h-2.4zM78.4 445h2.8v2.8h-2.8zM117 445h2.8v2.8h-2.8zM148.3 445h2.8v2.8h-2.8zM117 447.4h2.8v2.8h-2.8zM129 447.4h2.8v2.8h-2.8zM136.3 447.4h10v2.8h-10zM148.3 447.4h2.8v2.8h-2.8zM80.8 449.8h2.8v2.8h-2.8zM109.7 449.8h2.8v2.8h-2.8zM121.8 449.8h2.8v2.8h-2.8zM129 449.8h2.8v2.8h-2.8zM133.8 449.8h12.4v2.8h-12.4zM150.7 449.8h2.8v2.8h-2.8zM165.2 449.8h2.4v2.8h-2.4zM80.8 452.2h2.8v2.8h-2.8zM109.7 452.2h2.8v2.8h-2.8zM117 452.2h2.8v2.8h-2.8zM133.8 452.2h7.6v2.8h-7.6zM148.3 452.2h2.8v2.8h-2.8zM165.2 452.2h2.4v2.8h-2.4zM80.8 457h2.8v2.8h-2.8zM117 457h2.8v2.8h-2.8zM148.3 457h2.8v2.8h-2.8zM117 459.4h2.8v2.8h-2.8zM148.3 459.4h2.8v2.8h-2.8zM165.2 459.4h2.4v2.8h-2.4zM80.8 461.8h5.2v2.8h-5.2zM80.8 464.2h2.8v2.8h-2.8zM83.2 469h2.8v2.8h-2.8zM90.5 469h5.2v2.8h-5.2zM80.8 471.4h2.8v2.8h-2.8zM83.2 473.8h2.8v2.8h-2.8zM85.6 476.2h5.2v2.8h-5.2zM92.9 476.2h2.8v2.8h-2.8zM97.7 476.2h5.2v2.8h-5.2zM83.2 478.6h2.8v2.8h-2.8zM83.2 481h2.8v2.8h-2.8zM90.5 481h2.8v2.8h-2.8zM78.4 483.4h5.2v2.8h-5.2zM80.8 485.8h2.8v2.8h-2.8zM88 488.2h5.2v2.8h-5.2zM80.8 490.6h2.8v2.8h-2.8zM80.8 493h5.2v2.8h-5.2zM90.5 493h5.2v2.8h-5.2zM83.2 495.4h2.8v2.8h-2.8zM88 495.4h7.6v2.8h-7.6zM80.8 497.8h5.2v2.8h-5.2zM88 497.8h7.6v2.8h-7.6zM80.8 500.2h5.2v2.8h-5.2zM88 500.2h5.2v2.8h-5.2zM83.2 502.6h2.8v2.8h-2.8zM88 502.6h5.2v2.8h-5.2zM80.8 505h5.2v2.8h-5.2zM85.6 507.4h5.2v2.8h-5.2zM92.9 507.4h2.8v2.8h-2.8zM97.7 507.4h5.2v2.8h-5.2zM80.8 509.8h5.2v2.8h-5.2zM90.5 509.8h2.8v2.8h-2.8zM80.8 512.2h2.8v2.8h-2.8zM80.8 514.6h2.8v2.8h-2.8zM80.8 517h2.8v2.8h-2.8zM80.8 519.4h2.8v2.8h-2.8zM78.4 521.8h2.8v2.8h-2.8zM83.2 524.2h2.8v2.4h-2.8zM90.5 524.2h5.2v2.4h-5.2zM100.1 524.2h2.8v2.4h-2.8z" fill="#24888c"/>
<path d="M32.6 392.2h2.8v2.8h-2.8zM59.1 418.6h7.6v2.8h-7.6zM59.1 421h5.2v2.8h-5.2zM59.1 423.4h2.8v2.8h-2.8zM83.2 440.2h7.6v2.8h-7.6zM95.3 440.2h2.8v2.8h-2.8zM107.3 440.2h2.8v2.8h-2.8zM162.8 440.2h2.8v2.8h-2.8zM80.8 442.6h2.8v2.8h-2.8zM90.5 442.6h12.4v2.8h-12.4zM104.9 442.6h2.8v2.8h-2.8zM112.2 442.6h2.8v2.8h-2.8zM124.2 442.6h5.2v2.8h-5.2zM131.4 442.6h2.8v2.8h-2.8zM153.1 442.6h12.4v2.8h-12.4zM80.8 445h2.8v2.8h-2.8zM109.7 445h7.6v2.8h-7.6zM119.4 445h5.2v2.8h-5.2zM126.6 445h5.2v2.8h-5.2zM136.3 445h12.4v2.8h-12.4zM150.7 445h2.8v2.8h-2.8zM165.2 445h2.4v2.8h-2.4zM80.8 447.4h2.8v2.8h-2.8zM100.1 447.4h5.2v2.8h-5.2zM109.7 447.4h7.6v2.8h-7.6zM119.4 447.4h5.2v2.8h-5.2zM126.6 447.4h2.8v2.8h-2.8zM133.8 447.4h2.8v2.8h-2.8zM145.9 447.4h2.8v2.8h-2.8zM150.7 447.4h7.6v2.8h-7.6zM165.2 447.4h2.4v2.8h-2.4zM83.2 449.8h2.8v2.8h-2.8zM90.5 449.8h2.8v2.8h-2.8zM100.1 449.8h5.2v2.8h-5.2zM112.2 449.8h5.2v2.8h-5.2zM119.4 449.8h2.8v2.8h-2.8zM126.6 449.8h2.8v2.8h-2.8zM131.4 449.8h2.8v2.8h-2.8zM145.9 449.8h2.8v2.8h-2.8zM153.1 449.8h12.4v2.8h-12.4zM83.2 452.2h2.8v2.8h-2.8zM112.2 452.2h5.2v2.8h-5.2zM119.4 452.2h5.2v2.8h-5.2zM126.6 452.2h7.6v2.8h-7.6zM141.1 452.2h7.6v2.8h-7.6zM150.7 452.2h7.6v2.8h-7.6zM80.8 454.6h5.2v2.8h-5.2zM117 454.6h2.8v2.8h-2.8zM129 454.6h2.8v2.8h-2.8zM136.3 454.6h5.2v2.8h-5.2zM143.5 454.6h2.8v2.8h-2.8zM148.3 454.6h2.8v2.8h-2.8zM165.2 454.6h2.4v2.8h-2.4zM83.2 457h2.8v2.8h-2.8zM121.8 457h2.8v2.8h-2.8zM129 457h2.8v2.8h-2.8zM133.8 457h5.2v2.8h-5.2zM141.1 457h7.6v2.8h-7.6zM150.7 457h2.8v2.8h-2.8zM165.2 457h2.4v2.8h-2.4zM83.2 459.4h2.8v2.8h-2.8zM88 459.4h5.2v2.8h-5.2zM129 459.4h2.8v2.8h-2.8zM136.3 459.4h12.4v2.8h-12.4zM150.7 459.4h2.8v2.8h-2.8zM88 461.8h5.2v2.8h-5.2zM117 461.8h2.8v2.8h-2.8zM129 461.8h2.8v2.8h-2.8zM136.3 461.8h2.8v2.8h-2.8zM141.1 461.8h5.2v2.8h-5.2zM148.3 461.8h2.8v2.8h-2.8zM165.2 461.8h2.4v2.8h-2.4zM83.2 464.2h2.8v2.8h-2.8zM148.3 464.2h2.8v2.8h-2.8zM165.2 464.2h2.4v2.8h-2.4zM80.8 466.6h2.8v2.8h-2.8zM85.6 469h5.2v2.8h-5.2zM136.3 469h5.2v2.8h-5.2zM143.5 469h2.8v2.8h-2.8zM148.3 469h2.8v2.8h-2.8zM165.2 469h2.4v2.8h-2.4zM83.2 471.4h12.4v2.8h-12.4zM148.3 471.4h2.8v2.8h-2.8zM165.2 471.4h2.4v2.8h-2.4zM85.6 473.8h10v2.8h-10zM148.3 473.8h2.8v2.8h-2.8zM165.2 473.8h2.4v2.8h-2.4zM95.3 476.2h2.8v2.8h-2.8zM102.5 476.2h2.8v2.8h-2.8zM136.3 476.2h2.8v2.8h-2.8zM143.5 476.2h2.8v2.8h-2.8zM148.3 476.2h5.2v2.8h-5.2zM165.2 476.2h2.4v2.8h-2.4zM85.6 478.6h10v2.8h-10zM148.3 478.6h2.8v2.8h-2.8zM85.6 481h5.2v2.8h-5.2zM92.9 481h2.8v2.8h-2.8zM97.7 481h2.8v2.8h-2.8zM83.2 483.4h2.8v2.8h-2.8zM83.2 485.8h12.4v2.8h-12.4zM85.6 488.2h2.8v2.8h-2.8zM92.9 488.2h12.4v2.8h-12.4zM83.2 490.6h2.8v2.8h-2.8zM90.5 490.6h5.2v2.8h-5.2zM88 493h2.8v2.8h-2.8zM97.7 493h2.8v2.8h-2.8zM85.6 495.4h2.8v2.8h-2.8zM95.3 495.4h10v2.8h-10zM109.7 495.4h2.8v2.8h-2.8zM117 495.4h2.8v2.8h-2.8zM85.6 497.8h2.8v2.8h-2.8zM95.3 497.8h2.8v2.8h-2.8zM100.1 497.8h2.8v2.8h-2.8zM109.7 497.8h2.8v2.8h-2.8zM85.6 500.2h2.8v2.8h-2.8zM92.9 500.2h2.8v2.8h-2.8zM97.7 500.2h7.6v2.8h-7.6zM85.6 502.6h2.8v2.8h-2.8zM92.9 502.6h12.4v2.8h-12.4zM109.7 502.6h2.8v2.8h-2.8zM117 502.6h2.8v2.8h-2.8zM85.6 505h10v2.8h-10zM97.7 505h5.2v2.8h-5.2zM95.3 507.4h2.8v2.8h-2.8zM102.5 507.4h5.2v2.8h-5.2zM109.7 507.4h12.4v2.8h-12.4zM85.6 509.8h5.2v2.8h-5.2zM92.9 509.8h2.8v2.8h-2.8zM97.7 509.8h5.2v2.8h-5.2zM117 509.8h2.8v2.8h-2.8zM83.2 512.2h2.8v2.8h-2.8zM88 512.2h7.6v2.8h-7.6zM83.2 514.6h2.8v2.8h-2.8zM88 514.6h7.6v2.8h-7.6zM83.2 517h2.8v2.8h-2.8zM90.5 517h2.8v2.8h-2.8zM83.2 519.4h2.8v2.8h-2.8zM90.5 519.4h2.8v2.8h-2.8zM80.8 521.8h5.2v2.8h-5.2zM90.5 521.8h2.8v2.8h-2.8zM85.6 524.2h5.2v2.4h-5.2zM95.3 524.2h5.2v2.4h-5.2zM102.5 524.2h5.2v2.4h-5.2zM109.7 524.2h10v2.4h-10z" fill="#20978a"/>
<path d="M63.9 421h2.8v2.8h-2.8zM61.5 423.4h5.2v2.8h-5.2zM83.2 442.6h7.6v2.8h-7.6zM107.3 442.6h2.8v2.8h-2.8zM83.2 445h2.8v2.8h-2.8zM90.5 445h5.2v2.8h-5.2zM97.7 445h7.6v2.8h-7.6zM124.2 445h2.8v2.8h-2.8zM131.4 445h5.2v2.8h-5.2zM153.1 445h12.4v2.8h-12.4zM83.2 447.4h2.8v2.8h-2.8zM90.5 447.4h5.2v2.8h-5.2zM97.7 447.4h2.8v2.8h-2.8zM104.9 447.4h5.2v2.8h-5.2zM124.2 447.4h2.8v2.8h-2.8zM131.4 447.4h2.8v2.8h-2.8zM158 447.4h7.6v2.8h-7.6zM85.6 449.8h5.2v2.8h-5.2zM92.9 449.8h2.8v2.8h-2.8zM97.7 449.8h2.8v2.8h-2.8zM104.9 449.8h5.2v2.8h-5.2zM124.2 449.8h2.8v2.8h-2.8zM85.6 452.2h10v2.8h-10zM97.7 452.2h10v2.8h-10zM124.2 452.2h2.8v2.8h-2.8zM158 452.2h7.6v2.8h-7.6zM109.7 454.6h7.6v2.8h-7.6zM119.4 454.6h5.2v2.8h-5.2zM126.6 454.6h2.8v2.8h-2.8zM131.4 454.6h5.2v2.8h-5.2zM141.1 454.6h2.8v2.8h-2.8zM145.9 454.6h2.8v2.8h-2.8zM150.7 454.6h12.4v2.8h-12.4zM85.6 457h10v2.8h-10zM109.7 457h7.6v2.8h-7.6zM119.4 457h2.8v2.8h-2.8zM126.6 457h2.8v2.8h-2.8zM131.4 457h2.8v2.8h-2.8zM138.7 457h2.8v2.8h-2.8zM153.1 457h12.4v2.8h-12.4zM85.6 459.4h2.8v2.8h-2.8zM92.9 459.4h2.8v2.8h-2.8zM109.7 459.4h7.6v2.8h-7.6zM119.4 459.4h5.2v2.8h-5.2zM126.6 459.4h2.8v2.8h-2.8zM131.4 459.4h5.2v2.8h-5.2zM153.1 459.4h12.4v2.8h-12.4zM85.6 461.8h2.8v2.8h-2.8zM92.9 461.8h2.8v2.8h-2.8zM119.4 461.8h5.2v2.8h-5.2zM126.6 461.8h2.8v2.8h-2.8zM131.4 461.8h5.2v2.8h-5.2zM138.7 461.8h2.8v2.8h-2.8zM145.9 461.8h2.8v2.8h-2.8zM150.7 461.8h5.2v2.8h-5.2zM158 461.8h7.6v2.8h-7.6zM88 464.2h7.6v2.8h-7.6zM117 464.2h2.8v2.8h-2.8zM129 464.2h2.8v2.8h-2.8zM136.3 464.2h5.2v2.8h-5.2zM143.5 464.2h5.2v2.8h-5.2zM150.7 464.2h2.8v2.8h-2.8zM83.2 466.6h2.8v2.8h-2.8zM88 466.6h5.2v2.8h-5.2zM148.3 466.6h2.8v2.8h-2.8zM95.3 469h7.6v2.8h-7.6zM117 469h2.8v2.8h-2.8zM129 469h2.8v2.8h-2.8zM133.8 469h2.8v2.8h-2.8zM141.1 469h2.8v2.8h-2.8zM145.9 469h2.8v2.8h-2.8zM150.7 469h12.4v2.8h-12.4zM95.3 471.4h7.6v2.8h-7.6zM136.3 471.4h10v2.8h-10zM150.7 471.4h2.8v2.8h-2.8zM160.4 471.4h2.8v2.8h-2.8zM95.3 473.8h7.6v2.8h-7.6zM136.3 473.8h2.8v2.8h-2.8zM143.5 473.8h2.8v2.8h-2.8zM104.9 476.2h2.8v2.8h-2.8zM109.7 476.2h2.8v2.8h-2.8zM129 476.2h2.8v2.8h-2.8zM133.8 476.2h2.8v2.8h-2.8zM138.7 476.2h5.2v2.8h-5.2zM145.9 476.2h2.8v2.8h-2.8zM153.1 476.2h12.4v2.8h-12.4zM95.3 478.6h10v2.8h-10zM165.2 478.6h2.4v2.8h-2.4zM95.3 481h2.8v2.8h-2.8zM100.1 481h5.2v2.8h-5.2zM143.5 481h2.8v2.8h-2.8zM148.3 481h2.8v2.8h-2.8zM165.2 481h2.4v2.8h-2.4zM85.6 483.4h10v2.8h-10zM95.3 485.8h10v2.8h-10zM148.3 485.8h2.8v2.8h-2.8zM104.9 488.2h2.8v2.8h-2.8zM109.7 488.2h2.8v2.8h-2.8zM117 488.2h2.8v2.8h-2.8zM148.3 488.2h2.8v2.8h-2.8zM165.2 488.2h2.4v2.8h-2.4zM85.6 490.6h5.2v2.8h-5.2zM95.3 490.6h10v2.8h-10zM85.6 493h2.8v2.8h-2.8zM95.3 493h2.8v2.8h-2.8zM100.1 493h5.2v2.8h-5.2zM109.7 493h2.8v2.8h-2.8zM117 493h2.8v2.8h-2.8zM104.9 495.4h2.8v2.8h-2.8zM112.2 495.4h5.2v2.8h-5.2zM165.2 495.4h2.4v2.8h-2.4zM97.7 497.8h2.8v2.8h-2.8zM102.5 497.8h5.2v2.8h-5.2zM112.2 497.8h2.8v2.8h-2.8zM117 497.8h2.8v2.8h-2.8zM95.3 500.2h2.8v2.8h-2.8zM109.7 500.2h5.2v2.8h-5.2zM117 500.2h2.8v2.8h-2.8zM104.9 502.6h2.8v2.8h-2.8zM112.2 502.6h5.2v2.8h-5.2zM121.8 502.6h2.8v2.8h-2.8zM95.3 505h2.8v2.8h-2.8zM102.5 505h5.2v2.8h-5.2zM109.7 505h2.8v2.8h-2.8zM117 505h2.8v2.8h-2.8zM107.3 507.4h2.8v2.8h-2.8zM121.8 507.4h2.8v2.8h-2.8zM126.6 507.4h5.2v2.8h-5.2zM95.3 509.8h2.8v2.8h-2.8zM102.5 509.8h5.2v2.8h-5.2zM109.7 509.8h5.2v2.8h-5.2zM85.6 512.2h2.8v2.8h-2.8zM95.3 512.2h10v2.8h-10zM109.7 512.2h2.8v2.8h-2.8zM117 512.2h2.8v2.8h-2.8zM85.6 514.6h2.8v2.8h-2.8zM95.3 514.6h7.6v2.8h-7.6zM109.7 514.6h2.8v2.8h-2.8zM117 514.6h2.8v2.8h-2.8zM85.6 517h5.2v2.8h-5.2zM92.9 517h12.4v2.8h-12.4zM109.7 517h2.8v2.8h-2.8zM117 517h2.8v2.8h-2.8zM85.6 519.4h5.2v2.8h-5.2zM92.9 519.4h12.4v2.8h-12.4zM109.7 519.4h5.2v2.8h-5.2zM117 519.4h2.8v2.8h-2.8zM85.6 521.8h5.2v2.8h-5.2zM92.9 521.8h2.8v2.8h-2.8zM97.7 521.8h7.6v2.8h-7.6zM117 521.8h2.8v2.8h-2.8zM119.4 524.2h5.2v2.4h-5.2zM129 524.2h2.8v2.4h-2.8zM136.3 524.2h2.8v2.4h-2.8z" fill="#25a584"/>
<path d="M88 445h2.8v2.8h-2.8zM95.3 445h2.8v2.8h-2.8zM104.9 445h5.2v2.8h-5.2zM85.6 447.4h5.2v2.8h-5.2zM95.3 447.4h2.8v2.8h-2.8zM95.3 449.8h2.8v2.8h-2.8zM95.3 452.2h2.8v2.8h-2.8zM107.3 452.2h2.8v2.8h-2.8zM85.6 454.6h10v2.8h-10zM100.1 454.6h2.8v2.8h-2.8zM104.9 454.6h2.8v2.8h-2.8zM124.2 454.6h2.8v2.8h-2.8zM162.8 454.6h2.8v2.8h-2.8zM100.1 457h7.6v2.8h-7.6zM124.2 457h2.8v2.8h-2.8zM95.3 459.4h10v2.8h-10zM124.2 459.4h2.8v2.8h-2.8zM97.7 461.8h5.2v2.8h-5.2zM109.7 461.8h7.6v2.8h-7.6zM124.2 461.8h2.8v2.8h-2.8zM155.5 461.8h2.8v2.8h-2.8zM85.6 464.2h2.8v2.8h-2.8zM95.3 464.2h5.2v2.8h-5.2zM121.8 464.2h2.8v2.8h-2.8zM126.6 464.2h2.8v2.8h-2.8zM133.8 464.2h2.8v2.8h-2.8zM141.1 464.2h2.8v2.8h-2.8zM153.1 464.2h12.4v2.8h-12.4zM85.6 466.6h2.8v2.8h-2.8zM92.9 466.6h2.8v2.8h-2.8zM129 466.6h2.8v2.8h-2.8zM136.3 466.6h2.8v2.8h-2.8zM141.1 466.6h5.2v2.8h-5.2zM150.7 466.6h2.8v2.8h-2.8zM165.2 466.6h2.4v2.8h-2.4zM102.5 469h2.8v2.8h-2.8zM114.6 469h2.8v2.8h-2.8zM119.4 469h5.2v2.8h-5.2zM126.6 469h2.8v2.8h-2.8zM131.4 469h2.8v2.8h-2.8zM162.8 469h2.8v2.8h-2.8zM102.5 471.4h2.8v2.8h-2.8zM117 471.4h2.8v2.8h-2.8zM129 471.4h2.8v2.8h-2.8zM133.8 471.4h2.8v2.8h-2.8zM145.9 471.4h2.8v2.8h-2.8zM153.1 471.4h7.6v2.8h-7.6zM162.8 471.4h2.8v2.8h-2.8zM102.5 473.8h2.8v2.8h-2.8zM109.7 473.8h2.8v2.8h-2.8zM117 473.8h2.8v2.8h-2.8zM129 473.8h2.8v2.8h-2.8zM133.8 473.8h2.8v2.8h-2.8zM138.7 473.8h5.2v2.8h-5.2zM145.9 473.8h2.8v2.8h-2.8zM150.7 473.8h14.8v2.8h-14.8zM112.2 476.2h7.6v2.8h-7.6zM126.6 476.2h2.8v2.8h-2.8zM131.4 476.2h2.8v2.8h-2.8zM109.7 478.6h2.8v2.8h-2.8zM136.3 478.6h12.4v2.8h-12.4zM150.7 478.6h12.4v2.8h-12.4zM104.9 481h2.8v2.8h-2.8zM109.7 481h2.8v2.8h-2.8zM136.3 481h2.8v2.8h-2.8zM150.7 481h2.8v2.8h-2.8zM155.5 481h5.2v2.8h-5.2zM162.8 481h2.8v2.8h-2.8zM95.3 483.4h10v2.8h-10zM148.3 483.4h2.8v2.8h-2.8zM165.2 483.4h2.4v2.8h-2.4zM104.9 485.8h2.8v2.8h-2.8zM109.7 485.8h2.8v2.8h-2.8zM117 485.8h2.8v2.8h-2.8zM165.2 485.8h2.4v2.8h-2.4zM107.3 488.2h2.8v2.8h-2.8zM112.2 488.2h5.2v2.8h-5.2zM150.7 488.2h2.8v2.8h-2.8zM155.5 488.2h5.2v2.8h-5.2zM162.8 488.2h2.8v2.8h-2.8zM109.7 490.6h2.8v2.8h-2.8zM117 490.6h2.8v2.8h-2.8zM165.2 490.6h2.4v2.8h-2.4zM104.9 493h2.8v2.8h-2.8zM112.2 493h5.2v2.8h-5.2zM148.3 493h2.8v2.8h-2.8zM165.2 493h2.4v2.8h-2.4zM107.3 495.4h2.8v2.8h-2.8zM119.4 495.4h5.2v2.8h-5.2zM148.3 495.4h2.8v2.8h-2.8zM114.6 497.8h2.8v2.8h-2.8zM119.4 497.8h2.8v2.8h-2.8zM165.2 497.8h2.4v2.8h-2.4zM104.9 500.2h5.2v2.8h-5.2zM114.6 500.2h2.8v2.8h-2.8zM119.4 500.2h2.8v2.8h-2.8zM107.3 502.6h2.8v2.8h-2.8zM119.4 502.6h2.8v2.8h-2.8zM112.2 505h5.2v2.8h-5.2zM119.4 505h2.8v2.8h-2.8zM124.2 507.4h2.8v2.8h-2.8zM133.8 507.4h5.2v2.8h-5.2zM165.2 507.4h2.4v2.8h-2.4zM107.3 509.8h2.8v2.8h-2.8zM114.6 509.8h2.8v2.8h-2.8zM119.4 509.8h5.2v2.8h-5.2zM129 509.8h2.8v2.8h-2.8zM104.9 512.2h2.8v2.8h-2.8zM112.2 512.2h5.2v2.8h-5.2zM119.4 512.2h2.8v2.8h-2.8zM102.5 514.6h5.2v2.8h-5.2zM112.2 514.6h5.2v2.8h-5.2zM119.4 514.6h5.2v2.8h-5.2zM129 514.6h2.8v2.8h-2.8zM104.9 517h2.8v2.8h-2.8zM112.2 517h5.2v2.8h-5.2zM119.4 517h5.2v2.8h-5.2zM129 517h2.8v2.8h-2.8zM104.9 519.4h2.8v2.8h-2.8zM114.6 519.4h2.8v2.8h-2.8zM119.4 519.4h2.8v2.8h-2.8zM95.3 521.8h2.8v2.8h-2.8zM104.9 521.8h2.8v2.8h-2.8zM109.7 521.8h7.6v2.8h-7.6zM121.8 521.8h2.8v2.8h-2.8zM129 521.8h2.8v2.8h-2.8zM107.3 524.2h2.8v2.4h-2.8zM124.2 524.2h5.2v2.4h-5.2zM131.4 524.2h5.2v2.4h-5.2zM138.7 524.2h2.8v2.4h-2.8zM148.3 524.2h2.8v2.4h-2.8z" fill="#31b37b"/>
<path d="M95.3 454.6h5.2v2.8h-5.2zM102.5 454.6h2.8v2.8h-2.8zM107.3 454.6h2.8v2.8h-2.8zM95.3 457h5.2v2.8h-5.2zM107.3 457h2.8v2.8h-2.8zM104.9 459.4h5.2v2.8h-5.2zM95.3 461.8h2.8v2.8h-2.8zM104.9 461.8h2.8v2.8h-2.8zM100.1 464.2h5.2v2.8h-5.2zM109.7 464.2h7.6v2.8h-7.6zM119.4 464.2h2.8v2.8h-2.8zM131.4 464.2h2.8v2.8h-2.8zM95.3 466.6h7.6v2.8h-7.6zM117 466.6h2.8v2.8h-2.8zM121.8 466.6h2.8v2.8h-2.8zM133.8 466.6h2.8v2.8h-2.8zM138.7 466.6h2.8v2.8h-2.8zM145.9 466.6h2.8v2.8h-2.8zM153.1 466.6h10v2.8h-10zM104.9 469h2.8v2.8h-2.8zM109.7 469h5.2v2.8h-5.2zM124.2 469h2.8v2.8h-2.8zM104.9 471.4h2.8v2.8h-2.8zM109.7 471.4h2.8v2.8h-2.8zM114.6 471.4h2.8v2.8h-2.8zM119.4 471.4h5.2v2.8h-5.2zM126.6 471.4h2.8v2.8h-2.8zM131.4 471.4h2.8v2.8h-2.8zM104.9 473.8h2.8v2.8h-2.8zM112.2 473.8h2.8v2.8h-2.8zM121.8 473.8h2.8v2.8h-2.8zM126.6 473.8h2.8v2.8h-2.8zM131.4 473.8h2.8v2.8h-2.8zM107.3 476.2h2.8v2.8h-2.8zM119.4 476.2h5.2v2.8h-5.2zM104.9 478.6h2.8v2.8h-2.8zM112.2 478.6h2.8v2.8h-2.8zM117 478.6h2.8v2.8h-2.8zM129 478.6h2.8v2.8h-2.8zM133.8 478.6h2.8v2.8h-2.8zM162.8 478.6h2.8v2.8h-2.8zM107.3 481h2.8v2.8h-2.8zM112.2 481h7.6v2.8h-7.6zM129 481h2.8v2.8h-2.8zM133.8 481h2.8v2.8h-2.8zM138.7 481h5.2v2.8h-5.2zM145.9 481h2.8v2.8h-2.8zM153.1 481h2.8v2.8h-2.8zM160.4 481h2.8v2.8h-2.8zM109.7 483.4h2.8v2.8h-2.8zM150.7 483.4h2.8v2.8h-2.8zM112.2 485.8h5.2v2.8h-5.2zM136.3 485.8h2.8v2.8h-2.8zM143.5 485.8h5.2v2.8h-5.2zM150.7 485.8h2.8v2.8h-2.8zM158 485.8h2.8v2.8h-2.8zM119.4 488.2h5.2v2.8h-5.2zM136.3 488.2h12.4v2.8h-12.4zM153.1 488.2h2.8v2.8h-2.8zM160.4 488.2h2.8v2.8h-2.8zM104.9 490.6h2.8v2.8h-2.8zM112.2 490.6h5.2v2.8h-5.2zM148.3 490.6h2.8v2.8h-2.8zM107.3 493h2.8v2.8h-2.8zM119.4 493h5.2v2.8h-5.2zM126.6 495.4h5.2v2.8h-5.2zM143.5 495.4h2.8v2.8h-2.8zM150.7 495.4h2.8v2.8h-2.8zM155.5 495.4h10v2.8h-10zM107.3 497.8h2.8v2.8h-2.8zM121.8 497.8h2.8v2.8h-2.8zM129 497.8h2.8v2.8h-2.8zM148.3 497.8h2.8v2.8h-2.8zM121.8 500.2h2.8v2.8h-2.8zM129 500.2h2.8v2.8h-2.8zM165.2 500.2h2.4v2.8h-2.4zM126.6 502.6h5.2v2.8h-5.2zM136.3 502.6h2.8v2.8h-2.8zM165.2 502.6h2.4v2.8h-2.4zM107.3 505h2.8v2.8h-2.8zM121.8 505h2.8v2.8h-2.8zM126.6 505h5.2v2.8h-5.2zM165.2 505h2.4v2.8h-2.4zM131.4 507.4h2.8v2.8h-2.8zM138.7 507.4h2.8v2.8h-2.8zM124.2 509.8h5.2v2.8h-5.2zM136.3 509.8h2.8v2.8h-2.8zM107.3 512.2h2.8v2.8h-2.8zM121.8 512.2h2.8v2.8h-2.8zM129 512.2h2.8v2.8h-2.8zM107.3 514.6h2.8v2.8h-2.8zM136.3 514.6h2.8v2.8h-2.8zM107.3 517h2.8v2.8h-2.8zM126.6 517h2.8v2.8h-2.8zM136.3 517h2.8v2.8h-2.8zM107.3 519.4h2.8v2.8h-2.8zM121.8 519.4h2.8v2.8h-2.8zM129 519.4h2.8v2.8h-2.8zM136.3 519.4h2.8v2.8h-2.8zM119.4 521.8h2.8v2.8h-2.8zM136.3 521.8h2.8v2.8h-2.8zM141.1 524.2h7.6v2.4h-7.6z" fill="#47be6e"/>
<path d="M85.6 445h2.8v2.8h-2.8zM102.5 461.8h2.8v2.8h-2.8zM107.3 461.8h2.8v2.8h-2.8zM124.2 464.2h2.8v2.8h-2.8zM102.5 466.6h2.8v2.8h-2.8zM109.7 466.6h2.8v2.8h-2.8zM114.6 466.6h2.8v2.8h-2.8zM119.4 466.6h2.8v2.8h-2.8zM124.2 466.6h5.2v2.8h-5.2zM131.4 466.6h2.8v2.8h-2.8zM162.8 466.6h2.8v2.8h-2.8zM107.3 469h2.8v2.8h-2.8zM112.2 471.4h2.8v2.8h-2.8zM124.2 471.4h2.8v2.8h-2.8zM107.3 473.8h2.8v2.8h-2.8zM114.6 473.8h2.8v2.8h-2.8zM119.4 473.8h2.8v2.8h-2.8zM124.2 473.8h2.8v2.8h-2.8zM124.2 476.2h2.8v2.8h-2.8zM107.3 478.6h2.8v2.8h-2.8zM114.6 478.6h2.8v2.8h-2.8zM126.6 478.6h2.8v2.8h-2.8zM131.4 478.6h2.8v2.8h-2.8zM126.6 481h2.8v2.8h-2.8zM104.9 483.4h5.2v2.8h-5.2zM112.2 483.4h7.6v2.8h-7.6zM136.3 483.4h5.2v2.8h-5.2zM143.5 483.4h5.2v2.8h-5.2zM153.1 483.4h10v2.8h-10zM107.3 485.8h2.8v2.8h-2.8zM119.4 485.8h5.2v2.8h-5.2zM138.7 485.8h5.2v2.8h-5.2zM153.1 485.8h5.2v2.8h-5.2zM160.4 485.8h5.2v2.8h-5.2zM129 488.2h2.8v2.8h-2.8zM133.8 488.2h2.8v2.8h-2.8zM107.3 490.6h2.8v2.8h-2.8zM119.4 490.6h2.8v2.8h-2.8zM150.7 490.6h2.8v2.8h-2.8zM158 490.6h7.6v2.8h-7.6zM129 493h2.8v2.8h-2.8zM143.5 493h5.2v2.8h-5.2zM150.7 493h2.8v2.8h-2.8zM155.5 493h10v2.8h-10zM124.2 495.4h2.8v2.8h-2.8zM136.3 495.4h2.8v2.8h-2.8zM141.1 495.4h2.8v2.8h-2.8zM145.9 495.4h2.8v2.8h-2.8zM153.1 495.4h2.8v2.8h-2.8zM124.2 497.8h5.2v2.8h-5.2zM155.5 497.8h2.8v2.8h-2.8zM160.4 497.8h2.8v2.8h-2.8zM126.6 500.2h2.8v2.8h-2.8zM136.3 500.2h2.8v2.8h-2.8zM148.3 500.2h2.8v2.8h-2.8zM160.4 500.2h5.2v2.8h-5.2zM124.2 502.6h2.8v2.8h-2.8zM133.8 502.6h2.8v2.8h-2.8zM148.3 502.6h2.8v2.8h-2.8zM162.8 502.6h2.8v2.8h-2.8zM124.2 505h2.8v2.8h-2.8zM133.8 505h5.2v2.8h-5.2zM141.1 507.4h5.2v2.8h-5.2zM148.3 507.4h5.2v2.8h-5.2zM160.4 507.4h5.2v2.8h-5.2zM131.4 509.8h5.2v2.8h-5.2zM148.3 509.8h2.8v2.8h-2.8zM165.2 509.8h2.4v2.8h-2.4zM124.2 512.2h5.2v2.8h-5.2zM136.3 512.2h2.8v2.8h-2.8zM124.2 514.6h5.2v2.8h-5.2zM133.8 514.6h2.8v2.8h-2.8zM138.7 514.6h2.8v2.8h-2.8zM124.2 517h2.8v2.8h-2.8zM131.4 517h5.2v2.8h-5.2zM124.2 519.4h5.2v2.8h-5.2zM131.4 519.4h5.2v2.8h-5.2zM138.7 519.4h5.2v2.8h-5.2zM148.3 519.4h2.8v2.8h-2.8zM107.3 521.8h2.8v2.8h-2.8zM126.6 521.8h2.8v2.8h-2.8zM131.4 521.8h5.2v2.8h-5.2zM141.1 521.8h5.2v2.8h-5.2zM148.3 521.8h2.8v2.8h-2.8zM150.7 524.2h2.8v2.4h-2.8z" fill="#66ca5c"/>
<path d="M112.2 466.6h2.8v2.8h-2.8zM107.3 471.4h2.8v2.8h-2.8zM119.4 478.6h7.6v2.8h-7.6zM119.4 481h5.2v2.8h-5.2zM131.4 481h2.8v2.8h-2.8zM119.4 483.4h2.8v2.8h-2.8zM129 483.4h2.8v2.8h-2.8zM133.8 483.4h2.8v2.8h-2.8zM141.1 483.4h2.8v2.8h-2.8zM162.8 483.4h2.8v2.8h-2.8zM129 485.8h2.8v2.8h-2.8zM133.8 485.8h2.8v2.8h-2.8zM124.2 488.2h5.2v2.8h-5.2zM121.8 490.6h2.8v2.8h-2.8zM136.3 490.6h2.8v2.8h-2.8zM141.1 490.6h7.6v2.8h-7.6zM153.1 490.6h5.2v2.8h-5.2zM124.2 493h5.2v2.8h-5.2zM136.3 493h2.8v2.8h-2.8zM141.1 493h2.8v2.8h-2.8zM153.1 493h2.8v2.8h-2.8zM131.4 495.4h5.2v2.8h-5.2zM138.7 495.4h2.8v2.8h-2.8zM136.3 497.8h2.8v2.8h-2.8zM141.1 497.8h7.6v2.8h-7.6zM150.7 497.8h5.2v2.8h-5.2zM158 497.8h2.8v2.8h-2.8zM162.8 497.8h2.8v2.8h-2.8zM124.2 500.2h2.8v2.8h-2.8zM131.4 500.2h5.2v2.8h-5.2zM138.7 500.2h2.8v2.8h-2.8zM150.7 500.2h10v2.8h-10zM131.4 502.6h2.8v2.8h-2.8zM138.7 502.6h2.8v2.8h-2.8zM150.7 502.6h12.4v2.8h-12.4zM131.4 505h2.8v2.8h-2.8zM138.7 505h2.8v2.8h-2.8zM148.3 505h2.8v2.8h-2.8zM145.9 507.4h2.8v2.8h-2.8zM155.5 507.4h5.2v2.8h-5.2zM138.7 509.8h7.6v2.8h-7.6zM131.4 512.2h5.2v2.8h-5.2zM138.7 512.2h7.6v2.8h-7.6zM165.2 512.2h2.4v2.8h-2.4zM131.4 514.6h2.8v2.8h-2.8zM141.1 514.6h5.2v2.8h-5.2zM148.3 514.6h2.8v2.8h-2.8zM138.7 517h7.6v2.8h-7.6zM148.3 517h2.8v2.8h-2.8zM143.5 519.4h2.8v2.8h-2.8zM124.2 521.8h2.8v2.8h-2.8zM138.7 521.8h2.8v2.8h-2.8zM153.1 524.2h2.8v2.4h-2.8z" fill="#86d348"/>
<path d="M104.9 464.2h5.2v2.8h-5.2zM104.9 466.6h2.8v2.8h-2.8zM124.2 481h2.8v2.8h-2.8zM121.8 483.4h2.8v2.8h-2.8zM131.4 485.8h2.8v2.8h-2.8zM131.4 488.2h2.8v2.8h-2.8zM126.6 490.6h5.2v2.8h-5.2zM138.7 490.6h2.8v2.8h-2.8zM138.7 493h2.8v2.8h-2.8zM131.4 497.8h5.2v2.8h-5.2zM141.1 500.2h7.6v2.8h-7.6zM141.1 502.6h2.8v2.8h-2.8zM145.9 502.6h2.8v2.8h-2.8zM141.1 505h5.2v2.8h-5.2zM155.5 505h10v2.8h-10zM153.1 507.4h2.8v2.8h-2.8zM160.4 509.8h2.8v2.8h-2.8zM148.3 512.2h2.8v2.8h-2.8zM145.9 514.6h2.8v2.8h-2.8zM165.2 514.6h2.4v2.8h-2.4zM145.9 517h2.8v2.8h-2.8zM165.2 517h2.4v2.8h-2.4zM145.9 519.4h2.8v2.8h-2.8zM150.7 519.4h2.8v2.8h-2.8zM165.2 519.4h2.4v2.8h-2.4zM145.9 521.8h2.8v2.8h-2.8zM155.5 524.2h7.6v2.4h-7.6z" fill="#addc2f"/>
<path d="M131.4 483.4h2.8v2.8h-2.8zM126.6 485.8h2.8v2.8h-2.8zM124.2 490.6h2.8v2.8h-2.8zM133.8 490.6h2.8v2.8h-2.8zM131.4 493h5.2v2.8h-5.2zM138.7 497.8h2.8v2.8h-2.8zM143.5 502.6h2.8v2.8h-2.8zM150.7 505h5.2v2.8h-5.2zM145.9 509.8h2.8v2.8h-2.8zM150.7 509.8h2.8v2.8h-2.8zM155.5 509.8h5.2v2.8h-5.2zM162.8 509.8h2.8v2.8h-2.8zM145.9 512.2h2.8v2.8h-2.8zM150.7 514.6h2.8v2.8h-2.8zM150.7 517h2.8v2.8h-2.8zM150.7 521.8h2.8v2.8h-2.8zM165.2 524.2h2.4v2.4h-2.4z" fill="#d0e129"/>
<path d="M107.3 466.6h2.8v2.8h-2.8zM124.2 483.4h5.2v2.8h-5.2zM124.2 485.8h2.8v2.8h-2.8zM131.4 490.6h2.8v2.8h-2.8zM145.9 505h2.8v2.8h-2.8zM153.1 509.8h2.8v2.8h-2.8zM150.7 512.2h14.8v2.8h-14.8zM153.1 514.6h12.4v2.8h-12.4zM153.1 517h12.4v2.8h-12.4zM153.1 519.4h12.4v2.8h-12.4zM153.1 521.8h14.5v2.8h-14.5zM162.8 524.2h2.8v2.4h-2.8z" fill="#fde725"/>
<path d="M32.6 392.2h2.4v2.4h-2.4zM35 394.6h2.4v2.4h-2.4zM37.4 397h2.4v2.4h-2.4zM39.8 399.4h2.4v2.4h-2.4zM42.2 401.8h2.4v2.4h-2.4zM44.7 404.2h2.4v2.4h-2.4zM47.1 406.6h2.4v2.4h-2.4zM49.5 409h2.4v2.4h-2.4zM51.9 411.4h2.4v2.4h-2.4zM54.3 413.8h2.4v2.4h-2.4zM56.7 416.2h2.4v2.4h-2.4zM59.1 418.6h2.4v2.4h-2.4zM61.5 421h2.4v2.4h-2.4zM63.9 423.4h2.4v2.4h-2.4zM66.3 425.8h2.4v2.4h-2.4zM68.8 428.2h2.4v2.4h-2.4zM71.2 430.6h2.4v2.4h-2.4zM73.6 433h2.4v2.4h-2.4zM76 435.4h2.4v2.4h-2.4zM78.4 437.8h2.4v2.4h-2.4zM80.8 440.2h2.4v2.4h-2.4zM83.2 442.6h2.4v2.4h-2.4zM85.6 445h2.4v2.4h-2.4zM88 447.4h2.4v2.4h-2.4zM90.5 449.8h2.4v2.4h-2.4zM92.9 452.2h2.4v2.4h-2.4zM95.3 454.6h2.4v2.4h-2.4zM97.7 457h2.4v2.4h-2.4zM100.1 459.4h2.4v2.4h-2.4zM102.5 461.8h2.4v2.4h-2.4zM104.9 464.2h2.4v2.4h-2.4zM107.3 466.6h2.4v2.4h-2.4zM109.7 469h2.4v2.4h-2.4zM112.2 471.4h2.4v2.4h-2.4zM114.6 473.8h2.4v2.4h-2.4zM117 476.2h2.4v2.4h-2.4zM119.4 478.6h2.4v2.4h-2.4zM121.8 481h2.4v2.4h-2.4zM124.2 483.4h2.4v2.4h-2.4zM126.6 485.8h2.4v2.4h-2.4zM129 488.2h2.4v2.4h-2.4zM131.4 490.6h2.4v2.4h-2.4zM133.8 493h2.4v2.4h-2.4zM136.3 495.4h2.4v2.4h-2.4zM138.7 497.8h2.4v2.4h-2.4zM141.1 500.2h2.4v2.4h-2.4zM143.5 502.6h2.4v2.4h-2.4zM145.9 505h2.4v2.4h-2.4zM148.3 507.4h2.4v2.4h-2.4zM150.7 509.8h2.4v2.4h-2.4zM153.1 512.2h2.4v2.4h-2.4zM155.5 514.6h2.4v2.4h-2.4zM158 517h2.4v2.4h-2.4zM160.4 519.4h2.4v2.4h-2.4zM162.8 521.8h2.4v2.4h-2.4zM165.2 524.2h2.4v2.4h-2.4z" fill="#fff"/>
<rect x="67.8" y="427.4" width="2.4" height="2.4" fill="#e0301e"/>
<path d="M32 391.6L32 527.2" stroke="#000" stroke-width="1.2"/>
<path d="M31.4 526.8L168 526.8" stroke="#000" stroke-width="1.2"/>
<rect x="623.8" y="386.8" width="255.2" height="255.2" fill="#451264"/>
<path d="M640.2 386.8h2.7v2.7h-2.7zM689.4 386.8h26.1v2.7h-26.1zM752.6 386.8h37.8v2.7h-37.8zM815.8 386.8h12.1v2.7h-12.1zM626.1 389.1h2.7v2.7h-2.7zM633.2 389.1h7.4v2.7h-7.4zM689.4 389.1h7.4v2.7h-7.4zM698.7 389.1h2.7v2.7h-2.7zM705.7 389.1h2.7v2.7h-2.7zM750.2 389.1h40.2v2.7h-40.2zM815.8 389.1h12.1v2.7h-12.1zM640.2 391.5h2.7v2.7h-2.7zM689.4 391.5h14.4v2.7h-14.4zM705.7 391.5h9.7v2.7h-9.7zM717.5 391.5h2.7v2.7h-2.7zM750.2 391.5h40.2v2.7h-40.2zM815.8 391.5h12.1v2.7h-12.1zM640.2 393.8h2.7v2.7h-2.7zM689.4 393.8h26.1v2.7h-26.1zM717.5 393.8h2.7v2.7h-2.7zM750.2 393.8h40.2v2.7h-40.2zM815.8 393.8h12.1v2.7h-12.1zM626.1 396.2h2.7v2.7h-2.7zM640.2 396.2h2.7v2.7h-2.7zM689.4 396.2h14.4v2.7h-14.4zM705.7 396.2h9.7v2.7h-9.7zM717.5 396.2h2.7v2.7h-2.7zM750.2 396.2h40.2v2.7h-40.2zM815.8 396.2h12.1v2.7h-12.1zM626.1 398.5h2.7v2.7h-2.7zM640.2 398.5h2.7v2.7h-2.7zM689.4 398.5h14.4v2.7h-14.4zM705.7 398.5h9.7v2.7h-9.7zM717.5 398.5h2.7v2.7h-2.7zM750.2 398.5h40.2v2.7h-40.2zM815.8 398.5h12.1v2.7h-12.1zM626.1 400.8h2.7v2.7h-2.7zM640.2 400.8h2.7v2.7h-2.7zM689.4 400.8h26.1v2.7h-26.1zM717.5 400.8h2.7v2.7h-2.7zM754.9 400.8h35.5v2.7h-35.5zM820.5 400.8h7.4v2.7h-7.4zM623.8 403.2h2.7v2.7h-2.7zM628.5 403.2h12.1v2.7h-12.1zM647.2 403.2h5v2.7h-5zM663.6 403.2h5v2.7h-5zM675.3 403.2h5v2.7h-5zM682.3 403.2h5v2.7h-5zM722.1 405.5h28.4v2.7h-28.4zM797.1 405.5h7.4v2.7h-7.4zM806.4 405.5h7.4v2.7h-7.4zM827.5 405.5h30.8v2.7h-30.8zM860.3 405.5h9.7v2.7h-9.7zM874.3 405.5h4.7v2.7h-4.7zM722.1 407.9h19.1v2.7h-19.1zM743.2 407.9h2.7v2.7h-2.7zM792.4 407.9h2.7v2.7h-2.7zM797.1 407.9h16.7v2.7h-16.7zM827.5 407.9h23.8v2.7h-23.8zM640.2 410.2h2.7v2.7h-2.7zM719.8 410.2h5v2.7h-5zM790 410.2h2.7v2.7h-2.7zM794.7 410.2h2.7v2.7h-2.7zM804.1 410.2h2.7v2.7h-2.7zM813.4 410.2h2.7v2.7h-2.7zM827.5 410.2h7.4v2.7h-7.4zM640.2 412.6h2.7v2.7h-2.7zM719.8 412.6h2.7v2.7h-2.7zM790 412.6h2.7v2.7h-2.7zM794.7 412.6h2.7v2.7h-2.7zM804.1 412.6h2.7v2.7h-2.7zM813.4 412.6h2.7v2.7h-2.7zM719.8 414.9h2.7v2.7h-2.7zM790 414.9h2.7v2.7h-2.7zM794.7 414.9h2.7v2.7h-2.7zM804.1 414.9h2.7v2.7h-2.7zM813.4 414.9h2.7v2.7h-2.7zM827.5 414.9h2.7v2.7h-2.7zM719.8 417.2h2.7v2.7h-2.7zM790 417.2h2.7v2.7h-2.7zM794.7 417.2h2.7v2.7h-2.7zM804.1 417.2h2.7v2.7h-2.7zM813.4 417.2h2.7v2.7h-2.7zM719.8 419.6h5v2.7h-5zM790 419.6h2.7v2.7h-2.7zM794.7 419.6h2.7v2.7h-2.7zM804.1 419.6h2.7v2.7h-2.7zM813.4 419.6h2.7v2.7h-2.7zM719.8 421.9h2.7v2.7h-2.7zM790 421.9h2.7v2.7h-2.7zM794.7 421.9h2.7v2.7h-2.7zM804.1 421.9h2.7v2.7h-2.7zM813.4 421.9h2.7v2.7h-2.7zM719.8 424.3h2.7v2.7h-2.7zM790 424.3h2.7v2.7h-2.7zM794.7 424.3h2.7v2.7h-2.7zM804.1 424.3h2.7v2.7h-2.7zM813.4 424.3h2.7v2.7h-2.7zM640.2 426.6h2.7v2.7h-2.7zM719.8 426.6h2.7v2.7h-2.7zM790 426.6h2.7v2.7h-2.7zM794.7 426.6h2.7v2.7h-2.7zM804.1 426.6h2.7v2.7h-2.7zM813.4 426.6h2.7v2.7h-2.7zM640.2 428.9h2.7v2.7h-2.7zM719.8 428.9h2.7v2.7h-2.7zM790 428.9h2.7v2.7h-2.7zM794.7 428.9h2.7v2.7h-2.7zM804.1 428.9h2.7v2.7h-2.7zM813.4 428.9h2.7v2.7h-2.7zM719.8 431.3h2.7v2.7h-2.7zM790 431.3h2.7v2.7h-2.7zM794.7 431.3h2.7v2.7h-2.7zM804.1 431.3h2.7v2.7h-2.7zM813.4 431.3h2.7v2.7h-2.7zM719.8 433.6h2.7v2.7h-2.7zM790 433.6h2.7v2.7h-2.7zM794.7 433.6h2.7v2.7h-2.7zM804.1 433.6h2.7v2.7h-2.7zM813.4 433.6h2.7v2.7h-2.7zM719.8 436h2.7v2.7h-2.7zM790 436h2.7v2.7h-2.7zM794.7 436h2.7v2.7h-2.7zM804.1 436h2.7v2.7h-2.7zM813.4 436h2.7v2.7h-2.7zM640.2 438.3h2.7v2.7h-2.7zM719.8 438.3h2.7v2.7h-2.7zM790 438.3h2.7v2.7h-2.7zM794.7 438.3h2.7v2.7h-2.7zM804.1 438.3h2.7v2.7h-2.7zM813.4 438.3h2.7v2.7h-2.7zM640.2 440.6h2.7v2.7h-2.7zM719.8 440.6h2.7v2.7h-2.7zM790 440.6h2.7v2.7h-2.7zM794.7 440.6h2.7v2.7h-2.7zM804.1 440.6h2.7v2.7h-2.7zM813.4 440.6h2.7v2.7h-2.7zM719.8 443h2.7v2.7h-2.7zM790 443h2.7v2.7h-2.7zM794.7 443h2.7v2.7h-2.7zM804.1 443h2.7v2.7h-2.7zM813.4 443h2.7v2.7h-2.7zM640.2 445.3h2.7v2.7h-2.7zM719.8 445.3h2.7v2.7h-2.7zM790 445.3h2.7v2.7h-2.7zM794.7 445.3h2.7v2.7h-2.7zM804.1 445.3h2.7v2.7h-2.7zM813.4 445.3h2.7v2.7h-2.7zM640.2 447.7h2.7v2.7h-2.7zM790 447.7h2.7v2.7h-2.7zM794.7 447.7h2.7v2.7h-2.7zM804.1 447.7h2.7v2.7h-2.7zM813.4 447.7h2.7v2.7h-2.7zM719.8 450h2.7v2.7h-2.7zM790 450h2.7v2.7h-2.7zM794.7 450h2.7v2.7h-2.7zM804.1 450h2.7v2.7h-2.7zM813.4 450h2.7v2.7h-2.7zM623.8 452.4h16.7v2.7h-16.7zM719.8 452.4h2.7v2.7h-2.7zM785.3 452.4h7.4v2.7h-7.4zM813.4 452.4h2.7v2.7h-2.7zM825.2 452.4h2.7v2.7h-2.7zM623.8 454.7h16.7v2.7h-16.7zM719.8 454.7h2.7v2.7h-2.7zM783 454.7h9.7v2.7h-9.7zM825.2 454.7h2.7v2.7h-2.7zM623.8 457h16.7v2.7h-16.7zM719.8 457h2.7v2.7h-2.7zM764.3 457h2.7v2.7h-2.7zM769 457h2.7v2.7h-2.7zM776 457h7.4v2.7h-7.4zM785.3 457h7.4v2.7h-7.4zM822.8 457h5v2.7h-5zM623.8 459.4h2.7v2.7h-2.7zM628.5 459.4h12.1v2.7h-12.1zM719.8 459.4h2.7v2.7h-2.7zM761.9 459.4h5v2.7h-5zM769 459.4h5v2.7h-5zM776 459.4h5v2.7h-5zM783 459.4h7.4v2.7h-7.4zM820.5 459.4h7.4v2.7h-7.4zM623.8 461.7h16.7v2.7h-16.7zM719.8 461.7h2.7v2.7h-2.7zM787.7 461.7h5v2.7h-5zM825.2 461.7h2.7v2.7h-2.7zM623.8 464.1h2.7v2.7h-2.7zM628.5 464.1h12.1v2.7h-12.1zM719.8 464.1h2.7v2.7h-2.7zM771.3 464.1h2.7v2.7h-2.7zM776 464.1h5v2.7h-5zM785.3 464.1h7.4v2.7h-7.4zM813.4 464.1h2.7v2.7h-2.7zM825.2 464.1h2.7v2.7h-2.7zM623.8 466.4h2.7v2.7h-2.7zM630.8 466.4h2.7v2.7h-2.7zM637.8 466.4h2.7v2.7h-2.7zM719.8 466.4h2.7v2.7h-2.7zM752.6 466.4h5v2.7h-5zM759.6 466.4h2.7v2.7h-2.7zM764.3 466.4h26.1v2.7h-26.1zM820.5 466.4h7.4v2.7h-7.4zM623.8 468.7h16.7v2.7h-16.7zM719.8 468.7h2.7v2.7h-2.7zM754.9 468.7h2.7v2.7h-2.7zM764.3 468.7h2.7v2.7h-2.7zM771.3 468.7h2.7v2.7h-2.7zM776 468.7h2.7v2.7h-2.7zM785.3 468.7h7.4v2.7h-7.4zM813.4 468.7h2.7v2.7h-2.7zM825.2 468.7h2.7v2.7h-2.7zM623.8 471.1h2.7v2.7h-2.7zM628.5 471.1h12.1v2.7h-12.1zM719.8 471.1h2.7v2.7h-2.7zM754.9 471.1h2.7v2.7h-2.7zM764.3 471.1h2.7v2.7h-2.7zM769 471.1h5v2.7h-5zM776 471.1h5v2.7h-5zM785.3 471.1h5v2.7h-5zM813.4 471.1h2.7v2.7h-2.7zM822.8 471.1h5v2.7h-5zM623.8 473.4h2.7v2.7h-2.7zM628.5 473.4h12.1v2.7h-12.1zM719.8 473.4h2.7v2.7h-2.7zM769 473.4h2.7v2.7h-2.7zM776 473.4h2.7v2.7h-2.7zM785.3 473.4h5v2.7h-5zM813.4 473.4h2.7v2.7h-2.7zM825.2 473.4h2.7v2.7h-2.7zM623.8 475.8h2.7v2.7h-2.7zM628.5 475.8h12.1v2.7h-12.1zM719.8 475.8h2.7v2.7h-2.7zM754.9 475.8h2.7v2.7h-2.7zM759.6 475.8h7.4v2.7h-7.4zM769 475.8h21.4v2.7h-21.4zM815.8 475.8h2.7v2.7h-2.7zM820.5 475.8h7.4v2.7h-7.4zM719.8 478.1h2.7v2.7h-2.7zM750.2 478.1h40.2v2.7h-40.2zM815.8 478.1h12.1v2.7h-12.1zM628.5 480.5h12.1v2.7h-12.1zM719.8 480.5h2.7v2.7h-2.7zM752.6 480.5h14.4v2.7h-14.4zM769 480.5h21.4v2.7h-21.4zM815.8 480.5h12.1v2.7h-12.1zM647.2 482.8h37.8v2.7h-37.8zM687 482.8h33.1v2.7h-33.1zM743.2 482.8h2.7v2.7h-2.7zM750.2 482.8h14.4v2.7h-14.4zM766.6 482.8h2.7v2.7h-2.7zM771.3 482.8h5v2.7h-5zM780.7 482.8h5v2.7h-5zM797.1 482.8h7.4v2.7h-7.4zM806.4 482.8h14.4v2.7h-14.4zM832.2 482.8h46.8v2.7h-46.8zM642.5 485.1h7.4v2.7h-7.4zM656.6 485.1h2.7v2.7h-2.7zM792.4 485.1h2.7v2.7h-2.7zM797.1 485.1h19.1v2.7h-19.1zM827.5 485.1h23.8v2.7h-23.8zM642.5 487.5h5v2.7h-5zM792.4 487.5h14.4v2.7h-14.4zM808.8 487.5h2.7v2.7h-2.7zM813.4 487.5h2.7v2.7h-2.7zM827.5 487.5h16.7v2.7h-16.7zM848.6 487.5h2.7v2.7h-2.7zM642.5 489.8h5v2.7h-5zM792.4 489.8h2.7v2.7h-2.7zM797.1 489.8h9.7v2.7h-9.7zM808.8 489.8h7.4v2.7h-7.4zM827.5 489.8h16.7v2.7h-16.7zM848.6 489.8h2.7v2.7h-2.7zM642.5 492.2h5v2.7h-5zM792.4 492.2h2.7v2.7h-2.7zM797.1 492.2h7.4v2.7h-7.4zM813.4 492.2h2.7v2.7h-2.7zM827.5 492.2h16.7v2.7h-16.7zM642.5 494.5h5v2.7h-5zM790 494.5h5v2.7h-5zM797.1 494.5h2.7v2.7h-2.7zM801.7 494.5h5v2.7h-5zM808.8 494.5h2.7v2.7h-2.7zM813.4 494.5h2.7v2.7h-2.7zM827.5 494.5h7.4v2.7h-7.4zM836.9 494.5h5v2.7h-5zM642.5 496.8h5v2.7h-5zM792.4 496.8h5v2.7h-5zM801.7 496.8h5v2.7h-5zM808.8 496.8h2.7v2.7h-2.7zM813.4 496.8h2.7v2.7h-2.7zM827.5 496.8h9.7v2.7h-9.7zM642.5 499.2h5v2.7h-5zM792.4 499.2h7.4v2.7h-7.4zM801.7 499.2h5v2.7h-5zM808.8 499.2h2.7v2.7h-2.7zM813.4 499.2h2.7v2.7h-2.7zM827.5 499.2h9.7v2.7h-9.7zM642.5 501.5h5v2.7h-5zM790 501.5h7.4v2.7h-7.4zM804.1 501.5h2.7v2.7h-2.7zM813.4 501.5h2.7v2.7h-2.7zM827.5 501.5h2.7v2.7h-2.7zM832.2 501.5h2.7v2.7h-2.7zM642.5 503.9h2.7v2.7h-2.7zM790 503.9h7.4v2.7h-7.4zM804.1 503.9h2.7v2.7h-2.7zM813.4 503.9h2.7v2.7h-2.7zM827.5 503.9h2.7v2.7h-2.7zM642.5 506.2h5v2.7h-5zM719.8 506.2h2.7v2.7h-2.7zM792.4 506.2h2.7v2.7h-2.7zM801.7 506.2h5v2.7h-5zM808.8 506.2h2.7v2.7h-2.7zM813.4 506.2h2.7v2.7h-2.7zM827.5 506.2h7.4v2.7h-7.4zM836.9 506.2h5v2.7h-5zM642.5 508.5h2.7v2.7h-2.7zM790 508.5h7.4v2.7h-7.4zM804.1 508.5h2.7v2.7h-2.7zM813.4 508.5h2.7v2.7h-2.7zM642.5 510.9h2.7v2.7h-2.7zM790 510.9h7.4v2.7h-7.4zM804.1 510.9h2.7v2.7h-2.7zM813.4 510.9h2.7v2.7h-2.7zM827.5 510.9h2.7v2.7h-2.7zM626.1 513.2h12.1v2.7h-12.1zM715.1 513.2h2.7v2.7h-2.7zM719.8 513.2h2.7v2.7h-2.7zM794.7 513.2h2.7v2.7h-2.7zM804.1 513.2h2.7v2.7h-2.7zM813.4 513.2h2.7v2.7h-2.7zM623.8 515.6h14.4v2.7h-14.4zM703.4 515.6h2.7v2.7h-2.7zM715.1 515.6h7.4v2.7h-7.4zM794.7 515.6h2.7v2.7h-2.7zM804.1 515.6h2.7v2.7h-2.7zM813.4 515.6h2.7v2.7h-2.7zM623.8 517.9h16.7v2.7h-16.7zM703.4 517.9h7.4v2.7h-7.4zM712.8 517.9h9.7v2.7h-9.7zM794.7 517.9h2.7v2.7h-2.7zM804.1 517.9h2.7v2.7h-2.7zM813.4 517.9h2.7v2.7h-2.7zM623.8 520.3h16.7v2.7h-16.7zM715.1 520.3h7.4v2.7h-7.4zM794.7 520.3h2.7v2.7h-2.7zM804.1 520.3h2.7v2.7h-2.7zM813.4 520.3h2.7v2.7h-2.7zM623.8 522.6h16.7v2.7h-16.7zM703.4 522.6h2.7v2.7h-2.7zM712.8 522.6h9.7v2.7h-9.7zM794.7 522.6h2.7v2.7h-2.7zM804.1 522.6h2.7v2.7h-2.7zM813.4 522.6h2.7v2.7h-2.7zM623.8 524.9h16.7v2.7h-16.7zM696.4 524.9h2.7v2.7h-2.7zM712.8 524.9h9.7v2.7h-9.7zM794.7 524.9h2.7v2.7h-2.7zM804.1 524.9h2.7v2.7h-2.7zM813.4 524.9h2.7v2.7h-2.7zM623.8 527.3h16.7v2.7h-16.7zM694 527.3h5v2.7h-5zM703.4 527.3h7.4v2.7h-7.4zM712.8 527.3h7.4v2.7h-7.4zM790 527.3h2.7v2.7h-2.7zM794.7 527.3h2.7v2.7h-2.7zM804.1 527.3h2.7v2.7h-2.7zM813.4 527.3h2.7v2.7h-2.7zM623.8 529.6h16.7v2.7h-16.7zM703.4 529.6h2.7v2.7h-2.7zM715.1 529.6h2.7v2.7h-2.7zM719.8 529.6h2.7v2.7h-2.7zM794.7 529.6h2.7v2.7h-2.7zM804.1 529.6h2.7v2.7h-2.7zM813.4 529.6h2.7v2.7h-2.7zM623.8 532h16.7v2.7h-16.7zM694 532h5v2.7h-5zM703.4 532h2.7v2.7h-2.7zM708.1 532h12.1v2.7h-12.1zM794.7 532h2.7v2.7h-2.7zM804.1 532h2.7v2.7h-2.7zM813.4 532h2.7v2.7h-2.7zM623.8 534.3h16.7v2.7h-16.7zM696.4 534.3h2.7v2.7h-2.7zM701.1 534.3h9.7v2.7h-9.7zM712.8 534.3h9.7v2.7h-9.7zM794.7 534.3h2.7v2.7h-2.7zM804.1 534.3h2.7v2.7h-2.7zM813.4 534.3h2.7v2.7h-2.7zM623.8 536.6h16.7v2.7h-16.7zM703.4 536.6h2.7v2.7h-2.7zM712.8 536.6h9.7v2.7h-9.7zM794.7 536.6h2.7v2.7h-2.7zM804.1 536.6h2.7v2.7h-2.7zM813.4 536.6h2.7v2.7h-2.7zM623.8 539h16.7v2.7h-16.7zM694 539h5v2.7h-5zM701.1 539h19.1v2.7h-19.1zM794.7 539h2.7v2.7h-2.7zM804.1 539h2.7v2.7h-2.7zM813.4 539h2.7v2.7h-2.7zM623.8 541.3h16.7v2.7h-16.7zM694 541.3h5v2.7h-5zM701.1 541.3h5v2.7h-5zM708.1 541.3h2.7v2.7h-2.7zM712.8 541.3h7.4v2.7h-7.4zM794.7 541.3h2.7v2.7h-2.7zM804.1 541.3h2.7v2.7h-2.7zM825.2 541.3h2.7v2.7h-2.7zM623.8 543.7h16.7v2.7h-16.7zM694 543.7h2.7v2.7h-2.7zM703.4 543.7h2.7v2.7h-2.7zM712.8 543.7h9.7v2.7h-9.7zM794.7 543.7h2.7v2.7h-2.7zM804.1 543.7h2.7v2.7h-2.7zM813.4 543.7h2.7v2.7h-2.7zM623.8 546h16.7v2.7h-16.7zM691.7 546h2.7v2.7h-2.7zM696.4 546h2.7v2.7h-2.7zM703.4 546h2.7v2.7h-2.7zM712.8 546h9.7v2.7h-9.7zM794.7 546h2.7v2.7h-2.7zM804.1 546h2.7v2.7h-2.7zM813.4 546h2.7v2.7h-2.7zM825.2 546h2.7v2.7h-2.7zM623.8 548.3h16.7v2.7h-16.7zM689.4 548.3h9.7v2.7h-9.7zM701.1 548.3h19.1v2.7h-19.1zM794.7 548.3h2.7v2.7h-2.7zM804.1 548.3h2.7v2.7h-2.7zM813.4 548.3h2.7v2.7h-2.7zM825.2 548.3h2.7v2.7h-2.7zM623.8 550.7h16.7v2.7h-16.7zM689.4 550.7h30.8v2.7h-30.8zM794.7 550.7h2.7v2.7h-2.7zM804.1 550.7h2.7v2.7h-2.7zM813.4 550.7h2.7v2.7h-2.7zM647.2 553h49.5v2.7h-49.5zM698.7 553h5v2.7h-5zM705.7 553h2.7v2.7h-2.7zM731.5 553h2.7v2.7h-2.7zM738.5 553h5v2.7h-5zM745.5 553h5v2.7h-5zM764.3 553h2.7v2.7h-2.7zM801.7 553h26.1v2.7h-26.1zM836.9 553h2.7v2.7h-2.7zM841.5 553h37.5v2.7h-37.5zM644.9 555.4h2.7v2.7h-2.7zM722.1 555.4h28.4v2.7h-28.4zM813.4 555.4h2.7v2.7h-2.7zM827.5 555.4h16.7v2.7h-16.7zM846.2 555.4h5v2.7h-5zM647.2 557.7h42.5v2.7h-42.5zM724.5 557.7h2.7v2.7h-2.7zM733.8 557.7h9.7v2.7h-9.7zM745.5 557.7h44.8v2.7h-44.8zM804.1 557.7h2.7v2.7h-2.7zM808.8 557.7h2.7v2.7h-2.7zM813.4 557.7h7.4v2.7h-7.4zM829.8 557.7h2.7v2.7h-2.7zM834.5 557.7h14.4v2.7h-14.4zM850.9 557.7h28.1v2.7h-28.1zM642.5 560.1h5v2.7h-5zM719.8 560.1h14.4v2.7h-14.4zM736.2 560.1h2.7v2.7h-2.7zM827.5 560.1h9.7v2.7h-9.7zM839.2 560.1h5v2.7h-5zM642.5 562.4h5v2.7h-5zM719.8 562.4h12.1v2.7h-12.1zM827.5 562.4h7.4v2.7h-7.4zM839.2 562.4h2.7v2.7h-2.7zM642.5 564.7h5v2.7h-5zM719.8 564.7h19.1v2.7h-19.1zM743.2 564.7h2.7v2.7h-2.7zM790 564.7h2.7v2.7h-2.7zM827.5 564.7h9.7v2.7h-9.7zM839.2 564.7h5v2.7h-5zM848.6 564.7h2.7v2.7h-2.7zM644.9 567.1h44.8v2.7h-44.8zM722.1 567.1h7.4v2.7h-7.4zM731.5 567.1h61.2v2.7h-61.2zM794.7 567.1h2.7v2.7h-2.7zM813.4 567.1h2.7v2.7h-2.7zM829.8 567.1h2.7v2.7h-2.7zM834.5 567.1h44.5v2.7h-44.5zM642.5 569.4h5v2.7h-5zM719.8 569.4h5v2.7h-5zM790 569.4h2.7v2.7h-2.7zM827.5 569.4h7.4v2.7h-7.4zM642.5 571.8h5v2.7h-5zM719.8 571.8h9.7v2.7h-9.7zM731.5 571.8h7.4v2.7h-7.4zM743.2 571.8h2.7v2.7h-2.7zM790 571.8h2.7v2.7h-2.7zM794.7 571.8h2.7v2.7h-2.7zM827.5 571.8h16.7v2.7h-16.7zM642.5 574.1h5v2.7h-5zM719.8 574.1h5v2.7h-5zM726.8 574.1h2.7v2.7h-2.7zM790 574.1h2.7v2.7h-2.7zM827.5 574.1h9.7v2.7h-9.7zM839.2 574.1h2.7v2.7h-2.7zM647.2 576.4h44.8v2.7h-44.8zM701.1 576.4h2.7v2.7h-2.7zM705.7 576.4h7.4v2.7h-7.4zM719.8 576.4h58.9v2.7h-58.9zM780.7 576.4h16.7v2.7h-16.7zM804.1 576.4h2.7v2.7h-2.7zM829.8 576.4h2.7v2.7h-2.7zM834.5 576.4h44.5v2.7h-44.5zM623.8 578.8h14.4v2.7h-14.4zM712.8 578.8h9.7v2.7h-9.7zM790 578.8h2.7v2.7h-2.7zM794.7 578.8h2.7v2.7h-2.7zM623.8 581.1h14.4v2.7h-14.4zM715.1 581.1h7.4v2.7h-7.4zM790 581.1h2.7v2.7h-2.7zM794.7 581.1h2.7v2.7h-2.7zM623.8 583.5h16.7v2.7h-16.7zM696.4 583.5h2.7v2.7h-2.7zM703.4 583.5h2.7v2.7h-2.7zM712.8 583.5h7.4v2.7h-7.4zM790 583.5h2.7v2.7h-2.7zM623.8 585.8h16.7v2.7h-16.7zM694 585.8h5v2.7h-5zM703.4 585.8h2.7v2.7h-2.7zM708.1 585.8h2.7v2.7h-2.7zM712.8 585.8h7.4v2.7h-7.4zM790 585.8h2.7v2.7h-2.7zM623.8 588.2h16.7v2.7h-16.7zM689.4 588.2h30.8v2.7h-30.8zM778.3 588.2h2.7v2.7h-2.7zM783 588.2h5v2.7h-5zM790 588.2h2.7v2.7h-2.7zM642.5 590.5h7.4v2.7h-7.4zM651.9 590.5h2.7v2.7h-2.7zM722.1 590.5h23.8v2.7h-23.8zM747.9 590.5h2.7v2.7h-2.7zM792.4 590.5h2.7v2.7h-2.7zM797.1 590.5h7.4v2.7h-7.4zM806.4 590.5h7.4v2.7h-7.4zM642.5 592.8h7.4v2.7h-7.4zM722.1 592.8h16.7v2.7h-16.7zM743.2 592.8h2.7v2.7h-2.7zM792.4 592.8h23.8v2.7h-23.8zM642.5 595.2h7.4v2.7h-7.4zM719.8 595.2h21.4v2.7h-21.4zM743.2 595.2h2.7v2.7h-2.7zM792.4 595.2h2.7v2.7h-2.7zM797.1 595.2h7.4v2.7h-7.4zM806.4 595.2h7.4v2.7h-7.4zM642.5 597.5h5v2.7h-5zM719.8 597.5h12.1v2.7h-12.1zM733.8 597.5h5v2.7h-5zM792.4 597.5h7.4v2.7h-7.4zM801.7 597.5h5v2.7h-5zM808.8 597.5h7.4v2.7h-7.4zM642.5 599.9h5v2.7h-5zM719.8 599.9h14.4v2.7h-14.4zM743.2 599.9h2.7v2.7h-2.7zM790 599.9h7.4v2.7h-7.4zM804.1 599.9h2.7v2.7h-2.7zM808.8 599.9h2.7v2.7h-2.7zM813.4 599.9h2.7v2.7h-2.7zM642.5 602.2h5v2.7h-5zM719.8 602.2h14.4v2.7h-14.4zM743.2 602.2h2.7v2.7h-2.7zM792.4 602.2h14.4v2.7h-14.4zM808.8 602.2h7.4v2.7h-7.4zM642.5 604.5h5v2.7h-5zM719.8 604.5h12.1v2.7h-12.1zM790 604.5h9.7v2.7h-9.7zM801.7 604.5h5v2.7h-5zM808.8 604.5h2.7v2.7h-2.7zM813.4 604.5h2.7v2.7h-2.7zM642.5 606.9h5v2.7h-5zM719.8 606.9h5v2.7h-5zM790 606.9h2.7v2.7h-2.7zM794.7 606.9h2.7v2.7h-2.7zM804.1 606.9h2.7v2.7h-2.7zM813.4 606.9h2.7v2.7h-2.7zM642.5 609.2h5v2.7h-5zM719.8 609.2h5v2.7h-5zM790 609.2h7.4v2.7h-7.4zM804.1 609.2h2.7v2.7h-2.7zM813.4 609.2h2.7v2.7h-2.7zM642.5 611.6h5v2.7h-5zM719.8 611.6h9.7v2.7h-9.7zM790 611.6h5v2.7h-5zM801.7 611.6h5v2.7h-5zM813.4 611.6h2.7v2.7h-2.7zM642.5 613.9h2.7v2.7h-2.7zM719.8 613.9h2.7v2.7h-2.7zM790 613.9h2.7v2.7h-2.7zM794.7 613.9h2.7v2.7h-2.7zM804.1 613.9h2.7v2.7h-2.7zM813.4 613.9h2.7v2.7h-2.7zM642.5 616.2h2.7v2.7h-2.7zM719.8 616.2h2.7v2.7h-2.7zM790 616.2h2.7v2.7h-2.7zM794.7 616.2h2.7v2.7h-2.7zM804.1 616.2h2.7v2.7h-2.7zM813.4 616.2h2.7v2.7h-2.7zM642.5 618.6h2.7v2.7h-2.7zM719.8 618.6h2.7v2.7h-2.7zM790 618.6h2.7v2.7h-2.7zM794.7 618.6h2.7v2.7h-2.7zM804.1 618.6h2.7v2.7h-2.7zM813.4 618.6h2.7v2.7h-2.7zM719.8 620.9h2.7v2.7h-2.7zM790 620.9h2.7v2.7h-2.7zM794.7 620.9h2.7v2.7h-2.7zM804.1 620.9h2.7v2.7h-2.7zM813.4 620.9h2.7v2.7h-2.7zM642.5 623.3h2.7v2.7h-2.7zM719.8 623.3h2.7v2.7h-2.7zM790 623.3h2.7v2.7h-2.7zM794.7 623.3h2.7v2.7h-2.7zM804.1 623.3h2.7v2.7h-2.7zM813.4 623.3h2.7v2.7h-2.7zM642.5 625.6h2.7v2.7h-2.7zM719.8 625.6h2.7v2.7h-2.7zM790 625.6h2.7v2.7h-2.7zM794.7 625.6h2.7v2.7h-2.7zM804.1 625.6h2.7v2.7h-2.7zM813.4 625.6h2.7v2.7h-2.7zM642.5 628h2.7v2.7h-2.7zM719.8 628h2.7v2.7h-2.7zM790 628h2.7v2.7h-2.7zM794.7 628h2.7v2.7h-2.7zM804.1 628h2.7v2.7h-2.7zM813.4 628h2.7v2.7h-2.7zM642.5 630.3h2.7v2.7h-2.7zM719.8 630.3h2.7v2.7h-2.7zM790 630.3h2.7v2.7h-2.7zM794.7 630.3h2.7v2.7h-2.7zM804.1 630.3h2.7v2.7h-2.7zM813.4 630.3h2.7v2.7h-2.7zM719.8 632.6h2.7v2.7h-2.7zM790 632.6h2.7v2.7h-2.7zM794.7 632.6h2.7v2.7h-2.7zM804.1 632.6h2.7v2.7h-2.7zM813.4 632.6h2.7v2.7h-2.7zM719.8 635h2.7v2.7h-2.7zM790 635h2.7v2.7h-2.7zM794.7 635h2.7v2.7h-2.7zM804.1 635h2.7v2.7h-2.7zM813.4 635h2.7v2.7h-2.7zM642.5 637.3h2.7v2.7h-2.7zM719.8 637.3h2.7v2.7h-2.7zM790 637.3h2.7v2.7h-2.7zM794.7 637.3h2.7v2.7h-2.7zM804.1 637.3h2.7v2.7h-2.7zM813.4 637.3h2.7v2.7h-2.7zM642.5 639.7h2.7v2.3h-2.7zM719.8 639.7h2.7v2.3h-2.7zM790 639.7h2.7v2.3h-2.7zM794.7 639.7h2.7v2.3h-2.7zM804.1 639.7h2.7v2.3h-2.7zM813.4 639.7h2.7v2.3h-2.7z" fill="#43367f"/>
<path d="M623.8 386.8h16.7v2.7h-16.7zM750.2 386.8h2.7v2.7h-2.7zM623.8 389.1h2.7v2.7h-2.7zM628.5 389.1h5v2.7h-5zM623.8 391.5h16.7v2.7h-16.7zM623.8 393.8h7.4v2.7h-7.4zM633.2 393.8h7.4v2.7h-7.4zM623.8 396.2h2.7v2.7h-2.7zM628.5 396.2h12.1v2.7h-12.1zM623.8 398.5h2.7v2.7h-2.7zM628.5 398.5h12.1v2.7h-12.1zM623.8 400.8h2.7v2.7h-2.7zM628.5 400.8h9.7v2.7h-9.7zM750.2 400.8h5v2.7h-5zM815.8 400.8h5v2.7h-5zM642.5 405.5h5v2.7h-5zM857.9 405.5h2.7v2.7h-2.7zM869.6 405.5h5v2.7h-5zM642.5 407.9h2.7v2.7h-2.7zM740.9 407.9h2.7v2.7h-2.7zM745.5 407.9h5v2.7h-5zM850.9 407.9h28.1v2.7h-28.1zM724.5 410.2h21.4v2.7h-21.4zM792.4 410.2h2.7v2.7h-2.7zM797.1 410.2h7.4v2.7h-7.4zM806.4 410.2h7.4v2.7h-7.4zM834.5 410.2h16.7v2.7h-16.7zM867.3 410.2h2.7v2.7h-2.7zM722.1 412.6h19.1v2.7h-19.1zM743.2 412.6h2.7v2.7h-2.7zM792.4 412.6h2.7v2.7h-2.7zM797.1 412.6h7.4v2.7h-7.4zM808.8 412.6h5v2.7h-5zM827.5 412.6h16.7v2.7h-16.7zM848.6 412.6h2.7v2.7h-2.7zM722.1 414.9h26.1v2.7h-26.1zM792.4 414.9h2.7v2.7h-2.7zM797.1 414.9h7.4v2.7h-7.4zM806.4 414.9h7.4v2.7h-7.4zM829.8 414.9h16.7v2.7h-16.7zM848.6 414.9h2.7v2.7h-2.7zM722.1 417.2h23.8v2.7h-23.8zM792.4 417.2h2.7v2.7h-2.7zM797.1 417.2h7.4v2.7h-7.4zM806.4 417.2h7.4v2.7h-7.4zM827.5 417.2h19.1v2.7h-19.1zM848.6 417.2h2.7v2.7h-2.7zM724.5 419.6h14.4v2.7h-14.4zM743.2 419.6h2.7v2.7h-2.7zM792.4 419.6h2.7v2.7h-2.7zM797.1 419.6h7.4v2.7h-7.4zM806.4 419.6h7.4v2.7h-7.4zM827.5 419.6h19.1v2.7h-19.1zM848.6 419.6h2.7v2.7h-2.7zM860.3 419.6h2.7v2.7h-2.7zM722.1 421.9h23.8v2.7h-23.8zM792.4 421.9h2.7v2.7h-2.7zM797.1 421.9h7.4v2.7h-7.4zM806.4 421.9h7.4v2.7h-7.4zM827.5 421.9h23.8v2.7h-23.8zM722.1 424.3h16.7v2.7h-16.7zM743.2 424.3h2.7v2.7h-2.7zM792.4 424.3h2.7v2.7h-2.7zM797.1 424.3h7.4v2.7h-7.4zM808.8 424.3h5v2.7h-5zM827.5 424.3h16.7v2.7h-16.7zM848.6 424.3h2.7v2.7h-2.7zM722.1 426.6h12.1v2.7h-12.1zM736.2 426.6h2.7v2.7h-2.7zM743.2 426.6h2.7v2.7h-2.7zM792.4 426.6h2.7v2.7h-2.7zM797.1 426.6h7.4v2.7h-7.4zM806.4 426.6h7.4v2.7h-7.4zM827.5 426.6h16.7v2.7h-16.7zM722.1 428.9h2.7v2.7h-2.7zM726.8 428.9h2.7v2.7h-2.7zM792.4 428.9h2.7v2.7h-2.7zM801.7 428.9h2.7v2.7h-2.7zM808.8 428.9h2.7v2.7h-2.7zM827.5 428.9h7.4v2.7h-7.4zM722.1 431.3h9.7v2.7h-9.7zM743.2 431.3h2.7v2.7h-2.7zM792.4 431.3h2.7v2.7h-2.7zM797.1 431.3h7.4v2.7h-7.4zM808.8 431.3h2.7v2.7h-2.7zM827.5 431.3h9.7v2.7h-9.7zM839.2 431.3h2.7v2.7h-2.7zM722.1 433.6h12.1v2.7h-12.1zM743.2 433.6h2.7v2.7h-2.7zM792.4 433.6h2.7v2.7h-2.7zM797.1 433.6h7.4v2.7h-7.4zM808.8 433.6h2.7v2.7h-2.7zM827.5 433.6h16.7v2.7h-16.7zM722.1 436h9.7v2.7h-9.7zM792.4 436h2.7v2.7h-2.7zM797.1 436h2.7v2.7h-2.7zM801.7 436h2.7v2.7h-2.7zM808.8 436h2.7v2.7h-2.7zM827.5 436h7.4v2.7h-7.4zM839.2 436h2.7v2.7h-2.7zM722.1 438.3h9.7v2.7h-9.7zM792.4 438.3h2.7v2.7h-2.7zM797.1 438.3h2.7v2.7h-2.7zM801.7 438.3h2.7v2.7h-2.7zM808.8 438.3h2.7v2.7h-2.7zM827.5 438.3h7.4v2.7h-7.4zM722.1 440.6h7.4v2.7h-7.4zM792.4 440.6h2.7v2.7h-2.7zM801.7 440.6h2.7v2.7h-2.7zM827.5 440.6h9.7v2.7h-9.7zM722.1 443h16.7v2.7h-16.7zM743.2 443h2.7v2.7h-2.7zM792.4 443h2.7v2.7h-2.7zM797.1 443h7.4v2.7h-7.4zM808.8 443h5v2.7h-5zM827.5 443h16.7v2.7h-16.7zM848.6 443h2.7v2.7h-2.7zM722.1 445.3h2.7v2.7h-2.7zM792.4 445.3h2.7v2.7h-2.7zM827.5 445.3h2.7v2.7h-2.7zM832.2 445.3h2.7v2.7h-2.7zM719.8 447.7h5v2.7h-5zM792.4 447.7h2.7v2.7h-2.7zM827.5 447.7h7.4v2.7h-7.4zM722.1 450h2.7v2.7h-2.7zM792.4 450h2.7v2.7h-2.7zM827.5 450h7.4v2.7h-7.4zM715.1 452.4h5v2.7h-5zM750.2 452.4h35.5v2.7h-35.5zM815.8 452.4h9.7v2.7h-9.7zM712.8 454.7h7.4v2.7h-7.4zM750.2 454.7h33.1v2.7h-33.1zM815.8 454.7h9.7v2.7h-9.7zM715.1 457h5v2.7h-5zM750.2 457h14.4v2.7h-14.4zM766.6 457h2.7v2.7h-2.7zM771.3 457h5v2.7h-5zM783 457h2.7v2.7h-2.7zM815.8 457h7.4v2.7h-7.4zM715.1 459.4h5v2.7h-5zM750.2 459.4h12.1v2.7h-12.1zM766.6 459.4h2.7v2.7h-2.7zM773.6 459.4h2.7v2.7h-2.7zM780.7 459.4h2.7v2.7h-2.7zM815.8 459.4h5v2.7h-5zM715.1 461.7h5v2.7h-5zM750.2 461.7h37.8v2.7h-37.8zM815.8 461.7h9.7v2.7h-9.7zM715.1 464.1h2.7v2.7h-2.7zM750.2 464.1h21.4v2.7h-21.4zM773.6 464.1h2.7v2.7h-2.7zM780.7 464.1h5v2.7h-5zM815.8 464.1h9.7v2.7h-9.7zM715.1 466.4h5v2.7h-5zM750.2 466.4h2.7v2.7h-2.7zM757.3 466.4h2.7v2.7h-2.7zM761.9 466.4h2.7v2.7h-2.7zM815.8 466.4h5v2.7h-5zM715.1 468.7h5v2.7h-5zM750.2 468.7h5v2.7h-5zM757.3 468.7h7.4v2.7h-7.4zM766.6 468.7h5v2.7h-5zM773.6 468.7h2.7v2.7h-2.7zM778.3 468.7h7.4v2.7h-7.4zM815.8 468.7h9.7v2.7h-9.7zM750.2 471.1h5v2.7h-5zM757.3 471.1h7.4v2.7h-7.4zM766.6 471.1h2.7v2.7h-2.7zM773.6 471.1h2.7v2.7h-2.7zM780.7 471.1h5v2.7h-5zM815.8 471.1h7.4v2.7h-7.4zM750.2 473.4h19.1v2.7h-19.1zM771.3 473.4h5v2.7h-5zM778.3 473.4h7.4v2.7h-7.4zM815.8 473.4h9.7v2.7h-9.7zM691.7 475.8h2.7v2.7h-2.7zM750.2 475.8h5v2.7h-5zM757.3 475.8h2.7v2.7h-2.7zM766.6 475.8h2.7v2.7h-2.7zM818.1 475.8h2.7v2.7h-2.7zM689.4 478.1h19.1v2.7h-19.1zM715.1 478.1h2.7v2.7h-2.7zM689.4 480.5h12.1v2.7h-12.1zM703.4 480.5h5v2.7h-5zM750.2 480.5h2.7v2.7h-2.7zM766.6 480.5h2.7v2.7h-2.7zM684.7 482.8h2.7v2.7h-2.7zM719.8 482.8h23.8v2.7h-23.8zM745.5 482.8h5v2.7h-5zM649.6 485.1h7.4v2.7h-7.4zM658.9 485.1h30.8v2.7h-30.8zM719.8 485.1h2.7v2.7h-2.7zM850.9 485.1h28.1v2.7h-28.1zM647.2 487.5h19.1v2.7h-19.1zM668.3 487.5h14.4v2.7h-14.4zM719.8 487.5h2.7v2.7h-2.7zM806.4 487.5h2.7v2.7h-2.7zM811.1 487.5h2.7v2.7h-2.7zM843.9 487.5h5v2.7h-5zM850.9 487.5h21.4v2.7h-21.4zM874.3 487.5h4.7v2.7h-4.7zM647.2 489.8h35.5v2.7h-35.5zM719.8 489.8h2.7v2.7h-2.7zM806.4 489.8h2.7v2.7h-2.7zM843.9 489.8h5v2.7h-5zM850.9 489.8h7.4v2.7h-7.4zM860.3 489.8h18.7v2.7h-18.7zM647.2 492.2h19.1v2.7h-19.1zM668.3 492.2h9.7v2.7h-9.7zM680 492.2h2.7v2.7h-2.7zM719.8 492.2h2.7v2.7h-2.7zM806.4 492.2h7.4v2.7h-7.4zM843.9 492.2h26.1v2.7h-26.1zM872 492.2h7v2.7h-7zM647.2 494.5h19.1v2.7h-19.1zM670.6 494.5h2.7v2.7h-2.7zM680 494.5h2.7v2.7h-2.7zM719.8 494.5h2.7v2.7h-2.7zM799.4 494.5h2.7v2.7h-2.7zM806.4 494.5h2.7v2.7h-2.7zM811.1 494.5h2.7v2.7h-2.7zM834.5 494.5h2.7v2.7h-2.7zM841.5 494.5h16.7v2.7h-16.7zM860.3 494.5h9.7v2.7h-9.7zM874.3 494.5h2.7v2.7h-2.7zM647.2 496.8h16.7v2.7h-16.7zM680 496.8h2.7v2.7h-2.7zM719.8 496.8h2.7v2.7h-2.7zM797.1 496.8h5v2.7h-5zM806.4 496.8h2.7v2.7h-2.7zM811.1 496.8h2.7v2.7h-2.7zM836.9 496.8h16.7v2.7h-16.7zM855.6 496.8h2.7v2.7h-2.7zM860.3 496.8h9.7v2.7h-9.7zM874.3 496.8h2.7v2.7h-2.7zM647.2 499.2h19.1v2.7h-19.1zM680 499.2h2.7v2.7h-2.7zM719.8 499.2h2.7v2.7h-2.7zM799.4 499.2h2.7v2.7h-2.7zM806.4 499.2h2.7v2.7h-2.7zM811.1 499.2h2.7v2.7h-2.7zM836.9 499.2h21.4v2.7h-21.4zM860.3 499.2h2.7v2.7h-2.7zM865 499.2h5v2.7h-5zM874.3 499.2h2.7v2.7h-2.7zM647.2 501.5h9.7v2.7h-9.7zM658.9 501.5h2.7v2.7h-2.7zM719.8 501.5h2.7v2.7h-2.7zM797.1 501.5h7.4v2.7h-7.4zM806.4 501.5h7.4v2.7h-7.4zM829.8 501.5h2.7v2.7h-2.7zM834.5 501.5h16.7v2.7h-16.7zM865 501.5h2.7v2.7h-2.7zM644.9 503.9h5v2.7h-5zM651.9 503.9h5v2.7h-5zM658.9 503.9h2.7v2.7h-2.7zM719.8 503.9h2.7v2.7h-2.7zM797.1 503.9h7.4v2.7h-7.4zM806.4 503.9h7.4v2.7h-7.4zM829.8 503.9h21.4v2.7h-21.4zM860.3 503.9h2.7v2.7h-2.7zM865 503.9h2.7v2.7h-2.7zM647.2 506.2h19.1v2.7h-19.1zM668.3 506.2h5v2.7h-5zM680 506.2h2.7v2.7h-2.7zM797.1 506.2h5v2.7h-5zM806.4 506.2h2.7v2.7h-2.7zM811.1 506.2h2.7v2.7h-2.7zM834.5 506.2h2.7v2.7h-2.7zM841.5 506.2h16.7v2.7h-16.7zM860.3 506.2h9.7v2.7h-9.7zM874.3 506.2h2.7v2.7h-2.7zM644.9 508.5h2.7v2.7h-2.7zM651.9 508.5h2.7v2.7h-2.7zM719.8 508.5h2.7v2.7h-2.7zM797.1 508.5h7.4v2.7h-7.4zM806.4 508.5h7.4v2.7h-7.4zM827.5 508.5h23.8v2.7h-23.8zM860.3 508.5h2.7v2.7h-2.7zM865 508.5h2.7v2.7h-2.7zM644.9 510.9h2.7v2.7h-2.7zM719.8 510.9h2.7v2.7h-2.7zM797.1 510.9h7.4v2.7h-7.4zM806.4 510.9h7.4v2.7h-7.4zM829.8 510.9h14.4v2.7h-14.4zM848.6 510.9h2.7v2.7h-2.7zM623.8 513.2h2.7v2.7h-2.7zM637.8 513.2h2.7v2.7h-2.7zM689.4 513.2h26.1v2.7h-26.1zM717.5 513.2h2.7v2.7h-2.7zM790 513.2h2.7v2.7h-2.7zM825.2 513.2h2.7v2.7h-2.7zM637.8 515.6h2.7v2.7h-2.7zM689.4 515.6h14.4v2.7h-14.4zM705.7 515.6h9.7v2.7h-9.7zM790 515.6h2.7v2.7h-2.7zM815.8 515.6h2.7v2.7h-2.7zM820.5 515.6h7.4v2.7h-7.4zM689.4 517.9h14.4v2.7h-14.4zM710.4 517.9h2.7v2.7h-2.7zM790 517.9h2.7v2.7h-2.7zM815.8 517.9h12.1v2.7h-12.1zM689.4 520.3h26.1v2.7h-26.1zM790 520.3h2.7v2.7h-2.7zM815.8 520.3h2.7v2.7h-2.7zM820.5 520.3h7.4v2.7h-7.4zM689.4 522.6h14.4v2.7h-14.4zM705.7 522.6h7.4v2.7h-7.4zM790 522.6h2.7v2.7h-2.7zM820.5 522.6h7.4v2.7h-7.4zM689.4 524.9h7.4v2.7h-7.4zM698.7 524.9h14.4v2.7h-14.4zM790 524.9h2.7v2.7h-2.7zM815.8 524.9h2.7v2.7h-2.7zM820.5 524.9h7.4v2.7h-7.4zM689.4 527.3h5v2.7h-5zM698.7 527.3h5v2.7h-5zM710.4 527.3h2.7v2.7h-2.7zM815.8 527.3h12.1v2.7h-12.1zM689.4 529.6h14.4v2.7h-14.4zM705.7 529.6h9.7v2.7h-9.7zM717.5 529.6h2.7v2.7h-2.7zM790 529.6h2.7v2.7h-2.7zM820.5 529.6h7.4v2.7h-7.4zM689.4 532h5v2.7h-5zM698.7 532h5v2.7h-5zM705.7 532h2.7v2.7h-2.7zM790 532h2.7v2.7h-2.7zM815.8 532h12.1v2.7h-12.1zM689.4 534.3h7.4v2.7h-7.4zM698.7 534.3h2.7v2.7h-2.7zM710.4 534.3h2.7v2.7h-2.7zM790 534.3h2.7v2.7h-2.7zM815.8 534.3h12.1v2.7h-12.1zM689.4 536.6h14.4v2.7h-14.4zM705.7 536.6h7.4v2.7h-7.4zM790 536.6h2.7v2.7h-2.7zM815.8 536.6h2.7v2.7h-2.7zM820.5 536.6h7.4v2.7h-7.4zM689.4 539h5v2.7h-5zM698.7 539h2.7v2.7h-2.7zM790 539h2.7v2.7h-2.7zM815.8 539h12.1v2.7h-12.1zM689.4 541.3h5v2.7h-5zM698.7 541.3h2.7v2.7h-2.7zM705.7 541.3h2.7v2.7h-2.7zM710.4 541.3h2.7v2.7h-2.7zM790 541.3h2.7v2.7h-2.7zM815.8 541.3h9.7v2.7h-9.7zM689.4 543.7h5v2.7h-5zM696.4 543.7h7.4v2.7h-7.4zM705.7 543.7h7.4v2.7h-7.4zM790 543.7h2.7v2.7h-2.7zM815.8 543.7h12.1v2.7h-12.1zM689.4 546h2.7v2.7h-2.7zM694 546h2.7v2.7h-2.7zM698.7 546h5v2.7h-5zM705.7 546h7.4v2.7h-7.4zM790 546h2.7v2.7h-2.7zM815.8 546h9.7v2.7h-9.7zM698.7 548.3h2.7v2.7h-2.7zM790 548.3h2.7v2.7h-2.7zM815.8 548.3h9.7v2.7h-9.7zM790 550.7h2.7v2.7h-2.7zM815.8 550.7h12.1v2.7h-12.1zM750.2 553h14.4v2.7h-14.4zM766.6 553h35.5v2.7h-35.5zM647.2 555.4h42.5v2.7h-42.5zM790 555.4h2.7v2.7h-2.7zM794.7 555.4h2.7v2.7h-2.7zM804.1 555.4h2.7v2.7h-2.7zM843.9 555.4h2.7v2.7h-2.7zM850.9 555.4h28.1v2.7h-28.1zM790 557.7h14.4v2.7h-14.4zM806.4 557.7h2.7v2.7h-2.7zM811.1 557.7h2.7v2.7h-2.7zM647.2 560.1h19.1v2.7h-19.1zM668.3 560.1h9.7v2.7h-9.7zM680 560.1h2.7v2.7h-2.7zM733.8 560.1h2.7v2.7h-2.7zM738.5 560.1h12.1v2.7h-12.1zM790 560.1h2.7v2.7h-2.7zM794.7 560.1h2.7v2.7h-2.7zM804.1 560.1h2.7v2.7h-2.7zM813.4 560.1h2.7v2.7h-2.7zM836.9 560.1h2.7v2.7h-2.7zM843.9 560.1h28.4v2.7h-28.4zM874.3 560.1h4.7v2.7h-4.7zM647.2 562.4h19.1v2.7h-19.1zM668.3 562.4h5v2.7h-5zM680 562.4h2.7v2.7h-2.7zM731.5 562.4h19.1v2.7h-19.1zM790 562.4h2.7v2.7h-2.7zM794.7 562.4h2.7v2.7h-2.7zM804.1 562.4h2.7v2.7h-2.7zM813.4 562.4h2.7v2.7h-2.7zM834.5 562.4h5v2.7h-5zM841.5 562.4h16.7v2.7h-16.7zM860.3 562.4h9.7v2.7h-9.7zM874.3 562.4h4.7v2.7h-4.7zM647.2 564.7h35.5v2.7h-35.5zM738.5 564.7h5v2.7h-5zM745.5 564.7h5v2.7h-5zM794.7 564.7h2.7v2.7h-2.7zM804.1 564.7h2.7v2.7h-2.7zM813.4 564.7h2.7v2.7h-2.7zM836.9 564.7h2.7v2.7h-2.7zM843.9 564.7h5v2.7h-5zM850.9 564.7h19.1v2.7h-19.1zM872 564.7h7v2.7h-7zM792.4 567.1h2.7v2.7h-2.7zM797.1 567.1h9.7v2.7h-9.7zM808.8 567.1h5v2.7h-5zM647.2 569.4h2.7v2.7h-2.7zM651.9 569.4h9.7v2.7h-9.7zM663.6 569.4h2.7v2.7h-2.7zM724.5 569.4h26.1v2.7h-26.1zM794.7 569.4h2.7v2.7h-2.7zM813.4 569.4h2.7v2.7h-2.7zM834.5 569.4h19.1v2.7h-19.1zM855.6 569.4h2.7v2.7h-2.7zM860.3 569.4h2.7v2.7h-2.7zM865 569.4h5v2.7h-5zM647.2 571.8h30.8v2.7h-30.8zM680 571.8h2.7v2.7h-2.7zM729.2 571.8h2.7v2.7h-2.7zM738.5 571.8h5v2.7h-5zM745.5 571.8h5v2.7h-5zM804.1 571.8h2.7v2.7h-2.7zM813.4 571.8h2.7v2.7h-2.7zM843.9 571.8h14.4v2.7h-14.4zM860.3 571.8h12.1v2.7h-12.1zM874.3 571.8h4.7v2.7h-4.7zM647.2 574.1h19.1v2.7h-19.1zM680 574.1h2.7v2.7h-2.7zM724.5 574.1h2.7v2.7h-2.7zM729.2 574.1h21.4v2.7h-21.4zM794.7 574.1h2.7v2.7h-2.7zM804.1 574.1h2.7v2.7h-2.7zM836.9 574.1h2.7v2.7h-2.7zM841.5 574.1h12.1v2.7h-12.1zM855.6 574.1h2.7v2.7h-2.7zM860.3 574.1h2.7v2.7h-2.7zM865 574.1h5v2.7h-5zM874.3 574.1h2.7v2.7h-2.7zM797.1 576.4h7.4v2.7h-7.4zM806.4 576.4h5v2.7h-5zM820.5 576.4h7.4v2.7h-7.4zM637.8 578.8h2.7v2.7h-2.7zM689.4 578.8h23.8v2.7h-23.8zM752.6 578.8h7.4v2.7h-7.4zM761.9 578.8h5v2.7h-5zM769 578.8h21.4v2.7h-21.4zM637.8 581.1h2.7v2.7h-2.7zM689.4 581.1h26.1v2.7h-26.1zM754.9 581.1h2.7v2.7h-2.7zM764.3 581.1h2.7v2.7h-2.7zM769 581.1h5v2.7h-5zM776 581.1h14.4v2.7h-14.4zM689.4 583.5h7.4v2.7h-7.4zM698.7 583.5h5v2.7h-5zM705.7 583.5h7.4v2.7h-7.4zM752.6 583.5h37.8v2.7h-37.8zM813.4 583.5h2.7v2.7h-2.7zM689.4 585.8h5v2.7h-5zM698.7 585.8h5v2.7h-5zM705.7 585.8h2.7v2.7h-2.7zM710.4 585.8h2.7v2.7h-2.7zM752.6 585.8h37.8v2.7h-37.8zM813.4 585.8h2.7v2.7h-2.7zM750.2 588.2h28.4v2.7h-28.4zM780.7 588.2h2.7v2.7h-2.7zM787.7 588.2h2.7v2.7h-2.7zM813.4 588.2h2.7v2.7h-2.7zM649.6 590.5h2.7v2.7h-2.7zM654.2 590.5h35.5v2.7h-35.5zM745.5 590.5h2.7v2.7h-2.7zM649.6 592.8h33.1v2.7h-33.1zM684.7 592.8h5v2.7h-5zM738.5 592.8h5v2.7h-5zM745.5 592.8h5v2.7h-5zM649.6 595.2h40.2v2.7h-40.2zM740.9 595.2h2.7v2.7h-2.7zM745.5 595.2h5v2.7h-5zM647.2 597.5h19.1v2.7h-19.1zM668.3 597.5h5v2.7h-5zM677.6 597.5h5v2.7h-5zM731.5 597.5h2.7v2.7h-2.7zM738.5 597.5h12.1v2.7h-12.1zM799.4 597.5h2.7v2.7h-2.7zM806.4 597.5h2.7v2.7h-2.7zM647.2 599.9h19.1v2.7h-19.1zM670.6 599.9h2.7v2.7h-2.7zM680 599.9h2.7v2.7h-2.7zM733.8 599.9h9.7v2.7h-9.7zM745.5 599.9h5v2.7h-5zM797.1 599.9h7.4v2.7h-7.4zM806.4 599.9h2.7v2.7h-2.7zM811.1 599.9h2.7v2.7h-2.7zM647.2 602.2h19.1v2.7h-19.1zM668.3 602.2h7.4v2.7h-7.4zM680 602.2h2.7v2.7h-2.7zM733.8 602.2h9.7v2.7h-9.7zM745.5 602.2h5v2.7h-5zM806.4 602.2h2.7v2.7h-2.7zM647.2 604.5h19.1v2.7h-19.1zM670.6 604.5h2.7v2.7h-2.7zM680 604.5h2.7v2.7h-2.7zM731.5 604.5h19.1v2.7h-19.1zM799.4 604.5h2.7v2.7h-2.7zM806.4 604.5h2.7v2.7h-2.7zM811.1 604.5h2.7v2.7h-2.7zM647.2 606.9h2.7v2.7h-2.7zM651.9 606.9h9.7v2.7h-9.7zM724.5 606.9h23.8v2.7h-23.8zM792.4 606.9h2.7v2.7h-2.7zM797.1 606.9h7.4v2.7h-7.4zM806.4 606.9h7.4v2.7h-7.4zM647.2 609.2h2.7v2.7h-2.7zM658.9 609.2h2.7v2.7h-2.7zM724.5 609.2h23.8v2.7h-23.8zM797.1 609.2h7.4v2.7h-7.4zM806.4 609.2h7.4v2.7h-7.4zM647.2 611.6h16.7v2.7h-16.7zM680 611.6h2.7v2.7h-2.7zM729.2 611.6h21.4v2.7h-21.4zM797.1 611.6h5v2.7h-5zM806.4 611.6h7.4v2.7h-7.4zM644.9 613.9h2.7v2.7h-2.7zM722.1 613.9h16.7v2.7h-16.7zM743.2 613.9h2.7v2.7h-2.7zM792.4 613.9h2.7v2.7h-2.7zM797.1 613.9h7.4v2.7h-7.4zM806.4 613.9h7.4v2.7h-7.4zM644.9 616.2h2.7v2.7h-2.7zM722.1 616.2h12.1v2.7h-12.1zM736.2 616.2h2.7v2.7h-2.7zM743.2 616.2h2.7v2.7h-2.7zM792.4 616.2h2.7v2.7h-2.7zM797.1 616.2h7.4v2.7h-7.4zM808.8 616.2h2.7v2.7h-2.7zM644.9 618.6h2.7v2.7h-2.7zM722.1 618.6h16.7v2.7h-16.7zM743.2 618.6h2.7v2.7h-2.7zM792.4 618.6h2.7v2.7h-2.7zM797.1 618.6h7.4v2.7h-7.4zM806.4 618.6h7.4v2.7h-7.4zM642.5 620.9h5v2.7h-5zM722.1 620.9h5v2.7h-5zM729.2 620.9h2.7v2.7h-2.7zM792.4 620.9h2.7v2.7h-2.7zM797.1 620.9h2.7v2.7h-2.7zM801.7 620.9h2.7v2.7h-2.7zM644.9 623.3h2.7v2.7h-2.7zM656.6 623.3h2.7v2.7h-2.7zM722.1 623.3h16.7v2.7h-16.7zM740.9 623.3h7.4v2.7h-7.4zM792.4 623.3h2.7v2.7h-2.7zM797.1 623.3h7.4v2.7h-7.4zM806.4 623.3h7.4v2.7h-7.4zM644.9 625.6h2.7v2.7h-2.7zM722.1 625.6h14.4v2.7h-14.4zM743.2 625.6h2.7v2.7h-2.7zM792.4 625.6h2.7v2.7h-2.7zM797.1 625.6h7.4v2.7h-7.4zM808.8 625.6h2.7v2.7h-2.7zM644.9 628h2.7v2.7h-2.7zM722.1 628h26.1v2.7h-26.1zM792.4 628h2.7v2.7h-2.7zM797.1 628h7.4v2.7h-7.4zM806.4 628h7.4v2.7h-7.4zM644.9 630.3h5v2.7h-5zM722.1 630.3h16.7v2.7h-16.7zM743.2 630.3h2.7v2.7h-2.7zM792.4 630.3h2.7v2.7h-2.7zM797.1 630.3h7.4v2.7h-7.4zM806.4 630.3h7.4v2.7h-7.4zM642.5 632.6h5v2.7h-5zM722.1 632.6h7.4v2.7h-7.4zM792.4 632.6h2.7v2.7h-2.7zM797.1 632.6h2.7v2.7h-2.7zM808.8 632.6h2.7v2.7h-2.7zM642.5 635h5v2.7h-5zM722.1 635h2.7v2.7h-2.7zM726.8 635h5v2.7h-5zM792.4 635h2.7v2.7h-2.7zM801.7 635h2.7v2.7h-2.7zM644.9 637.3h2.7v2.7h-2.7zM722.1 637.3h16.7v2.7h-16.7zM743.2 637.3h2.7v2.7h-2.7zM792.4 637.3h2.7v2.7h-2.7zM797.1 637.3h7.4v2.7h-7.4zM808.8 637.3h5v2.7h-5zM644.9 639.7h2.7v2.3h-2.7zM722.1 639.7h9.7v2.3h-9.7zM792.4 639.7h2.7v2.3h-2.7zM797.1 639.7h7.4v2.3h-7.4zM808.8 639.7h2.7v2.3h-2.7z" fill="#3d4c89"/>
<path d="M630.8 393.8h2.7v2.7h-2.7zM637.8 400.8h2.7v2.7h-2.7zM647.2 405.5h2.7v2.7h-2.7zM651.9 405.5h37.8v2.7h-37.8zM644.9 407.9h2.7v2.7h-2.7zM680 407.9h2.7v2.7h-2.7zM642.5 410.2h2.7v2.7h-2.7zM745.5 410.2h5v2.7h-5zM850.9 410.2h16.7v2.7h-16.7zM869.6 410.2h9.4v2.7h-9.4zM740.9 412.6h2.7v2.7h-2.7zM745.5 412.6h5v2.7h-5zM806.4 412.6h2.7v2.7h-2.7zM843.9 412.6h5v2.7h-5zM850.9 412.6h7.4v2.7h-7.4zM860.3 412.6h9.7v2.7h-9.7zM874.3 412.6h4.7v2.7h-4.7zM642.5 414.9h2.7v2.7h-2.7zM747.9 414.9h2.7v2.7h-2.7zM846.2 414.9h2.7v2.7h-2.7zM850.9 414.9h21.4v2.7h-21.4zM874.3 414.9h4.7v2.7h-4.7zM642.5 417.2h2.7v2.7h-2.7zM745.5 417.2h5v2.7h-5zM846.2 417.2h2.7v2.7h-2.7zM850.9 417.2h7.4v2.7h-7.4zM860.3 417.2h18.7v2.7h-18.7zM642.5 419.6h2.7v2.7h-2.7zM738.5 419.6h5v2.7h-5zM745.5 419.6h5v2.7h-5zM846.2 419.6h2.7v2.7h-2.7zM850.9 419.6h9.7v2.7h-9.7zM862.6 419.6h16.4v2.7h-16.4zM642.5 421.9h2.7v2.7h-2.7zM745.5 421.9h5v2.7h-5zM850.9 421.9h7.4v2.7h-7.4zM860.3 421.9h12.1v2.7h-12.1zM874.3 421.9h4.7v2.7h-4.7zM642.5 424.3h2.7v2.7h-2.7zM738.5 424.3h5v2.7h-5zM745.5 424.3h5v2.7h-5zM806.4 424.3h2.7v2.7h-2.7zM843.9 424.3h5v2.7h-5zM850.9 424.3h7.4v2.7h-7.4zM860.3 424.3h9.7v2.7h-9.7zM874.3 424.3h4.7v2.7h-4.7zM642.5 426.6h2.7v2.7h-2.7zM733.8 426.6h2.7v2.7h-2.7zM738.5 426.6h5v2.7h-5zM745.5 426.6h5v2.7h-5zM843.9 426.6h9.7v2.7h-9.7zM855.6 426.6h2.7v2.7h-2.7zM860.3 426.6h2.7v2.7h-2.7zM865 426.6h5v2.7h-5zM874.3 426.6h4.7v2.7h-4.7zM642.5 428.9h2.7v2.7h-2.7zM724.5 428.9h2.7v2.7h-2.7zM729.2 428.9h19.1v2.7h-19.1zM797.1 428.9h5v2.7h-5zM806.4 428.9h2.7v2.7h-2.7zM811.1 428.9h2.7v2.7h-2.7zM834.5 428.9h16.7v2.7h-16.7zM860.3 428.9h2.7v2.7h-2.7zM642.5 431.3h2.7v2.7h-2.7zM731.5 431.3h12.1v2.7h-12.1zM745.5 431.3h5v2.7h-5zM806.4 431.3h2.7v2.7h-2.7zM811.1 431.3h2.7v2.7h-2.7zM836.9 431.3h2.7v2.7h-2.7zM841.5 431.3h12.1v2.7h-12.1zM860.3 431.3h2.7v2.7h-2.7zM865 431.3h5v2.7h-5zM874.3 431.3h2.7v2.7h-2.7zM642.5 433.6h2.7v2.7h-2.7zM733.8 433.6h9.7v2.7h-9.7zM745.5 433.6h5v2.7h-5zM806.4 433.6h2.7v2.7h-2.7zM811.1 433.6h2.7v2.7h-2.7zM843.9 433.6h14.4v2.7h-14.4zM860.3 433.6h9.7v2.7h-9.7zM874.3 433.6h2.7v2.7h-2.7zM642.5 436h2.7v2.7h-2.7zM731.5 436h16.7v2.7h-16.7zM799.4 436h2.7v2.7h-2.7zM806.4 436h2.7v2.7h-2.7zM811.1 436h2.7v2.7h-2.7zM834.5 436h5v2.7h-5zM841.5 436h12.1v2.7h-12.1zM860.3 436h2.7v2.7h-2.7zM865 436h5v2.7h-5zM874.3 436h2.7v2.7h-2.7zM642.5 438.3h2.7v2.7h-2.7zM731.5 438.3h16.7v2.7h-16.7zM799.4 438.3h2.7v2.7h-2.7zM806.4 438.3h2.7v2.7h-2.7zM811.1 438.3h2.7v2.7h-2.7zM834.5 438.3h19.1v2.7h-19.1zM860.3 438.3h2.7v2.7h-2.7zM865 438.3h5v2.7h-5zM642.5 440.6h2.7v2.7h-2.7zM729.2 440.6h19.1v2.7h-19.1zM797.1 440.6h5v2.7h-5zM806.4 440.6h7.4v2.7h-7.4zM836.9 440.6h16.7v2.7h-16.7zM860.3 440.6h2.7v2.7h-2.7zM867.3 440.6h2.7v2.7h-2.7zM642.5 443h5v2.7h-5zM738.5 443h5v2.7h-5zM745.5 443h5v2.7h-5zM806.4 443h2.7v2.7h-2.7zM843.9 443h5v2.7h-5zM850.9 443h7.4v2.7h-7.4zM860.3 443h9.7v2.7h-9.7zM874.3 443h4.7v2.7h-4.7zM642.5 445.3h2.7v2.7h-2.7zM724.5 445.3h16.7v2.7h-16.7zM743.2 445.3h2.7v2.7h-2.7zM797.1 445.3h7.4v2.7h-7.4zM806.4 445.3h7.4v2.7h-7.4zM829.8 445.3h2.7v2.7h-2.7zM834.5 445.3h16.7v2.7h-16.7zM642.5 447.7h2.7v2.7h-2.7zM724.5 447.7h21.4v2.7h-21.4zM797.1 447.7h7.4v2.7h-7.4zM806.4 447.7h7.4v2.7h-7.4zM834.5 447.7h9.7v2.7h-9.7zM846.2 447.7h5v2.7h-5zM642.5 450h2.7v2.7h-2.7zM724.5 450h23.8v2.7h-23.8zM797.1 450h7.4v2.7h-7.4zM806.4 450h7.4v2.7h-7.4zM834.5 450h16.7v2.7h-16.7zM701.1 452.4h14.4v2.7h-14.4zM703.4 454.7h9.7v2.7h-9.7zM703.4 457h12.1v2.7h-12.1zM701.1 459.4h14.4v2.7h-14.4zM703.4 461.7h2.7v2.7h-2.7zM712.8 461.7h2.7v2.7h-2.7zM689.4 464.1h2.7v2.7h-2.7zM696.4 464.1h2.7v2.7h-2.7zM712.8 464.1h2.7v2.7h-2.7zM717.5 464.1h2.7v2.7h-2.7zM689.4 466.4h12.1v2.7h-12.1zM703.4 466.4h2.7v2.7h-2.7zM708.1 466.4h7.4v2.7h-7.4zM689.4 468.7h9.7v2.7h-9.7zM712.8 468.7h2.7v2.7h-2.7zM689.4 471.1h9.7v2.7h-9.7zM703.4 471.1h2.7v2.7h-2.7zM712.8 471.1h7.4v2.7h-7.4zM689.4 473.4h9.7v2.7h-9.7zM703.4 473.4h2.7v2.7h-2.7zM715.1 473.4h5v2.7h-5zM689.4 475.8h2.7v2.7h-2.7zM694 475.8h16.7v2.7h-16.7zM712.8 475.8h7.4v2.7h-7.4zM708.1 478.1h7.4v2.7h-7.4zM717.5 478.1h2.7v2.7h-2.7zM701.1 480.5h2.7v2.7h-2.7zM708.1 480.5h12.1v2.7h-12.1zM722.1 485.1h2.7v2.7h-2.7zM726.8 485.1h23.8v2.7h-23.8zM665.9 487.5h2.7v2.7h-2.7zM682.3 487.5h7.4v2.7h-7.4zM743.2 487.5h2.7v2.7h-2.7zM872 487.5h2.7v2.7h-2.7zM682.3 489.8h7.4v2.7h-7.4zM722.1 489.8h2.7v2.7h-2.7zM743.2 489.8h2.7v2.7h-2.7zM857.9 489.8h2.7v2.7h-2.7zM665.9 492.2h2.7v2.7h-2.7zM677.6 492.2h2.7v2.7h-2.7zM682.3 492.2h7.4v2.7h-7.4zM722.1 492.2h2.7v2.7h-2.7zM743.2 492.2h2.7v2.7h-2.7zM869.6 492.2h2.7v2.7h-2.7zM665.9 494.5h5v2.7h-5zM673 494.5h7.4v2.7h-7.4zM682.3 494.5h7.4v2.7h-7.4zM722.1 494.5h2.7v2.7h-2.7zM857.9 494.5h2.7v2.7h-2.7zM869.6 494.5h5v2.7h-5zM876.7 494.5h2.3v2.7h-2.3zM663.6 496.8h16.7v2.7h-16.7zM682.3 496.8h7.4v2.7h-7.4zM722.1 496.8h2.7v2.7h-2.7zM853.2 496.8h2.7v2.7h-2.7zM857.9 496.8h2.7v2.7h-2.7zM869.6 496.8h5v2.7h-5zM876.7 496.8h2.3v2.7h-2.3zM665.9 499.2h14.4v2.7h-14.4zM682.3 499.2h7.4v2.7h-7.4zM722.1 499.2h2.7v2.7h-2.7zM857.9 499.2h2.7v2.7h-2.7zM862.6 499.2h2.7v2.7h-2.7zM869.6 499.2h5v2.7h-5zM876.7 499.2h2.3v2.7h-2.3zM656.6 501.5h2.7v2.7h-2.7zM661.3 501.5h28.4v2.7h-28.4zM722.1 501.5h2.7v2.7h-2.7zM850.9 501.5h14.4v2.7h-14.4zM867.3 501.5h11.7v2.7h-11.7zM649.6 503.9h2.7v2.7h-2.7zM656.6 503.9h2.7v2.7h-2.7zM661.3 503.9h21.4v2.7h-21.4zM684.7 503.9h5v2.7h-5zM722.1 503.9h2.7v2.7h-2.7zM850.9 503.9h9.7v2.7h-9.7zM862.6 503.9h2.7v2.7h-2.7zM867.3 503.9h11.7v2.7h-11.7zM665.9 506.2h2.7v2.7h-2.7zM673 506.2h7.4v2.7h-7.4zM682.3 506.2h7.4v2.7h-7.4zM722.1 506.2h9.7v2.7h-9.7zM857.9 506.2h2.7v2.7h-2.7zM869.6 506.2h5v2.7h-5zM876.7 506.2h2.3v2.7h-2.3zM647.2 508.5h5v2.7h-5zM654.2 508.5h28.4v2.7h-28.4zM687 508.5h2.7v2.7h-2.7zM722.1 508.5h2.7v2.7h-2.7zM850.9 508.5h9.7v2.7h-9.7zM862.6 508.5h2.7v2.7h-2.7zM867.3 508.5h11.7v2.7h-11.7zM647.2 510.9h19.1v2.7h-19.1zM668.3 510.9h5v2.7h-5zM680 510.9h2.7v2.7h-2.7zM722.1 510.9h2.7v2.7h-2.7zM843.9 510.9h5v2.7h-5zM850.9 510.9h7.4v2.7h-7.4zM860.3 510.9h9.7v2.7h-9.7zM874.3 510.9h4.7v2.7h-4.7zM815.8 513.2h9.7v2.7h-9.7zM818.1 515.6h2.7v2.7h-2.7zM785.3 517.9h5v2.7h-5zM818.1 520.3h2.7v2.7h-2.7zM815.8 522.6h5v2.7h-5zM818.1 524.9h2.7v2.7h-2.7zM785.3 527.3h5v2.7h-5zM815.8 529.6h5v2.7h-5zM787.7 532h2.7v2.7h-2.7zM818.1 536.6h2.7v2.7h-2.7zM754.9 548.3h2.7v2.7h-2.7zM764.3 548.3h2.7v2.7h-2.7zM754.9 550.7h2.7v2.7h-2.7zM764.3 550.7h2.7v2.7h-2.7zM769 550.7h2.7v2.7h-2.7zM792.4 555.4h2.7v2.7h-2.7zM797.1 555.4h7.4v2.7h-7.4zM806.4 555.4h7.4v2.7h-7.4zM665.9 560.1h2.7v2.7h-2.7zM677.6 560.1h2.7v2.7h-2.7zM682.3 560.1h7.4v2.7h-7.4zM792.4 560.1h2.7v2.7h-2.7zM808.8 560.1h2.7v2.7h-2.7zM872 560.1h2.7v2.7h-2.7zM665.9 562.4h2.7v2.7h-2.7zM673 562.4h7.4v2.7h-7.4zM682.3 562.4h7.4v2.7h-7.4zM792.4 562.4h2.7v2.7h-2.7zM857.9 562.4h2.7v2.7h-2.7zM869.6 562.4h5v2.7h-5zM682.3 564.7h7.4v2.7h-7.4zM792.4 564.7h2.7v2.7h-2.7zM869.6 564.7h2.7v2.7h-2.7zM806.4 567.1h2.7v2.7h-2.7zM649.6 569.4h2.7v2.7h-2.7zM661.3 569.4h2.7v2.7h-2.7zM665.9 569.4h23.8v2.7h-23.8zM792.4 569.4h2.7v2.7h-2.7zM804.1 569.4h2.7v2.7h-2.7zM853.2 569.4h2.7v2.7h-2.7zM857.9 569.4h2.7v2.7h-2.7zM862.6 569.4h2.7v2.7h-2.7zM869.6 569.4h9.4v2.7h-9.4zM677.6 571.8h2.7v2.7h-2.7zM682.3 571.8h7.4v2.7h-7.4zM792.4 571.8h2.7v2.7h-2.7zM797.1 571.8h2.7v2.7h-2.7zM857.9 571.8h2.7v2.7h-2.7zM872 571.8h2.7v2.7h-2.7zM665.9 574.1h14.4v2.7h-14.4zM682.3 574.1h7.4v2.7h-7.4zM792.4 574.1h2.7v2.7h-2.7zM813.4 574.1h2.7v2.7h-2.7zM853.2 574.1h2.7v2.7h-2.7zM857.9 574.1h2.7v2.7h-2.7zM862.6 574.1h2.7v2.7h-2.7zM869.6 574.1h5v2.7h-5zM876.7 574.1h2.3v2.7h-2.3zM811.1 576.4h9.7v2.7h-9.7zM750.2 578.8h2.7v2.7h-2.7zM759.6 578.8h2.7v2.7h-2.7zM766.6 578.8h2.7v2.7h-2.7zM813.4 578.8h2.7v2.7h-2.7zM750.2 581.1h5v2.7h-5zM757.3 581.1h7.4v2.7h-7.4zM766.6 581.1h2.7v2.7h-2.7zM773.6 581.1h2.7v2.7h-2.7zM813.4 581.1h2.7v2.7h-2.7zM750.2 583.5h2.7v2.7h-2.7zM750.2 585.8h2.7v2.7h-2.7zM827.5 590.5h26.1v2.7h-26.1zM855.6 590.5h2.7v2.7h-2.7zM860.3 590.5h9.7v2.7h-9.7zM874.3 590.5h2.7v2.7h-2.7zM682.3 592.8h2.7v2.7h-2.7zM827.5 592.8h2.7v2.7h-2.7zM839.2 592.8h5v2.7h-5zM848.6 592.8h2.7v2.7h-2.7zM860.3 592.8h2.7v2.7h-2.7zM865 592.8h2.7v2.7h-2.7zM827.5 595.2h2.7v2.7h-2.7zM839.2 595.2h2.7v2.7h-2.7zM848.6 595.2h2.7v2.7h-2.7zM865 595.2h5v2.7h-5zM874.3 595.2h2.7v2.7h-2.7zM665.9 597.5h2.7v2.7h-2.7zM673 597.5h5v2.7h-5zM682.3 597.5h7.4v2.7h-7.4zM827.5 597.5h2.7v2.7h-2.7zM665.9 599.9h5v2.7h-5zM673 599.9h7.4v2.7h-7.4zM682.3 599.9h7.4v2.7h-7.4zM827.5 599.9h2.7v2.7h-2.7zM665.9 602.2h2.7v2.7h-2.7zM675.3 602.2h5v2.7h-5zM682.3 602.2h7.4v2.7h-7.4zM827.5 602.2h7.4v2.7h-7.4zM665.9 604.5h5v2.7h-5zM673 604.5h7.4v2.7h-7.4zM682.3 604.5h7.4v2.7h-7.4zM827.5 604.5h5v2.7h-5zM649.6 606.9h2.7v2.7h-2.7zM661.3 606.9h23.8v2.7h-23.8zM687 606.9h2.7v2.7h-2.7zM747.9 606.9h2.7v2.7h-2.7zM827.5 606.9h2.7v2.7h-2.7zM649.6 609.2h9.7v2.7h-9.7zM661.3 609.2h28.4v2.7h-28.4zM747.9 609.2h2.7v2.7h-2.7zM827.5 609.2h2.7v2.7h-2.7zM663.6 611.6h16.7v2.7h-16.7zM682.3 611.6h7.4v2.7h-7.4zM827.5 611.6h7.4v2.7h-7.4zM647.2 613.9h19.1v2.7h-19.1zM668.3 613.9h14.4v2.7h-14.4zM738.5 613.9h5v2.7h-5zM745.5 613.9h5v2.7h-5zM827.5 613.9h2.7v2.7h-2.7zM647.2 616.2h16.7v2.7h-16.7zM670.6 616.2h2.7v2.7h-2.7zM680 616.2h2.7v2.7h-2.7zM733.8 616.2h2.7v2.7h-2.7zM738.5 616.2h5v2.7h-5zM745.5 616.2h5v2.7h-5zM806.4 616.2h2.7v2.7h-2.7zM811.1 616.2h2.7v2.7h-2.7zM647.2 618.6h19.1v2.7h-19.1zM670.6 618.6h2.7v2.7h-2.7zM680 618.6h2.7v2.7h-2.7zM738.5 618.6h5v2.7h-5zM745.5 618.6h5v2.7h-5zM827.5 618.6h2.7v2.7h-2.7zM647.2 620.9h2.7v2.7h-2.7zM651.9 620.9h2.7v2.7h-2.7zM656.6 620.9h2.7v2.7h-2.7zM726.8 620.9h2.7v2.7h-2.7zM731.5 620.9h16.7v2.7h-16.7zM799.4 620.9h2.7v2.7h-2.7zM806.4 620.9h7.4v2.7h-7.4zM647.2 623.3h9.7v2.7h-9.7zM658.9 623.3h23.8v2.7h-23.8zM738.5 623.3h2.7v2.7h-2.7zM747.9 623.3h2.7v2.7h-2.7zM827.5 623.3h5v2.7h-5zM647.2 625.6h16.7v2.7h-16.7zM670.6 625.6h2.7v2.7h-2.7zM680 625.6h2.7v2.7h-2.7zM736.2 625.6h7.4v2.7h-7.4zM745.5 625.6h5v2.7h-5zM806.4 625.6h2.7v2.7h-2.7zM811.1 625.6h2.7v2.7h-2.7zM827.5 625.6h2.7v2.7h-2.7zM647.2 628h19.1v2.7h-19.1zM668.3 628h9.7v2.7h-9.7zM680 628h2.7v2.7h-2.7zM747.9 628h2.7v2.7h-2.7zM827.5 628h7.4v2.7h-7.4zM649.6 630.3h16.7v2.7h-16.7zM668.3 630.3h14.4v2.7h-14.4zM738.5 630.3h5v2.7h-5zM745.5 630.3h5v2.7h-5zM827.5 630.3h2.7v2.7h-2.7zM832.2 630.3h2.7v2.7h-2.7zM647.2 632.6h2.7v2.7h-2.7zM651.9 632.6h9.7v2.7h-9.7zM729.2 632.6h19.1v2.7h-19.1zM799.4 632.6h5v2.7h-5zM806.4 632.6h2.7v2.7h-2.7zM811.1 632.6h2.7v2.7h-2.7zM647.2 635h2.7v2.7h-2.7zM654.2 635h5v2.7h-5zM724.5 635h2.7v2.7h-2.7zM731.5 635h16.7v2.7h-16.7zM797.1 635h5v2.7h-5zM806.4 635h7.4v2.7h-7.4zM647.2 637.3h19.1v2.7h-19.1zM668.3 637.3h7.4v2.7h-7.4zM680 637.3h2.7v2.7h-2.7zM738.5 637.3h5v2.7h-5zM745.5 637.3h5v2.7h-5zM806.4 637.3h2.7v2.7h-2.7zM827.5 637.3h2.7v2.7h-2.7zM832.2 637.3h2.7v2.7h-2.7zM647.2 639.7h19.1v2.3h-19.1zM680 639.7h2.7v2.3h-2.7zM731.5 639.7h19.1v2.3h-19.1zM806.4 639.7h2.7v2.3h-2.7zM811.1 639.7h2.7v2.3h-2.7z" fill="#34608c"/>
<path d="M649.6 405.5h2.7v2.7h-2.7zM651.9 407.9h14.4v2.7h-14.4zM668.3 407.9h12.1v2.7h-12.1zM682.3 407.9h7.4v2.7h-7.4zM642.5 412.6h2.7v2.7h-2.7zM857.9 412.6h2.7v2.7h-2.7zM869.6 412.6h5v2.7h-5zM644.9 414.9h2.7v2.7h-2.7zM872 414.9h2.7v2.7h-2.7zM644.9 417.2h2.7v2.7h-2.7zM857.9 417.2h2.7v2.7h-2.7zM644.9 419.6h2.7v2.7h-2.7zM644.9 421.9h2.7v2.7h-2.7zM857.9 421.9h2.7v2.7h-2.7zM872 421.9h2.7v2.7h-2.7zM644.9 424.3h2.7v2.7h-2.7zM857.9 424.3h2.7v2.7h-2.7zM869.6 424.3h5v2.7h-5zM644.9 426.6h2.7v2.7h-2.7zM853.2 426.6h2.7v2.7h-2.7zM857.9 426.6h2.7v2.7h-2.7zM862.6 426.6h2.7v2.7h-2.7zM869.6 426.6h5v2.7h-5zM747.9 428.9h2.7v2.7h-2.7zM850.9 428.9h9.7v2.7h-9.7zM862.6 428.9h16.4v2.7h-16.4zM644.9 431.3h2.7v2.7h-2.7zM853.2 431.3h7.4v2.7h-7.4zM862.6 431.3h2.7v2.7h-2.7zM869.6 431.3h5v2.7h-5zM876.7 431.3h2.3v2.7h-2.3zM644.9 433.6h2.7v2.7h-2.7zM857.9 433.6h2.7v2.7h-2.7zM869.6 433.6h5v2.7h-5zM876.7 433.6h2.3v2.7h-2.3zM644.9 436h2.7v2.7h-2.7zM747.9 436h2.7v2.7h-2.7zM853.2 436h7.4v2.7h-7.4zM862.6 436h2.7v2.7h-2.7zM869.6 436h5v2.7h-5zM876.7 436h2.3v2.7h-2.3zM644.9 438.3h2.7v2.7h-2.7zM747.9 438.3h2.7v2.7h-2.7zM853.2 438.3h7.4v2.7h-7.4zM862.6 438.3h2.7v2.7h-2.7zM869.6 438.3h9.4v2.7h-9.4zM644.9 440.6h2.7v2.7h-2.7zM747.9 440.6h2.7v2.7h-2.7zM853.2 440.6h7.4v2.7h-7.4zM862.6 440.6h5v2.7h-5zM869.6 440.6h9.4v2.7h-9.4zM857.9 443h2.7v2.7h-2.7zM869.6 443h5v2.7h-5zM644.9 445.3h2.7v2.7h-2.7zM740.9 445.3h2.7v2.7h-2.7zM745.5 445.3h5v2.7h-5zM850.9 445.3h7.4v2.7h-7.4zM860.3 445.3h9.7v2.7h-9.7zM874.3 445.3h4.7v2.7h-4.7zM644.9 447.7h2.7v2.7h-2.7zM745.5 447.7h5v2.7h-5zM843.9 447.7h2.7v2.7h-2.7zM850.9 447.7h7.4v2.7h-7.4zM860.3 447.7h9.7v2.7h-9.7zM874.3 447.7h4.7v2.7h-4.7zM644.9 450h2.7v2.7h-2.7zM747.9 450h2.7v2.7h-2.7zM850.9 450h7.4v2.7h-7.4zM860.3 450h9.7v2.7h-9.7zM874.3 450h4.7v2.7h-4.7zM691.7 452.4h9.7v2.7h-9.7zM689.4 454.7h14.4v2.7h-14.4zM689.4 457h14.4v2.7h-14.4zM689.4 459.4h12.1v2.7h-12.1zM689.4 461.7h9.7v2.7h-9.7zM701.1 461.7h2.7v2.7h-2.7zM705.7 461.7h7.4v2.7h-7.4zM691.7 464.1h5v2.7h-5zM698.7 464.1h14.4v2.7h-14.4zM701.1 466.4h2.7v2.7h-2.7zM705.7 466.4h2.7v2.7h-2.7zM698.7 468.7h14.4v2.7h-14.4zM698.7 471.1h5v2.7h-5zM705.7 471.1h7.4v2.7h-7.4zM698.7 473.4h5v2.7h-5zM705.7 473.4h5v2.7h-5zM712.8 473.4h2.7v2.7h-2.7zM710.4 475.8h2.7v2.7h-2.7zM724.5 485.1h2.7v2.7h-2.7zM722.1 487.5h21.4v2.7h-21.4zM745.5 487.5h5v2.7h-5zM724.5 489.8h19.1v2.7h-19.1zM745.5 489.8h5v2.7h-5zM724.5 492.2h7.4v2.7h-7.4zM733.8 492.2h9.7v2.7h-9.7zM745.5 492.2h5v2.7h-5zM724.5 494.5h5v2.7h-5zM743.2 494.5h5v2.7h-5zM724.5 496.8h7.4v2.7h-7.4zM743.2 496.8h2.7v2.7h-2.7zM724.5 499.2h7.4v2.7h-7.4zM743.2 499.2h2.7v2.7h-2.7zM724.5 501.5h7.4v2.7h-7.4zM682.3 503.9h2.7v2.7h-2.7zM724.5 503.9h7.4v2.7h-7.4zM731.5 506.2h7.4v2.7h-7.4zM682.3 508.5h5v2.7h-5zM724.5 508.5h9.7v2.7h-9.7zM665.9 510.9h2.7v2.7h-2.7zM673 510.9h7.4v2.7h-7.4zM682.3 510.9h7.4v2.7h-7.4zM724.5 510.9h7.4v2.7h-7.4zM857.9 510.9h2.7v2.7h-2.7zM869.6 510.9h5v2.7h-5zM778.3 513.2h2.7v2.7h-2.7zM785.3 513.2h5v2.7h-5zM771.3 515.6h2.7v2.7h-2.7zM776 515.6h14.4v2.7h-14.4zM769 517.9h5v2.7h-5zM776 517.9h9.7v2.7h-9.7zM776 520.3h14.4v2.7h-14.4zM778.3 522.6h12.1v2.7h-12.1zM778.3 524.9h2.7v2.7h-2.7zM783 524.9h7.4v2.7h-7.4zM776 527.3h9.7v2.7h-9.7zM785.3 529.6h5v2.7h-5zM754.9 532h2.7v2.7h-2.7zM778.3 532h9.7v2.7h-9.7zM752.6 534.3h5v2.7h-5zM778.3 534.3h2.7v2.7h-2.7zM783 534.3h7.4v2.7h-7.4zM785.3 536.6h5v2.7h-5zM752.6 539h7.4v2.7h-7.4zM764.3 539h2.7v2.7h-2.7zM785.3 539h5v2.7h-5zM750.2 541.3h16.7v2.7h-16.7zM769 541.3h5v2.7h-5zM785.3 541.3h5v2.7h-5zM752.6 543.7h9.7v2.7h-9.7zM764.3 543.7h2.7v2.7h-2.7zM769 543.7h2.7v2.7h-2.7zM787.7 543.7h2.7v2.7h-2.7zM752.6 546h14.4v2.7h-14.4zM769 546h5v2.7h-5zM787.7 546h2.7v2.7h-2.7zM750.2 548.3h5v2.7h-5zM757.3 548.3h7.4v2.7h-7.4zM766.6 548.3h14.4v2.7h-14.4zM787.7 548.3h2.7v2.7h-2.7zM750.2 550.7h5v2.7h-5zM757.3 550.7h7.4v2.7h-7.4zM766.6 550.7h2.7v2.7h-2.7zM771.3 550.7h16.7v2.7h-16.7zM797.1 560.1h7.4v2.7h-7.4zM806.4 560.1h2.7v2.7h-2.7zM811.1 560.1h2.7v2.7h-2.7zM797.1 562.4h2.7v2.7h-2.7zM801.7 562.4h2.7v2.7h-2.7zM808.8 562.4h5v2.7h-5zM797.1 564.7h7.4v2.7h-7.4zM808.8 564.7h5v2.7h-5zM797.1 569.4h2.7v2.7h-2.7zM799.4 571.8h5v2.7h-5zM808.8 571.8h2.7v2.7h-2.7zM797.1 574.1h7.4v2.7h-7.4zM825.2 588.2h2.7v2.7h-2.7zM853.2 590.5h2.7v2.7h-2.7zM857.9 590.5h2.7v2.7h-2.7zM869.6 590.5h5v2.7h-5zM876.7 590.5h2.3v2.7h-2.3zM829.8 592.8h9.7v2.7h-9.7zM843.9 592.8h5v2.7h-5zM850.9 592.8h7.4v2.7h-7.4zM862.6 592.8h2.7v2.7h-2.7zM867.3 592.8h11.7v2.7h-11.7zM829.8 595.2h9.7v2.7h-9.7zM841.5 595.2h7.4v2.7h-7.4zM850.9 595.2h7.4v2.7h-7.4zM860.3 595.2h5v2.7h-5zM869.6 595.2h5v2.7h-5zM876.7 595.2h2.3v2.7h-2.3zM829.8 597.5h5v2.7h-5zM839.2 597.5h14.4v2.7h-14.4zM860.3 597.5h9.7v2.7h-9.7zM874.3 597.5h4.7v2.7h-4.7zM829.8 599.9h5v2.7h-5zM848.6 599.9h2.7v2.7h-2.7zM860.3 599.9h2.7v2.7h-2.7zM865 599.9h5v2.7h-5zM874.3 599.9h2.7v2.7h-2.7zM834.5 602.2h2.7v2.7h-2.7zM848.6 602.2h2.7v2.7h-2.7zM860.3 602.2h9.7v2.7h-9.7zM874.3 602.2h4.7v2.7h-4.7zM832.2 604.5h5v2.7h-5zM848.6 604.5h2.7v2.7h-2.7zM865 604.5h5v2.7h-5zM874.3 604.5h2.7v2.7h-2.7zM684.7 606.9h2.7v2.7h-2.7zM829.8 606.9h7.4v2.7h-7.4zM829.8 609.2h7.4v2.7h-7.4zM834.5 611.6h9.7v2.7h-9.7zM665.9 613.9h2.7v2.7h-2.7zM682.3 613.9h7.4v2.7h-7.4zM829.8 613.9h7.4v2.7h-7.4zM663.6 616.2h7.4v2.7h-7.4zM673 616.2h7.4v2.7h-7.4zM682.3 616.2h7.4v2.7h-7.4zM827.5 616.2h7.4v2.7h-7.4zM665.9 618.6h5v2.7h-5zM673 618.6h7.4v2.7h-7.4zM682.3 618.6h7.4v2.7h-7.4zM829.8 618.6h5v2.7h-5zM649.6 620.9h2.7v2.7h-2.7zM654.2 620.9h2.7v2.7h-2.7zM658.9 620.9h23.8v2.7h-23.8zM747.9 620.9h2.7v2.7h-2.7zM827.5 620.9h2.7v2.7h-2.7zM682.3 623.3h7.4v2.7h-7.4zM832.2 623.3h9.7v2.7h-9.7zM663.6 625.6h7.4v2.7h-7.4zM673 625.6h7.4v2.7h-7.4zM682.3 625.6h7.4v2.7h-7.4zM829.8 625.6h7.4v2.7h-7.4zM839.2 625.6h2.7v2.7h-2.7zM665.9 628h2.7v2.7h-2.7zM677.6 628h2.7v2.7h-2.7zM682.3 628h7.4v2.7h-7.4zM834.5 628h9.7v2.7h-9.7zM665.9 630.3h2.7v2.7h-2.7zM682.3 630.3h7.4v2.7h-7.4zM829.8 630.3h2.7v2.7h-2.7zM834.5 630.3h9.7v2.7h-9.7zM649.6 632.6h2.7v2.7h-2.7zM661.3 632.6h21.4v2.7h-21.4zM747.9 632.6h2.7v2.7h-2.7zM827.5 632.6h7.4v2.7h-7.4zM649.6 635h5v2.7h-5zM658.9 635h23.8v2.7h-23.8zM747.9 635h2.7v2.7h-2.7zM827.5 635h7.4v2.7h-7.4zM665.9 637.3h2.7v2.7h-2.7zM675.3 637.3h5v2.7h-5zM682.3 637.3h7.4v2.7h-7.4zM829.8 637.3h2.7v2.7h-2.7zM834.5 637.3h9.7v2.7h-9.7zM665.9 639.7h14.4v2.3h-14.4zM682.3 639.7h7.4v2.3h-7.4zM827.5 639.7h9.7v2.3h-9.7zM839.2 639.7h2.7v2.3h-2.7z" fill="#2c738e"/>
<path d="M647.2 407.9h5v2.7h-5zM665.9 407.9h2.7v2.7h-2.7zM644.9 410.2h2.7v2.7h-2.7zM680 410.2h2.7v2.7h-2.7zM644.9 412.6h2.7v2.7h-2.7zM680 414.9h2.7v2.7h-2.7zM644.9 428.9h2.7v2.7h-2.7zM647.2 443h2.7v2.7h-2.7zM651.9 443h2.7v2.7h-2.7zM857.9 445.3h2.7v2.7h-2.7zM869.6 445.3h5v2.7h-5zM857.9 447.7h2.7v2.7h-2.7zM869.6 447.7h5v2.7h-5zM857.9 450h2.7v2.7h-2.7zM869.6 450h5v2.7h-5zM689.4 452.4h2.7v2.7h-2.7zM698.7 461.7h2.7v2.7h-2.7zM710.4 473.4h2.7v2.7h-2.7zM731.5 492.2h2.7v2.7h-2.7zM729.2 494.5h14.4v2.7h-14.4zM747.9 494.5h2.7v2.7h-2.7zM731.5 496.8h12.1v2.7h-12.1zM745.5 496.8h5v2.7h-5zM731.5 499.2h7.4v2.7h-7.4zM740.9 499.2h2.7v2.7h-2.7zM745.5 499.2h5v2.7h-5zM731.5 501.5h5v2.7h-5zM743.2 501.5h2.7v2.7h-2.7zM731.5 503.9h7.4v2.7h-7.4zM738.5 506.2h2.7v2.7h-2.7zM743.2 506.2h2.7v2.7h-2.7zM733.8 508.5h5v2.7h-5zM731.5 510.9h7.4v2.7h-7.4zM764.3 513.2h2.7v2.7h-2.7zM769 513.2h9.7v2.7h-9.7zM780.7 513.2h5v2.7h-5zM764.3 515.6h2.7v2.7h-2.7zM769 515.6h2.7v2.7h-2.7zM773.6 515.6h2.7v2.7h-2.7zM761.9 517.9h7.4v2.7h-7.4zM773.6 517.9h2.7v2.7h-2.7zM764.3 520.3h2.7v2.7h-2.7zM769 520.3h7.4v2.7h-7.4zM769 522.6h9.7v2.7h-9.7zM754.9 524.9h2.7v2.7h-2.7zM769 524.9h5v2.7h-5zM776 524.9h2.7v2.7h-2.7zM780.7 524.9h2.7v2.7h-2.7zM750.2 527.3h9.7v2.7h-9.7zM764.3 527.3h2.7v2.7h-2.7zM769 527.3h7.4v2.7h-7.4zM754.9 529.6h2.7v2.7h-2.7zM776 529.6h9.7v2.7h-9.7zM750.2 532h5v2.7h-5zM757.3 532h9.7v2.7h-9.7zM769 532h9.7v2.7h-9.7zM750.2 534.3h2.7v2.7h-2.7zM757.3 534.3h9.7v2.7h-9.7zM769 534.3h2.7v2.7h-2.7zM776 534.3h2.7v2.7h-2.7zM780.7 534.3h2.7v2.7h-2.7zM750.2 536.6h12.1v2.7h-12.1zM764.3 536.6h2.7v2.7h-2.7zM769 536.6h2.7v2.7h-2.7zM778.3 536.6h7.4v2.7h-7.4zM750.2 539h2.7v2.7h-2.7zM759.6 539h5v2.7h-5zM766.6 539h7.4v2.7h-7.4zM776 539h9.7v2.7h-9.7zM766.6 541.3h2.7v2.7h-2.7zM773.6 541.3h12.1v2.7h-12.1zM750.2 543.7h2.7v2.7h-2.7zM761.9 543.7h2.7v2.7h-2.7zM766.6 543.7h2.7v2.7h-2.7zM771.3 543.7h9.7v2.7h-9.7zM785.3 543.7h2.7v2.7h-2.7zM750.2 546h2.7v2.7h-2.7zM766.6 546h2.7v2.7h-2.7zM773.6 546h7.4v2.7h-7.4zM785.3 546h2.7v2.7h-2.7zM780.7 548.3h7.4v2.7h-7.4zM787.7 550.7h2.7v2.7h-2.7zM799.4 562.4h2.7v2.7h-2.7zM806.4 562.4h2.7v2.7h-2.7zM806.4 564.7h2.7v2.7h-2.7zM799.4 569.4h5v2.7h-5zM808.8 569.4h5v2.7h-5zM806.4 571.8h2.7v2.7h-2.7zM811.1 571.8h2.7v2.7h-2.7zM806.4 574.1h7.4v2.7h-7.4zM825.2 578.8h2.7v2.7h-2.7zM825.2 581.1h2.7v2.7h-2.7zM825.2 583.5h2.7v2.7h-2.7zM825.2 585.8h2.7v2.7h-2.7zM815.8 588.2h9.7v2.7h-9.7zM857.9 592.8h2.7v2.7h-2.7zM857.9 595.2h2.7v2.7h-2.7zM834.5 597.5h5v2.7h-5zM853.2 597.5h7.4v2.7h-7.4zM869.6 597.5h5v2.7h-5zM834.5 599.9h14.4v2.7h-14.4zM850.9 599.9h7.4v2.7h-7.4zM862.6 599.9h2.7v2.7h-2.7zM869.6 599.9h5v2.7h-5zM876.7 599.9h2.3v2.7h-2.3zM836.9 602.2h12.1v2.7h-12.1zM850.9 602.2h9.7v2.7h-9.7zM869.6 602.2h5v2.7h-5zM836.9 604.5h5v2.7h-5zM846.2 604.5h2.7v2.7h-2.7zM850.9 604.5h2.7v2.7h-2.7zM855.6 604.5h2.7v2.7h-2.7zM860.3 604.5h5v2.7h-5zM869.6 604.5h5v2.7h-5zM876.7 604.5h2.3v2.7h-2.3zM836.9 606.9h5v2.7h-5zM848.6 606.9h2.7v2.7h-2.7zM860.3 606.9h2.7v2.7h-2.7zM865 606.9h5v2.7h-5zM874.3 606.9h4.7v2.7h-4.7zM836.9 609.2h7.4v2.7h-7.4zM860.3 609.2h2.7v2.7h-2.7zM865 609.2h5v2.7h-5zM874.3 609.2h4.7v2.7h-4.7zM843.9 611.6h2.7v2.7h-2.7zM848.6 611.6h2.7v2.7h-2.7zM860.3 611.6h12.1v2.7h-12.1zM874.3 611.6h4.7v2.7h-4.7zM836.9 613.9h7.4v2.7h-7.4zM834.5 616.2h7.4v2.7h-7.4zM834.5 618.6h9.7v2.7h-9.7zM682.3 620.9h7.4v2.7h-7.4zM829.8 620.9h7.4v2.7h-7.4zM839.2 620.9h2.7v2.7h-2.7zM841.5 623.3h9.7v2.7h-9.7zM836.9 625.6h2.7v2.7h-2.7zM841.5 625.6h2.7v2.7h-2.7zM848.6 625.6h2.7v2.7h-2.7zM843.9 628h7.4v2.7h-7.4zM843.9 630.3h7.4v2.7h-7.4zM682.3 632.6h7.4v2.7h-7.4zM834.5 632.6h9.7v2.7h-9.7zM848.6 632.6h2.7v2.7h-2.7zM682.3 635h7.4v2.7h-7.4zM834.5 635h9.7v2.7h-9.7zM843.9 637.3h7.4v2.7h-7.4zM836.9 639.7h2.7v2.3h-2.7zM841.5 639.7h9.7v2.3h-9.7z" fill="#25848d"/>
<path d="M651.9 410.2h28.4v2.7h-28.4zM682.3 410.2h7.4v2.7h-7.4zM670.6 412.6h2.7v2.7h-2.7zM680 412.6h2.7v2.7h-2.7zM647.2 414.9h2.7v2.7h-2.7zM670.6 414.9h2.7v2.7h-2.7zM675.3 414.9h2.7v2.7h-2.7zM687 414.9h2.7v2.7h-2.7zM647.2 417.2h2.7v2.7h-2.7zM670.6 417.2h2.7v2.7h-2.7zM680 417.2h2.7v2.7h-2.7zM647.2 419.6h2.7v2.7h-2.7zM680 419.6h2.7v2.7h-2.7zM647.2 421.9h2.7v2.7h-2.7zM680 421.9h2.7v2.7h-2.7zM647.2 424.3h2.7v2.7h-2.7zM680 424.3h2.7v2.7h-2.7zM647.2 426.6h2.7v2.7h-2.7zM647.2 428.9h2.7v2.7h-2.7zM647.2 431.3h2.7v2.7h-2.7zM647.2 433.6h9.7v2.7h-9.7zM647.2 436h2.7v2.7h-2.7zM647.2 438.3h2.7v2.7h-2.7zM651.9 438.3h2.7v2.7h-2.7zM647.2 440.6h2.7v2.7h-2.7zM649.6 443h2.7v2.7h-2.7zM654.2 443h9.7v2.7h-9.7zM647.2 445.3h2.7v2.7h-2.7zM647.2 447.7h2.7v2.7h-2.7zM647.2 450h2.7v2.7h-2.7zM651.9 450h2.7v2.7h-2.7zM738.5 499.2h2.7v2.7h-2.7zM736.2 501.5h2.7v2.7h-2.7zM740.9 501.5h2.7v2.7h-2.7zM745.5 501.5h5v2.7h-5zM738.5 503.9h12.1v2.7h-12.1zM740.9 506.2h2.7v2.7h-2.7zM745.5 506.2h5v2.7h-5zM738.5 508.5h7.4v2.7h-7.4zM738.5 510.9h7.4v2.7h-7.4zM761.9 513.2h2.7v2.7h-2.7zM766.6 513.2h2.7v2.7h-2.7zM754.9 515.6h2.7v2.7h-2.7zM759.6 515.6h5v2.7h-5zM766.6 515.6h2.7v2.7h-2.7zM752.6 517.9h9.7v2.7h-9.7zM754.9 520.3h2.7v2.7h-2.7zM761.9 520.3h2.7v2.7h-2.7zM766.6 520.3h2.7v2.7h-2.7zM752.6 522.6h5v2.7h-5zM764.3 522.6h5v2.7h-5zM750.2 524.9h5v2.7h-5zM757.3 524.9h2.7v2.7h-2.7zM764.3 524.9h2.7v2.7h-2.7zM773.6 524.9h2.7v2.7h-2.7zM759.6 527.3h5v2.7h-5zM766.6 527.3h2.7v2.7h-2.7zM750.2 529.6h5v2.7h-5zM757.3 529.6h5v2.7h-5zM764.3 529.6h2.7v2.7h-2.7zM769 529.6h7.4v2.7h-7.4zM766.6 532h2.7v2.7h-2.7zM766.6 534.3h2.7v2.7h-2.7zM771.3 534.3h5v2.7h-5zM761.9 536.6h2.7v2.7h-2.7zM766.6 536.6h2.7v2.7h-2.7zM771.3 536.6h2.7v2.7h-2.7zM776 536.6h2.7v2.7h-2.7zM773.6 539h2.7v2.7h-2.7zM780.7 543.7h5v2.7h-5zM780.7 546h5v2.7h-5zM806.4 569.4h2.7v2.7h-2.7zM820.5 578.8h5v2.7h-5zM820.5 581.1h5v2.7h-5zM815.8 583.5h9.7v2.7h-9.7zM815.8 585.8h9.7v2.7h-9.7zM857.9 599.9h2.7v2.7h-2.7zM841.5 604.5h5v2.7h-5zM853.2 604.5h2.7v2.7h-2.7zM857.9 604.5h2.7v2.7h-2.7zM841.5 606.9h2.7v2.7h-2.7zM850.9 606.9h2.7v2.7h-2.7zM855.6 606.9h2.7v2.7h-2.7zM862.6 606.9h2.7v2.7h-2.7zM869.6 606.9h5v2.7h-5zM848.6 609.2h2.7v2.7h-2.7zM862.6 609.2h2.7v2.7h-2.7zM869.6 609.2h5v2.7h-5zM846.2 611.6h2.7v2.7h-2.7zM853.2 611.6h5v2.7h-5zM872 611.6h2.7v2.7h-2.7zM843.9 613.9h2.7v2.7h-2.7zM860.3 613.9h2.7v2.7h-2.7zM865 613.9h5v2.7h-5zM874.3 613.9h4.7v2.7h-4.7zM841.5 616.2h2.7v2.7h-2.7zM848.6 616.2h2.7v2.7h-2.7zM874.3 616.2h2.7v2.7h-2.7zM843.9 618.6h2.7v2.7h-2.7zM848.6 618.6h2.7v2.7h-2.7zM867.3 618.6h2.7v2.7h-2.7zM874.3 618.6h2.7v2.7h-2.7zM836.9 620.9h2.7v2.7h-2.7zM841.5 620.9h2.7v2.7h-2.7zM850.9 623.3h2.7v2.7h-2.7zM874.3 623.3h2.7v2.7h-2.7zM843.9 625.6h5v2.7h-5zM850.9 628h2.7v2.7h-2.7zM850.9 630.3h2.7v2.7h-2.7zM855.6 630.3h2.7v2.7h-2.7zM843.9 632.6h5v2.7h-5zM843.9 635h7.4v2.7h-7.4zM850.9 637.3h7.4v2.7h-7.4zM860.3 637.3h2.7v2.7h-2.7zM850.9 639.7h2.7v2.3h-2.7z" fill="#209889"/>
<path d="M647.2 410.2h5v2.7h-5zM647.2 412.6h2.7v2.7h-2.7zM654.2 412.6h16.7v2.7h-16.7zM673 412.6h7.4v2.7h-7.4zM682.3 412.6h7.4v2.7h-7.4zM654.2 414.9h16.7v2.7h-16.7zM673 414.9h2.7v2.7h-2.7zM677.6 414.9h2.7v2.7h-2.7zM682.3 414.9h5v2.7h-5zM649.6 417.2h5v2.7h-5zM656.6 417.2h9.7v2.7h-9.7zM668.3 417.2h2.7v2.7h-2.7zM673 417.2h7.4v2.7h-7.4zM682.3 417.2h7.4v2.7h-7.4zM649.6 419.6h7.4v2.7h-7.4zM658.9 419.6h7.4v2.7h-7.4zM668.3 419.6h12.1v2.7h-12.1zM682.3 419.6h7.4v2.7h-7.4zM649.6 421.9h9.7v2.7h-9.7zM668.3 421.9h12.1v2.7h-12.1zM682.3 421.9h7.4v2.7h-7.4zM649.6 424.3h9.7v2.7h-9.7zM670.6 424.3h2.7v2.7h-2.7zM675.3 424.3h5v2.7h-5zM682.3 424.3h2.7v2.7h-2.7zM687 424.3h2.7v2.7h-2.7zM649.6 426.6h9.7v2.7h-9.7zM680 426.6h2.7v2.7h-2.7zM649.6 428.9h5v2.7h-5zM649.6 431.3h12.1v2.7h-12.1zM680 431.3h2.7v2.7h-2.7zM656.6 433.6h7.4v2.7h-7.4zM680 433.6h2.7v2.7h-2.7zM649.6 436h12.1v2.7h-12.1zM649.6 438.3h2.7v2.7h-2.7zM654.2 438.3h9.7v2.7h-9.7zM649.6 440.6h14.4v2.7h-14.4zM663.6 443h2.7v2.7h-2.7zM668.3 443h5v2.7h-5zM649.6 445.3h14.4v2.7h-14.4zM649.6 447.7h12.1v2.7h-12.1zM649.6 450h2.7v2.7h-2.7zM654.2 450h9.7v2.7h-9.7zM738.5 501.5h2.7v2.7h-2.7zM745.5 508.5h5v2.7h-5zM745.5 510.9h2.7v2.7h-2.7zM754.9 513.2h7.4v2.7h-7.4zM752.6 515.6h2.7v2.7h-2.7zM757.3 515.6h2.7v2.7h-2.7zM750.2 517.9h2.7v2.7h-2.7zM750.2 520.3h5v2.7h-5zM757.3 520.3h5v2.7h-5zM750.2 522.6h2.7v2.7h-2.7zM757.3 522.6h7.4v2.7h-7.4zM759.6 524.9h5v2.7h-5zM766.6 524.9h2.7v2.7h-2.7zM761.9 529.6h2.7v2.7h-2.7zM766.6 529.6h2.7v2.7h-2.7zM773.6 536.6h2.7v2.7h-2.7zM815.8 578.8h5v2.7h-5zM815.8 581.1h2.7v2.7h-2.7zM843.9 606.9h5v2.7h-5zM853.2 606.9h2.7v2.7h-2.7zM857.9 606.9h2.7v2.7h-2.7zM843.9 609.2h5v2.7h-5zM850.9 609.2h9.7v2.7h-9.7zM850.9 611.6h2.7v2.7h-2.7zM857.9 611.6h2.7v2.7h-2.7zM846.2 613.9h5v2.7h-5zM862.6 613.9h2.7v2.7h-2.7zM869.6 613.9h5v2.7h-5zM843.9 616.2h5v2.7h-5zM860.3 616.2h2.7v2.7h-2.7zM865 616.2h5v2.7h-5zM876.7 616.2h2.3v2.7h-2.3zM846.2 618.6h2.7v2.7h-2.7zM860.3 618.6h2.7v2.7h-2.7zM865 618.6h2.7v2.7h-2.7zM876.7 618.6h2.3v2.7h-2.3zM843.9 620.9h7.4v2.7h-7.4zM853.2 623.3h5v2.7h-5zM865 623.3h5v2.7h-5zM872 623.3h2.7v2.7h-2.7zM876.7 623.3h2.3v2.7h-2.3zM850.9 625.6h2.7v2.7h-2.7zM874.3 625.6h4.7v2.7h-4.7zM853.2 628h5v2.7h-5zM860.3 628h2.7v2.7h-2.7zM867.3 628h2.7v2.7h-2.7zM874.3 628h4.7v2.7h-4.7zM853.2 630.3h2.7v2.7h-2.7zM860.3 630.3h2.7v2.7h-2.7zM865 630.3h2.7v2.7h-2.7zM874.3 630.3h2.7v2.7h-2.7zM850.9 632.6h2.7v2.7h-2.7zM850.9 635h2.7v2.7h-2.7zM860.3 635h2.7v2.7h-2.7zM862.6 637.3h7.4v2.7h-7.4zM853.2 639.7h5v2.3h-5zM860.3 639.7h7.4v2.3h-7.4z" fill="#29aa81"/>
<path d="M649.6 412.6h5v2.7h-5zM649.6 414.9h5v2.7h-5zM654.2 417.2h2.7v2.7h-2.7zM665.9 417.2h2.7v2.7h-2.7zM656.6 419.6h2.7v2.7h-2.7zM665.9 419.6h2.7v2.7h-2.7zM658.9 421.9h9.7v2.7h-9.7zM658.9 424.3h2.7v2.7h-2.7zM668.3 424.3h2.7v2.7h-2.7zM673 424.3h2.7v2.7h-2.7zM684.7 424.3h2.7v2.7h-2.7zM658.9 426.6h2.7v2.7h-2.7zM670.6 426.6h2.7v2.7h-2.7zM675.3 426.6h5v2.7h-5zM682.3 426.6h7.4v2.7h-7.4zM654.2 428.9h7.4v2.7h-7.4zM680 428.9h2.7v2.7h-2.7zM661.3 431.3h2.7v2.7h-2.7zM687 431.3h2.7v2.7h-2.7zM663.6 433.6h2.7v2.7h-2.7zM687 433.6h2.7v2.7h-2.7zM661.3 436h2.7v2.7h-2.7zM680 436h2.7v2.7h-2.7zM663.6 438.3h2.7v2.7h-2.7zM663.6 440.6h2.7v2.7h-2.7zM665.9 443h2.7v2.7h-2.7zM673 443h2.7v2.7h-2.7zM663.6 445.3h2.7v2.7h-2.7zM661.3 447.7h5v2.7h-5zM663.6 450h2.7v2.7h-2.7zM668.3 450h5v2.7h-5zM747.9 510.9h2.7v2.7h-2.7zM752.6 513.2h2.7v2.7h-2.7zM750.2 515.6h2.7v2.7h-2.7zM818.1 581.1h2.7v2.7h-2.7zM850.9 613.9h9.7v2.7h-9.7zM850.9 616.2h2.7v2.7h-2.7zM862.6 616.2h2.7v2.7h-2.7zM869.6 616.2h5v2.7h-5zM850.9 618.6h2.7v2.7h-2.7zM862.6 618.6h2.7v2.7h-2.7zM869.6 618.6h5v2.7h-5zM850.9 620.9h2.7v2.7h-2.7zM865 620.9h5v2.7h-5zM874.3 620.9h4.7v2.7h-4.7zM860.3 623.3h5v2.7h-5zM869.6 623.3h2.7v2.7h-2.7zM853.2 625.6h5v2.7h-5zM860.3 625.6h2.7v2.7h-2.7zM865 625.6h5v2.7h-5zM857.9 628h2.7v2.7h-2.7zM862.6 628h5v2.7h-5zM872 628h2.7v2.7h-2.7zM857.9 630.3h2.7v2.7h-2.7zM862.6 630.3h2.7v2.7h-2.7zM867.3 630.3h2.7v2.7h-2.7zM876.7 630.3h2.3v2.7h-2.3zM853.2 632.6h5v2.7h-5zM860.3 632.6h2.7v2.7h-2.7zM853.2 635h5v2.7h-5zM865 635h2.7v2.7h-2.7zM857.9 637.3h2.7v2.7h-2.7zM857.9 639.7h2.7v2.3h-2.7zM867.3 639.7h2.7v2.3h-2.7z" fill="#3fbb73"/>
<path d="M661.3 424.3h7.4v2.7h-7.4zM661.3 426.6h2.7v2.7h-2.7zM668.3 426.6h2.7v2.7h-2.7zM673 426.6h2.7v2.7h-2.7zM661.3 428.9h2.7v2.7h-2.7zM675.3 428.9h5v2.7h-5zM682.3 428.9h7.4v2.7h-7.4zM663.6 431.3h2.7v2.7h-2.7zM675.3 431.3h5v2.7h-5zM682.3 431.3h5v2.7h-5zM670.6 433.6h2.7v2.7h-2.7zM675.3 433.6h5v2.7h-5zM682.3 433.6h5v2.7h-5zM663.6 436h2.7v2.7h-2.7zM687 436h2.7v2.7h-2.7zM665.9 438.3h7.4v2.7h-7.4zM680 438.3h2.7v2.7h-2.7zM665.9 440.6h7.4v2.7h-7.4zM675.3 443h2.7v2.7h-2.7zM680 443h2.7v2.7h-2.7zM687 443h2.7v2.7h-2.7zM665.9 445.3h7.4v2.7h-7.4zM665.9 447.7h7.4v2.7h-7.4zM665.9 450h2.7v2.7h-2.7zM673 450h2.7v2.7h-2.7zM680 450h2.7v2.7h-2.7zM750.2 513.2h2.7v2.7h-2.7zM853.2 616.2h5v2.7h-5zM853.2 618.6h5v2.7h-5zM860.3 620.9h2.7v2.7h-2.7zM869.6 620.9h5v2.7h-5zM857.9 623.3h2.7v2.7h-2.7zM862.6 625.6h2.7v2.7h-2.7zM869.6 625.6h5v2.7h-5zM869.6 628h2.7v2.7h-2.7zM869.6 630.3h5v2.7h-5zM857.9 632.6h2.7v2.7h-2.7zM862.6 632.6h7.4v2.7h-7.4zM874.3 632.6h4.7v2.7h-4.7zM857.9 635h2.7v2.7h-2.7zM862.6 635h2.7v2.7h-2.7zM867.3 635h2.7v2.7h-2.7zM869.6 637.3h2.7v2.7h-2.7zM874.3 637.3h4.7v2.7h-4.7zM869.6 639.7h2.7v2.3h-2.7zM874.3 639.7h2.7v2.3h-2.7z" fill="#68cb5b"/>
<path d="M663.6 426.6h5v2.7h-5zM663.6 428.9h2.7v2.7h-2.7zM670.6 428.9h5v2.7h-5zM668.3 431.3h7.4v2.7h-7.4zM665.9 433.6h5v2.7h-5zM673 433.6h2.7v2.7h-2.7zM665.9 436h7.4v2.7h-7.4zM677.6 436h2.7v2.7h-2.7zM682.3 436h5v2.7h-5zM684.7 438.3h5v2.7h-5zM673 440.6h2.7v2.7h-2.7zM680 440.6h2.7v2.7h-2.7zM687 440.6h2.7v2.7h-2.7zM677.6 443h2.7v2.7h-2.7zM682.3 443h5v2.7h-5zM673 445.3h2.7v2.7h-2.7zM680 445.3h2.7v2.7h-2.7zM673 447.7h5v2.7h-5zM680 447.7h2.7v2.7h-2.7zM675.3 450h5v2.7h-5zM857.9 616.2h2.7v2.7h-2.7zM857.9 618.6h2.7v2.7h-2.7zM853.2 620.9h5v2.7h-5zM862.6 620.9h2.7v2.7h-2.7zM857.9 625.6h2.7v2.7h-2.7zM874.3 635h4.7v2.7h-4.7zM872 637.3h2.7v2.7h-2.7zM872 639.7h2.7v2.3h-2.7zM876.7 639.7h2.3v2.3h-2.3z" fill="#93d640"/>
<path d="M668.3 428.9h2.7v2.7h-2.7zM665.9 431.3h2.7v2.7h-2.7zM673 436h5v2.7h-5zM673 438.3h7.4v2.7h-7.4zM682.3 438.3h2.7v2.7h-2.7zM675.3 440.6h5v2.7h-5zM682.3 440.6h5v2.7h-5zM675.3 445.3h5v2.7h-5zM677.6 447.7h2.7v2.7h-2.7zM869.6 632.6h5v2.7h-5zM869.6 635h2.7v2.7h-2.7z" fill="#c7e02a"/>
<path d="M665.9 428.9h2.7v2.7h-2.7zM682.3 445.3h7.4v2.7h-7.4zM682.3 447.7h7.4v2.7h-7.4zM682.3 450h7.4v2.7h-7.4zM857.9 620.9h2.7v2.7h-2.7zM872 635h2.7v2.7h-2.7z" fill="#fde725"/>
<path d="M623.8 386.8L879 642" stroke="#fff" stroke-width="1.1" stroke-opacity="0.92"/>
<rect x="39" y="578.6" width="59.4" height="59" fill="#45317c"/>
<path d="M62.3 589.1h2.5v2.5h-2.5zM62.3 593.4h2.5v2.5h-2.5zM66.6 593.4h2.5v2.5h-2.5zM49.6 601.8h2.5v2.5h-2.5zM53.9 601.8h2.5v2.5h-2.5zM62.3 601.8h6.7v2.5h-6.7zM62.3 603.9h6.7v2.5h-6.7zM75.1 603.9h23.3v2.5h-23.3zM53.9 606h2.5v2.5h-2.5zM62.3 606h4.6v2.5h-4.6zM64.5 614.4h2.5v2.5h-2.5zM75.1 614.4h23.3v2.5h-23.3zM64.5 616.5h2.5v2.5h-2.5zM75.1 616.5h2.5v2.5h-2.5zM79.3 616.5h19.1v2.5h-19.1zM64.5 618.6h2.5v2.5h-2.5zM75.1 618.6h4.6v2.5h-4.6zM81.4 618.6h17v2.5h-17zM64.5 620.7h2.5v2.5h-2.5zM75.1 620.7h8.8v2.5h-8.8zM85.7 620.7h12.7v2.5h-12.7zM64.5 622.9h2.5v2.5h-2.5zM75.1 622.9h6.7v2.5h-6.7zM89.9 622.9h8.5v2.5h-8.5zM64.5 625h2.5v2.5h-2.5zM75.1 625h8.8v2.5h-8.8zM89.9 625h8.5v2.5h-8.5zM64.5 627.1h2.5v2.5h-2.5zM75.1 627.1h8.8v2.5h-8.8zM94.2 627.1h4.2v2.5h-4.2zM64.5 629.2h2.5v2.5h-2.5zM75.1 629.2h13.1v2.5h-13.1zM94.2 629.2h4.2v2.5h-4.2zM64.5 631.3h2.5v2.5h-2.5zM75.1 631.3h13.1v2.5h-13.1zM64.5 633.4h2.5v2.5h-2.5zM75.1 633.4h17.3v2.5h-17.3zM64.5 635.5h2.5v2.1h-2.5zM75.1 635.5h17.3v2.1h-17.3z" fill="#3c4c89"/>
<path d="M62.3 578.6h2.5v2.5h-2.5zM66.6 578.6h2.5v2.5h-2.5zM62.3 580.7h2.5v2.5h-2.5zM66.6 580.7h2.5v2.5h-2.5zM62.3 582.8h2.5v2.5h-2.5zM66.6 582.8h2.5v2.5h-2.5zM62.3 584.9h2.5v2.5h-2.5zM66.6 584.9h2.5v2.5h-2.5zM62.3 587h2.5v2.5h-2.5zM66.6 587h2.5v2.5h-2.5zM66.6 589.1h2.5v2.5h-2.5zM62.3 591.2h2.5v2.5h-2.5zM66.6 591.2h2.5v2.5h-2.5zM62.3 595.5h2.5v2.5h-2.5zM66.6 595.5h2.5v2.5h-2.5zM62.3 597.6h2.5v2.5h-2.5zM66.6 597.6h2.5v2.5h-2.5zM62.3 599.7h2.5v2.5h-2.5zM66.6 599.7h2.5v2.5h-2.5zM39 601.8h11v2.5h-11zM51.7 601.8h2.5v2.5h-2.5zM56 601.8h6.7v2.5h-6.7zM68.7 601.8h6.7v2.5h-6.7zM39 606h15.2v2.5h-15.2zM56 606h6.7v2.5h-6.7zM66.6 606h8.8v2.5h-8.8zM62.3 608.1h2.5v2.5h-2.5zM66.6 608.1h2.5v2.5h-2.5zM62.3 610.2h2.5v2.5h-2.5zM66.6 610.2h2.5v2.5h-2.5zM62.3 612.3h2.5v2.5h-2.5zM66.6 612.3h2.5v2.5h-2.5zM77.2 616.5h2.5v2.5h-2.5zM79.3 618.6h2.5v2.5h-2.5zM83.5 620.7h2.5v2.5h-2.5zM81.4 622.9h8.8v2.5h-8.8zM83.5 625h6.7v2.5h-6.7zM83.5 627.1h11v2.5h-11zM87.8 629.2h6.7v2.5h-6.7zM87.8 631.3h10.6v2.5h-10.6zM92 633.4h6.4v2.5h-6.4zM92 635.5h6.4v2.1h-6.4z" fill="#365c8c"/>
<path d="M60.2 578.6h2.5v2.5h-2.5zM53.9 584.9h2.5v2.5h-2.5zM58.1 584.9h4.6v2.5h-4.6zM60.2 587h2.5v2.5h-2.5zM60.2 589.1h2.5v2.5h-2.5zM70.8 589.1h4.6v2.5h-4.6zM45.4 593.4h2.5v2.5h-2.5zM60.2 593.4h2.5v2.5h-2.5zM68.7 593.4h6.7v2.5h-6.7zM45.4 597.6h2.5v2.5h-2.5zM68.7 597.6h2.5v2.5h-2.5zM72.9 597.6h2.5v2.5h-2.5zM39 599.7h2.5v2.5h-2.5zM45.4 599.7h6.7v2.5h-6.7zM53.9 599.7h2.5v2.5h-2.5zM70.8 599.7h4.6v2.5h-4.6zM53.9 608.1h2.5v2.5h-2.5zM58.1 608.1h2.5v2.5h-2.5zM49.6 610.2h2.5v2.5h-2.5zM53.9 610.2h2.5v2.5h-2.5zM60.2 610.2h2.5v2.5h-2.5zM49.6 612.3h2.5v2.5h-2.5zM53.9 612.3h2.5v2.5h-2.5zM58.1 612.3h4.6v2.5h-4.6z" fill="#297a8e"/>
<path d="M49.6 578.6h11v2.5h-11zM68.7 578.6h6.7v2.5h-6.7zM53.9 580.7h2.5v2.5h-2.5zM58.1 580.7h4.6v2.5h-4.6zM68.7 580.7h6.7v2.5h-6.7zM53.9 582.8h2.5v2.5h-2.5zM58.1 582.8h4.6v2.5h-4.6zM68.7 582.8h6.7v2.5h-6.7zM49.6 584.9h4.6v2.5h-4.6zM56 584.9h2.5v2.5h-2.5zM68.7 584.9h6.7v2.5h-6.7zM53.9 587h2.5v2.5h-2.5zM58.1 587h2.5v2.5h-2.5zM68.7 587h6.7v2.5h-6.7zM39 589.1h2.5v2.5h-2.5zM45.4 589.1h2.5v2.5h-2.5zM53.9 589.1h6.7v2.5h-6.7zM68.7 589.1h2.5v2.5h-2.5zM39 591.2h2.5v2.5h-2.5zM45.4 591.2h2.5v2.5h-2.5zM53.9 591.2h2.5v2.5h-2.5zM58.1 591.2h4.6v2.5h-4.6zM68.7 591.2h6.7v2.5h-6.7zM39 593.4h6.7v2.5h-6.7zM47.5 593.4h8.8v2.5h-8.8zM58.1 593.4h2.5v2.5h-2.5zM39 595.5h2.5v2.5h-2.5zM45.4 595.5h2.5v2.5h-2.5zM49.6 595.5h2.5v2.5h-2.5zM60.2 595.5h2.5v2.5h-2.5zM68.7 595.5h6.7v2.5h-6.7zM39 597.6h6.7v2.5h-6.7zM47.5 597.6h8.8v2.5h-8.8zM58.1 597.6h4.6v2.5h-4.6zM70.8 597.6h2.5v2.5h-2.5zM41.1 599.7h4.6v2.5h-4.6zM51.7 599.7h2.5v2.5h-2.5zM56 599.7h6.7v2.5h-6.7zM68.7 599.7h2.5v2.5h-2.5zM39 608.1h15.2v2.5h-15.2zM56 608.1h2.5v2.5h-2.5zM60.2 608.1h2.5v2.5h-2.5zM39 610.2h11v2.5h-11zM51.7 610.2h2.5v2.5h-2.5zM56 610.2h4.6v2.5h-4.6zM39 612.3h11v2.5h-11zM51.7 612.3h2.5v2.5h-2.5zM56 612.3h2.5v2.5h-2.5z" fill="#25858d"/>
<path d="M45.4 578.6h4.6v2.5h-4.6zM45.4 580.7h8.8v2.5h-8.8zM56 580.7h2.5v2.5h-2.5zM47.5 582.8h6.7v2.5h-6.7zM56 582.8h2.5v2.5h-2.5zM39 584.9h4.6v2.5h-4.6zM45.4 584.9h4.6v2.5h-4.6zM39 587h8.8v2.5h-8.8zM49.6 587h4.6v2.5h-4.6zM56 587h2.5v2.5h-2.5zM41.1 589.1h4.6v2.5h-4.6zM47.5 589.1h6.7v2.5h-6.7zM41.1 591.2h4.6v2.5h-4.6zM47.5 591.2h6.7v2.5h-6.7zM56 591.2h2.5v2.5h-2.5zM56 593.4h2.5v2.5h-2.5zM41.1 595.5h4.6v2.5h-4.6zM47.5 595.5h2.5v2.5h-2.5zM51.7 595.5h4.6v2.5h-4.6zM58.1 595.5h2.5v2.5h-2.5zM56 597.6h2.5v2.5h-2.5zM68.7 608.1h6.7v2.5h-6.7zM68.7 610.2h6.7v2.5h-6.7zM68.7 612.3h6.7v2.5h-6.7z" fill="#20968a"/>
<path d="M41.1 578.6h4.6v2.5h-4.6zM39 580.7h2.5v2.5h-2.5zM39 582.8h2.5v2.5h-2.5zM45.4 582.8h2.5v2.5h-2.5zM43.2 584.9h2.5v2.5h-2.5zM47.5 587h2.5v2.5h-2.5zM56 595.5h2.5v2.5h-2.5z" fill="#28a882"/>
<path d="M39 578.6h2.5v2.5h-2.5zM41.1 580.7h4.6v2.5h-4.6zM41.1 582.8h4.6v2.5h-4.6z" fill="#34b679"/>
<path d="M39 578.6L98.4 637.6" stroke="#fff" stroke-width="1" stroke-opacity="0.92"/>
<g filter="url(#bl)">
<path d="M258 401.7h1.1v0.9h-1.1zM265.3 403.9h1.1v0.9h-1.1zM258.1 404.6h1.1v0.9h-1.1zM259.1 405.4h1.1v0.9h-1.1zM260.9 406.1h1.1v0.9h-1.1zM260.3 410.5h1.1v0.9h-1.1zM262.1 411.2h1.1v0.9h-1.1zM263.9 411.2h1.1v0.9h-1.1zM261.1 413.4h1.1v0.9h-1.1zM261.2 414.1h1.1v0.9h-1.1zM260.2 414.8h1.1v0.9h-1.1zM264 415.6h1.1v0.9h-1.1zM261.4 416.3h1.1v0.9h-1.1zM259.7 417h1.1v0.9h-1.1zM260.4 417.7h1.1v0.9h-1.1zM261 419.9h1.1v0.9h-1.1zM262.6 421.4h1.1v0.9h-1.1zM260.7 423.6h1.1v0.9h-1.1zM260.6 426.5h1.1v0.9h-1.1zM262.4 426.5h1.1v0.9h-1.1zM260.3 427.2h1.1v0.9h-1.1zM289.1 393h1.1v0.9h-1.1zM287.2 393.7h1.1v0.9h-1.1zM292.9 396.6h1.1v0.9h-1.1zM292.6 398.1h1.1v0.9h-1.1zM244 390.8h1.1v0.9h-1.1zM296.9 392.2h1.1v0.9h-1.1zM244.3 424.3h1.1v0.9h-1.1zM345.1 393h1.1v0.9h-1.1zM342.8 407.5h1.1v0.9h-1.1zM332.9 409h1.1v0.9h-1.1zM312.6 389.3h1.1v0.9h-1.1zM256.3 412.6h1.1v0.9h-1.1zM260.3 414.8h1.1v0.9h-1.1zM284.7 407.5h1.1v0.9h-1.1zM230.1 395.9h1.1v0.9h-1.1zM255.6 413.4h1.1v0.9h-1.1zM335 390.8h1.1v0.9h-1.1zM255.5 402.4h1.1v0.9h-1.1zM312.6 403.2h1.1v0.9h-1.1zM338.7 421.4h1.1v0.9h-1.1zM288.8 423.6h1.1v0.9h-1.1zM237 400.3h1.1v0.9h-1.1zM288.2 425h1.1v0.9h-1.1zM335.5 421.4h1.1v0.9h-1.1zM231.8 407.5h1.1v0.9h-1.1zM340.4 424.3h1.1v0.9h-1.1zM297.5 413.4h1.1v0.9h-1.1zM289.4 422.1h1.1v0.9h-1.1zM264.6 390.1h1.1v0.9h-1.1zM276.4 401.7h1.1v0.9h-1.1zM286.3 420.7h1.1v0.9h-1.1zM285.1 404.6h1.1v0.9h-1.1zM307.6 405.4h1.1v0.9h-1.1zM296.2 420.7h1.1v0.9h-1.1zM249.8 425.8h1.1v0.9h-1.1zM289.1 421.4h1.1v0.9h-1.1zM297 404.6h1.1v0.9h-1.1zM280.7 424.3h1.1v0.9h-1.1zM331.9 395.2h1.1v0.9h-1.1zM242.5 391.5h1.1v0.9h-1.1zM299.8 410.5h1.1v0.9h-1.1zM275.3 408.3h1.1v0.9h-1.1z" fill="#2a0766"/>
<path d="M260 400.3h1.1v0.9h-1.1zM262.7 400.3h1.1v0.9h-1.1zM265.2 401.7h1.1v0.9h-1.1zM259.1 402.4h1.1v0.9h-1.1zM260.9 402.4h1.1v0.9h-1.1zM262.7 402.4h1.1v0.9h-1.1zM261.5 403.2h1.1v0.9h-1.1zM264.2 403.2h1.1v0.9h-1.1zM265.1 403.2h1.1v0.9h-1.1zM263.5 403.9h1.1v0.9h-1.1zM261.7 404.6h1.1v0.9h-1.1zM262.6 404.6h1.1v0.9h-1.1zM264.5 405.4h1.1v0.9h-1.1zM266.3 405.4h1.1v0.9h-1.1zM261.8 406.1h1.1v0.9h-1.1zM267.2 406.1h1.1v0.9h-1.1zM259.8 407.5h1.1v0.9h-1.1zM262.5 407.5h1.1v0.9h-1.1zM264 408.3h1.1v0.9h-1.1zM258.4 409h1.1v0.9h-1.1zM262.9 409h1.1v0.9h-1.1zM259.6 409.7h1.1v0.9h-1.1zM261.2 410.5h1.1v0.9h-1.1zM262.1 411.9h1.1v0.9h-1.1zM263.9 411.9h1.1v0.9h-1.1zM264.3 412.6h1.1v0.9h-1.1zM262.9 413.4h1.1v0.9h-1.1zM262 414.8h1.1v0.9h-1.1zM260.4 415.6h1.1v0.9h-1.1zM259.6 416.3h1.1v0.9h-1.1zM260.6 417h1.1v0.9h-1.1zM261.5 417h1.1v0.9h-1.1zM264.2 417h1.1v0.9h-1.1zM261.3 417.7h1.1v0.9h-1.1zM263 418.5h1.1v0.9h-1.1zM259.5 419.2h1.1v0.9h-1.1zM265.5 419.9h1.1v0.9h-1.1zM263.9 420.7h1.1v0.9h-1.1zM260.8 421.4h1.1v0.9h-1.1zM261.7 421.4h1.1v0.9h-1.1zM261.7 422.1h1.1v0.9h-1.1zM262 422.8h1.1v0.9h-1.1zM262.5 423.6h1.1v0.9h-1.1zM261.8 425h1.1v0.9h-1.1zM262.1 427.2h1.1v0.9h-1.1zM261.5 427.9h1.1v0.9h-1.1zM289 388.6h1.1v0.9h-1.1zM289.8 389.3h1.1v0.9h-1.1zM288.4 391.5h1.1v0.9h-1.1zM290.2 391.5h1.1v0.9h-1.1zM290 392.2h1.1v0.9h-1.1zM290.9 392.2h1.1v0.9h-1.1zM292.7 392.2h1.1v0.9h-1.1zM293.6 393h1.1v0.9h-1.1zM291.7 393.7h1.1v0.9h-1.1zM287.5 395.9h1.1v0.9h-1.1zM289.9 398.1h1.1v0.9h-1.1zM275.4 405.4h1.1v0.9h-1.1zM242.2 401.7h1.1v0.9h-1.1zM339.7 406.8h1.1v0.9h-1.1zM326.7 415.6h1.1v0.9h-1.1zM326 398.8h1.1v0.9h-1.1zM232.7 404.6h1.1v0.9h-1.1zM342.9 392.2h1.1v0.9h-1.1zM295.8 411.2h1.1v0.9h-1.1zM235.2 417.7h1.1v0.9h-1.1zM226.6 394.4h1.1v0.9h-1.1zM319.9 417.7h1.1v0.9h-1.1zM336.3 413.4h1.1v0.9h-1.1z" fill="#4c10b4"/>
<path d="M260.9 400.3h1.1v0.9h-1.1zM263.6 400.3h1.1v0.9h-1.1zM260.7 401.7h1.1v0.9h-1.1zM261.6 401.7h1.1v0.9h-1.1zM263.4 401.7h1.1v0.9h-1.1zM260 402.4h1.1v0.9h-1.1zM262.4 403.2h1.1v0.9h-1.1zM263.3 403.2h1.1v0.9h-1.1zM258.1 403.9h1.1v0.9h-1.1zM259 403.9h1.1v0.9h-1.1zM262.6 403.9h1.1v0.9h-1.1zM259.9 404.6h1.1v0.9h-1.1zM260.8 404.6h1.1v0.9h-1.1zM263.5 404.6h1.1v0.9h-1.1zM261.8 405.4h1.1v0.9h-1.1zM262.7 405.4h1.1v0.9h-1.1zM263.6 405.4h1.1v0.9h-1.1zM263.6 406.1h1.1v0.9h-1.1zM266.3 406.1h1.1v0.9h-1.1zM265.8 408.3h1.1v0.9h-1.1zM267.6 408.3h1.1v0.9h-1.1zM268.5 408.3h1.1v0.9h-1.1zM259.3 409h1.1v0.9h-1.1zM262 409h1.1v0.9h-1.1zM264.7 409h1.1v0.9h-1.1zM260.5 409.7h1.1v0.9h-1.1zM261.4 409.7h1.1v0.9h-1.1zM262.3 409.7h1.1v0.9h-1.1zM263.2 409.7h1.1v0.9h-1.1zM259.8 412.6h1.1v0.9h-1.1zM262.5 412.6h1.1v0.9h-1.1zM262.1 414.1h1.1v0.9h-1.1zM263 414.1h1.1v0.9h-1.1zM263.9 414.1h1.1v0.9h-1.1zM260.5 416.3h1.1v0.9h-1.1zM263.3 417h1.1v0.9h-1.1zM263.1 417.7h1.1v0.9h-1.1zM261.2 418.5h1.1v0.9h-1.1zM262.1 418.5h1.1v0.9h-1.1zM261.3 419.2h1.1v0.9h-1.1zM262.2 419.2h1.1v0.9h-1.1zM262.8 419.9h1.1v0.9h-1.1zM263.7 419.9h1.1v0.9h-1.1zM260.3 420.7h1.1v0.9h-1.1zM262.1 420.7h1.1v0.9h-1.1zM263 420.7h1.1v0.9h-1.1zM260.8 422.1h1.1v0.9h-1.1zM261.1 422.8h1.1v0.9h-1.1zM261.6 423.6h1.1v0.9h-1.1zM260.9 425h1.1v0.9h-1.1zM261.5 426.5h1.1v0.9h-1.1zM261.2 427.2h1.1v0.9h-1.1zM262.4 427.9h1.1v0.9h-1.1zM263.3 427.9h1.1v0.9h-1.1zM262.1 428.7h1.1v0.9h-1.1zM289.9 388.6h1.1v0.9h-1.1zM292.6 388.6h1.1v0.9h-1.1zM290.7 389.3h1.1v0.9h-1.1zM292.5 389.3h1.1v0.9h-1.1zM289.3 391.5h1.1v0.9h-1.1zM292.7 393h1.1v0.9h-1.1zM289 393.7h1.1v0.9h-1.1zM290.8 393.7h1.1v0.9h-1.1zM290.2 395.9h1.1v0.9h-1.1zM291.1 395.9h1.1v0.9h-1.1zM289.3 396.6h1.1v0.9h-1.1zM290.2 396.6h1.1v0.9h-1.1zM291.1 396.6h1.1v0.9h-1.1zM292 396.6h1.1v0.9h-1.1zM290.8 398.1h1.1v0.9h-1.1zM291.7 398.1h1.1v0.9h-1.1zM321.1 421.4h1.1v0.9h-1.1zM322 421.4h1.1v0.9h-1.1zM321.6 424.3h1.1v0.9h-1.1z" fill="#7418f0"/>
<path d="M258.9 401.7h1.1v0.9h-1.1zM259.8 401.7h1.1v0.9h-1.1zM262.5 401.7h1.1v0.9h-1.1zM264.3 401.7h1.1v0.9h-1.1zM261.8 402.4h1.1v0.9h-1.1zM259.9 403.9h1.1v0.9h-1.1zM260.8 403.9h1.1v0.9h-1.1zM261.7 403.9h1.1v0.9h-1.1zM264.4 403.9h1.1v0.9h-1.1zM259 404.6h1.1v0.9h-1.1zM260.9 405.4h1.1v0.9h-1.1zM265.4 405.4h1.1v0.9h-1.1zM262.7 406.1h1.1v0.9h-1.1zM264.5 406.1h1.1v0.9h-1.1zM265.4 406.1h1.1v0.9h-1.1zM260.7 407.5h1.1v0.9h-1.1zM264.9 408.3h1.1v0.9h-1.1zM266.7 408.3h1.1v0.9h-1.1zM260.2 409h1.1v0.9h-1.1zM263.8 409h1.1v0.9h-1.1zM262.1 410.5h1.1v0.9h-1.1zM261.6 412.6h1.1v0.9h-1.1zM263.4 412.6h1.1v0.9h-1.1zM262 413.4h1.1v0.9h-1.1zM261.1 414.8h1.1v0.9h-1.1zM261.3 415.6h1.1v0.9h-1.1zM263.1 415.6h1.1v0.9h-1.1zM262.4 417h1.1v0.9h-1.1zM262.2 417.7h1.1v0.9h-1.1zM260.4 419.2h1.1v0.9h-1.1zM261.9 419.9h1.1v0.9h-1.1zM264.6 419.9h1.1v0.9h-1.1zM261.1 424.3h1.1v0.9h-1.1zM261.2 428.7h1.1v0.9h-1.1zM290.8 388.6h1.1v0.9h-1.1zM291.7 388.6h1.1v0.9h-1.1zM291.6 389.3h1.1v0.9h-1.1zM292 391.5h1.1v0.9h-1.1zM291.8 392.2h1.1v0.9h-1.1zM290 393h1.1v0.9h-1.1zM290.9 393h1.1v0.9h-1.1zM288.1 393.7h1.1v0.9h-1.1zM289.9 393.7h1.1v0.9h-1.1zM288.4 395.9h1.1v0.9h-1.1zM289.3 395.9h1.1v0.9h-1.1zM292 395.9h1.1v0.9h-1.1zM321.2 419.2h1.1v0.9h-1.1zM322.1 419.2h1.1v0.9h-1.1z" fill="#9030ff"/>
<path d="M260 405.4h1.1v0.9h-1.1zM261.2 420.7h1.1v0.9h-1.1z" fill="#c22a6e"/>
<path d="M261.1 409h1.1v0.9h-1.1zM253.2 427.9h1.1v0.9h-1.1z" fill="#e2421c"/>
</g>
<g filter="url(#bl)">
<path d="M287.8 439.5h1.1v0.9h-1.1zM284.9 441h1.1v0.9h-1.1zM285.2 443.2h1.1v0.9h-1.1zM310.7 443.9h1.1v0.9h-1.1zM334.3 438.1h1.1v0.9h-1.1zM334.4 439.5h1.1v0.9h-1.1zM332.1 441h1.1v0.9h-1.1zM333.9 441h1.1v0.9h-1.1zM332 441.7h1.1v0.9h-1.1zM242.1 437.3h1.1v0.9h-1.1zM260.2 440.2h1.1v0.9h-1.1zM303.6 439.5h1.1v0.9h-1.1z" fill="#2a0766"/>
<path d="M285.7 440.2h1.1v0.9h-1.1zM288.4 440.2h1.1v0.9h-1.1zM286.7 441h1.1v0.9h-1.1zM287.9 443.2h1.1v0.9h-1.1zM285.7 443.9h1.1v0.9h-1.1zM287.5 443.9h1.1v0.9h-1.1zM286.6 444.6h1.1v0.9h-1.1zM288.4 444.6h1.1v0.9h-1.1zM311.7 440.2h1.1v0.9h-1.1zM313.5 440.2h1.1v0.9h-1.1zM312.5 443.9h1.1v0.9h-1.1zM332.4 436.6h1.1v0.9h-1.1zM334.2 436.6h1.1v0.9h-1.1zM331.9 438.8h1.1v0.9h-1.1zM333.7 438.8h1.1v0.9h-1.1zM333.8 441.7h1.1v0.9h-1.1zM331.6 443.9h1.1v0.9h-1.1zM333.4 443.9h1.1v0.9h-1.1zM332.4 444.6h1.1v0.9h-1.1zM333.3 444.6h1.1v0.9h-1.1zM335.1 444.6h1.1v0.9h-1.1zM229.5 447.5h1.1v0.9h-1.1z" fill="#4c10b4"/>
<path d="M287.9 438.1h1.1v0.9h-1.1zM286 439.5h1.1v0.9h-1.1zM286.6 440.2h1.1v0.9h-1.1zM285.4 441.7h1.1v0.9h-1.1zM284.7 442.4h1.1v0.9h-1.1zM286.5 442.4h1.1v0.9h-1.1zM285.9 445.3h1.1v0.9h-1.1zM313.1 438.8h1.1v0.9h-1.1zM311.6 442.4h1.1v0.9h-1.1zM312.5 442.4h1.1v0.9h-1.1zM312.5 443.2h1.1v0.9h-1.1zM331.6 438.1h1.1v0.9h-1.1zM332.5 438.1h1.1v0.9h-1.1zM331.7 439.5h1.1v0.9h-1.1zM333 441h1.1v0.9h-1.1zM331.9 442.4h1.1v0.9h-1.1zM333.7 442.4h1.1v0.9h-1.1zM333.5 443.2h1.1v0.9h-1.1zM332.5 443.9h1.1v0.9h-1.1z" fill="#7418f0"/>
<path d="M287.5 444.6h1.1v0.9h-1.1zM312.3 438.1h1.1v0.9h-1.1zM312.8 441.7h1.1v0.9h-1.1zM313.4 443.2h1.1v0.9h-1.1zM332.4 437.3h1.1v0.9h-1.1zM333.3 437.3h1.1v0.9h-1.1z" fill="#9030ff"/>
<path d="M287.5 440.2h1.1v0.9h-1.1zM286.3 441.7h1.1v0.9h-1.1zM285.6 442.4h1.1v0.9h-1.1zM286.1 443.2h1.1v0.9h-1.1zM286.6 443.9h1.1v0.9h-1.1zM312.2 438.8h1.1v0.9h-1.1zM332.8 438.8h1.1v0.9h-1.1zM332.8 442.4h1.1v0.9h-1.1zM334.2 444.6h1.1v0.9h-1.1z" fill="#c22a6e"/>
<path d="M288.8 438.1h1.1v0.9h-1.1zM312.3 437.3h1.1v0.9h-1.1zM313.2 437.3h1.1v0.9h-1.1zM312 439.5h1.1v0.9h-1.1zM312.9 439.5h1.1v0.9h-1.1zM311.9 441.7h1.1v0.9h-1.1zM311.6 443.9h1.1v0.9h-1.1zM333.4 438.1h1.1v0.9h-1.1zM332.6 439.5h1.1v0.9h-1.1zM333.5 439.5h1.1v0.9h-1.1zM332.6 443.2h1.1v0.9h-1.1zM332.1 445.3h1.1v0.9h-1.1z" fill="#e2421c"/>
<path d="M286.9 439.5h1.1v0.9h-1.1zM285.8 441h1.1v0.9h-1.1zM287 443.2h1.1v0.9h-1.1zM286.8 445.3h1.1v0.9h-1.1zM313.2 438.1h1.1v0.9h-1.1zM333.3 436.6h1.1v0.9h-1.1z" fill="#ffc21a"/>
</g>
<g filter="url(#bl)">
<path d="M286.9 494.8h1.1v0.9h-1.1zM287.5 496.9h1.1v0.9h-1.1zM286.7 498.4h1.1v0.9h-1.1zM289 499.8h1.1v0.9h-1.1zM287.2 504.1h1.1v0.9h-1.1zM286.4 504.8h1.1v0.9h-1.1zM286.8 505.5h1.1v0.9h-1.1zM288.6 505.5h1.1v0.9h-1.1zM289.3 506.3h1.1v0.9h-1.1zM287.4 508.4h1.1v0.9h-1.1zM288.7 509.1h1.1v0.9h-1.1zM288 510.6h1.1v0.9h-1.1zM286.9 512h1.1v0.9h-1.1zM289.6 512h1.1v0.9h-1.1zM286.9 512.7h1.1v0.9h-1.1zM288.7 512.7h1.1v0.9h-1.1zM286.7 513.4h1.1v0.9h-1.1zM289.4 513.4h1.1v0.9h-1.1zM289.8 515.6h1.1v0.9h-1.1zM289.3 517h1.1v0.9h-1.1zM286 518.5h1.1v0.9h-1.1zM288.7 518.5h1.1v0.9h-1.1zM286.7 519.2h1.1v0.9h-1.1zM288.7 522.8h1.1v0.9h-1.1zM288.6 523.5h1.1v0.9h-1.1zM252.4 489.7h1.1v0.9h-1.1zM302 489.7h1.1v0.9h-1.1z" fill="#2a0766"/>
<path d="M288.7 494.8h1.1v0.9h-1.1zM289.8 495.5h1.1v0.9h-1.1zM289.3 496.9h1.1v0.9h-1.1zM287.7 497.6h1.1v0.9h-1.1zM289.5 497.6h1.1v0.9h-1.1zM287.3 499.1h1.1v0.9h-1.1zM287.2 499.8h1.1v0.9h-1.1zM287 500.5h1.1v0.9h-1.1zM289.7 500.5h1.1v0.9h-1.1zM286.3 501.9h1.1v0.9h-1.1zM289 501.9h1.1v0.9h-1.1zM287.8 503.4h1.1v0.9h-1.1zM289 504.1h1.1v0.9h-1.1zM288.2 504.8h1.1v0.9h-1.1zM287.5 506.3h1.1v0.9h-1.1zM289.2 508.4h1.1v0.9h-1.1zM286 509.1h1.1v0.9h-1.1zM286.2 510.6h1.1v0.9h-1.1zM286.4 511.3h1.1v0.9h-1.1zM289.1 511.3h1.1v0.9h-1.1zM288.1 514.2h1.1v0.9h-1.1zM286.9 514.9h1.1v0.9h-1.1zM287.1 515.6h1.1v0.9h-1.1zM286.6 516.3h1.1v0.9h-1.1zM287.5 517h1.1v0.9h-1.1zM286.4 517.7h1.1v0.9h-1.1zM289.1 517.7h1.1v0.9h-1.1zM287.9 519.9h1.1v0.9h-1.1zM290.6 519.9h1.1v0.9h-1.1zM287.3 520.6h1.1v0.9h-1.1zM289.1 520.6h1.1v0.9h-1.1zM286 522.8h1.1v0.9h-1.1zM286.8 523.5h1.1v0.9h-1.1zM260.7 501.9h1.1v0.9h-1.1zM261 502.7h1.1v0.9h-1.1zM235 485.4h1.1v0.9h-1.1zM248.4 484.7h1.1v0.9h-1.1z" fill="#4c10b4"/>
<path d="M288 495.5h1.1v0.9h-1.1zM289.4 498.4h1.1v0.9h-1.1zM288.2 499.1h1.1v0.9h-1.1zM290 499.1h1.1v0.9h-1.1zM290.5 503.4h1.1v0.9h-1.1zM287.6 513.4h1.1v0.9h-1.1zM289.9 514.2h1.1v0.9h-1.1zM289.6 514.9h1.1v0.9h-1.1zM289.3 516.3h1.1v0.9h-1.1zM285.9 522h1.1v0.9h-1.1zM288.6 522h1.1v0.9h-1.1zM261 499.1h1.1v0.9h-1.1z" fill="#7418f0"/>
<path d="M288.7 512h1.1v0.9h-1.1zM261 496.2h1.1v0.9h-1.1z" fill="#9030ff"/>
<path d="M287.8 494.8h1.1v0.9h-1.1zM288.9 495.5h1.1v0.9h-1.1zM288 496.2h1.1v0.9h-1.1zM287.9 500.5h1.1v0.9h-1.1zM287.6 501.2h1.1v0.9h-1.1zM287.2 501.9h1.1v0.9h-1.1zM288.7 503.4h1.1v0.9h-1.1zM289.6 503.4h1.1v0.9h-1.1zM288.1 504.1h1.1v0.9h-1.1zM288.4 506.3h1.1v0.9h-1.1zM288.3 507h1.1v0.9h-1.1zM288.1 507.7h1.1v0.9h-1.1zM286.9 509.1h1.1v0.9h-1.1zM287.8 509.1h1.1v0.9h-1.1zM287.9 509.8h1.1v0.9h-1.1zM288.8 509.8h1.1v0.9h-1.1zM287.1 510.6h1.1v0.9h-1.1zM288.2 511.3h1.1v0.9h-1.1zM288.5 513.4h1.1v0.9h-1.1zM289 514.2h1.1v0.9h-1.1zM287.8 514.9h1.1v0.9h-1.1zM288.7 514.9h1.1v0.9h-1.1zM288.9 515.6h1.1v0.9h-1.1zM288.4 517h1.1v0.9h-1.1zM287.3 517.7h1.1v0.9h-1.1zM288.2 517.7h1.1v0.9h-1.1zM287.8 518.5h1.1v0.9h-1.1zM289.7 519.9h1.1v0.9h-1.1zM288.8 521.3h1.1v0.9h-1.1zM286.8 522h1.1v0.9h-1.1z" fill="#c22a6e"/>
<path d="M288.8 494.1h1.1v0.9h-1.1zM289.7 494.1h1.1v0.9h-1.1zM288.9 496.2h1.1v0.9h-1.1zM288.6 497.6h1.1v0.9h-1.1zM288.1 499.8h1.1v0.9h-1.1zM288.8 500.5h1.1v0.9h-1.1zM286.7 501.2h1.1v0.9h-1.1zM288.1 501.9h1.1v0.9h-1.1zM288.3 502.7h1.1v0.9h-1.1zM289.2 502.7h1.1v0.9h-1.1zM287.3 504.8h1.1v0.9h-1.1zM287.7 505.5h1.1v0.9h-1.1zM287.2 507.7h1.1v0.9h-1.1zM288.3 508.4h1.1v0.9h-1.1zM287.3 511.3h1.1v0.9h-1.1zM287.8 512.7h1.1v0.9h-1.1zM288 515.6h1.1v0.9h-1.1zM287.5 516.3h1.1v0.9h-1.1zM288.4 516.3h1.1v0.9h-1.1zM286.9 518.5h1.1v0.9h-1.1zM287.6 519.2h1.1v0.9h-1.1zM288.8 519.9h1.1v0.9h-1.1zM288.2 520.6h1.1v0.9h-1.1zM289.7 521.3h1.1v0.9h-1.1zM287.7 522h1.1v0.9h-1.1zM286.9 522.8h1.1v0.9h-1.1zM287.7 523.5h1.1v0.9h-1.1z" fill="#e2421c"/>
<path d="M288.4 496.9h1.1v0.9h-1.1zM287.6 498.4h1.1v0.9h-1.1zM288.5 498.4h1.1v0.9h-1.1zM289.1 499.1h1.1v0.9h-1.1zM289.2 507h1.1v0.9h-1.1zM287.8 522.8h1.1v0.9h-1.1z" fill="#ffc21a"/>
</g>
<g filter="url(#bl)">
<path d="M281.1 578.4h1.4v1.1h-1.4zM281.5 579.4h1.4v1.1h-1.4zM283.8 580.4h1.4v1.1h-1.4zM286.4 580.4h1.4v1.1h-1.4zM279.7 581.4h1.4v1.1h-1.4zM281.1 583.4h1.4v1.1h-1.4zM281.2 584.4h1.4v1.1h-1.4zM283.7 584.4h1.4v1.1h-1.4zM282.6 586.4h1.4v1.1h-1.4zM281.7 587.4h1.4v1.1h-1.4zM285.4 588.4h1.4v1.1h-1.4zM280.9 589.4h1.4v1.1h-1.4zM284.7 589.4h1.4v1.1h-1.4zM282.1 590.4h1.4v1.1h-1.4zM285.9 590.4h1.4v1.1h-1.4zM283.2 591.4h1.4v1.1h-1.4zM284 594.3h1.4v1.1h-1.4zM286.1 602.3h1.4v1.1h-1.4zM285.8 603.3h1.4v1.1h-1.4zM315.6 580.4h1.4v1.1h-1.4zM242 599.3h1.4v1.1h-1.4zM242.4 601.3h1.4v1.1h-1.4zM243.3 602.3h1.4v1.1h-1.4zM245.9 602.3h1.4v1.1h-1.4zM242.8 603.3h1.4v1.1h-1.4zM242.1 611.3h1.4v1.1h-1.4zM244.6 611.3h1.4v1.1h-1.4zM241.9 617.3h1.4v1.1h-1.4zM244.4 617.3h1.4v1.1h-1.4zM242.2 623.2h1.4v1.1h-1.4zM173.3 615.3h1.4v1.1h-1.4zM204.9 610.3h1.4v1.1h-1.4z" fill="#2a0766"/>
<path d="M284 579.4h1.4v1.1h-1.4zM284.7 581.4h1.4v1.1h-1.4zM281.2 582.4h1.4v1.1h-1.4zM282.3 583.4h1.4v1.1h-1.4zM283.6 583.4h1.4v1.1h-1.4zM287.6 586.4h1.4v1.1h-1.4zM282.9 587.4h1.4v1.1h-1.4zM287 591.4h1.4v1.1h-1.4zM281.8 593.3h1.4v1.1h-1.4zM282.7 594.3h1.4v1.1h-1.4zM282.9 599.3h1.4v1.1h-1.4zM284.2 599.3h1.4v1.1h-1.4zM285.5 599.3h1.4v1.1h-1.4zM284.2 600.3h1.4v1.1h-1.4zM283.3 603.3h1.4v1.1h-1.4zM285.4 606.3h1.4v1.1h-1.4zM283.5 611.3h1.4v1.1h-1.4zM286 611.3h1.4v1.1h-1.4zM315.1 578.4h1.4v1.1h-1.4zM317.6 578.4h1.4v1.1h-1.4zM318.1 580.4h1.4v1.1h-1.4zM314.8 585.4h1.4v1.1h-1.4zM316.2 587.4h1.4v1.1h-1.4zM318.1 589.4h1.4v1.1h-1.4zM318 592.4h1.4v1.1h-1.4zM318 598.3h1.4v1.1h-1.4zM318.6 604.3h1.4v1.1h-1.4zM318.1 617.3h1.4v1.1h-1.4zM318 618.3h1.4v1.1h-1.4zM244.6 599.3h1.4v1.1h-1.4zM245 601.3h1.4v1.1h-1.4zM245.3 603.3h1.4v1.1h-1.4zM242.4 619.3h1.4v1.1h-1.4zM244.4 620.2h1.4v1.1h-1.4zM242.3 627.2h1.4v1.1h-1.4zM220.4 610.3h1.4v1.1h-1.4zM192.3 594.3h1.4v1.1h-1.4zM167 620.2h1.4v1.1h-1.4zM148.7 612.3h1.4v1.1h-1.4zM260.6 625.2h1.4v1.1h-1.4z" fill="#4c10b4"/>
<path d="M286.2 578.4h1.4v1.1h-1.4zM282.7 579.4h1.4v1.1h-1.4zM282.5 582.4h1.4v1.1h-1.4zM283.8 582.4h1.4v1.1h-1.4zM281 585.4h1.4v1.1h-1.4zM283.5 585.4h1.4v1.1h-1.4zM285.5 587.4h1.4v1.1h-1.4zM286.7 587.4h1.4v1.1h-1.4zM282.9 588.4h1.4v1.1h-1.4zM284.1 588.4h1.4v1.1h-1.4zM283.4 589.4h1.4v1.1h-1.4zM283.4 590.4h1.4v1.1h-1.4zM284.4 591.4h1.4v1.1h-1.4zM284.4 593.3h1.4v1.1h-1.4zM281.4 594.3h1.4v1.1h-1.4zM286.1 597.3h1.4v1.1h-1.4zM284.1 598.3h1.4v1.1h-1.4zM285.4 600.3h1.4v1.1h-1.4zM286.7 600.3h1.4v1.1h-1.4zM283.6 602.3h1.4v1.1h-1.4zM284.5 603.3h1.4v1.1h-1.4zM284.7 611.3h1.4v1.1h-1.4zM316.9 581.4h1.4v1.1h-1.4zM319.3 583.4h1.4v1.1h-1.4zM318.8 587.4h1.4v1.1h-1.4zM318.3 611.3h1.4v1.1h-1.4zM243.2 612.3h1.4v1.1h-1.4zM241.4 616.3h1.4v1.1h-1.4zM243.6 619.3h1.4v1.1h-1.4zM244.9 619.3h1.4v1.1h-1.4zM241.9 620.2h1.4v1.1h-1.4zM241.7 629.2h1.4v1.1h-1.4zM221.5 616.3h1.4v1.1h-1.4zM222.8 616.3h1.4v1.1h-1.4zM319.5 599.3h1.4v1.1h-1.4zM320.8 599.3h1.4v1.1h-1.4zM322.1 599.3h1.4v1.1h-1.4zM323.3 599.3h1.4v1.1h-1.4zM324.6 599.3h1.4v1.1h-1.4zM325.8 599.3h1.4v1.1h-1.4zM327.1 599.3h1.4v1.1h-1.4zM217.6 625.2h1.4v1.1h-1.4zM218.8 625.2h1.4v1.1h-1.4zM220.1 625.2h1.4v1.1h-1.4zM221.4 625.2h1.4v1.1h-1.4zM288.4 624.2h1.4v1.1h-1.4zM289.7 624.2h1.4v1.1h-1.4zM277.5 610.3h1.4v1.1h-1.4zM278.8 610.3h1.4v1.1h-1.4zM313.7 587.4h1.4v1.1h-1.4zM315 587.4h1.4v1.1h-1.4z" fill="#7418f0"/>
<path d="M283.7 578.4h1.4v1.1h-1.4zM284.9 578.4h1.4v1.1h-1.4zM285.1 580.4h1.4v1.1h-1.4zM280.9 581.4h1.4v1.1h-1.4zM283.5 581.4h1.4v1.1h-1.4zM282.5 584.4h1.4v1.1h-1.4zM282.3 585.4h1.4v1.1h-1.4zM284.2 587.4h1.4v1.1h-1.4zM282.2 589.4h1.4v1.1h-1.4zM284.7 590.4h1.4v1.1h-1.4zM282 592.4h1.4v1.1h-1.4zM283.3 592.4h1.4v1.1h-1.4zM281.9 595.3h1.4v1.1h-1.4zM283.2 595.3h1.4v1.1h-1.4zM284.8 597.3h1.4v1.1h-1.4zM284.8 602.3h1.4v1.1h-1.4zM283.8 610.3h1.4v1.1h-1.4zM285.1 610.3h1.4v1.1h-1.4zM284.1 612.3h1.4v1.1h-1.4zM316.9 580.4h1.4v1.1h-1.4zM315.7 581.4h1.4v1.1h-1.4zM316.1 585.4h1.4v1.1h-1.4zM317.5 586.4h1.4v1.1h-1.4zM317.5 587.4h1.4v1.1h-1.4zM319.2 593.3h1.4v1.1h-1.4zM318.1 596.3h1.4v1.1h-1.4zM318.1 599.3h1.4v1.1h-1.4zM318 600.3h1.4v1.1h-1.4zM318.4 608.3h1.4v1.1h-1.4zM318.2 626.2h1.4v1.1h-1.4zM242.4 614.3h1.4v1.1h-1.4zM243.2 617.3h1.4v1.1h-1.4zM243.5 623.2h1.4v1.1h-1.4zM243 629.2h1.4v1.1h-1.4zM219.2 610.3h1.4v1.1h-1.4z" fill="#9030ff"/>
<path d="M282.4 578.4h1.4v1.1h-1.4zM282.2 581.4h1.4v1.1h-1.4zM283.8 586.4h1.4v1.1h-1.4zM283.1 593.3h1.4v1.1h-1.4zM318 583.4h1.4v1.1h-1.4zM243.3 599.3h1.4v1.1h-1.4zM241.7 600.3h1.4v1.1h-1.4zM243.7 601.3h1.4v1.1h-1.4zM244.6 602.3h1.4v1.1h-1.4zM243.4 611.3h1.4v1.1h-1.4zM244.5 612.3h1.4v1.1h-1.4z" fill="#c22a6e"/>
<path d="M286.4 586.4h1.4v1.1h-1.4zM285.7 591.4h1.4v1.1h-1.4zM285.4 598.3h1.4v1.1h-1.4zM286.6 606.3h1.4v1.1h-1.4zM243 600.3h1.4v1.1h-1.4zM244 603.3h1.4v1.1h-1.4zM243.3 613.3h1.4v1.1h-1.4zM243.6 614.3h1.4v1.1h-1.4zM242.6 616.3h1.4v1.1h-1.4zM243.2 620.2h1.4v1.1h-1.4zM241.4 628.2h1.4v1.1h-1.4zM241.5 632.2h1.4v1.1h-1.4zM242.8 632.2h1.4v1.1h-1.4z" fill="#e2421c"/>
<path d="M285.4 612.3h1.4v1.1h-1.4z" fill="#ffc21a"/>
</g>
</svg></body></html>
